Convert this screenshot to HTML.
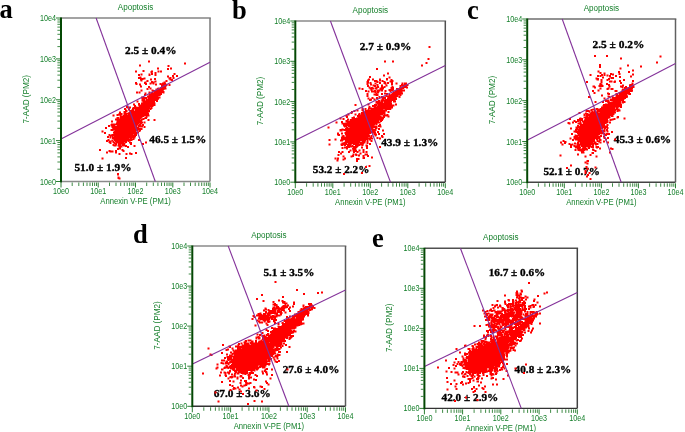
<!DOCTYPE html>
<html><head><meta charset="utf-8"><style>
html,body{margin:0;padding:0;background:#fff;width:685px;height:432px;overflow:hidden}
svg{display:block}
svg{will-change:transform;filter:blur(0.3px)}
.tl{font-family:"Liberation Sans",sans-serif;font-size:9px;fill:#147f2a}
.tt{font-family:"Liberation Sans",sans-serif;font-size:8.5px;fill:#147f2a}
.pc{font-family:"Liberation Serif",serif;font-size:11px;font-weight:bold;fill:#000;stroke:#000;stroke-width:0.35px}
.lt{font-family:"Liberation Serif",serif;font-size:26.5px;font-weight:bold;fill:#000}
</style></head><body>
<svg width="685" height="432" viewBox="0 0 685 432">
<path d="M61 18H210.8" fill="none" stroke="#858585" stroke-width="1.6"/>
<path d="M210 18V181.5" fill="none" stroke="#7a7a7a" stroke-width="1.5"/>
<path d="M61 181.5H210" fill="none" stroke="#8a8a8a" stroke-width="1.4"/>
<text x="125" y="54.1" class="pc" textLength="51.5" lengthAdjust="spacingAndGlyphs">2.5 ± 0.4%</text>
<text x="149.3" y="143.2" class="pc" textLength="57" lengthAdjust="spacingAndGlyphs">46.5 ± 1.5%</text>
<text x="74.4" y="170.7" class="pc" textLength="57.1" lengthAdjust="spacingAndGlyphs">51.0 ± 1.9%</text>
<path fill="#ff0000" d="M118.5 136.5h2v2h-2zM126 120h2v2h-2zM128.5 126.5h2v2h-2zM127.5 126.5h2v2h-2zM119.5 123h2v2h-2zM130 130.5h2v2h-2zM128 124.5h2v2h-2zM128 133.5h2v2h-2zM128.5 130.5h2v2h-2zM130 129h2v2h-2zM136 109.5h2v2h-2zM121.5 133.5h2v2h-2zM124.5 122.5h2v2h-2zM133.5 118.5h2v2h-2zM117.5 122.5h2v2h-2zM126 127.5h2v2h-2zM121 137.5h2v2h-2zM124.5 134.5h2v2h-2zM127 116.5h2v2h-2zM114.5 129.5h2v2h-2zM119.5 121h2v2h-2zM117 121.5h2v2h-2zM123 125.5h2v2h-2zM121 129.5h2v2h-2zM132.5 118.5h2v2h-2zM121.5 137h2v2h-2zM133.5 123.5h2v2h-2zM122.5 128.5h2v2h-2zM126 121.5h2v2h-2zM124.5 137.5h2v2h-2zM124.5 138.5h2v2h-2zM118.5 123.5h2v2h-2zM126 122.5h2v2h-2zM126.5 128.5h2v2h-2zM125.5 129.5h2v2h-2zM127.5 125.5h2v2h-2zM120 139.5h2v2h-2zM123 133.5h2v2h-2zM121 123h2v2h-2zM115.5 126.5h2v2h-2zM126.5 116h2v2h-2zM121 126.5h2v2h-2zM124 120h2v2h-2zM136 129h2v2h-2zM125.5 135h2v2h-2zM125 145h2v2h-2zM130 133h2v2h-2zM131 135h2v2h-2zM134 118h2v2h-2zM121.5 124.5h2v2h-2zM134 130.5h2v2h-2zM124 138h2v2h-2zM118.5 125h2v2h-2zM119.5 122.5h2v2h-2zM130 131.5h2v2h-2zM128.5 123.5h2v2h-2zM131 114.5h2v2h-2zM119.5 128.5h2v2h-2zM122.5 118.5h2v2h-2zM118 130.5h2v2h-2zM114 132h2v2h-2zM124.5 130h2v2h-2zM132.5 136h2v2h-2zM130 127h2v2h-2zM120.5 136h2v2h-2zM130.5 117h2v2h-2zM121.5 138h2v2h-2zM129 124.5h2v2h-2zM122.5 125h2v2h-2zM120 129.5h2v2h-2zM128 112.5h2v2h-2zM123.5 124.5h2v2h-2zM121.5 127.5h2v2h-2zM128 124h2v2h-2zM123.5 122h2v2h-2zM126.5 135.5h2v2h-2zM119.5 135h2v2h-2zM128 125h2v2h-2zM122.5 127.5h2v2h-2zM114.5 144.5h2v2h-2zM130.5 112h2v2h-2zM125 125h2v2h-2zM127 125.5h2v2h-2zM115.5 139h2v2h-2zM125 122h2v2h-2zM122.5 123h2v2h-2zM130.5 126.5h2v2h-2zM116.5 132.5h2v2h-2zM126.5 135h2v2h-2zM130 122.5h2v2h-2zM125 120.5h2v2h-2zM119 127.5h2v2h-2zM124.5 119.5h2v2h-2zM126 127h2v2h-2zM131.5 122h2v2h-2zM125.5 128h2v2h-2zM127.5 129.5h2v2h-2zM124.5 128h2v2h-2zM130 127.5h2v2h-2zM121.5 122.5h2v2h-2zM131.5 120.5h2v2h-2zM125.5 125.5h2v2h-2zM125.5 129h2v2h-2zM129.5 117.5h2v2h-2zM121.5 128h2v2h-2zM122 125.5h2v2h-2zM127 128.5h2v2h-2zM124 125.5h2v2h-2zM124.5 131.5h2v2h-2zM122.5 132.5h2v2h-2zM123 131.5h2v2h-2zM129 114.5h2v2h-2zM134.5 120.5h2v2h-2zM117 122.5h2v2h-2zM132.5 128h2v2h-2zM128.5 123h2v2h-2zM130.5 127h2v2h-2zM125.5 125h2v2h-2zM120.5 119.5h2v2h-2zM123.5 119h2v2h-2zM119.5 135.5h2v2h-2zM115.5 128h2v2h-2zM124 122.5h2v2h-2zM123 130.5h2v2h-2zM125.5 132h2v2h-2zM116.5 131h2v2h-2zM130 132.5h2v2h-2zM123.5 129.5h2v2h-2zM124.5 126.5h2v2h-2zM128 129.5h2v2h-2zM121.5 136.5h2v2h-2zM138 115h2v2h-2zM131 125h2v2h-2zM131 133h2v2h-2zM125 128.5h2v2h-2zM120.5 128h2v2h-2zM127 130h2v2h-2zM120.5 127.5h2v2h-2zM125.5 124.5h2v2h-2zM131 126h2v2h-2zM126.5 129.5h2v2h-2zM125 121h2v2h-2zM131.5 121.5h2v2h-2zM121.5 125.5h2v2h-2zM122 127h2v2h-2zM132 120.5h2v2h-2zM124.5 125.5h2v2h-2zM121.5 129h2v2h-2zM114 137h2v2h-2zM119 126h2v2h-2zM126 124.5h2v2h-2zM127.5 127.5h2v2h-2zM133 117h2v2h-2zM121 118h2v2h-2zM127 131.5h2v2h-2zM131 122h2v2h-2zM112.5 126.5h2v2h-2zM136.5 128.5h2v2h-2zM118.5 130.5h2v2h-2zM118.5 131h2v2h-2zM129.5 128h2v2h-2zM131 118.5h2v2h-2zM128 125.5h2v2h-2zM126 134.5h2v2h-2zM124 126.5h2v2h-2zM120.5 135h2v2h-2zM127.5 122.5h2v2h-2zM114.5 135h2v2h-2zM123.5 126h2v2h-2zM128.5 116h2v2h-2zM118.5 126h2v2h-2zM129 126h2v2h-2zM129.5 125h2v2h-2zM125 132h2v2h-2zM123.5 123h2v2h-2zM127.5 131h2v2h-2zM128 128.5h2v2h-2zM123 136.5h2v2h-2zM135 120h2v2h-2zM132.5 111h2v2h-2zM129.5 126.5h2v2h-2zM131.5 125.5h2v2h-2zM131.5 126h2v2h-2zM117 130.5h2v2h-2zM137.5 117h2v2h-2zM117 117h2v2h-2zM125.5 119h2v2h-2zM118.5 129h2v2h-2zM128 131h2v2h-2zM127 117.5h2v2h-2zM125.5 123.5h2v2h-2zM109.5 140.5h2v2h-2zM128.5 122.5h2v2h-2zM126 125.5h2v2h-2zM113.5 126.5h2v2h-2zM132.5 119.5h2v2h-2zM123.5 132h2v2h-2zM120.5 127h2v2h-2zM121.5 126h2v2h-2zM126.5 128h2v2h-2zM122.5 131.5h2v2h-2zM120 115.5h2v2h-2zM118.5 123h2v2h-2zM128.5 130h2v2h-2zM125 123h2v2h-2zM120.5 121.5h2v2h-2zM121.5 123.5h2v2h-2zM120 132.5h2v2h-2zM135.5 121h2v2h-2zM126.5 137.5h2v2h-2zM132.5 123.5h2v2h-2zM121 124h2v2h-2zM118.5 132h2v2h-2zM122 132h2v2h-2zM125.5 117h2v2h-2zM122.5 132h2v2h-2zM125 140h2v2h-2zM122 139.5h2v2h-2zM128.5 125h2v2h-2zM123 129h2v2h-2zM123 123h2v2h-2zM127 115h2v2h-2zM126.5 121.5h2v2h-2zM117 140.5h2v2h-2zM118 125.5h2v2h-2zM126 128h2v2h-2zM121.5 123h2v2h-2zM119.5 137.5h2v2h-2zM117.5 133.5h2v2h-2zM131 133.5h2v2h-2zM122 130.5h2v2h-2zM125.5 116h2v2h-2zM124 132.5h2v2h-2zM119.5 133.5h2v2h-2zM126.5 129h2v2h-2zM131 130h2v2h-2zM127.5 129h2v2h-2zM117.5 140h2v2h-2zM123.5 111h2v2h-2zM124 129h2v2h-2zM117.5 139h2v2h-2zM115.5 132.5h2v2h-2zM123.5 130h2v2h-2zM126 139h2v2h-2zM118 113.5h2v2h-2zM134 124.5h2v2h-2zM127.5 128h2v2h-2zM135 134h2v2h-2zM116 133.5h2v2h-2zM119 139h2v2h-2zM118.5 135.5h2v2h-2zM120.5 145.5h2v2h-2zM128 129h2v2h-2zM121 136h2v2h-2zM125 126.5h2v2h-2zM118 133h2v2h-2zM128.5 116.5h2v2h-2zM119 132h2v2h-2zM121.5 131h2v2h-2zM134 111.5h2v2h-2zM115.5 130.5h2v2h-2zM125 122.5h2v2h-2zM123.5 115h2v2h-2zM135.5 126h2v2h-2zM121.5 120.5h2v2h-2zM121 135.5h2v2h-2zM123 123.5h2v2h-2zM125.5 131.5h2v2h-2zM121.5 121.5h2v2h-2zM120 126h2v2h-2zM132 108h2v2h-2zM125 135h2v2h-2zM117 134.5h2v2h-2zM122.5 130.5h2v2h-2zM118 131h2v2h-2zM117.5 134.5h2v2h-2zM130 121h2v2h-2zM123.5 127h2v2h-2zM121.5 135.5h2v2h-2zM125.5 112.5h2v2h-2zM124.5 138h2v2h-2zM134 123h2v2h-2zM124 127h2v2h-2zM121 131h2v2h-2zM118.5 132.5h2v2h-2zM127.5 117.5h2v2h-2zM123.5 131.5h2v2h-2zM116 135.5h2v2h-2zM122.5 131h2v2h-2zM125 131.5h2v2h-2zM127 125h2v2h-2zM125.5 119.5h2v2h-2zM123 127.5h2v2h-2zM131 122.5h2v2h-2zM124 130.5h2v2h-2zM113.5 137h2v2h-2zM117.5 140.5h2v2h-2zM124 116h2v2h-2zM117.5 137.5h2v2h-2zM126.5 124h2v2h-2zM128 132h2v2h-2zM124.5 130.5h2v2h-2zM120 135.5h2v2h-2zM131 124.5h2v2h-2zM130 134h2v2h-2zM133.5 111.5h2v2h-2zM127 123.5h2v2h-2zM126 125h2v2h-2zM126.5 122.5h2v2h-2zM115 138h2v2h-2zM123 118h2v2h-2zM126.5 117h2v2h-2zM126.5 133h2v2h-2zM123 131h2v2h-2zM118 142.5h2v2h-2zM126.5 130h2v2h-2zM122.5 129h2v2h-2zM123 125h2v2h-2zM130.5 125h2v2h-2zM130.5 132.5h2v2h-2zM123 129.5h2v2h-2zM133.5 126.5h2v2h-2zM128.5 119h2v2h-2zM125 121.5h2v2h-2zM120 133h2v2h-2zM120 122h2v2h-2zM129.5 126h2v2h-2zM114.5 131.5h2v2h-2zM133.5 113h2v2h-2zM128 120.5h2v2h-2zM122.5 129.5h2v2h-2zM133 121h2v2h-2zM125.5 110h2v2h-2zM118 132.5h2v2h-2zM118.5 137h2v2h-2zM118 127.5h2v2h-2zM134.5 123.5h2v2h-2zM123.5 133h2v2h-2zM128.5 120.5h2v2h-2zM127.5 125h2v2h-2zM119 127h2v2h-2zM114 128.5h2v2h-2zM129 129.5h2v2h-2zM123 139.5h2v2h-2zM129 125h2v2h-2zM117 138.5h2v2h-2zM121 122.5h2v2h-2zM132 128h2v2h-2zM121 128h2v2h-2zM126.5 125.5h2v2h-2zM111.5 134h2v2h-2zM120 121h2v2h-2zM129 131h2v2h-2zM114 139h2v2h-2zM130 126.5h2v2h-2zM121.5 127h2v2h-2zM121 134.5h2v2h-2zM132 114.5h2v2h-2zM121.5 128.5h2v2h-2zM130 124h2v2h-2zM126.5 120h2v2h-2zM130 115h2v2h-2zM130.5 139h2v2h-2zM112.5 141h2v2h-2zM134 119h2v2h-2zM131.5 121h2v2h-2zM120.5 130h2v2h-2zM125.5 122h2v2h-2zM124.5 133h2v2h-2zM135 112h2v2h-2zM122 136.5h2v2h-2zM126 136h2v2h-2zM127 115.5h2v2h-2zM125 127.5h2v2h-2zM126 133h2v2h-2zM130 118h2v2h-2zM122 128h2v2h-2zM122 126h2v2h-2zM124 127.5h2v2h-2zM128.5 124h2v2h-2zM117 128h2v2h-2zM134.5 116h2v2h-2zM123 140h2v2h-2zM121.5 129.5h2v2h-2zM123 124h2v2h-2zM119 124h2v2h-2zM119.5 132h2v2h-2zM123 128.5h2v2h-2zM127 130.5h2v2h-2zM128.5 135.5h2v2h-2zM127 126.5h2v2h-2zM114.5 126h2v2h-2zM133 123.5h2v2h-2zM123.5 125.5h2v2h-2zM117.5 136.5h2v2h-2zM121.5 130h2v2h-2zM131 124h2v2h-2zM135 119.5h2v2h-2zM123.5 116h2v2h-2zM116.5 139.5h2v2h-2zM125.5 121.5h2v2h-2zM128.5 129h2v2h-2zM129.5 124h2v2h-2zM137.5 119.5h2v2h-2zM124.5 118h2v2h-2zM139.5 120h2v2h-2zM119 120h2v2h-2zM132.5 129.5h2v2h-2zM130.5 123.5h2v2h-2zM129 127h2v2h-2zM120.5 137h2v2h-2zM118.5 135h2v2h-2zM126 131.5h2v2h-2zM127.5 124h2v2h-2zM118 129.5h2v2h-2zM120.5 118.5h2v2h-2zM113 131.5h2v2h-2zM125 131h2v2h-2zM119 140.5h2v2h-2zM130 125h2v2h-2zM127 122.5h2v2h-2zM122.5 133.5h2v2h-2zM120 131h2v2h-2zM131 123h2v2h-2zM111.5 129h2v2h-2zM122 144h2v2h-2zM129 141.5h2v2h-2zM129 118h2v2h-2zM114 136h2v2h-2zM125.5 120h2v2h-2zM125.5 117.5h2v2h-2zM122.5 130h2v2h-2zM120 123.5h2v2h-2zM129.5 119.5h2v2h-2zM124 129.5h2v2h-2zM120 127.5h2v2h-2zM128 128h2v2h-2zM117 127h2v2h-2zM120.5 134h2v2h-2zM124 126h2v2h-2zM125 141h2v2h-2zM134.5 111.5h2v2h-2zM127.5 135.5h2v2h-2zM122.5 141.5h2v2h-2zM121.5 125h2v2h-2zM135.5 118.5h2v2h-2zM132 121.5h2v2h-2zM129 122h2v2h-2zM124 119.5h2v2h-2zM117.5 133h2v2h-2zM123 132h2v2h-2zM121 123.5h2v2h-2zM120.5 136.5h2v2h-2zM133.5 127.5h2v2h-2zM135.5 114h2v2h-2zM123.5 128.5h2v2h-2zM131.5 123.5h2v2h-2zM127.5 132h2v2h-2zM125 138h2v2h-2zM122.5 135h2v2h-2zM131.5 124.5h2v2h-2zM117.5 135.5h2v2h-2zM138 120.5h2v2h-2zM127.5 132.5h2v2h-2zM130 123.5h2v2h-2zM120 127h2v2h-2zM128 133h2v2h-2zM126.5 131h2v2h-2zM116 137h2v2h-2zM122.5 134h2v2h-2zM127.5 137h2v2h-2zM126 118h2v2h-2zM123 127h2v2h-2zM140 122h2v2h-2zM128.5 132.5h2v2h-2zM123 144h2v2h-2zM131.5 127.5h2v2h-2zM130 120.5h2v2h-2zM121 128.5h2v2h-2zM118 137.5h2v2h-2zM135 115h2v2h-2zM119 139.5h2v2h-2zM122.5 136h2v2h-2zM121 120h2v2h-2zM132 119h2v2h-2zM124.5 129.5h2v2h-2zM127 132.5h2v2h-2zM130 125.5h2v2h-2zM120 122.5h2v2h-2zM114 123.5h2v2h-2zM129.5 127h2v2h-2zM125 123.5h2v2h-2zM121.5 132.5h2v2h-2zM131.5 130.5h2v2h-2zM116.5 139h2v2h-2zM123.5 113.5h2v2h-2zM116.5 138.5h2v2h-2zM131.5 113h2v2h-2zM125.5 130.5h2v2h-2zM119.5 127.5h2v2h-2zM116 141.5h2v2h-2zM125 114.5h2v2h-2zM123.5 136.5h2v2h-2zM131.5 123h2v2h-2zM119.5 126h2v2h-2zM128.5 133.5h2v2h-2zM132.5 114h2v2h-2zM132.5 132h2v2h-2zM121 122h2v2h-2zM127 129h2v2h-2zM134.5 128h2v2h-2zM117 136h2v2h-2zM124.5 121h2v2h-2zM138.5 120h2v2h-2zM128 118.5h2v2h-2zM122 118.5h2v2h-2zM129.5 114h2v2h-2zM126.5 124.5h2v2h-2zM124 134h2v2h-2zM131.5 117.5h2v2h-2zM120.5 130.5h2v2h-2zM122 124.5h2v2h-2zM126 126h2v2h-2zM127 136.5h2v2h-2zM117 128.5h2v2h-2zM129 125.5h2v2h-2zM115 136h2v2h-2zM122.5 118h2v2h-2zM129.5 131.5h2v2h-2zM122.5 117h2v2h-2zM124 133h2v2h-2zM130.5 123h2v2h-2zM128 123h2v2h-2zM116.5 129.5h2v2h-2zM120.5 133.5h2v2h-2zM112 136.5h2v2h-2zM129 120h2v2h-2zM123.5 129h2v2h-2zM120 126.5h2v2h-2zM136.5 100.5h2v2h-2zM120 128.5h2v2h-2zM123 134.5h2v2h-2zM127.5 119.5h2v2h-2zM112 123.5h2v2h-2zM130 113.5h2v2h-2zM127 120h2v2h-2zM116.5 133h2v2h-2zM128.5 115h2v2h-2zM122 116.5h2v2h-2zM119 130h2v2h-2zM124.5 127.5h2v2h-2zM128 126.5h2v2h-2zM119.5 130.5h2v2h-2zM119 129.5h2v2h-2zM127.5 122h2v2h-2zM130 119.5h2v2h-2zM121.5 130.5h2v2h-2zM126 118.5h2v2h-2zM115 135.5h2v2h-2zM120 130.5h2v2h-2zM131.5 124h2v2h-2zM131.5 127h2v2h-2zM123.5 128h2v2h-2zM120 116h2v2h-2zM121 138.5h2v2h-2zM122.5 135.5h2v2h-2zM134.5 131.5h2v2h-2zM124 124h2v2h-2zM131 131.5h2v2h-2zM125.5 126h2v2h-2zM136 123.5h2v2h-2zM126.5 115h2v2h-2zM125.5 118h2v2h-2zM130.5 121h2v2h-2zM116.5 128h2v2h-2zM126 135h2v2h-2zM127 135h2v2h-2zM118 136.5h2v2h-2zM116 130.5h2v2h-2zM113.5 144.5h2v2h-2zM124.5 125h2v2h-2zM129 121.5h2v2h-2zM117.5 134h2v2h-2zM130.5 130h2v2h-2zM127 124.5h2v2h-2zM124.5 134h2v2h-2zM122 122.5h2v2h-2zM124 131.5h2v2h-2zM117 124h2v2h-2zM119 142.5h2v2h-2zM115 140.5h2v2h-2zM128.5 127h2v2h-2zM124 125h2v2h-2zM120.5 131.5h2v2h-2zM119.5 134.5h2v2h-2zM133.5 114.5h2v2h-2zM109.5 142h2v2h-2zM130.5 122h2v2h-2zM122 125h2v2h-2zM125 126h2v2h-2zM132.5 138h2v2h-2zM124.5 124.5h2v2h-2zM121 136.5h2v2h-2zM131 119.5h2v2h-2zM131 130.5h2v2h-2zM122 129.5h2v2h-2zM121 130.5h2v2h-2zM123 124.5h2v2h-2zM127.5 135h2v2h-2zM126.5 134h2v2h-2zM131 123.5h2v2h-2zM124.5 116.5h2v2h-2zM129 121h2v2h-2zM122 133.5h2v2h-2zM130.5 131h2v2h-2zM136 117.5h2v2h-2zM135 131.5h2v2h-2zM125 129h2v2h-2zM116.5 124.5h2v2h-2zM125.5 126.5h2v2h-2zM131 116h2v2h-2zM127.5 123h2v2h-2zM126 119.5h2v2h-2zM128.5 127.5h2v2h-2zM115 129h2v2h-2zM133 130.5h2v2h-2zM118.5 129.5h2v2h-2zM128.5 128h2v2h-2zM124.5 132h2v2h-2zM116 140h2v2h-2zM119.5 138h2v2h-2zM131.5 129.5h2v2h-2zM124 123h2v2h-2zM126.5 106.5h2v2h-2zM123.5 130.5h2v2h-2zM120 137h2v2h-2zM119.5 140h2v2h-2zM129.5 123.5h2v2h-2zM113.5 126h2v2h-2zM126.5 116.5h2v2h-2zM124.5 133.5h2v2h-2zM119.5 132.5h2v2h-2zM127 129.5h2v2h-2zM129 135.5h2v2h-2zM127 127.5h2v2h-2zM134 119.5h2v2h-2zM129.5 120h2v2h-2zM133 115h2v2h-2zM120 135h2v2h-2zM126.5 118h2v2h-2zM130 137h2v2h-2zM129 120.5h2v2h-2zM119.5 116.5h2v2h-2zM130.5 124h2v2h-2zM128 139h2v2h-2zM140.5 114h2v2h-2zM120.5 132.5h2v2h-2zM116 136.5h2v2h-2zM118.5 122h2v2h-2zM120 125h2v2h-2zM122.5 126.5h2v2h-2zM126 123h2v2h-2zM123 116h2v2h-2zM120.5 113h2v2h-2zM122 135.5h2v2h-2zM129.5 135h2v2h-2zM119.5 117.5h2v2h-2zM132 119.5h2v2h-2zM120 142.5h2v2h-2zM124 121h2v2h-2zM129.5 116h2v2h-2zM134.5 122.5h2v2h-2zM132.5 120h2v2h-2zM120 119h2v2h-2zM116 123h2v2h-2zM133.5 129.5h2v2h-2zM132 126.5h2v2h-2zM116 134h2v2h-2zM132.5 122.5h2v2h-2zM122 123h2v2h-2zM120.5 125h2v2h-2zM123.5 124h2v2h-2zM118 134h2v2h-2zM116.5 140h2v2h-2zM136.5 123h2v2h-2zM128 117.5h2v2h-2zM113.5 133h2v2h-2zM125 127h2v2h-2zM127 132h2v2h-2zM125 135.5h2v2h-2zM127.5 137.5h2v2h-2zM122 120.5h2v2h-2zM124.5 120.5h2v2h-2zM126 138.5h2v2h-2zM111.5 126h2v2h-2zM132.5 127.5h2v2h-2zM120.5 119h2v2h-2zM127.5 118h2v2h-2zM113.5 135h2v2h-2zM122.5 119h2v2h-2zM119.5 138.5h2v2h-2zM132 122h2v2h-2zM128.5 139h2v2h-2zM123 130h2v2h-2zM124 108h2v2h-2zM121.5 119h2v2h-2zM119.5 127h2v2h-2zM117.5 121.5h2v2h-2zM119 133.5h2v2h-2zM126.5 126.5h2v2h-2zM129 124h2v2h-2zM127.5 130.5h2v2h-2zM119 122h2v2h-2zM127.5 131.5h2v2h-2zM130.5 118.5h2v2h-2zM124.5 126h2v2h-2zM114 128h2v2h-2zM122 135h2v2h-2zM121 132h2v2h-2zM129.5 121h2v2h-2zM120 134h2v2h-2zM129.5 122.5h2v2h-2zM126 128.5h2v2h-2zM119 138.5h2v2h-2zM130.5 127.5h2v2h-2zM116 122.5h2v2h-2zM128.5 128.5h2v2h-2zM133.5 121.5h2v2h-2zM119.5 142h2v2h-2zM138.5 128.5h2v2h-2zM129 116.5h2v2h-2zM126.5 122h2v2h-2zM129.5 132.5h2v2h-2zM121 134h2v2h-2zM117.5 127.5h2v2h-2zM129 126.5h2v2h-2zM128 114h2v2h-2zM123.5 125h2v2h-2zM125.5 120.5h2v2h-2zM129.5 122h2v2h-2zM126.5 119.5h2v2h-2zM131 116.5h2v2h-2zM123.5 136h2v2h-2zM131 134h2v2h-2zM126 126.5h2v2h-2zM122 134.5h2v2h-2zM122.5 133h2v2h-2zM119 130.5h2v2h-2zM124.5 123h2v2h-2zM123.5 123.5h2v2h-2zM142.5 107h2v2h-2zM120.5 141h2v2h-2zM131 117h2v2h-2zM123.5 118.5h2v2h-2zM135.5 122.5h2v2h-2zM126 115h2v2h-2zM128.5 126h2v2h-2zM121 132.5h2v2h-2zM121.5 142h2v2h-2zM115.5 135.5h2v2h-2zM115 130.5h2v2h-2zM127 118h2v2h-2zM129.5 115.5h2v2h-2zM124.5 119h2v2h-2zM124 132h2v2h-2zM132 114h2v2h-2zM127 131h2v2h-2zM117.5 125.5h2v2h-2zM121.5 126.5h2v2h-2zM112 128.5h2v2h-2zM130 118.5h2v2h-2zM128 123.5h2v2h-2zM127 121h2v2h-2zM125.5 122.5h2v2h-2zM133 124h2v2h-2zM119.5 129h2v2h-2zM116.5 138h2v2h-2zM129.5 118h2v2h-2zM128 130h2v2h-2zM125 109.5h2v2h-2zM126 131h2v2h-2zM123 136h2v2h-2zM122 134h2v2h-2zM118 135.5h2v2h-2zM121 125.5h2v2h-2zM118.5 141.5h2v2h-2zM120 121.5h2v2h-2zM122.5 126h2v2h-2zM122.5 116h2v2h-2zM118 124h2v2h-2zM117.5 132.5h2v2h-2zM135 117.5h2v2h-2zM125.5 127.5h2v2h-2zM123 122h2v2h-2zM122 138.5h2v2h-2zM133 114.5h2v2h-2zM115 140h2v2h-2zM130.5 118h2v2h-2zM115.5 139.5h2v2h-2zM132 120h2v2h-2zM129.5 124.5h2v2h-2zM121 137h2v2h-2zM120 118.5h2v2h-2zM123.5 121h2v2h-2zM122 131.5h2v2h-2zM127.5 113h2v2h-2zM125.5 127h2v2h-2zM124.5 131h2v2h-2zM137 119.5h2v2h-2zM125 139.5h2v2h-2zM129.5 129.5h2v2h-2zM129 123h2v2h-2zM130 124.5h2v2h-2zM118 141.5h2v2h-2zM118 142h2v2h-2zM125 129.5h2v2h-2zM120.5 129h2v2h-2zM116 128h2v2h-2zM125 130h2v2h-2zM124 135.5h2v2h-2zM121.5 141.5h2v2h-2zM131.5 118h2v2h-2zM120.5 126.5h2v2h-2zM125 128h2v2h-2zM126 133.5h2v2h-2zM122 137h2v2h-2zM127 119.5h2v2h-2zM132 118.5h2v2h-2zM123.5 126.5h2v2h-2zM133.5 134.5h2v2h-2zM119.5 141h2v2h-2zM122.5 138h2v2h-2zM126.5 131.5h2v2h-2zM123.5 120.5h2v2h-2zM121 124.5h2v2h-2zM123 135.5h2v2h-2zM119 126.5h2v2h-2zM112.5 127.5h2v2h-2zM140.5 128h2v2h-2zM127 123h2v2h-2zM113.5 142h2v2h-2zM124.5 117.5h2v2h-2zM141.5 124h2v2h-2zM115 151.5h2v2h-2zM107 136h2v2h-2zM116 127.5h2v2h-2zM130.5 153h2v2h-2zM111.5 139.5h2v2h-2zM145 141.5h2v2h-2zM119 119h2v2h-2zM119.5 114h2v2h-2zM124 118h2v2h-2zM115 133.5h2v2h-2zM119 111.5h2v2h-2zM105 127h2v2h-2zM127 146h2v2h-2zM123.5 117.5h2v2h-2zM143 110.5h2v2h-2zM115 150h2v2h-2zM117 148h2v2h-2zM115 118.5h2v2h-2zM118.5 131.5h2v2h-2zM132.5 131.5h2v2h-2zM118 119.5h2v2h-2zM120.5 133h2v2h-2zM115 143.5h2v2h-2zM111 134.5h2v2h-2zM114 131h2v2h-2zM121 129h2v2h-2zM122.5 150h2v2h-2zM108.5 134h2v2h-2zM116 132.5h2v2h-2zM115 131h2v2h-2zM140.5 116h2v2h-2zM139 129h2v2h-2zM131.5 109h2v2h-2zM104 132h2v2h-2zM109.5 135h2v2h-2zM118.5 145h2v2h-2zM123 144.5h2v2h-2zM109.5 136.5h2v2h-2zM135 113h2v2h-2zM110.5 124h2v2h-2zM123 126.5h2v2h-2zM122.5 123.5h2v2h-2zM137.5 119h2v2h-2zM112.5 127h2v2h-2zM118.5 153h2v2h-2zM111.5 150.5h2v2h-2zM135 152h2v2h-2zM129 152.5h2v2h-2zM120 119.5h2v2h-2zM126 106h2v2h-2zM129.5 114.5h2v2h-2zM122.5 115h2v2h-2zM131 120.5h2v2h-2zM121.5 149h2v2h-2zM99 149h2v2h-2zM133.5 136.5h2v2h-2zM118 127h2v2h-2zM116.5 117h2v2h-2zM127.5 140h2v2h-2zM119 131.5h2v2h-2zM121 126h2v2h-2zM123 117.5h2v2h-2zM111 120.5h2v2h-2zM132 136.5h2v2h-2zM110.5 124.5h2v2h-2zM126.5 120.5h2v2h-2zM129.5 131h2v2h-2zM134.5 106.5h2v2h-2zM119 147.5h2v2h-2zM124.5 115h2v2h-2zM126.5 126h2v2h-2zM143.5 126h2v2h-2zM112.5 144h2v2h-2zM138.5 130h2v2h-2zM113.5 138h2v2h-2zM125.5 153h2v2h-2zM133.5 122.5h2v2h-2zM109.5 150.5h2v2h-2zM128 136.5h2v2h-2zM106 151.5h2v2h-2zM129 106.5h2v2h-2zM141 118.5h2v2h-2zM128 126h2v2h-2zM134 135h2v2h-2zM116.5 114h2v2h-2zM113 125.5h2v2h-2zM122 141.5h2v2h-2zM128.5 135h2v2h-2zM122 143h2v2h-2zM118.5 147h2v2h-2zM107.5 139h2v2h-2zM108.5 150h2v2h-2zM121.5 139h2v2h-2zM129 129h2v2h-2zM138 139h2v2h-2zM133.5 130.5h2v2h-2zM130 136.5h2v2h-2zM120.5 116h2v2h-2zM116.5 120.5h2v2h-2zM129.5 133.5h2v2h-2zM118 133.5h2v2h-2zM119 118.5h2v2h-2zM124 119h2v2h-2zM126 138h2v2h-2zM125 157h2v2h-2zM134.5 125h2v2h-2zM108.5 141h2v2h-2zM139.5 121h2v2h-2zM119 120.5h2v2h-2zM112.5 125.5h2v2h-2zM134 130h2v2h-2zM101.5 157.5h2v2h-2zM125 117h2v2h-2zM101.5 130.5h2v2h-2zM153.5 119h2v2h-2zM139 125.5h2v2h-2zM121.5 135h2v2h-2zM116 130h2v2h-2zM119 140h2v2h-2zM137 131.5h2v2h-2zM130 142h2v2h-2zM129 112.5h2v2h-2zM112 137h2v2h-2zM124 111.5h2v2h-2zM130 143h2v2h-2zM111 123.5h2v2h-2zM130.5 115h2v2h-2zM125.5 121h2v2h-2zM123.5 111.5h2v2h-2zM128 108.5h2v2h-2zM115 143h2v2h-2zM133.5 145h2v2h-2zM142 143h2v2h-2zM118.5 136h2v2h-2zM117.5 131h2v2h-2zM114.5 132.5h2v2h-2zM133 121.5h2v2h-2zM119.5 143.5h2v2h-2zM112.5 114.5h2v2h-2zM132.5 120.5h2v2h-2zM131.5 130h2v2h-2zM136.5 120h2v2h-2zM108 125h2v2h-2zM136 127h2v2h-2zM106 140h2v2h-2zM117.5 144.5h2v2h-2zM110.5 129h2v2h-2zM123.5 142.5h2v2h-2zM150.5 104.5h2v2h-2zM141 125.5h2v2h-2zM141 113.5h2v2h-2zM140.5 114.5h2v2h-2zM161.5 84h2v2h-2zM135.5 111.5h2v2h-2zM143 111.5h2v2h-2zM132.5 110.5h2v2h-2zM132 109h2v2h-2zM134 118.5h2v2h-2zM140.5 113h2v2h-2zM143.5 107.5h2v2h-2zM129 118.5h2v2h-2zM136.5 121.5h2v2h-2zM147.5 114.5h2v2h-2zM142 113.5h2v2h-2zM124 121.5h2v2h-2zM130.5 124.5h2v2h-2zM142 96.5h2v2h-2zM156.5 95h2v2h-2zM125.5 128.5h2v2h-2zM147 113h2v2h-2zM132 123.5h2v2h-2zM138 116.5h2v2h-2zM143 114.5h2v2h-2zM159.5 90h2v2h-2zM148.5 105h2v2h-2zM139 113h2v2h-2zM129 123.5h2v2h-2zM129.5 125.5h2v2h-2zM137.5 114.5h2v2h-2zM136.5 112h2v2h-2zM136 111h2v2h-2zM132.5 122h2v2h-2zM136.5 117.5h2v2h-2zM160 87.5h2v2h-2zM155.5 90h2v2h-2zM126 122h2v2h-2zM141 114h2v2h-2zM138 109h2v2h-2zM135.5 109h2v2h-2zM147.5 103.5h2v2h-2zM121 121h2v2h-2zM145.5 110h2v2h-2zM123 120.5h2v2h-2zM157 91.5h2v2h-2zM163 87.5h2v2h-2zM146 99.5h2v2h-2zM141 103h2v2h-2zM157 93.5h2v2h-2zM152.5 90h2v2h-2zM131.5 117h2v2h-2zM135.5 106.5h2v2h-2zM144.5 110.5h2v2h-2zM136 115.5h2v2h-2zM159 93.5h2v2h-2zM130.5 115.5h2v2h-2zM131 126.5h2v2h-2zM155 97h2v2h-2zM133.5 125.5h2v2h-2zM143.5 106h2v2h-2zM136.5 119.5h2v2h-2zM155.5 91h2v2h-2zM153.5 102.5h2v2h-2zM141 105.5h2v2h-2zM129.5 128.5h2v2h-2zM141.5 109.5h2v2h-2zM134 122.5h2v2h-2zM134.5 126h2v2h-2zM143 102h2v2h-2zM128.5 117.5h2v2h-2zM135.5 115.5h2v2h-2zM137.5 107.5h2v2h-2zM133 118h2v2h-2zM144.5 105h2v2h-2zM164.5 83.5h2v2h-2zM136 121h2v2h-2zM150.5 100h2v2h-2zM126 119h2v2h-2zM156.5 98h2v2h-2zM139 110.5h2v2h-2zM137.5 110.5h2v2h-2zM139 108.5h2v2h-2zM141 111h2v2h-2zM154.5 98.5h2v2h-2zM127.5 116h2v2h-2zM146 100h2v2h-2zM140 113h2v2h-2zM151 102.5h2v2h-2zM149.5 100h2v2h-2zM147 99.5h2v2h-2zM152 100.5h2v2h-2zM134.5 114.5h2v2h-2zM137.5 120h2v2h-2zM142.5 118h2v2h-2zM148 105h2v2h-2zM135.5 121.5h2v2h-2zM139 115h2v2h-2zM127 121.5h2v2h-2zM158 91h2v2h-2zM142 107.5h2v2h-2zM148.5 103.5h2v2h-2zM136 123h2v2h-2zM141 121.5h2v2h-2zM141 114.5h2v2h-2zM143.5 108h2v2h-2zM128 122.5h2v2h-2zM129 130.5h2v2h-2zM145 101.5h2v2h-2zM148.5 103h2v2h-2zM130 110.5h2v2h-2zM145 104.5h2v2h-2zM142.5 100h2v2h-2zM154 98h2v2h-2zM144 107h2v2h-2zM131.5 126.5h2v2h-2zM161 86h2v2h-2zM153 94.5h2v2h-2zM158 94h2v2h-2zM141 105h2v2h-2zM156.5 90.5h2v2h-2zM137.5 113.5h2v2h-2zM139.5 114.5h2v2h-2zM160.5 87h2v2h-2zM133 115.5h2v2h-2zM154.5 95h2v2h-2zM137 119h2v2h-2zM158 93.5h2v2h-2zM137 127h2v2h-2zM135.5 108.5h2v2h-2zM142 108.5h2v2h-2zM126 123.5h2v2h-2zM133.5 115.5h2v2h-2zM154 94.5h2v2h-2zM133.5 124.5h2v2h-2zM162 91h2v2h-2zM146.5 99h2v2h-2zM150 94.5h2v2h-2zM147 103h2v2h-2zM121.5 120h2v2h-2zM144 101.5h2v2h-2zM151 97h2v2h-2zM154 95.5h2v2h-2zM145.5 99h2v2h-2zM132.5 117h2v2h-2zM134 128.5h2v2h-2zM152 95.5h2v2h-2zM146.5 111h2v2h-2zM141 96.5h2v2h-2zM153 97.5h2v2h-2zM161.5 85h2v2h-2zM144.5 100.5h2v2h-2zM150 102.5h2v2h-2zM138 114h2v2h-2zM156.5 88.5h2v2h-2zM131 121h2v2h-2zM127 128h2v2h-2zM150 96.5h2v2h-2zM161.5 88.5h2v2h-2zM157 90.5h2v2h-2zM131 125.5h2v2h-2zM146.5 105.5h2v2h-2zM151.5 97h2v2h-2zM152 98.5h2v2h-2zM127.5 120h2v2h-2zM155 92.5h2v2h-2zM128.5 118.5h2v2h-2zM151.5 92.5h2v2h-2zM157 97.5h2v2h-2zM149 94.5h2v2h-2zM136.5 115h2v2h-2zM143 104.5h2v2h-2zM150.5 95.5h2v2h-2zM156 95h2v2h-2zM148.5 99.5h2v2h-2zM138.5 107h2v2h-2zM134.5 110.5h2v2h-2zM149 96.5h2v2h-2zM143.5 121.5h2v2h-2zM157 88h2v2h-2zM141 112h2v2h-2zM154 92h2v2h-2zM153.5 91h2v2h-2zM146 105h2v2h-2zM136.5 111.5h2v2h-2zM134.5 127.5h2v2h-2zM135 122h2v2h-2zM141 107.5h2v2h-2zM143.5 107h2v2h-2zM150.5 106h2v2h-2zM122.5 120.5h2v2h-2zM149 105h2v2h-2zM133.5 119.5h2v2h-2zM137 118h2v2h-2zM148 110h2v2h-2zM139.5 104.5h2v2h-2zM150 103h2v2h-2zM129 127.5h2v2h-2zM133 119h2v2h-2zM132.5 125h2v2h-2zM138.5 109h2v2h-2zM138.5 111h2v2h-2zM149 100.5h2v2h-2zM161.5 87h2v2h-2zM163.5 82.5h2v2h-2zM137 115.5h2v2h-2zM142.5 112h2v2h-2zM132 115.5h2v2h-2zM151 98h2v2h-2zM153.5 96.5h2v2h-2zM151 95h2v2h-2zM147 103.5h2v2h-2zM144.5 109h2v2h-2zM147.5 99.5h2v2h-2zM150.5 93.5h2v2h-2zM137.5 110h2v2h-2zM143.5 105.5h2v2h-2zM146 103.5h2v2h-2zM137 112.5h2v2h-2zM138 111h2v2h-2zM123 121.5h2v2h-2zM144 106h2v2h-2zM145 101h2v2h-2zM135.5 123.5h2v2h-2zM147.5 106h2v2h-2zM133.5 122h2v2h-2zM132.5 107.5h2v2h-2zM137 117.5h2v2h-2zM132.5 107h2v2h-2zM133 125h2v2h-2zM139 106h2v2h-2zM155.5 93h2v2h-2zM135 125.5h2v2h-2zM146.5 101.5h2v2h-2zM133 111h2v2h-2zM137.5 115.5h2v2h-2zM133.5 125h2v2h-2zM131 127.5h2v2h-2zM142 110h2v2h-2zM144.5 104.5h2v2h-2zM145.5 108h2v2h-2zM145.5 112.5h2v2h-2zM144.5 106.5h2v2h-2zM125 120h2v2h-2zM145.5 100.5h2v2h-2zM158.5 96.5h2v2h-2zM137.5 121h2v2h-2zM141.5 114h2v2h-2zM150 99h2v2h-2zM147 95.5h2v2h-2zM142 102.5h2v2h-2zM138.5 106h2v2h-2zM147.5 110.5h2v2h-2zM161 85h2v2h-2zM156.5 92.5h2v2h-2zM120.5 124h2v2h-2zM132.5 128.5h2v2h-2zM135.5 117h2v2h-2zM139.5 110.5h2v2h-2zM146.5 100h2v2h-2zM149 98.5h2v2h-2zM157 89.5h2v2h-2zM133.5 116.5h2v2h-2zM137.5 111h2v2h-2zM161 91h2v2h-2zM149.5 103h2v2h-2zM133 114h2v2h-2zM138 114.5h2v2h-2zM124 123.5h2v2h-2zM138.5 117.5h2v2h-2zM137.5 122.5h2v2h-2zM158 89h2v2h-2zM150 105.5h2v2h-2zM140 112h2v2h-2zM138 125h2v2h-2zM164 84h2v2h-2zM126.5 123h2v2h-2zM159 89h2v2h-2zM136.5 113h2v2h-2zM151 92h2v2h-2zM131.5 134h2v2h-2zM160 87h2v2h-2zM154.5 91.5h2v2h-2zM141 107h2v2h-2zM128 113.5h2v2h-2zM140.5 105h2v2h-2zM143.5 112h2v2h-2zM145 117h2v2h-2zM132 111.5h2v2h-2zM159.5 92.5h2v2h-2zM131.5 118.5h2v2h-2zM138 103h2v2h-2zM149 94h2v2h-2zM133 120h2v2h-2zM137 115h2v2h-2zM131.5 116.5h2v2h-2zM157 93h2v2h-2zM155 92h2v2h-2zM154.5 99h2v2h-2zM156 89h2v2h-2zM158 90h2v2h-2zM134 107h2v2h-2zM136.5 109h2v2h-2zM144 109h2v2h-2zM143.5 109h2v2h-2zM139 123.5h2v2h-2zM128.5 131.5h2v2h-2zM137.5 116.5h2v2h-2zM140.5 112h2v2h-2zM143 108.5h2v2h-2zM135.5 115h2v2h-2zM132.5 126h2v2h-2zM135.5 112h2v2h-2zM137 116.5h2v2h-2zM163 86h2v2h-2zM150 104h2v2h-2zM152 95h2v2h-2zM163.5 87h2v2h-2zM147 100h2v2h-2zM141.5 107h2v2h-2zM147 98.5h2v2h-2zM135 123.5h2v2h-2zM117 118.5h2v2h-2zM135 114h2v2h-2zM161.5 86.5h2v2h-2zM144.5 106h2v2h-2zM150 104.5h2v2h-2zM128.5 113h2v2h-2zM143.5 110.5h2v2h-2zM145 97h2v2h-2zM145 107.5h2v2h-2zM158.5 94h2v2h-2zM159 91h2v2h-2zM134.5 118.5h2v2h-2zM129.5 110h2v2h-2zM139 112h2v2h-2zM122.5 122h2v2h-2zM160.5 89h2v2h-2zM131 121.5h2v2h-2zM157.5 87.5h2v2h-2zM128.5 125.5h2v2h-2zM138 109.5h2v2h-2zM136.5 118.5h2v2h-2zM142 124h2v2h-2zM142.5 101.5h2v2h-2zM120.5 122.5h2v2h-2zM131 115.5h2v2h-2zM155.5 91.5h2v2h-2zM163 84h2v2h-2zM134 133.5h2v2h-2zM139.5 111.5h2v2h-2zM130.5 133.5h2v2h-2zM123 118.5h2v2h-2zM156 100h2v2h-2zM153 95.5h2v2h-2zM135.5 125h2v2h-2zM138.5 105h2v2h-2zM151.5 105h2v2h-2zM134 105h2v2h-2zM136 122h2v2h-2zM154 90.5h2v2h-2zM136.5 114.5h2v2h-2zM137.5 118h2v2h-2zM153 93h2v2h-2zM135.5 123h2v2h-2zM150.5 99.5h2v2h-2zM129 115.5h2v2h-2zM145.5 107h2v2h-2zM150 93.5h2v2h-2zM134 125h2v2h-2zM138.5 112.5h2v2h-2zM135 126h2v2h-2zM144.5 108.5h2v2h-2zM149.5 97h2v2h-2zM118.5 113.5h2v2h-2zM136.5 110h2v2h-2zM135 116.5h2v2h-2zM144 112h2v2h-2zM163.5 86h2v2h-2zM146 99h2v2h-2zM131 110h2v2h-2zM155.5 95.5h2v2h-2zM161 90h2v2h-2zM134 113h2v2h-2zM142.5 101h2v2h-2zM133.5 121h2v2h-2zM158 91.5h2v2h-2zM140.5 115h2v2h-2zM154 91h2v2h-2zM158 88.5h2v2h-2zM129 119.5h2v2h-2zM152.5 102h2v2h-2zM153.5 99h2v2h-2zM155.5 95h2v2h-2zM151 96h2v2h-2zM148.5 104.5h2v2h-2zM157.5 89h2v2h-2zM129.5 117h2v2h-2zM140.5 111h2v2h-2zM135 112.5h2v2h-2zM125 124h2v2h-2zM140 106h2v2h-2zM125.5 116.5h2v2h-2zM153.5 96h2v2h-2zM134.5 107h2v2h-2zM136 120h2v2h-2zM152 97h2v2h-2zM136 117h2v2h-2zM135 126.5h2v2h-2zM155 99h2v2h-2zM133.5 113.5h2v2h-2zM134 126h2v2h-2zM130.5 125.5h2v2h-2zM148 107.5h2v2h-2zM154.5 90h2v2h-2zM155.5 90.5h2v2h-2zM146 105.5h2v2h-2zM139.5 117h2v2h-2zM164 85.5h2v2h-2zM134.5 112h2v2h-2zM154.5 93.5h2v2h-2zM138 116h2v2h-2zM134 107.5h2v2h-2zM133.5 115h2v2h-2zM160 88h2v2h-2zM127.5 121h2v2h-2zM126.5 130.5h2v2h-2zM141.5 108.5h2v2h-2zM151 100h2v2h-2zM134 117h2v2h-2zM131 128h2v2h-2zM138.5 115.5h2v2h-2zM152 94.5h2v2h-2zM150.5 99h2v2h-2zM130 126h2v2h-2zM162.5 91.5h2v2h-2zM135 132.5h2v2h-2zM139 104.5h2v2h-2zM128.5 122h2v2h-2zM126.5 121h2v2h-2zM138 121h2v2h-2zM133 125.5h2v2h-2zM158 92h2v2h-2zM144 113.5h2v2h-2zM149.5 100.5h2v2h-2zM139.5 115h2v2h-2zM124.5 123.5h2v2h-2zM138.5 120.5h2v2h-2zM130.5 129h2v2h-2zM157 90h2v2h-2zM158.5 89h2v2h-2zM143.5 103.5h2v2h-2zM136.5 116h2v2h-2zM153 95h2v2h-2zM133 127h2v2h-2zM157.5 91h2v2h-2zM153.5 104h2v2h-2zM143.5 105h2v2h-2zM146.5 114h2v2h-2zM147.5 100.5h2v2h-2zM136 119.5h2v2h-2zM151.5 89.5h2v2h-2zM162.5 88h2v2h-2zM164.5 87.5h2v2h-2zM159 90h2v2h-2zM147.5 102h2v2h-2zM139 128h2v2h-2zM163.5 83h2v2h-2zM136 122.5h2v2h-2zM136 108h2v2h-2zM156 89.5h2v2h-2zM158 92.5h2v2h-2zM129 117.5h2v2h-2zM147 109h2v2h-2zM157.5 90h2v2h-2zM144 107.5h2v2h-2zM137.5 107h2v2h-2zM156.5 93h2v2h-2zM134 115h2v2h-2zM142.5 106h2v2h-2zM162 82.5h2v2h-2zM128.5 114.5h2v2h-2zM129 130h2v2h-2zM139.5 106.5h2v2h-2zM153 101h2v2h-2zM139.5 116.5h2v2h-2zM136.5 121h2v2h-2zM142.5 105h2v2h-2zM153.5 97.5h2v2h-2zM128.5 119.5h2v2h-2zM158.5 91.5h2v2h-2zM165.5 84h2v2h-2zM129 119h2v2h-2zM155.5 88.5h2v2h-2zM141.5 97.5h2v2h-2zM136 109h2v2h-2zM142.5 112.5h2v2h-2zM157 96.5h2v2h-2zM138 118.5h2v2h-2zM160 93h2v2h-2zM162 88h2v2h-2zM153 103h2v2h-2zM144 105.5h2v2h-2zM145.5 116h2v2h-2zM138.5 119.5h2v2h-2zM153.5 94h2v2h-2zM159 92h2v2h-2zM145 114h2v2h-2zM150.5 104h2v2h-2zM146.5 107.5h2v2h-2zM162 86.5h2v2h-2zM158.5 92.5h2v2h-2zM142.5 109.5h2v2h-2zM140.5 107h2v2h-2zM158.5 93h2v2h-2zM152.5 94h2v2h-2zM162 88.5h2v2h-2zM144 102h2v2h-2zM148 95.5h2v2h-2zM148 106h2v2h-2zM143 105.5h2v2h-2zM135 121.5h2v2h-2zM141 102.5h2v2h-2zM148.5 104h2v2h-2zM150 97.5h2v2h-2zM131.5 119h2v2h-2zM121 121.5h2v2h-2zM163 86.5h2v2h-2zM140 107.5h2v2h-2zM131.5 120h2v2h-2zM143.5 97h2v2h-2zM137.5 113h2v2h-2zM128 118h2v2h-2zM132 127.5h2v2h-2zM162 87.5h2v2h-2zM140 107h2v2h-2zM130 117.5h2v2h-2zM150.5 103h2v2h-2zM145.5 109h2v2h-2zM134 115.5h2v2h-2zM147 107h2v2h-2zM148.5 96h2v2h-2zM142.5 104h2v2h-2zM153 97h2v2h-2zM127.5 116.5h2v2h-2zM141.5 110.5h2v2h-2zM137.5 108h2v2h-2zM144.5 102h2v2h-2zM150.5 107h2v2h-2zM147 99h2v2h-2zM132.5 123h2v2h-2zM156.5 91h2v2h-2zM135 115.5h2v2h-2zM138 103.5h2v2h-2zM162.5 91h2v2h-2zM147.5 96h2v2h-2zM142 105h2v2h-2zM164 82.5h2v2h-2zM143.5 108.5h2v2h-2zM151.5 104.5h2v2h-2zM156.5 92h2v2h-2zM161.5 83.5h2v2h-2zM131 114h2v2h-2zM151 95.5h2v2h-2zM131 113.5h2v2h-2zM146 106h2v2h-2zM135.5 118h2v2h-2zM133 120.5h2v2h-2zM154 96h2v2h-2zM136 115h2v2h-2zM139.5 119.5h2v2h-2zM127.5 130h2v2h-2zM138.5 111.5h2v2h-2zM124.5 121.5h2v2h-2zM141 111.5h2v2h-2zM128 116.5h2v2h-2zM129 132.5h2v2h-2zM134.5 115.5h2v2h-2zM156 91.5h2v2h-2zM127.5 126h2v2h-2zM145 110.5h2v2h-2zM128.5 129.5h2v2h-2zM148 97.5h2v2h-2zM135 124.5h2v2h-2zM132 125h2v2h-2zM140.5 112.5h2v2h-2zM150 101h2v2h-2zM152 99.5h2v2h-2zM152.5 103.5h2v2h-2zM164 86h2v2h-2zM149.5 108h2v2h-2zM127 120.5h2v2h-2zM129 131.5h2v2h-2zM142.5 110h2v2h-2zM140.5 109.5h2v2h-2zM140.5 108h2v2h-2zM146.5 109h2v2h-2zM148.5 94h2v2h-2zM153 94h2v2h-2zM157 92h2v2h-2zM163.5 81.5h2v2h-2zM139.5 106h2v2h-2zM132 121h2v2h-2zM144.5 107h2v2h-2zM135 109.5h2v2h-2zM137 121h2v2h-2zM144 110h2v2h-2zM158 90.5h2v2h-2zM145.5 105h2v2h-2zM143 107.5h2v2h-2zM148.5 102.5h2v2h-2zM147.5 103h2v2h-2zM136.5 115.5h2v2h-2zM160.5 89.5h2v2h-2zM148 103.5h2v2h-2zM133 103.5h2v2h-2zM128 121h2v2h-2zM158.5 90.5h2v2h-2zM136 113.5h2v2h-2zM132.5 113h2v2h-2zM148 104h2v2h-2zM156.5 93.5h2v2h-2zM145 102.5h2v2h-2zM135.5 116h2v2h-2zM162.5 85h2v2h-2zM144.5 117h2v2h-2zM152 100h2v2h-2zM132 126h2v2h-2zM141.5 99.5h2v2h-2zM154.5 91h2v2h-2zM143 98.5h2v2h-2zM160 90.5h2v2h-2zM147.5 119h2v2h-2zM145 109.5h2v2h-2zM152 101.5h2v2h-2zM135.5 127.5h2v2h-2zM134 117.5h2v2h-2zM142.5 105.5h2v2h-2zM161.5 89.5h2v2h-2zM153 98h2v2h-2zM154 98.5h2v2h-2zM128.5 112h2v2h-2zM140 119.5h2v2h-2zM142 115h2v2h-2zM164.5 85h2v2h-2zM152.5 82.5h2v2h-2zM154.5 72h2v2h-2zM135.5 83h2v2h-2zM144.5 81.5h2v2h-2zM150.5 71h2v2h-2zM151 70.5h2v2h-2zM151 81h2v2h-2zM167 68h2v2h-2zM151.5 81.5h2v2h-2zM139 83.5h2v2h-2zM144.5 92.5h2v2h-2zM139.5 76.5h2v2h-2zM160 70.5h2v2h-2zM148.5 91.5h2v2h-2zM148 86h2v2h-2zM140.5 79.5h2v2h-2zM143.5 77.5h2v2h-2zM135 70.5h2v2h-2zM144 82h2v2h-2zM141.5 78h2v2h-2zM157 67.5h2v2h-2zM154.5 74h2v2h-2zM152.5 81.5h2v2h-2zM168.5 84h2v2h-2zM140 78.5h2v2h-2zM149.5 87.5h2v2h-2zM154 78h2v2h-2zM149.5 82.5h2v2h-2zM155 83.5h2v2h-2zM135 82h2v2h-2zM146.5 80h2v2h-2zM136 91.5h2v2h-2zM150 78.5h2v2h-2zM158.5 93.5h2v2h-2zM148.5 74h2v2h-2zM144 94h2v2h-2zM138 77h2v2h-2zM146.5 88h2v2h-2zM140.5 89.5h2v2h-2zM138 74h2v2h-2zM145 83h2v2h-2zM151 73h2v2h-2zM148.5 73.5h2v2h-2zM148 60.5h2v2h-2zM140 85.5h2v2h-2zM139 64.5h2v2h-2zM142.5 70h2v2h-2zM167 75.5h2v2h-2zM140.5 73.5h2v2h-2zM138.5 91.5h2v2h-2zM159.5 83h2v2h-2zM157.5 70.5h2v2h-2zM154.5 80.5h2v2h-2zM168.5 77.5h2v2h-2zM172.5 77h2v2h-2zM173.5 73h2v2h-2zM172 75h2v2h-2zM176 75h2v2h-2zM169.5 77h2v2h-2zM169.5 78.5h2v2h-2zM171 79h2v2h-2zM165.5 80h2v2h-2zM170 67.5h2v2h-2zM117.5 176.5h2v2h-2zM117 173.5h2v2h-2zM117 173h2v2h-2zM117.5 177h2v2h-2zM118.5 177.5h2v2h-2zM184 62.5h2v2h-2zM167.5 65h2v2h-2z"/>
<path d="M96.1 18L155.3 181.5" stroke="#84329a" stroke-width="1.1" fill="none"/>
<path d="M61 139L210 62.2" stroke="#84329a" stroke-width="1.1" fill="none"/>
<path d="M57.4 169.2h2.6M72.2 182.5v3.5M57.4 162h2.6M78.8 182.5v3.5M57.4 156.9h2.6M83.4 182.5v3.5M57.4 152.9h2.6M87 182.5v3.5M57.4 149.7h2.6M90 182.5v3.5M57.4 147h2.6M92.5 182.5v3.5M57.4 144.6h2.6M94.6 182.5v3.5M57.4 142.5h2.6M96.5 182.5v3.5M57.4 128.3h2.6M109.5 182.5v3.5M57.4 121.1h2.6M116 182.5v3.5M57.4 116h2.6M120.7 182.5v3.5M57.4 112.1h2.6M124.3 182.5v3.5M57.4 108.8h2.6M127.2 182.5v3.5M57.4 106.1h2.6M129.7 182.5v3.5M57.4 103.7h2.6M131.9 182.5v3.5M57.4 101.6h2.6M133.8 182.5v3.5M57.4 87.4h2.6M146.7 182.5v3.5M57.4 80.2h2.6M153.3 182.5v3.5M57.4 75.1h2.6M157.9 182.5v3.5M57.4 71.2h2.6M161.5 182.5v3.5M57.4 67.9h2.6M164.5 182.5v3.5M57.4 65.2h2.6M167 182.5v3.5M57.4 62.8h2.6M169.1 182.5v3.5M57.4 60.7h2.6M171 182.5v3.5M57.4 46.6h2.6M184 182.5v3.5M57.4 39.4h2.6M190.5 182.5v3.5M57.4 34.3h2.6M195.2 182.5v3.5M57.4 30.3h2.6M198.8 182.5v3.5M57.4 27.1h2.6M201.7 182.5v3.5M57.4 24.3h2.6M204.2 182.5v3.5M57.4 22h2.6M206.4 182.5v3.5M57.4 19.9h2.6M208.3 182.5v3.5" stroke="#2a7f32" stroke-width="0.9" fill="none"/>
<path d="M56 181.5H61M61 182.5v5M56 140.6H61M98.2 182.5v5M56 99.8H61M135.5 182.5v5M56 58.9H61M172.8 182.5v5M56 18H61M210 182.5v5" stroke="#2a7f32" stroke-width="1" fill="none"/>
<path d="M61 17.5V182.5" stroke="#044804" stroke-width="2" fill="none"/>
<text x="56" y="184.5" text-anchor="end" class="tl" textLength="16" lengthAdjust="spacingAndGlyphs">10e0</text>
<text x="61" y="194" text-anchor="middle" class="tl" textLength="16" lengthAdjust="spacingAndGlyphs">10e0</text>
<text x="56" y="143.6" text-anchor="end" class="tl" textLength="16" lengthAdjust="spacingAndGlyphs">10e1</text>
<text x="98.2" y="194" text-anchor="middle" class="tl" textLength="16" lengthAdjust="spacingAndGlyphs">10e1</text>
<text x="56" y="102.8" text-anchor="end" class="tl" textLength="16" lengthAdjust="spacingAndGlyphs">10e2</text>
<text x="135.5" y="194" text-anchor="middle" class="tl" textLength="16" lengthAdjust="spacingAndGlyphs">10e2</text>
<text x="56" y="61.9" text-anchor="end" class="tl" textLength="16" lengthAdjust="spacingAndGlyphs">10e3</text>
<text x="172.8" y="194" text-anchor="middle" class="tl" textLength="16" lengthAdjust="spacingAndGlyphs">10e3</text>
<text x="56" y="21" text-anchor="end" class="tl" textLength="16" lengthAdjust="spacingAndGlyphs">10e4</text>
<text x="210" y="194" text-anchor="middle" class="tl" textLength="16" lengthAdjust="spacingAndGlyphs">10e4</text>
<text x="135.5" y="9.8" text-anchor="middle" class="tt" textLength="35.5" lengthAdjust="spacingAndGlyphs">Apoptosis</text>
<text x="135.5" y="204" text-anchor="middle" class="tt" textLength="70.5" lengthAdjust="spacingAndGlyphs">Annexin V-PE (PM1)</text>
<text transform="translate(28.5 99.2) rotate(-90)" text-anchor="middle" class="tt" textLength="48.5" lengthAdjust="spacingAndGlyphs">7-AAD (PM2)</text>
<text x="-0.5" y="17.7" class="lt">a</text>
<path d="M295.3 21H446.1" fill="none" stroke="#8a8a8a" stroke-width="1.6"/>
<path d="M445.3 21V182.2" fill="none" stroke="#505050" stroke-width="1.5"/>
<path d="M295.3 182.2H445.3" fill="none" stroke="#333333" stroke-width="1.4"/>
<text x="359.7" y="50.2" class="pc" textLength="51.6" lengthAdjust="spacingAndGlyphs">2.7 ± 0.9%</text>
<text x="381.2" y="145.7" class="pc" textLength="57.2" lengthAdjust="spacingAndGlyphs">43.9 ± 1.3%</text>
<text x="312.8" y="172.8" class="pc" textLength="56.6" lengthAdjust="spacingAndGlyphs">53.2 ± 2.2%</text>
<path fill="#ff0000" d="M353 116.5h2v2h-2zM345.5 135.5h2v2h-2zM361.5 132.5h2v2h-2zM362 142.5h2v2h-2zM356 126h2v2h-2zM360 133.5h2v2h-2zM368 127.5h2v2h-2zM364 124h2v2h-2zM362 122.5h2v2h-2zM362 115h2v2h-2zM352.5 123.5h2v2h-2zM363.5 121.5h2v2h-2zM348 134h2v2h-2zM355.5 137h2v2h-2zM355 131.5h2v2h-2zM347.5 128h2v2h-2zM357 143h2v2h-2zM367.5 124h2v2h-2zM355.5 120.5h2v2h-2zM350.5 127h2v2h-2zM357 131h2v2h-2zM363 128.5h2v2h-2zM359 124.5h2v2h-2zM357.5 130.5h2v2h-2zM349 129.5h2v2h-2zM360.5 116.5h2v2h-2zM360.5 129h2v2h-2zM365.5 128.5h2v2h-2zM366.5 117.5h2v2h-2zM362 124.5h2v2h-2zM348 139h2v2h-2zM349 145.5h2v2h-2zM351 121.5h2v2h-2zM359.5 116h2v2h-2zM353 132h2v2h-2zM365.5 121.5h2v2h-2zM359 126.5h2v2h-2zM360 124.5h2v2h-2zM362 115.5h2v2h-2zM359.5 124.5h2v2h-2zM349 133.5h2v2h-2zM372.5 118.5h2v2h-2zM366.5 122.5h2v2h-2zM367 119h2v2h-2zM346.5 138h2v2h-2zM348.5 121h2v2h-2zM351.5 127h2v2h-2zM363 120h2v2h-2zM363 111.5h2v2h-2zM366.5 123.5h2v2h-2zM370.5 122.5h2v2h-2zM361 124h2v2h-2zM360 133h2v2h-2zM355.5 135h2v2h-2zM355.5 135.5h2v2h-2zM350.5 128h2v2h-2zM360.5 136.5h2v2h-2zM359.5 127h2v2h-2zM355 130.5h2v2h-2zM353 121.5h2v2h-2zM360.5 129.5h2v2h-2zM365.5 118.5h2v2h-2zM358 123h2v2h-2zM359.5 123h2v2h-2zM354.5 121h2v2h-2zM356 140h2v2h-2zM356 126.5h2v2h-2zM356 131.5h2v2h-2zM354 132.5h2v2h-2zM360 119h2v2h-2zM365.5 128h2v2h-2zM352 135.5h2v2h-2zM366 116.5h2v2h-2zM355.5 141.5h2v2h-2zM355.5 121h2v2h-2zM344.5 141.5h2v2h-2zM343 124h2v2h-2zM362 130.5h2v2h-2zM351 128h2v2h-2zM362.5 124h2v2h-2zM358 127.5h2v2h-2zM359 124h2v2h-2zM365.5 124h2v2h-2zM357 121.5h2v2h-2zM338 134h2v2h-2zM347 144.5h2v2h-2zM363.5 141.5h2v2h-2zM369.5 107.5h2v2h-2zM353.5 130h2v2h-2zM349.5 136.5h2v2h-2zM361 130.5h2v2h-2zM347 139.5h2v2h-2zM350 119h2v2h-2zM358.5 122h2v2h-2zM358.5 135h2v2h-2zM356 125h2v2h-2zM350 120h2v2h-2zM350.5 131.5h2v2h-2zM355 140.5h2v2h-2zM358 117.5h2v2h-2zM355.5 118h2v2h-2zM369.5 110.5h2v2h-2zM354 125.5h2v2h-2zM361.5 138.5h2v2h-2zM354 137.5h2v2h-2zM359.5 130h2v2h-2zM355 129.5h2v2h-2zM355.5 133h2v2h-2zM367.5 120.5h2v2h-2zM355.5 137.5h2v2h-2zM353 136.5h2v2h-2zM355 132h2v2h-2zM364.5 136h2v2h-2zM343 124.5h2v2h-2zM347.5 141.5h2v2h-2zM358 134h2v2h-2zM360.5 125.5h2v2h-2zM361 133h2v2h-2zM355.5 124.5h2v2h-2zM349 128h2v2h-2zM362.5 120.5h2v2h-2zM360.5 133h2v2h-2zM351 138.5h2v2h-2zM358 131.5h2v2h-2zM368.5 127h2v2h-2zM358.5 129.5h2v2h-2zM350.5 132h2v2h-2zM355 131h2v2h-2zM355.5 134h2v2h-2zM359.5 121h2v2h-2zM363 119h2v2h-2zM352 127h2v2h-2zM353.5 127.5h2v2h-2zM364 123.5h2v2h-2zM362 116.5h2v2h-2zM366 128.5h2v2h-2zM349 141.5h2v2h-2zM352 133.5h2v2h-2zM364 126.5h2v2h-2zM352 134.5h2v2h-2zM357.5 131h2v2h-2zM353 129.5h2v2h-2zM366.5 129h2v2h-2zM357.5 135.5h2v2h-2zM354.5 131.5h2v2h-2zM356.5 126.5h2v2h-2zM359 129.5h2v2h-2zM348 142h2v2h-2zM352.5 132h2v2h-2zM350 136.5h2v2h-2zM345 132.5h2v2h-2zM363.5 129h2v2h-2zM366.5 124.5h2v2h-2zM365 119.5h2v2h-2zM347 133.5h2v2h-2zM360 128h2v2h-2zM362 128.5h2v2h-2zM354 135.5h2v2h-2zM362.5 122.5h2v2h-2zM351 141h2v2h-2zM351 136h2v2h-2zM352.5 137.5h2v2h-2zM353 128h2v2h-2zM351.5 117.5h2v2h-2zM363.5 133.5h2v2h-2zM354 118h2v2h-2zM371 137.5h2v2h-2zM352 137h2v2h-2zM360.5 123.5h2v2h-2zM368.5 122.5h2v2h-2zM350.5 129.5h2v2h-2zM352.5 142.5h2v2h-2zM355.5 131.5h2v2h-2zM365 111h2v2h-2zM355 127.5h2v2h-2zM364 122.5h2v2h-2zM361 128.5h2v2h-2zM358 119h2v2h-2zM363.5 124.5h2v2h-2zM356 127h2v2h-2zM364 131h2v2h-2zM349.5 126h2v2h-2zM353 125h2v2h-2zM365 131.5h2v2h-2zM345 140h2v2h-2zM360.5 124.5h2v2h-2zM354.5 136h2v2h-2zM365.5 120.5h2v2h-2zM348.5 133.5h2v2h-2zM362.5 129h2v2h-2zM362 124h2v2h-2zM354 121.5h2v2h-2zM348.5 125h2v2h-2zM359.5 126.5h2v2h-2zM352.5 133h2v2h-2zM358 126.5h2v2h-2zM362 122h2v2h-2zM368.5 124h2v2h-2zM359.5 127.5h2v2h-2zM358.5 126h2v2h-2zM362.5 132h2v2h-2zM359.5 128h2v2h-2zM347.5 132h2v2h-2zM350 130.5h2v2h-2zM362 130h2v2h-2zM365.5 132.5h2v2h-2zM360 132.5h2v2h-2zM351.5 140.5h2v2h-2zM362.5 133.5h2v2h-2zM352 136.5h2v2h-2zM359 132h2v2h-2zM349.5 135h2v2h-2zM349 134.5h2v2h-2zM358 128h2v2h-2zM353.5 136.5h2v2h-2zM360.5 136h2v2h-2zM350 137.5h2v2h-2zM360.5 134.5h2v2h-2zM365 116h2v2h-2zM356.5 127.5h2v2h-2zM358.5 119.5h2v2h-2zM359 119h2v2h-2zM360.5 121h2v2h-2zM364 118h2v2h-2zM354.5 137h2v2h-2zM346 147.5h2v2h-2zM359 133h2v2h-2zM357 126.5h2v2h-2zM361.5 130h2v2h-2zM358.5 128.5h2v2h-2zM358.5 129h2v2h-2zM353.5 132.5h2v2h-2zM352.5 127.5h2v2h-2zM357 129h2v2h-2zM344 137h2v2h-2zM355 121h2v2h-2zM352 121.5h2v2h-2zM357 135.5h2v2h-2zM353 135h2v2h-2zM358 132h2v2h-2zM356.5 126h2v2h-2zM365.5 125h2v2h-2zM355.5 132h2v2h-2zM356 119.5h2v2h-2zM358 126h2v2h-2zM351 132h2v2h-2zM366.5 125h2v2h-2zM361 118h2v2h-2zM358 140.5h2v2h-2zM364 126h2v2h-2zM356.5 128.5h2v2h-2zM356 122h2v2h-2zM356 130h2v2h-2zM347 129.5h2v2h-2zM363.5 121h2v2h-2zM356.5 140h2v2h-2zM357 133h2v2h-2zM354 130.5h2v2h-2zM344 144h2v2h-2zM358.5 126.5h2v2h-2zM371 124.5h2v2h-2zM363.5 125h2v2h-2zM356 144h2v2h-2zM352 130h2v2h-2zM360 137h2v2h-2zM362.5 123.5h2v2h-2zM352 119.5h2v2h-2zM364 130h2v2h-2zM354.5 136.5h2v2h-2zM362 131h2v2h-2zM358 128.5h2v2h-2zM361 128h2v2h-2zM372 124.5h2v2h-2zM348 137h2v2h-2zM345.5 140h2v2h-2zM358 124h2v2h-2zM352 132.5h2v2h-2zM358.5 137.5h2v2h-2zM348 132h2v2h-2zM365.5 117.5h2v2h-2zM364.5 115.5h2v2h-2zM351 132.5h2v2h-2zM356 121.5h2v2h-2zM363 124.5h2v2h-2zM368.5 120h2v2h-2zM352 135h2v2h-2zM364.5 128h2v2h-2zM355.5 142.5h2v2h-2zM351.5 134h2v2h-2zM364 135.5h2v2h-2zM347.5 132.5h2v2h-2zM353.5 146h2v2h-2zM363.5 125.5h2v2h-2zM354 141.5h2v2h-2zM362.5 132.5h2v2h-2zM350.5 134.5h2v2h-2zM362.5 124.5h2v2h-2zM360.5 134h2v2h-2zM367.5 125h2v2h-2zM356 124h2v2h-2zM355.5 131h2v2h-2zM353 124.5h2v2h-2zM357 124.5h2v2h-2zM369.5 115.5h2v2h-2zM362.5 127.5h2v2h-2zM354.5 148.5h2v2h-2zM363 133.5h2v2h-2zM350.5 139.5h2v2h-2zM348.5 128.5h2v2h-2zM366 131.5h2v2h-2zM358.5 130.5h2v2h-2zM360.5 135.5h2v2h-2zM365 120h2v2h-2zM348 125h2v2h-2zM365.5 126h2v2h-2zM353.5 126h2v2h-2zM355.5 133.5h2v2h-2zM360.5 126h2v2h-2zM356 138h2v2h-2zM358.5 141.5h2v2h-2zM351.5 137.5h2v2h-2zM346.5 128.5h2v2h-2zM372 123h2v2h-2zM358.5 137h2v2h-2zM360.5 120.5h2v2h-2zM365.5 131h2v2h-2zM363 123h2v2h-2zM351.5 119h2v2h-2zM357 132h2v2h-2zM362 131.5h2v2h-2zM354 140h2v2h-2zM360 136.5h2v2h-2zM359 122.5h2v2h-2zM366 122h2v2h-2zM342 138.5h2v2h-2zM358 116.5h2v2h-2zM361.5 126h2v2h-2zM357.5 124.5h2v2h-2zM352.5 135.5h2v2h-2zM361.5 133h2v2h-2zM360 131h2v2h-2zM352.5 138.5h2v2h-2zM349.5 132.5h2v2h-2zM361 126h2v2h-2zM361.5 140h2v2h-2zM367 128h2v2h-2zM359 136.5h2v2h-2zM359 131.5h2v2h-2zM358.5 127h2v2h-2zM366 115.5h2v2h-2zM358 137h2v2h-2zM362 126h2v2h-2zM358 132.5h2v2h-2zM354.5 129.5h2v2h-2zM362.5 115.5h2v2h-2zM357 125h2v2h-2zM352.5 129h2v2h-2zM348.5 136h2v2h-2zM363.5 130h2v2h-2zM351 128.5h2v2h-2zM356 120h2v2h-2zM347.5 135h2v2h-2zM361.5 127h2v2h-2zM360 122.5h2v2h-2zM350.5 122h2v2h-2zM351 119.5h2v2h-2zM356.5 135h2v2h-2zM369.5 131.5h2v2h-2zM356 123.5h2v2h-2zM364 120h2v2h-2zM363.5 119h2v2h-2zM348 123h2v2h-2zM357.5 129.5h2v2h-2zM363.5 120.5h2v2h-2zM365 117h2v2h-2zM349 134h2v2h-2zM355 137h2v2h-2zM361.5 118h2v2h-2zM355.5 124h2v2h-2zM363 122h2v2h-2zM348.5 142h2v2h-2zM354 135h2v2h-2zM366 118h2v2h-2zM343 137h2v2h-2zM352.5 129.5h2v2h-2zM353 133.5h2v2h-2zM355.5 123h2v2h-2zM363.5 116h2v2h-2zM361 117.5h2v2h-2zM365 122h2v2h-2zM358.5 123.5h2v2h-2zM361.5 115.5h2v2h-2zM352 137.5h2v2h-2zM370.5 119.5h2v2h-2zM364 128.5h2v2h-2zM366.5 114h2v2h-2zM356 142.5h2v2h-2zM361 123h2v2h-2zM353 138h2v2h-2zM355.5 129h2v2h-2zM358.5 125.5h2v2h-2zM353.5 140.5h2v2h-2zM364 125.5h2v2h-2zM357.5 125.5h2v2h-2zM347 122h2v2h-2zM346 133h2v2h-2zM353.5 138.5h2v2h-2zM364 130.5h2v2h-2zM359.5 134h2v2h-2zM368.5 115.5h2v2h-2zM359 123.5h2v2h-2zM366.5 134.5h2v2h-2zM359.5 131.5h2v2h-2zM362 132h2v2h-2zM353.5 128h2v2h-2zM349.5 135.5h2v2h-2zM353 130h2v2h-2zM359.5 136.5h2v2h-2zM363 132.5h2v2h-2zM361.5 124.5h2v2h-2zM370.5 113.5h2v2h-2zM346 136h2v2h-2zM373.5 117.5h2v2h-2zM356 136.5h2v2h-2zM350 139h2v2h-2zM353 127h2v2h-2zM352 129h2v2h-2zM355 135.5h2v2h-2zM368 135h2v2h-2zM349.5 137.5h2v2h-2zM353.5 135h2v2h-2zM366.5 122h2v2h-2zM359.5 130.5h2v2h-2zM360 128.5h2v2h-2zM363.5 123h2v2h-2zM351.5 135h2v2h-2zM363.5 119.5h2v2h-2zM356.5 119h2v2h-2zM354.5 134.5h2v2h-2zM360 130.5h2v2h-2zM351.5 131h2v2h-2zM365.5 121h2v2h-2zM366 127.5h2v2h-2zM364.5 126.5h2v2h-2zM359.5 120h2v2h-2zM349.5 136h2v2h-2zM356.5 132.5h2v2h-2zM357 125.5h2v2h-2zM361.5 129.5h2v2h-2zM355 130h2v2h-2zM353.5 133h2v2h-2zM365 128.5h2v2h-2zM356 129h2v2h-2zM354 119.5h2v2h-2zM345.5 131h2v2h-2zM349.5 133h2v2h-2zM356.5 121.5h2v2h-2zM359.5 139h2v2h-2zM357.5 133.5h2v2h-2zM360 135h2v2h-2zM355 133.5h2v2h-2zM358 129.5h2v2h-2zM366.5 131h2v2h-2zM353.5 130.5h2v2h-2zM347.5 144h2v2h-2zM355.5 127h2v2h-2zM352.5 128.5h2v2h-2zM357.5 116.5h2v2h-2zM359.5 131h2v2h-2zM360 125h2v2h-2zM364 134.5h2v2h-2zM360 138.5h2v2h-2zM359.5 123.5h2v2h-2zM354.5 128h2v2h-2zM358 136h2v2h-2zM354.5 122h2v2h-2zM356 128.5h2v2h-2zM358 131h2v2h-2zM364.5 127h2v2h-2zM361.5 128h2v2h-2zM350.5 134h2v2h-2zM356 124.5h2v2h-2zM360 126h2v2h-2zM347 133h2v2h-2zM357.5 122h2v2h-2zM356.5 127h2v2h-2zM347 128h2v2h-2zM352 124h2v2h-2zM351.5 136.5h2v2h-2zM362 128h2v2h-2zM361 127.5h2v2h-2zM361.5 114.5h2v2h-2zM364 118.5h2v2h-2zM344.5 132h2v2h-2zM356 125.5h2v2h-2zM360 127h2v2h-2zM353.5 122h2v2h-2zM354 131h2v2h-2zM353 126h2v2h-2zM359 125.5h2v2h-2zM360 123h2v2h-2zM359 127h2v2h-2zM357.5 134h2v2h-2zM358.5 131.5h2v2h-2zM362.5 133h2v2h-2zM360.5 119.5h2v2h-2zM351.5 132h2v2h-2zM348.5 131h2v2h-2zM362 121.5h2v2h-2zM352.5 141.5h2v2h-2zM362 119.5h2v2h-2zM356.5 128h2v2h-2zM361 121.5h2v2h-2zM352.5 122h2v2h-2zM357.5 133h2v2h-2zM346 137.5h2v2h-2zM356 142h2v2h-2zM372.5 119h2v2h-2zM362 126.5h2v2h-2zM368 123h2v2h-2zM359.5 134.5h2v2h-2zM359.5 137.5h2v2h-2zM355.5 136h2v2h-2zM377.5 116h2v2h-2zM361 134h2v2h-2zM355 134.5h2v2h-2zM364.5 132.5h2v2h-2zM360.5 124h2v2h-2zM356.5 134.5h2v2h-2zM351.5 128h2v2h-2zM358.5 134h2v2h-2zM360.5 123h2v2h-2zM360 143.5h2v2h-2zM352.5 119h2v2h-2zM361 125.5h2v2h-2zM349 138.5h2v2h-2zM357.5 128.5h2v2h-2zM360 132h2v2h-2zM351.5 125h2v2h-2zM356 131h2v2h-2zM356.5 134h2v2h-2zM350.5 132.5h2v2h-2zM356 138.5h2v2h-2zM352 125h2v2h-2zM349.5 131h2v2h-2zM344.5 123.5h2v2h-2zM353 121h2v2h-2zM366.5 133h2v2h-2zM366 118.5h2v2h-2zM366 126h2v2h-2zM371 119h2v2h-2zM362 134h2v2h-2zM342.5 135h2v2h-2zM360.5 127h2v2h-2zM353.5 125h2v2h-2zM362.5 118.5h2v2h-2zM361 137h2v2h-2zM367 116h2v2h-2zM369.5 115h2v2h-2zM358.5 120h2v2h-2zM348 129.5h2v2h-2zM341 137h2v2h-2zM349.5 126.5h2v2h-2zM358 120h2v2h-2zM359 138.5h2v2h-2zM355.5 128.5h2v2h-2zM361.5 139.5h2v2h-2zM369.5 122h2v2h-2zM354 123.5h2v2h-2zM353.5 125.5h2v2h-2zM354.5 146.5h2v2h-2zM372.5 112h2v2h-2zM361.5 143.5h2v2h-2zM349 132h2v2h-2zM353.5 132h2v2h-2zM363 128h2v2h-2zM364 116h2v2h-2zM347.5 135.5h2v2h-2zM370.5 127.5h2v2h-2zM360.5 121.5h2v2h-2zM353 137h2v2h-2zM348.5 129h2v2h-2zM359 116h2v2h-2zM363 119.5h2v2h-2zM364.5 129.5h2v2h-2zM347 144h2v2h-2zM351.5 134.5h2v2h-2zM356.5 139h2v2h-2zM364.5 116h2v2h-2zM355 143.5h2v2h-2zM350 135h2v2h-2zM361 123.5h2v2h-2zM354.5 124h2v2h-2zM364.5 124.5h2v2h-2zM361.5 133.5h2v2h-2zM350 127.5h2v2h-2zM348 146h2v2h-2zM362.5 126h2v2h-2zM351 142h2v2h-2zM351.5 122h2v2h-2zM356.5 129h2v2h-2zM352 125.5h2v2h-2zM352 127.5h2v2h-2zM365.5 116h2v2h-2zM357.5 128h2v2h-2zM364.5 129h2v2h-2zM351.5 135.5h2v2h-2zM352.5 133.5h2v2h-2zM363.5 127.5h2v2h-2zM350 139.5h2v2h-2zM354.5 130.5h2v2h-2zM349.5 143h2v2h-2zM357.5 141.5h2v2h-2zM357.5 132.5h2v2h-2zM347.5 133.5h2v2h-2zM351.5 132.5h2v2h-2zM359.5 115h2v2h-2zM353 130.5h2v2h-2zM349 129h2v2h-2zM357 127h2v2h-2zM356 130.5h2v2h-2zM364.5 123h2v2h-2zM358 130.5h2v2h-2zM352.5 123h2v2h-2zM357 139.5h2v2h-2zM363 129.5h2v2h-2zM349.5 137h2v2h-2zM358.5 124.5h2v2h-2zM366 122.5h2v2h-2zM353.5 126.5h2v2h-2zM356.5 124h2v2h-2zM354 130h2v2h-2zM360.5 127.5h2v2h-2zM360.5 137h2v2h-2zM374.5 113.5h2v2h-2zM341.5 142.5h2v2h-2zM354 132h2v2h-2zM349 135.5h2v2h-2zM356 117.5h2v2h-2zM353 134.5h2v2h-2zM357 121h2v2h-2zM353.5 128.5h2v2h-2zM363 130h2v2h-2zM348 127.5h2v2h-2zM357.5 124h2v2h-2zM349 137.5h2v2h-2zM349.5 139.5h2v2h-2zM360.5 131h2v2h-2zM358 125h2v2h-2zM348.5 121.5h2v2h-2zM364.5 121.5h2v2h-2zM355.5 129.5h2v2h-2zM355 141h2v2h-2zM347.5 127.5h2v2h-2zM367.5 122.5h2v2h-2zM354 125h2v2h-2zM368 119.5h2v2h-2zM341 139.5h2v2h-2zM359 128.5h2v2h-2zM352 131h2v2h-2zM343.5 138h2v2h-2zM357.5 126.5h2v2h-2zM350.5 137h2v2h-2zM364.5 125h2v2h-2zM357.5 121.5h2v2h-2zM358 121h2v2h-2zM351 137h2v2h-2zM352.5 126.5h2v2h-2zM351.5 129h2v2h-2zM363.5 126h2v2h-2zM365 131h2v2h-2zM345 133h2v2h-2zM341.5 135.5h2v2h-2zM364.5 124h2v2h-2zM358.5 133.5h2v2h-2zM353.5 134.5h2v2h-2zM356 137h2v2h-2zM363 117.5h2v2h-2zM350.5 131h2v2h-2zM375.5 125.5h2v2h-2zM360.5 130h2v2h-2zM361.5 119.5h2v2h-2zM359.5 122.5h2v2h-2zM358 127h2v2h-2zM357 130.5h2v2h-2zM358.5 122.5h2v2h-2zM355 132.5h2v2h-2zM373.5 133h2v2h-2zM360 123.5h2v2h-2zM360.5 132h2v2h-2zM363.5 118.5h2v2h-2zM348.5 144.5h2v2h-2zM359 131h2v2h-2zM359 132.5h2v2h-2zM348.5 129.5h2v2h-2zM348.5 141.5h2v2h-2zM352 136h2v2h-2zM362 137h2v2h-2zM362.5 127h2v2h-2zM345.5 134.5h2v2h-2zM357 128.5h2v2h-2zM357.5 123h2v2h-2zM355 126h2v2h-2zM355 134h2v2h-2zM342.5 143.5h2v2h-2zM358.5 139.5h2v2h-2zM366 120.5h2v2h-2zM352 132h2v2h-2zM346.5 129h2v2h-2zM368 129h2v2h-2zM344 146.5h2v2h-2zM349.5 132h2v2h-2zM366 121h2v2h-2zM353 131.5h2v2h-2zM356 132h2v2h-2zM351.5 139.5h2v2h-2zM362.5 125.5h2v2h-2zM356.5 120.5h2v2h-2zM371.5 128.5h2v2h-2zM354.5 129h2v2h-2zM364 120.5h2v2h-2zM364.5 130h2v2h-2zM353 141h2v2h-2zM365.5 120h2v2h-2zM367.5 129h2v2h-2zM350.5 133h2v2h-2zM347.5 145h2v2h-2zM358.5 130h2v2h-2zM362 120.5h2v2h-2zM353 129h2v2h-2zM351 125.5h2v2h-2zM357 141h2v2h-2zM360 127.5h2v2h-2zM361 135h2v2h-2zM356.5 125.5h2v2h-2zM365 125h2v2h-2zM367.5 131h2v2h-2zM350.5 138.5h2v2h-2zM358.5 136h2v2h-2zM369 129h2v2h-2zM372.5 126h2v2h-2zM367.5 121.5h2v2h-2zM355 144h2v2h-2zM346.5 120.5h2v2h-2zM354.5 132.5h2v2h-2zM357 129.5h2v2h-2zM354.5 133.5h2v2h-2zM359 134h2v2h-2zM365.5 127h2v2h-2zM354.5 113.5h2v2h-2zM346 132.5h2v2h-2zM355 123.5h2v2h-2zM348 140.5h2v2h-2zM367 121.5h2v2h-2zM357 134.5h2v2h-2zM354.5 130h2v2h-2zM355.5 132.5h2v2h-2zM365.5 122h2v2h-2zM349.5 149.5h2v2h-2zM367.5 112.5h2v2h-2zM361 122h2v2h-2zM366.5 127.5h2v2h-2zM351 123.5h2v2h-2zM358 135h2v2h-2zM342.5 138.5h2v2h-2zM355.5 122h2v2h-2zM358.5 124h2v2h-2zM347 141.5h2v2h-2zM360 130h2v2h-2zM350.5 135.5h2v2h-2zM351.5 127.5h2v2h-2zM362.5 119.5h2v2h-2zM350 130h2v2h-2zM352 124.5h2v2h-2zM357 128h2v2h-2zM354 128h2v2h-2zM367 123h2v2h-2zM367.5 123h2v2h-2zM350 124h2v2h-2zM368.5 117h2v2h-2zM361.5 127.5h2v2h-2zM349.5 128h2v2h-2zM350 133.5h2v2h-2zM360.5 132.5h2v2h-2zM353 142h2v2h-2zM374.5 109.5h2v2h-2zM351.5 126h2v2h-2zM370.5 111.5h2v2h-2zM369 128.5h2v2h-2zM348.5 123.5h2v2h-2zM360 119.5h2v2h-2zM358 121.5h2v2h-2zM367 125.5h2v2h-2zM343 136.5h2v2h-2zM355.5 126h2v2h-2zM363 124h2v2h-2zM348.5 134h2v2h-2zM353 137.5h2v2h-2zM359 133.5h2v2h-2zM361.5 135h2v2h-2zM363.5 127h2v2h-2zM359.5 138h2v2h-2zM351 127h2v2h-2zM355 129h2v2h-2zM363.5 113h2v2h-2zM357 122.5h2v2h-2zM354.5 139h2v2h-2zM364.5 133h2v2h-2zM367 126.5h2v2h-2zM365.5 130h2v2h-2zM348 131.5h2v2h-2zM362 127.5h2v2h-2zM351 133h2v2h-2zM360 139h2v2h-2zM356 119h2v2h-2zM352 117.5h2v2h-2zM358 124.5h2v2h-2zM350.5 136.5h2v2h-2zM358.5 125h2v2h-2zM362 132.5h2v2h-2zM348 138.5h2v2h-2zM353.5 129.5h2v2h-2zM354.5 149h2v2h-2zM350 136h2v2h-2zM353.5 121.5h2v2h-2zM349.5 122h2v2h-2zM367.5 121h2v2h-2zM347.5 123.5h2v2h-2zM355.5 138.5h2v2h-2zM370 126.5h2v2h-2zM362 117h2v2h-2zM358 137.5h2v2h-2zM367 120.5h2v2h-2zM354.5 123.5h2v2h-2zM357 136.5h2v2h-2zM352 138h2v2h-2zM347 134h2v2h-2zM354.5 132h2v2h-2zM351 138h2v2h-2zM356.5 129.5h2v2h-2zM351.5 139h2v2h-2zM353.5 133.5h2v2h-2zM353.5 136h2v2h-2zM360 129h2v2h-2zM349.5 120.5h2v2h-2zM354 138h2v2h-2zM364.5 128.5h2v2h-2zM352.5 130.5h2v2h-2zM346 127h2v2h-2zM364.5 121h2v2h-2zM350.5 127.5h2v2h-2zM349.5 133.5h2v2h-2zM346.5 133.5h2v2h-2zM360 125.5h2v2h-2zM359 138h2v2h-2zM350.5 130.5h2v2h-2zM363.5 139h2v2h-2zM361.5 136h2v2h-2zM361.5 120.5h2v2h-2zM365 130.5h2v2h-2zM355 124.5h2v2h-2zM364.5 120h2v2h-2zM366 129h2v2h-2zM352.5 118h2v2h-2zM361 112.5h2v2h-2zM359 125h2v2h-2zM363 126h2v2h-2zM349.5 130.5h2v2h-2zM368.5 114h2v2h-2zM364 122h2v2h-2zM356.5 133.5h2v2h-2zM357 124h2v2h-2zM353 134h2v2h-2zM364.5 125.5h2v2h-2zM346.5 134h2v2h-2zM353 126.5h2v2h-2zM354.5 142.5h2v2h-2zM352 118.5h2v2h-2zM366.5 128h2v2h-2zM356 127.5h2v2h-2zM352 141.5h2v2h-2zM345 128h2v2h-2zM362 140h2v2h-2zM363 127.5h2v2h-2zM352 140.5h2v2h-2zM347.5 130h2v2h-2zM362 118.5h2v2h-2zM359 128h2v2h-2zM354 128.5h2v2h-2zM345.5 130h2v2h-2zM369 132h2v2h-2zM346 139.5h2v2h-2zM364.5 126h2v2h-2zM352.5 128h2v2h-2zM357.5 129h2v2h-2zM356 134h2v2h-2zM350.5 125.5h2v2h-2zM354.5 143h2v2h-2zM366.5 139h2v2h-2zM368.5 118h2v2h-2zM356.5 125h2v2h-2zM365 125.5h2v2h-2zM364 123h2v2h-2zM366.5 121h2v2h-2zM359.5 116.5h2v2h-2zM360.5 118h2v2h-2zM360 126.5h2v2h-2zM347 131.5h2v2h-2zM358.5 121h2v2h-2zM352 126h2v2h-2zM341.5 128.5h2v2h-2zM361 119h2v2h-2zM359.5 118.5h2v2h-2zM368 130h2v2h-2zM354.5 128.5h2v2h-2zM362 127h2v2h-2zM362.5 113.5h2v2h-2zM348.5 130.5h2v2h-2zM357 122h2v2h-2zM349 136h2v2h-2zM351.5 133h2v2h-2zM354.5 124.5h2v2h-2zM341 144h2v2h-2zM359.5 126h2v2h-2zM359 130.5h2v2h-2zM366 123.5h2v2h-2zM351.5 133.5h2v2h-2zM360 122h2v2h-2zM357 123h2v2h-2zM360.5 131.5h2v2h-2zM356 128h2v2h-2zM362 116h2v2h-2zM356 141h2v2h-2zM361 117h2v2h-2zM358.5 123h2v2h-2zM364 138.5h2v2h-2zM358 133h2v2h-2zM351.5 124.5h2v2h-2zM340.5 129.5h2v2h-2zM364 136.5h2v2h-2zM347.5 138.5h2v2h-2zM355 140h2v2h-2zM356.5 131h2v2h-2zM366 114.5h2v2h-2zM367 130.5h2v2h-2zM353 142.5h2v2h-2zM359.5 142.5h2v2h-2zM351 133.5h2v2h-2zM364 124.5h2v2h-2zM368 114.5h2v2h-2zM351 129.5h2v2h-2zM361.5 115h2v2h-2zM353.5 134h2v2h-2zM355.5 126.5h2v2h-2zM356.5 123.5h2v2h-2zM364 125h2v2h-2zM347 124h2v2h-2zM348.5 133h2v2h-2zM364 127h2v2h-2zM355.5 146h2v2h-2zM350.5 135h2v2h-2zM354 129h2v2h-2zM343.5 142h2v2h-2zM352 128h2v2h-2zM353 132.5h2v2h-2zM349.5 127h2v2h-2zM363.5 111.5h2v2h-2zM366 138h2v2h-2zM361.5 129h2v2h-2zM354.5 127.5h2v2h-2zM357.5 125h2v2h-2zM351 137.5h2v2h-2zM350 145.5h2v2h-2zM363.5 126.5h2v2h-2zM355 135h2v2h-2zM356 135h2v2h-2zM358 129h2v2h-2zM357.5 131.5h2v2h-2zM360.5 133.5h2v2h-2zM357 137.5h2v2h-2zM354 138.5h2v2h-2zM357 126h2v2h-2zM355.5 123.5h2v2h-2zM365.5 137h2v2h-2zM364.5 122.5h2v2h-2zM353.5 131h2v2h-2zM355.5 138h2v2h-2zM348 142.5h2v2h-2zM359 135.5h2v2h-2zM346 128h2v2h-2zM350.5 128.5h2v2h-2zM365.5 118h2v2h-2zM368 120.5h2v2h-2zM366.5 140h2v2h-2zM359.5 124h2v2h-2zM352 129.5h2v2h-2zM365.5 124.5h2v2h-2zM365 115h2v2h-2zM367.5 127h2v2h-2zM361 113.5h2v2h-2zM353 131h2v2h-2zM351 136.5h2v2h-2zM363 122.5h2v2h-2zM370.5 128h2v2h-2zM355 128h2v2h-2zM368.5 112h2v2h-2zM368.5 118.5h2v2h-2zM363.5 123.5h2v2h-2zM345 138.5h2v2h-2zM353 135.5h2v2h-2zM356.5 124.5h2v2h-2zM348.5 131.5h2v2h-2zM360 121h2v2h-2zM360 116h2v2h-2zM365 133h2v2h-2zM352.5 142h2v2h-2zM365 130h2v2h-2zM361.5 123h2v2h-2zM354.5 125.5h2v2h-2zM361 126.5h2v2h-2zM360.5 122.5h2v2h-2zM361 125h2v2h-2zM347.5 139.5h2v2h-2zM359 135h2v2h-2zM368.5 165h2v2h-2zM358.5 140h2v2h-2zM359.5 152.5h2v2h-2zM358.5 149.5h2v2h-2zM355.5 154h2v2h-2zM356 143.5h2v2h-2zM362.5 151h2v2h-2zM352.5 153.5h2v2h-2zM366 153.5h2v2h-2zM355 153.5h2v2h-2zM353 148.5h2v2h-2zM351.5 145h2v2h-2zM361 172h2v2h-2zM371 156.5h2v2h-2zM365.5 151h2v2h-2zM364 139.5h2v2h-2zM360 142h2v2h-2zM364.5 153.5h2v2h-2zM362.5 157h2v2h-2zM362.5 149h2v2h-2zM363 157h2v2h-2zM369 143h2v2h-2zM367 133.5h2v2h-2zM369 138.5h2v2h-2zM367 155h2v2h-2zM365 166h2v2h-2zM356 158h2v2h-2zM358 144h2v2h-2zM365.5 131.5h2v2h-2zM362 138h2v2h-2zM366 145h2v2h-2zM362.5 155h2v2h-2zM361.5 144h2v2h-2zM358 154.5h2v2h-2zM341 139h2v2h-2zM347.5 136.5h2v2h-2zM345.5 122.5h2v2h-2zM376.5 137h2v2h-2zM369.5 136.5h2v2h-2zM360 120h2v2h-2zM362.5 117h2v2h-2zM362 109.5h2v2h-2zM383 133h2v2h-2zM345.5 120h2v2h-2zM353 117.5h2v2h-2zM367.5 137.5h2v2h-2zM343 123h2v2h-2zM373.5 130.5h2v2h-2zM350 122h2v2h-2zM345 143h2v2h-2zM362 140.5h2v2h-2zM341.5 151h2v2h-2zM367.5 118.5h2v2h-2zM379 146h2v2h-2zM364 115h2v2h-2zM361.5 109h2v2h-2zM343 173h2v2h-2zM367 126h2v2h-2zM344 125.5h2v2h-2zM335.5 121.5h2v2h-2zM341 132.5h2v2h-2zM353 151h2v2h-2zM350.5 141h2v2h-2zM372 125h2v2h-2zM365 127.5h2v2h-2zM358.5 113h2v2h-2zM349 144.5h2v2h-2zM346.5 141h2v2h-2zM353 122h2v2h-2zM373 121.5h2v2h-2zM367.5 103.5h2v2h-2zM381 135h2v2h-2zM352 155h2v2h-2zM363.5 133h2v2h-2zM349.5 119.5h2v2h-2zM350 142.5h2v2h-2zM346 146h2v2h-2zM339.5 129h2v2h-2zM369.5 126h2v2h-2zM341 138.5h2v2h-2zM340 152.5h2v2h-2zM354.5 104h2v2h-2zM358 139h2v2h-2zM359 117.5h2v2h-2zM342.5 155.5h2v2h-2zM340.5 143.5h2v2h-2zM334.5 157.5h2v2h-2zM361 146.5h2v2h-2zM355 150h2v2h-2zM373 120h2v2h-2zM349.5 129h2v2h-2zM337.5 154h2v2h-2zM369 131.5h2v2h-2zM337 157.5h2v2h-2zM365 110h2v2h-2zM370 119.5h2v2h-2zM343.5 137.5h2v2h-2zM350.5 155.5h2v2h-2zM354.5 119.5h2v2h-2zM365.5 144.5h2v2h-2zM336.5 159.5h2v2h-2zM339.5 117.5h2v2h-2zM357.5 119.5h2v2h-2zM344 157.5h2v2h-2zM347 118.5h2v2h-2zM347.5 113.5h2v2h-2zM343.5 129h2v2h-2zM353.5 141h2v2h-2zM356.5 151h2v2h-2zM356 118.5h2v2h-2zM353.5 146.5h2v2h-2zM376 115.5h2v2h-2zM344.5 122.5h2v2h-2zM341.5 122.5h2v2h-2zM362.5 138h2v2h-2zM342.5 158.5h2v2h-2zM370.5 120.5h2v2h-2zM370.5 131h2v2h-2zM341.5 147h2v2h-2zM365 136.5h2v2h-2zM348.5 137h2v2h-2zM361.5 131h2v2h-2zM353 143h2v2h-2zM346 116h2v2h-2zM368 128h2v2h-2zM348 129h2v2h-2zM354 139.5h2v2h-2zM348.5 140h2v2h-2zM356.5 145h2v2h-2zM345.5 125h2v2h-2zM357.5 118h2v2h-2zM356.5 122h2v2h-2zM361 130h2v2h-2zM379 109.5h2v2h-2zM355.5 136.5h2v2h-2zM351 130.5h2v2h-2zM346 138.5h2v2h-2zM373 117h2v2h-2zM338 151h2v2h-2zM348 151h2v2h-2zM366 147h2v2h-2zM342.5 118h2v2h-2zM374 126h2v2h-2zM365.5 113h2v2h-2zM358 114h2v2h-2zM348 137.5h2v2h-2zM337 132.5h2v2h-2zM361.5 134.5h2v2h-2zM339.5 129.5h2v2h-2zM361.5 108h2v2h-2zM352 147.5h2v2h-2zM352.5 149.5h2v2h-2zM346 146.5h2v2h-2zM353.5 110h2v2h-2zM362.5 135.5h2v2h-2zM357.5 158h2v2h-2zM355.5 139.5h2v2h-2zM345.5 123h2v2h-2zM341 121h2v2h-2zM378 133h2v2h-2zM360.5 114.5h2v2h-2zM370 136.5h2v2h-2zM350.5 112h2v2h-2zM377 131h2v2h-2zM379.5 107h2v2h-2zM350 134h2v2h-2zM366.5 137.5h2v2h-2zM334.5 138.5h2v2h-2zM351 131h2v2h-2zM355.5 143.5h2v2h-2zM362 123.5h2v2h-2zM366.5 142h2v2h-2zM353 146h2v2h-2zM381.5 136h2v2h-2zM337 133.5h2v2h-2zM351.5 117h2v2h-2zM358 130h2v2h-2zM327.5 126.5h2v2h-2zM345.5 115h2v2h-2zM363.5 132h2v2h-2zM328.5 143.5h2v2h-2zM351 126.5h2v2h-2zM359.5 117h2v2h-2zM354.5 140.5h2v2h-2zM351 111h2v2h-2zM328.5 139h2v2h-2zM340 139.5h2v2h-2zM371 125h2v2h-2zM347 132.5h2v2h-2zM356 160h2v2h-2zM371.5 126h2v2h-2zM372.5 112.5h2v2h-2zM370.5 125.5h2v2h-2zM380 109.5h2v2h-2zM378 128h2v2h-2zM360 129.5h2v2h-2zM381.5 101h2v2h-2zM377.5 110h2v2h-2zM373.5 117h2v2h-2zM392 94h2v2h-2zM366.5 136h2v2h-2zM366 111.5h2v2h-2zM378.5 106h2v2h-2zM377 106h2v2h-2zM394 100.5h2v2h-2zM393 100.5h2v2h-2zM388 102.5h2v2h-2zM391 104.5h2v2h-2zM391 95h2v2h-2zM363 129h2v2h-2zM378.5 121.5h2v2h-2zM379.5 107.5h2v2h-2zM379 109h2v2h-2zM397.5 91.5h2v2h-2zM384.5 109h2v2h-2zM388.5 100h2v2h-2zM374.5 114.5h2v2h-2zM394 98h2v2h-2zM404.5 85h2v2h-2zM390 98.5h2v2h-2zM392 97h2v2h-2zM374.5 116.5h2v2h-2zM369 126h2v2h-2zM389 106h2v2h-2zM364 121.5h2v2h-2zM377 113.5h2v2h-2zM383.5 105h2v2h-2zM399 88.5h2v2h-2zM362 125.5h2v2h-2zM404 84.5h2v2h-2zM395 98h2v2h-2zM358.5 119h2v2h-2zM374.5 120.5h2v2h-2zM381.5 118h2v2h-2zM399 91.5h2v2h-2zM382.5 109.5h2v2h-2zM381 119h2v2h-2zM396 95h2v2h-2zM374.5 104h2v2h-2zM374 109.5h2v2h-2zM374 107.5h2v2h-2zM381.5 107.5h2v2h-2zM364.5 131h2v2h-2zM381 109.5h2v2h-2zM380.5 103.5h2v2h-2zM361.5 126.5h2v2h-2zM378.5 108.5h2v2h-2zM389.5 104.5h2v2h-2zM380.5 101h2v2h-2zM377.5 101h2v2h-2zM383 106h2v2h-2zM370.5 115.5h2v2h-2zM385 108h2v2h-2zM387 102.5h2v2h-2zM376.5 113h2v2h-2zM372.5 120h2v2h-2zM392.5 99h2v2h-2zM378 108.5h2v2h-2zM366.5 113h2v2h-2zM371.5 122h2v2h-2zM367.5 109.5h2v2h-2zM368.5 131.5h2v2h-2zM384.5 107h2v2h-2zM385 109.5h2v2h-2zM389.5 100.5h2v2h-2zM384 106h2v2h-2zM359.5 129.5h2v2h-2zM372 105h2v2h-2zM366.5 123h2v2h-2zM374 118.5h2v2h-2zM373.5 109.5h2v2h-2zM370.5 118.5h2v2h-2zM376 120.5h2v2h-2zM378 114h2v2h-2zM376 111h2v2h-2zM369 131h2v2h-2zM371.5 115h2v2h-2zM399.5 89.5h2v2h-2zM363.5 135h2v2h-2zM397.5 92.5h2v2h-2zM363.5 134.5h2v2h-2zM366 115h2v2h-2zM395 97.5h2v2h-2zM369.5 117h2v2h-2zM384 102h2v2h-2zM380 108h2v2h-2zM387 98h2v2h-2zM369 119h2v2h-2zM362 129.5h2v2h-2zM379.5 108.5h2v2h-2zM376.5 109h2v2h-2zM380 120h2v2h-2zM393.5 93.5h2v2h-2zM366.5 118.5h2v2h-2zM388 100.5h2v2h-2zM375 118.5h2v2h-2zM404 82.5h2v2h-2zM376.5 111.5h2v2h-2zM378.5 105.5h2v2h-2zM365 112h2v2h-2zM391 106.5h2v2h-2zM403 89.5h2v2h-2zM357.5 121h2v2h-2zM387.5 108h2v2h-2zM382 117h2v2h-2zM378 104.5h2v2h-2zM397 89.5h2v2h-2zM369.5 116h2v2h-2zM375.5 112h2v2h-2zM378.5 111.5h2v2h-2zM392.5 94h2v2h-2zM380 110.5h2v2h-2zM391.5 97.5h2v2h-2zM374.5 108h2v2h-2zM368.5 115h2v2h-2zM399.5 94h2v2h-2zM367.5 135h2v2h-2zM370 125.5h2v2h-2zM376.5 110.5h2v2h-2zM381.5 102h2v2h-2zM368 116h2v2h-2zM379 116h2v2h-2zM370 112h2v2h-2zM372.5 120.5h2v2h-2zM367.5 128.5h2v2h-2zM371 108h2v2h-2zM380.5 103h2v2h-2zM389.5 97.5h2v2h-2zM381.5 97.5h2v2h-2zM357.5 127.5h2v2h-2zM370 116h2v2h-2zM361 129h2v2h-2zM370.5 112.5h2v2h-2zM389 96.5h2v2h-2zM374 104h2v2h-2zM375 117.5h2v2h-2zM358.5 117.5h2v2h-2zM379.5 102h2v2h-2zM400 92h2v2h-2zM375 103.5h2v2h-2zM375 112.5h2v2h-2zM382.5 105h2v2h-2zM380 113.5h2v2h-2zM395 94.5h2v2h-2zM398.5 88h2v2h-2zM394.5 97h2v2h-2zM381.5 104.5h2v2h-2zM383.5 106.5h2v2h-2zM378.5 108h2v2h-2zM366.5 113.5h2v2h-2zM374 112h2v2h-2zM386 108h2v2h-2zM380.5 104h2v2h-2zM389 100h2v2h-2zM393 98h2v2h-2zM374 131.5h2v2h-2zM376 112.5h2v2h-2zM371.5 113h2v2h-2zM377.5 113.5h2v2h-2zM388.5 99.5h2v2h-2zM365 117.5h2v2h-2zM383.5 97h2v2h-2zM399.5 90.5h2v2h-2zM367 110h2v2h-2zM368 124.5h2v2h-2zM385.5 114.5h2v2h-2zM401.5 89.5h2v2h-2zM363.5 128h2v2h-2zM371 110h2v2h-2zM356.5 122.5h2v2h-2zM376 111.5h2v2h-2zM374 113.5h2v2h-2zM393 99h2v2h-2zM369 116.5h2v2h-2zM381 103.5h2v2h-2zM400.5 90.5h2v2h-2zM372.5 109.5h2v2h-2zM368.5 110h2v2h-2zM376 120h2v2h-2zM387 100h2v2h-2zM365.5 122.5h2v2h-2zM394.5 95h2v2h-2zM393.5 92h2v2h-2zM370.5 113h2v2h-2zM400 90h2v2h-2zM369.5 124h2v2h-2zM390 99.5h2v2h-2zM364.5 132h2v2h-2zM355 125h2v2h-2zM363 132h2v2h-2zM384 103.5h2v2h-2zM388 106h2v2h-2zM362.5 130h2v2h-2zM368 125h2v2h-2zM394 92.5h2v2h-2zM386.5 99.5h2v2h-2zM393 96.5h2v2h-2zM387.5 103.5h2v2h-2zM366.5 131.5h2v2h-2zM377.5 113h2v2h-2zM361.5 128.5h2v2h-2zM378.5 102h2v2h-2zM392 94.5h2v2h-2zM379 101.5h2v2h-2zM370.5 135h2v2h-2zM363 131h2v2h-2zM377 109h2v2h-2zM371.5 114.5h2v2h-2zM383 103h2v2h-2zM375.5 111.5h2v2h-2zM375 120h2v2h-2zM385 105.5h2v2h-2zM395.5 93h2v2h-2zM371 113.5h2v2h-2zM387.5 101.5h2v2h-2zM386.5 114h2v2h-2zM387.5 98h2v2h-2zM362 133h2v2h-2zM358.5 128h2v2h-2zM374 111.5h2v2h-2zM365.5 125.5h2v2h-2zM360 131.5h2v2h-2zM366 119h2v2h-2zM367 134.5h2v2h-2zM368 119h2v2h-2zM384.5 103h2v2h-2zM377.5 111h2v2h-2zM386 100h2v2h-2zM383 105.5h2v2h-2zM362.5 123h2v2h-2zM361.5 130.5h2v2h-2zM371.5 118.5h2v2h-2zM383.5 104h2v2h-2zM405 85h2v2h-2zM365.5 112.5h2v2h-2zM361 127h2v2h-2zM362 129h2v2h-2zM398.5 92h2v2h-2zM399.5 86.5h2v2h-2zM376 107.5h2v2h-2zM371 122h2v2h-2zM375 109.5h2v2h-2zM380.5 109.5h2v2h-2zM394 93h2v2h-2zM383 104.5h2v2h-2zM363 115h2v2h-2zM376.5 107.5h2v2h-2zM394.5 96.5h2v2h-2zM383.5 111h2v2h-2zM385.5 107.5h2v2h-2zM370 123h2v2h-2zM381.5 109.5h2v2h-2zM392 95.5h2v2h-2zM381 100h2v2h-2zM367.5 119h2v2h-2zM376 108.5h2v2h-2zM370.5 117.5h2v2h-2zM395 103.5h2v2h-2zM389 108h2v2h-2zM385.5 100h2v2h-2zM377.5 107h2v2h-2zM394 97h2v2h-2zM368.5 130h2v2h-2zM381 104h2v2h-2zM364 119h2v2h-2zM406 86.5h2v2h-2zM372.5 123.5h2v2h-2zM377 111h2v2h-2zM365 114h2v2h-2zM368 118h2v2h-2zM357.5 123.5h2v2h-2zM380.5 107h2v2h-2zM368.5 111.5h2v2h-2zM372 116.5h2v2h-2zM377.5 109.5h2v2h-2zM380 106.5h2v2h-2zM405 82.5h2v2h-2zM387 98.5h2v2h-2zM365.5 114h2v2h-2zM369 117.5h2v2h-2zM400.5 91h2v2h-2zM388.5 101.5h2v2h-2zM376 119h2v2h-2zM377.5 108h2v2h-2zM400.5 89h2v2h-2zM397 89h2v2h-2zM388 99.5h2v2h-2zM388 101.5h2v2h-2zM375.5 101h2v2h-2zM401 92.5h2v2h-2zM381 101h2v2h-2zM364.5 108h2v2h-2zM377 102.5h2v2h-2zM385 106.5h2v2h-2zM375.5 122h2v2h-2zM378.5 116.5h2v2h-2zM391 96.5h2v2h-2zM381 102.5h2v2h-2zM371 119.5h2v2h-2zM378 102.5h2v2h-2zM367.5 134h2v2h-2zM364 131.5h2v2h-2zM396.5 92h2v2h-2zM372 108h2v2h-2zM366.5 127h2v2h-2zM398 89.5h2v2h-2zM397 91.5h2v2h-2zM382 111h2v2h-2zM393.5 94.5h2v2h-2zM390.5 94.5h2v2h-2zM393.5 97.5h2v2h-2zM395.5 92.5h2v2h-2zM362.5 128h2v2h-2zM364.5 123.5h2v2h-2zM382.5 112h2v2h-2zM398 93h2v2h-2zM369 120.5h2v2h-2zM361 118.5h2v2h-2zM361.5 116.5h2v2h-2zM368.5 119h2v2h-2zM388 100h2v2h-2zM386 104h2v2h-2zM389 98.5h2v2h-2zM376.5 112h2v2h-2zM399 91h2v2h-2zM388 104.5h2v2h-2zM379.5 116h2v2h-2zM377.5 115h2v2h-2zM395.5 94.5h2v2h-2zM370.5 109.5h2v2h-2zM398 93.5h2v2h-2zM387.5 115.5h2v2h-2zM392.5 95h2v2h-2zM362.5 129.5h2v2h-2zM377.5 121.5h2v2h-2zM366.5 120.5h2v2h-2zM383.5 114.5h2v2h-2zM372 108.5h2v2h-2zM377 121h2v2h-2zM379 110.5h2v2h-2zM372.5 108.5h2v2h-2zM366 120h2v2h-2zM386.5 102.5h2v2h-2zM385 101h2v2h-2zM396 88h2v2h-2zM399.5 92h2v2h-2zM380 118h2v2h-2zM393.5 99.5h2v2h-2zM378 107.5h2v2h-2zM369 113.5h2v2h-2zM363 123.5h2v2h-2zM367.5 109h2v2h-2zM386.5 105h2v2h-2zM379.5 116.5h2v2h-2zM390 100.5h2v2h-2zM382.5 111h2v2h-2zM371.5 121.5h2v2h-2zM406.5 84h2v2h-2zM361.5 118.5h2v2h-2zM379.5 113h2v2h-2zM370 118.5h2v2h-2zM374 113h2v2h-2zM373.5 98.5h2v2h-2zM375.5 107h2v2h-2zM367 121h2v2h-2zM367 124h2v2h-2zM360.5 122h2v2h-2zM365.5 123h2v2h-2zM359.5 129h2v2h-2zM374.5 129h2v2h-2zM364 115.5h2v2h-2zM389.5 107.5h2v2h-2zM367.5 123.5h2v2h-2zM369.5 126.5h2v2h-2zM382 104h2v2h-2zM373 123h2v2h-2zM371.5 125h2v2h-2zM387.5 104h2v2h-2zM372.5 124h2v2h-2zM365.5 123.5h2v2h-2zM375.5 115h2v2h-2zM378 111h2v2h-2zM373 114h2v2h-2zM393 96h2v2h-2zM380 107h2v2h-2zM388 102h2v2h-2zM376.5 116.5h2v2h-2zM391.5 92.5h2v2h-2zM374.5 119h2v2h-2zM395.5 91h2v2h-2zM370.5 114.5h2v2h-2zM400 90.5h2v2h-2zM380 116.5h2v2h-2zM373 119.5h2v2h-2zM392.5 93h2v2h-2zM362.5 122h2v2h-2zM388.5 97.5h2v2h-2zM372 119h2v2h-2zM398 88h2v2h-2zM387.5 96.5h2v2h-2zM402 87h2v2h-2zM371.5 124h2v2h-2zM369 121.5h2v2h-2zM392.5 98.5h2v2h-2zM396.5 90h2v2h-2zM375.5 103.5h2v2h-2zM371 126.5h2v2h-2zM373.5 126h2v2h-2zM383 116h2v2h-2zM380.5 106h2v2h-2zM368 125.5h2v2h-2zM378.5 114h2v2h-2zM398.5 90.5h2v2h-2zM368.5 121.5h2v2h-2zM378 109h2v2h-2zM366.5 126.5h2v2h-2zM379.5 113.5h2v2h-2zM368.5 121h2v2h-2zM372 115.5h2v2h-2zM385.5 95h2v2h-2zM375.5 113.5h2v2h-2zM362.5 112h2v2h-2zM406 84h2v2h-2zM366 132h2v2h-2zM397 93h2v2h-2zM367 124.5h2v2h-2zM383 104h2v2h-2zM388.5 103h2v2h-2zM367.5 126.5h2v2h-2zM387.5 99.5h2v2h-2zM371 114.5h2v2h-2zM400 91.5h2v2h-2zM371.5 116.5h2v2h-2zM361.5 123.5h2v2h-2zM385.5 100.5h2v2h-2zM378 125h2v2h-2zM372.5 115.5h2v2h-2zM395.5 91.5h2v2h-2zM367 113.5h2v2h-2zM403.5 85h2v2h-2zM378.5 118.5h2v2h-2zM383.5 112.5h2v2h-2zM363.5 120h2v2h-2zM403 85.5h2v2h-2zM381.5 100h2v2h-2zM370.5 107.5h2v2h-2zM369 116h2v2h-2zM366.5 114.5h2v2h-2zM376.5 105.5h2v2h-2zM388 98.5h2v2h-2zM379 110h2v2h-2zM359 118h2v2h-2zM384.5 108.5h2v2h-2zM404 86h2v2h-2zM373.5 129h2v2h-2zM383 109.5h2v2h-2zM375 115h2v2h-2zM383 103.5h2v2h-2zM386.5 106h2v2h-2zM361 122.5h2v2h-2zM399 92.5h2v2h-2zM382 107h2v2h-2zM384.5 103.5h2v2h-2zM358 125.5h2v2h-2zM371.5 127h2v2h-2zM378.5 109h2v2h-2zM352.5 122.5h2v2h-2zM387 97.5h2v2h-2zM363 116.5h2v2h-2zM380.5 110h2v2h-2zM357 115h2v2h-2zM378 108h2v2h-2zM379.5 111.5h2v2h-2zM399.5 85h2v2h-2zM383.5 106h2v2h-2zM363 112h2v2h-2zM390.5 98.5h2v2h-2zM358.5 118h2v2h-2zM382.5 115h2v2h-2zM384 97.5h2v2h-2zM388.5 104.5h2v2h-2zM382 129.5h2v2h-2zM369 127h2v2h-2zM373 112h2v2h-2zM365.5 116.5h2v2h-2zM374 119.5h2v2h-2zM382.5 107h2v2h-2zM377.5 110.5h2v2h-2zM366 117h2v2h-2zM386.5 104h2v2h-2zM399 87.5h2v2h-2zM398.5 96h2v2h-2zM377.5 107.5h2v2h-2zM373 117.5h2v2h-2zM390.5 96h2v2h-2zM380.5 108.5h2v2h-2zM400 88.5h2v2h-2zM402.5 86h2v2h-2zM381 113h2v2h-2zM369.5 118h2v2h-2zM374 105.5h2v2h-2zM369 115h2v2h-2zM391 94h2v2h-2zM388.5 103.5h2v2h-2zM389 97.5h2v2h-2zM362 117.5h2v2h-2zM374 114.5h2v2h-2zM375.5 121h2v2h-2zM355.5 125.5h2v2h-2zM387.5 111h2v2h-2zM373 108.5h2v2h-2zM363 121.5h2v2h-2zM373.5 106h2v2h-2zM372 121h2v2h-2zM388.5 95h2v2h-2zM363 126.5h2v2h-2zM374.5 111h2v2h-2zM373.5 105.5h2v2h-2zM374.5 128.5h2v2h-2zM385.5 105h2v2h-2zM381 108.5h2v2h-2zM373.5 113.5h2v2h-2zM361 132h2v2h-2zM371 117h2v2h-2zM375.5 120.5h2v2h-2zM383.5 110h2v2h-2zM375 112h2v2h-2zM404.5 84h2v2h-2zM377 107h2v2h-2zM373.5 113h2v2h-2zM358.5 114h2v2h-2zM376 108h2v2h-2zM384.5 104h2v2h-2zM373.5 121h2v2h-2zM368 107.5h2v2h-2zM379 111.5h2v2h-2zM377.5 111.5h2v2h-2zM391 98.5h2v2h-2zM390.5 96.5h2v2h-2zM379 108h2v2h-2zM376.5 102.5h2v2h-2zM383.5 105.5h2v2h-2zM388.5 101h2v2h-2zM377.5 106h2v2h-2zM402.5 85h2v2h-2zM368.5 106h2v2h-2zM375 115.5h2v2h-2zM378 104h2v2h-2zM375.5 110h2v2h-2zM392.5 97.5h2v2h-2zM375 133.5h2v2h-2zM379.5 110h2v2h-2zM394.5 94.5h2v2h-2zM401 84h2v2h-2zM381.5 103h2v2h-2zM368 123.5h2v2h-2zM365 121h2v2h-2zM386.5 99h2v2h-2zM390 103h2v2h-2zM373 111h2v2h-2zM389.5 102.5h2v2h-2zM372 122.5h2v2h-2zM379.5 125.5h2v2h-2zM395 92.5h2v2h-2zM374 118h2v2h-2zM385 103.5h2v2h-2zM379.5 109.5h2v2h-2zM387 107.5h2v2h-2zM391.5 89h2v2h-2zM375.5 123h2v2h-2zM367.5 116h2v2h-2zM365 123h2v2h-2zM378 112h2v2h-2zM389.5 103.5h2v2h-2zM370.5 140h2v2h-2zM371 116.5h2v2h-2zM367.5 114h2v2h-2zM367 122h2v2h-2zM373.5 118.5h2v2h-2zM369 118h2v2h-2zM381.5 108h2v2h-2zM381.5 96.5h2v2h-2zM369 122h2v2h-2zM358 120.5h2v2h-2zM375.5 127h2v2h-2zM373.5 119h2v2h-2zM380 110h2v2h-2zM379 124h2v2h-2zM362.5 116.5h2v2h-2zM352 122h2v2h-2zM361 115.5h2v2h-2zM375 126.5h2v2h-2zM378.5 113h2v2h-2zM389.5 102h2v2h-2zM380 105h2v2h-2zM364.5 118.5h2v2h-2zM380 103h2v2h-2zM398 91h2v2h-2zM387.5 106.5h2v2h-2zM388.5 94h2v2h-2zM403 84.5h2v2h-2zM360.5 120h2v2h-2zM398.5 93.5h2v2h-2zM361 112h2v2h-2zM380.5 105h2v2h-2zM385 107h2v2h-2zM395 95h2v2h-2zM369.5 116.5h2v2h-2zM385.5 104h2v2h-2zM372.5 115h2v2h-2zM373.5 125.5h2v2h-2zM378.5 115.5h2v2h-2zM395.5 95h2v2h-2zM368 111h2v2h-2zM374.5 134.5h2v2h-2zM373 116.5h2v2h-2zM377.5 119h2v2h-2zM379 103.5h2v2h-2zM353.5 118.5h2v2h-2zM369.5 123h2v2h-2zM374 122.5h2v2h-2zM384 100h2v2h-2zM375.5 111h2v2h-2zM374 115h2v2h-2zM381 109h2v2h-2zM394 95h2v2h-2zM398.5 91h2v2h-2zM364.5 118h2v2h-2zM384.5 99.5h2v2h-2zM391.5 96h2v2h-2zM376 110.5h2v2h-2zM381 106h2v2h-2zM384 101.5h2v2h-2zM400 87.5h2v2h-2zM399.5 86h2v2h-2zM387 103.5h2v2h-2zM386 102.5h2v2h-2zM376.5 115.5h2v2h-2zM371 112h2v2h-2zM370.5 120h2v2h-2zM371.5 113.5h2v2h-2zM374 106h2v2h-2zM375.5 116h2v2h-2zM361.5 121h2v2h-2zM384 100.5h2v2h-2zM391.5 98h2v2h-2zM387.5 100.5h2v2h-2zM380.5 99.5h2v2h-2zM376.5 114.5h2v2h-2zM354.5 122.5h2v2h-2zM377 114.5h2v2h-2zM375 113.5h2v2h-2zM373 118h2v2h-2zM401.5 86.5h2v2h-2zM392.5 95.5h2v2h-2zM376.5 119h2v2h-2zM377 119.5h2v2h-2zM365 113h2v2h-2zM365 121.5h2v2h-2zM382 98.5h2v2h-2zM367 111.5h2v2h-2zM371 123.5h2v2h-2zM381 107.5h2v2h-2zM374 121h2v2h-2zM386.5 101.5h2v2h-2zM384.5 100h2v2h-2zM391 96h2v2h-2zM356.5 109.5h2v2h-2zM389.5 98.5h2v2h-2zM361.5 117h2v2h-2zM387 100.5h2v2h-2zM379 137.5h2v2h-2zM385 103h2v2h-2zM387.5 100h2v2h-2zM401 86.5h2v2h-2zM372.5 131.5h2v2h-2zM375.5 106.5h2v2h-2zM392.5 104.5h2v2h-2zM381.5 112.5h2v2h-2zM364.5 116.5h2v2h-2zM374 105h2v2h-2zM364 129.5h2v2h-2zM387.5 102h2v2h-2zM402.5 86.5h2v2h-2zM374.5 111.5h2v2h-2zM355.5 118.5h2v2h-2zM371.5 121h2v2h-2zM367 114.5h2v2h-2zM377.5 117.5h2v2h-2zM376 117.5h2v2h-2zM372 129.5h2v2h-2zM363.5 115.5h2v2h-2zM390.5 99h2v2h-2zM391 94.5h2v2h-2zM396.5 94.5h2v2h-2zM367 131h2v2h-2zM393 92h2v2h-2zM359 127.5h2v2h-2zM397 90h2v2h-2zM394.5 90.5h2v2h-2zM384 109.5h2v2h-2zM360.5 128.5h2v2h-2zM359.5 122h2v2h-2zM374 115.5h2v2h-2zM370 116.5h2v2h-2zM367 130h2v2h-2zM389.5 95.5h2v2h-2zM377.5 108.5h2v2h-2zM384.5 101.5h2v2h-2zM375 107.5h2v2h-2zM365.5 134h2v2h-2zM370 98.5h2v2h-2zM377.5 100.5h2v2h-2zM394.5 94h2v2h-2zM388.5 102.5h2v2h-2zM393.5 96.5h2v2h-2zM369.5 121.5h2v2h-2zM383 74.5h2v2h-2zM386 93h2v2h-2zM381 102h2v2h-2zM375.5 80h2v2h-2zM368 78.5h2v2h-2zM374 80h2v2h-2zM369.5 82h2v2h-2zM371.5 97h2v2h-2zM379 79.5h2v2h-2zM373.5 93.5h2v2h-2zM366.5 81h2v2h-2zM366.5 83h2v2h-2zM378.5 89.5h2v2h-2zM372.5 84.5h2v2h-2zM367 85h2v2h-2zM392 87h2v2h-2zM379.5 87.5h2v2h-2zM370.5 89h2v2h-2zM381 89.5h2v2h-2zM391 83.5h2v2h-2zM376.5 81h2v2h-2zM381.5 80h2v2h-2zM367.5 97.5h2v2h-2zM389.5 90h2v2h-2zM365 90h2v2h-2zM376.5 94h2v2h-2zM381 96h2v2h-2zM382 99.5h2v2h-2zM369.5 87.5h2v2h-2zM367 79.5h2v2h-2zM391.5 86h2v2h-2zM374.5 91h2v2h-2zM385 99h2v2h-2zM372 78.5h2v2h-2zM388.5 89h2v2h-2zM391.5 80h2v2h-2zM388.5 76.5h2v2h-2zM376.5 84h2v2h-2zM384 92.5h2v2h-2zM371 87h2v2h-2zM390.5 88h2v2h-2zM390.5 79h2v2h-2zM387 72.5h2v2h-2zM369 76h2v2h-2zM385.5 84.5h2v2h-2zM374 90h2v2h-2zM370 83.5h2v2h-2zM387.5 95.5h2v2h-2zM384 96.5h2v2h-2zM376 97h2v2h-2zM366.5 95h2v2h-2zM390.5 87h2v2h-2zM382 87.5h2v2h-2zM377 91h2v2h-2zM377 91.5h2v2h-2zM381 84.5h2v2h-2zM374.5 82.5h2v2h-2zM379 78.5h2v2h-2zM367.5 90.5h2v2h-2zM396 89h2v2h-2zM383.5 82h2v2h-2zM369.5 99h2v2h-2zM358.5 87.5h2v2h-2zM377 86h2v2h-2zM375.5 94h2v2h-2zM386 78h2v2h-2zM378.5 96.5h2v2h-2zM361.5 88h2v2h-2zM369 99h2v2h-2zM391 82h2v2h-2zM374 85h2v2h-2zM375.5 93h2v2h-2zM376.5 85.5h2v2h-2zM368.5 86.5h2v2h-2zM371 90.5h2v2h-2zM392 88.5h2v2h-2zM379 82h2v2h-2zM375 87.5h2v2h-2zM382 87h2v2h-2zM383.5 81h2v2h-2zM378 100h2v2h-2zM377.5 90.5h2v2h-2zM386 78.5h2v2h-2zM384.5 82.5h2v2h-2zM401.5 82.5h2v2h-2zM380.5 88.5h2v2h-2zM389.5 80.5h2v2h-2zM373 90.5h2v2h-2zM366.5 93h2v2h-2zM375.5 87h2v2h-2zM384.5 90h2v2h-2zM375.5 92.5h2v2h-2zM383.5 86h2v2h-2zM381 88h2v2h-2zM381 86.5h2v2h-2zM376 68h2v2h-2zM395.5 82.5h2v2h-2zM384 82h2v2h-2zM372.5 87.5h2v2h-2zM393 91.5h2v2h-2zM392 92.5h2v2h-2zM376.5 89.5h2v2h-2zM381 93h2v2h-2zM367 81.5h2v2h-2zM387 82h2v2h-2zM378.5 96h2v2h-2zM428.5 46h2v2h-2zM425.5 62h2v2h-2zM427.5 58h2v2h-2zM421 64.5h2v2h-2zM384 60.5h2v2h-2zM392 60.5h2v2h-2z"/>
<path d="M330.4 21L390.5 182.2" stroke="#84329a" stroke-width="1.1" fill="none"/>
<path d="M295.5 140.2L445.3 65.6" stroke="#84329a" stroke-width="1.1" fill="none"/>
<path d="M291.7 170.1h2.6M306.6 183.2v3.5M291.7 163h2.6M313.2 183.2v3.5M291.7 157.9h2.6M317.9 183.2v3.5M291.7 154h2.6M321.5 183.2v3.5M291.7 150.8h2.6M324.5 183.2v3.5M291.7 148.1h2.6M327 183.2v3.5M291.7 145.8h2.6M329.2 183.2v3.5M291.7 143.7h2.6M331.1 183.2v3.5M291.7 129.8h2.6M344.1 183.2v3.5M291.7 122.7h2.6M350.7 183.2v3.5M291.7 117.6h2.6M355.4 183.2v3.5M291.7 113.7h2.6M359 183.2v3.5M291.7 110.5h2.6M362 183.2v3.5M291.7 107.8h2.6M364.5 183.2v3.5M291.7 105.5h2.6M366.7 183.2v3.5M291.7 103.4h2.6M368.6 183.2v3.5M291.7 89.5h2.6M381.6 183.2v3.5M291.7 82.4h2.6M388.2 183.2v3.5M291.7 77.3h2.6M392.9 183.2v3.5M291.7 73.4h2.6M396.5 183.2v3.5M291.7 70.2h2.6M399.5 183.2v3.5M291.7 67.5h2.6M402 183.2v3.5M291.7 65.2h2.6M404.2 183.2v3.5M291.7 63.1h2.6M406.1 183.2v3.5M291.7 49.2h2.6M419.1 183.2v3.5M291.7 42.1h2.6M425.7 183.2v3.5M291.7 37h2.6M430.4 183.2v3.5M291.7 33.1h2.6M434 183.2v3.5M291.7 29.9h2.6M437 183.2v3.5M291.7 27.2h2.6M439.5 183.2v3.5M291.7 24.9h2.6M441.7 183.2v3.5M291.7 22.8h2.6M443.6 183.2v3.5" stroke="#2a7f32" stroke-width="0.9" fill="none"/>
<path d="M290.3 182.2H295.3M295.3 183.2v5M290.3 141.9H295.3M332.8 183.2v5M290.3 101.6H295.3M370.3 183.2v5M290.3 61.3H295.3M407.8 183.2v5M290.3 21H295.3M445.3 183.2v5" stroke="#2a7f32" stroke-width="1" fill="none"/>
<path d="M295.3 20.5V183.2" stroke="#044804" stroke-width="2" fill="none"/>
<text x="290.3" y="185.2" text-anchor="end" class="tl" textLength="16" lengthAdjust="spacingAndGlyphs">10e0</text>
<text x="295.3" y="194.7" text-anchor="middle" class="tl" textLength="16" lengthAdjust="spacingAndGlyphs">10e0</text>
<text x="290.3" y="144.9" text-anchor="end" class="tl" textLength="16" lengthAdjust="spacingAndGlyphs">10e1</text>
<text x="332.8" y="194.7" text-anchor="middle" class="tl" textLength="16" lengthAdjust="spacingAndGlyphs">10e1</text>
<text x="290.3" y="104.6" text-anchor="end" class="tl" textLength="16" lengthAdjust="spacingAndGlyphs">10e2</text>
<text x="370.3" y="194.7" text-anchor="middle" class="tl" textLength="16" lengthAdjust="spacingAndGlyphs">10e2</text>
<text x="290.3" y="64.3" text-anchor="end" class="tl" textLength="16" lengthAdjust="spacingAndGlyphs">10e3</text>
<text x="407.8" y="194.7" text-anchor="middle" class="tl" textLength="16" lengthAdjust="spacingAndGlyphs">10e3</text>
<text x="290.3" y="24" text-anchor="end" class="tl" textLength="16" lengthAdjust="spacingAndGlyphs">10e4</text>
<text x="445.3" y="194.7" text-anchor="middle" class="tl" textLength="16" lengthAdjust="spacingAndGlyphs">10e4</text>
<text x="370.3" y="12.8" text-anchor="middle" class="tt" textLength="35.5" lengthAdjust="spacingAndGlyphs">Apoptosis</text>
<text x="370.3" y="204.7" text-anchor="middle" class="tt" textLength="70.5" lengthAdjust="spacingAndGlyphs">Annexin V-PE (PM1)</text>
<text transform="translate(262.8 101) rotate(-90)" text-anchor="middle" class="tt" textLength="48.5" lengthAdjust="spacingAndGlyphs">7-AAD (PM2)</text>
<text x="232.1" y="18.6" class="lt">b</text>
<path d="M527.2 19H676.3" fill="none" stroke="#6e6e6e" stroke-width="1.6"/>
<path d="M675.5 19V182.3" fill="none" stroke="#606060" stroke-width="1.5"/>
<path d="M527.2 182.3H675.5" fill="none" stroke="#444444" stroke-width="1.4"/>
<text x="592.5" y="48.4" class="pc" textLength="51.9" lengthAdjust="spacingAndGlyphs">2.5 ± 0.2%</text>
<text x="613.7" y="142.9" class="pc" textLength="57.6" lengthAdjust="spacingAndGlyphs">45.3 ± 0.6%</text>
<text x="543.4" y="175.1" class="pc" textLength="56.7" lengthAdjust="spacingAndGlyphs">52.1 ± 0.7%</text>
<path fill="#ff0000" d="M593.5 131h2v2h-2zM602.5 114.5h2v2h-2zM595.5 131h2v2h-2zM584 132.5h2v2h-2zM586.5 133.5h2v2h-2zM595 126h2v2h-2zM589.5 131h2v2h-2zM597 133h2v2h-2zM579 135h2v2h-2zM602 125h2v2h-2zM601 121.5h2v2h-2zM581.5 145h2v2h-2zM588.5 125.5h2v2h-2zM586.5 141.5h2v2h-2zM588 140.5h2v2h-2zM587 124h2v2h-2zM585 132.5h2v2h-2zM594.5 128h2v2h-2zM598 122.5h2v2h-2zM587.5 136h2v2h-2zM592 128.5h2v2h-2zM582 130h2v2h-2zM596 126.5h2v2h-2zM603.5 130.5h2v2h-2zM594 115.5h2v2h-2zM590 129h2v2h-2zM578.5 147.5h2v2h-2zM588.5 136h2v2h-2zM578.5 112h2v2h-2zM595 124.5h2v2h-2zM601 130h2v2h-2zM598.5 136h2v2h-2zM591.5 138.5h2v2h-2zM593.5 127.5h2v2h-2zM586.5 124.5h2v2h-2zM592 123h2v2h-2zM592 126.5h2v2h-2zM590.5 126h2v2h-2zM574.5 136.5h2v2h-2zM592 128h2v2h-2zM593 121.5h2v2h-2zM586 133.5h2v2h-2zM593 122.5h2v2h-2zM595 143.5h2v2h-2zM577.5 149h2v2h-2zM595.5 122h2v2h-2zM587 132.5h2v2h-2zM583 144h2v2h-2zM590.5 116.5h2v2h-2zM585 117.5h2v2h-2zM587 131.5h2v2h-2zM583.5 132h2v2h-2zM585.5 138.5h2v2h-2zM582.5 147h2v2h-2zM586 134h2v2h-2zM583 140h2v2h-2zM581.5 135.5h2v2h-2zM596 128.5h2v2h-2zM590 133.5h2v2h-2zM600 113.5h2v2h-2zM593.5 135.5h2v2h-2zM590 130h2v2h-2zM583.5 125h2v2h-2zM594.5 124h2v2h-2zM592.5 127.5h2v2h-2zM596 128h2v2h-2zM589 137h2v2h-2zM587.5 136.5h2v2h-2zM577.5 131h2v2h-2zM593 130.5h2v2h-2zM580.5 124.5h2v2h-2zM587 123.5h2v2h-2zM592.5 124h2v2h-2zM590 121.5h2v2h-2zM589 130.5h2v2h-2zM592.5 114h2v2h-2zM579 138.5h2v2h-2zM590 123.5h2v2h-2zM597 123h2v2h-2zM596.5 124h2v2h-2zM580.5 138.5h2v2h-2zM595 123.5h2v2h-2zM592 132.5h2v2h-2zM583.5 124.5h2v2h-2zM581.5 133h2v2h-2zM588.5 124h2v2h-2zM598 126h2v2h-2zM592.5 127h2v2h-2zM584 132h2v2h-2zM590 133h2v2h-2zM596 125.5h2v2h-2zM589 138.5h2v2h-2zM587 136h2v2h-2zM592.5 123.5h2v2h-2zM577 147.5h2v2h-2zM592 146h2v2h-2zM581.5 133.5h2v2h-2zM589 119.5h2v2h-2zM591.5 132.5h2v2h-2zM588.5 131.5h2v2h-2zM585 134h2v2h-2zM587.5 125h2v2h-2zM594.5 135.5h2v2h-2zM584.5 133.5h2v2h-2zM591.5 116.5h2v2h-2zM594.5 126h2v2h-2zM589.5 133h2v2h-2zM586.5 138.5h2v2h-2zM594 135h2v2h-2zM587.5 145h2v2h-2zM602 132h2v2h-2zM597.5 129.5h2v2h-2zM601 123.5h2v2h-2zM584 140h2v2h-2zM587 127.5h2v2h-2zM588 132.5h2v2h-2zM582 133.5h2v2h-2zM586.5 117h2v2h-2zM595.5 130.5h2v2h-2zM583.5 131h2v2h-2zM588 123h2v2h-2zM598.5 130.5h2v2h-2zM591.5 133h2v2h-2zM592.5 128h2v2h-2zM586 130.5h2v2h-2zM587.5 130h2v2h-2zM591.5 124h2v2h-2zM586 135.5h2v2h-2zM590 136h2v2h-2zM587 131h2v2h-2zM589 125.5h2v2h-2zM599 130.5h2v2h-2zM593.5 125.5h2v2h-2zM582 134h2v2h-2zM588.5 132h2v2h-2zM600.5 124.5h2v2h-2zM600.5 119.5h2v2h-2zM583 131h2v2h-2zM592.5 124.5h2v2h-2zM590 132h2v2h-2zM575 137.5h2v2h-2zM591.5 126.5h2v2h-2zM601.5 121.5h2v2h-2zM585.5 139.5h2v2h-2zM595.5 119h2v2h-2zM587 122.5h2v2h-2zM591.5 135h2v2h-2zM581 134.5h2v2h-2zM592.5 135h2v2h-2zM582 147.5h2v2h-2zM590 129.5h2v2h-2zM594.5 130.5h2v2h-2zM599.5 125h2v2h-2zM585 126h2v2h-2zM591 119.5h2v2h-2zM591 127h2v2h-2zM579 133.5h2v2h-2zM589 124.5h2v2h-2zM593 133h2v2h-2zM601.5 119h2v2h-2zM590.5 128.5h2v2h-2zM589.5 114h2v2h-2zM589.5 134h2v2h-2zM589.5 122h2v2h-2zM592.5 120h2v2h-2zM599 126h2v2h-2zM583.5 121h2v2h-2zM590 119.5h2v2h-2zM575.5 126.5h2v2h-2zM580 125h2v2h-2zM590.5 127h2v2h-2zM577 145.5h2v2h-2zM591.5 120h2v2h-2zM597.5 120h2v2h-2zM584.5 143h2v2h-2zM585.5 142.5h2v2h-2zM589.5 135.5h2v2h-2zM586.5 135h2v2h-2zM589.5 136h2v2h-2zM585.5 140h2v2h-2zM595 133h2v2h-2zM591.5 127.5h2v2h-2zM589.5 126.5h2v2h-2zM576.5 143h2v2h-2zM585.5 129h2v2h-2zM590 138h2v2h-2zM594 141.5h2v2h-2zM586 132h2v2h-2zM593 131.5h2v2h-2zM594.5 132h2v2h-2zM594 121.5h2v2h-2zM588.5 122.5h2v2h-2zM583 134h2v2h-2zM589.5 130.5h2v2h-2zM597.5 116.5h2v2h-2zM592 126h2v2h-2zM590 132.5h2v2h-2zM594 131h2v2h-2zM591 132.5h2v2h-2zM579 139h2v2h-2zM575 146.5h2v2h-2zM580 126.5h2v2h-2zM599.5 108.5h2v2h-2zM593.5 128h2v2h-2zM580.5 141.5h2v2h-2zM594 123h2v2h-2zM581 151.5h2v2h-2zM590.5 137.5h2v2h-2zM595 129.5h2v2h-2zM594 120h2v2h-2zM594.5 126.5h2v2h-2zM579.5 130h2v2h-2zM588.5 135.5h2v2h-2zM581 129.5h2v2h-2zM597.5 125h2v2h-2zM590.5 121.5h2v2h-2zM584 130h2v2h-2zM588.5 123.5h2v2h-2zM596 130.5h2v2h-2zM586 123.5h2v2h-2zM591 133h2v2h-2zM588 125.5h2v2h-2zM589 132h2v2h-2zM589.5 124h2v2h-2zM583.5 146.5h2v2h-2zM593 121h2v2h-2zM597.5 136h2v2h-2zM592.5 115h2v2h-2zM584.5 135h2v2h-2zM589.5 119.5h2v2h-2zM581.5 128h2v2h-2zM583.5 127.5h2v2h-2zM586 128h2v2h-2zM592.5 138h2v2h-2zM583 129h2v2h-2zM596 136.5h2v2h-2zM589.5 127h2v2h-2zM596 123.5h2v2h-2zM595 127.5h2v2h-2zM590.5 129h2v2h-2zM590 135.5h2v2h-2zM591 129h2v2h-2zM593.5 118.5h2v2h-2zM600 108.5h2v2h-2zM593 120h2v2h-2zM598.5 114h2v2h-2zM595 132h2v2h-2zM587.5 138h2v2h-2zM592.5 122h2v2h-2zM593.5 134.5h2v2h-2zM594.5 117.5h2v2h-2zM587.5 132h2v2h-2zM596 112h2v2h-2zM586 129h2v2h-2zM588.5 127.5h2v2h-2zM593.5 111.5h2v2h-2zM590.5 121h2v2h-2zM584.5 126.5h2v2h-2zM582.5 125.5h2v2h-2zM585.5 140.5h2v2h-2zM602 109h2v2h-2zM583.5 137h2v2h-2zM581.5 134h2v2h-2zM602 130h2v2h-2zM580 129.5h2v2h-2zM586 143.5h2v2h-2zM589.5 123.5h2v2h-2zM591.5 121h2v2h-2zM598.5 116.5h2v2h-2zM603 123h2v2h-2zM591 125h2v2h-2zM588 125h2v2h-2zM586.5 121.5h2v2h-2zM590.5 120h2v2h-2zM586.5 128h2v2h-2zM591 129.5h2v2h-2zM586.5 128.5h2v2h-2zM583 133.5h2v2h-2zM587.5 131.5h2v2h-2zM586 114h2v2h-2zM586.5 134h2v2h-2zM592 127h2v2h-2zM581.5 125.5h2v2h-2zM585.5 132.5h2v2h-2zM588.5 124.5h2v2h-2zM578.5 140h2v2h-2zM591 132h2v2h-2zM597 130.5h2v2h-2zM583.5 145.5h2v2h-2zM586.5 126.5h2v2h-2zM597 126h2v2h-2zM581.5 138h2v2h-2zM599 132h2v2h-2zM581.5 139h2v2h-2zM585 136h2v2h-2zM586 148.5h2v2h-2zM593.5 129h2v2h-2zM591.5 136h2v2h-2zM590.5 131h2v2h-2zM580 133h2v2h-2zM585.5 135h2v2h-2zM595.5 119.5h2v2h-2zM582 139h2v2h-2zM597 120.5h2v2h-2zM588 134h2v2h-2zM583 136h2v2h-2zM593.5 122.5h2v2h-2zM593.5 125h2v2h-2zM585 133.5h2v2h-2zM586 128.5h2v2h-2zM584 136h2v2h-2zM585.5 139h2v2h-2zM575.5 131h2v2h-2zM596.5 140h2v2h-2zM586 131h2v2h-2zM591.5 130.5h2v2h-2zM586.5 123h2v2h-2zM586 126h2v2h-2zM586 145h2v2h-2zM591 115.5h2v2h-2zM587 128h2v2h-2zM593.5 123.5h2v2h-2zM599.5 112h2v2h-2zM592 132h2v2h-2zM581 135h2v2h-2zM591 135.5h2v2h-2zM588 121h2v2h-2zM587 124.5h2v2h-2zM585 124h2v2h-2zM587.5 142.5h2v2h-2zM608 133h2v2h-2zM607.5 116h2v2h-2zM599.5 109h2v2h-2zM584 127.5h2v2h-2zM595.5 125.5h2v2h-2zM587.5 140.5h2v2h-2zM593 119h2v2h-2zM596 127.5h2v2h-2zM598.5 127h2v2h-2zM588 140h2v2h-2zM587.5 134.5h2v2h-2zM590 127.5h2v2h-2zM588.5 134.5h2v2h-2zM594 130.5h2v2h-2zM591 120h2v2h-2zM598 124.5h2v2h-2zM587.5 129h2v2h-2zM593 108.5h2v2h-2zM592 144h2v2h-2zM586 110h2v2h-2zM589 124h2v2h-2zM581.5 141h2v2h-2zM604.5 125.5h2v2h-2zM585.5 133.5h2v2h-2zM587.5 121h2v2h-2zM588 124.5h2v2h-2zM589 129.5h2v2h-2zM594 116h2v2h-2zM594 131.5h2v2h-2zM586 125.5h2v2h-2zM591.5 129h2v2h-2zM588 138.5h2v2h-2zM591 117.5h2v2h-2zM583.5 128h2v2h-2zM599.5 120.5h2v2h-2zM588.5 125h2v2h-2zM584 145.5h2v2h-2zM584.5 142.5h2v2h-2zM585 148h2v2h-2zM577 153.5h2v2h-2zM584 128h2v2h-2zM596 135h2v2h-2zM597 133.5h2v2h-2zM584 130.5h2v2h-2zM591.5 126h2v2h-2zM589 134h2v2h-2zM587 121h2v2h-2zM595 129h2v2h-2zM589 134.5h2v2h-2zM595 131h2v2h-2zM585 127.5h2v2h-2zM585 140h2v2h-2zM603 120h2v2h-2zM584.5 141h2v2h-2zM597 122h2v2h-2zM597 137h2v2h-2zM591 128h2v2h-2zM590 141.5h2v2h-2zM590.5 135.5h2v2h-2zM589 131h2v2h-2zM588.5 135h2v2h-2zM595 136h2v2h-2zM590.5 109h2v2h-2zM589 131.5h2v2h-2zM601.5 123.5h2v2h-2zM590.5 127.5h2v2h-2zM594 119h2v2h-2zM585.5 137.5h2v2h-2zM584.5 131h2v2h-2zM593 127h2v2h-2zM596 120.5h2v2h-2zM573.5 145h2v2h-2zM594.5 131.5h2v2h-2zM595 134.5h2v2h-2zM590.5 123.5h2v2h-2zM594 127.5h2v2h-2zM584.5 122.5h2v2h-2zM584 119.5h2v2h-2zM588 130h2v2h-2zM591 120.5h2v2h-2zM582.5 138.5h2v2h-2zM591.5 123.5h2v2h-2zM592 118h2v2h-2zM596.5 143h2v2h-2zM586.5 141h2v2h-2zM593 128h2v2h-2zM593 125.5h2v2h-2zM586.5 127h2v2h-2zM584 146.5h2v2h-2zM586.5 126h2v2h-2zM599 120.5h2v2h-2zM598.5 130h2v2h-2zM590.5 125.5h2v2h-2zM590.5 123h2v2h-2zM592 131.5h2v2h-2zM601.5 120h2v2h-2zM584.5 130.5h2v2h-2zM583 121.5h2v2h-2zM589 136.5h2v2h-2zM584.5 140h2v2h-2zM593.5 117h2v2h-2zM591 114.5h2v2h-2zM586.5 140h2v2h-2zM580.5 140.5h2v2h-2zM583 134.5h2v2h-2zM601.5 115h2v2h-2zM589.5 137h2v2h-2zM579.5 134.5h2v2h-2zM583.5 133h2v2h-2zM590.5 124.5h2v2h-2zM598 118h2v2h-2zM601 127h2v2h-2zM593.5 120.5h2v2h-2zM593 122h2v2h-2zM597 122.5h2v2h-2zM587.5 137h2v2h-2zM580.5 140h2v2h-2zM594.5 129.5h2v2h-2zM585 123h2v2h-2zM591.5 120.5h2v2h-2zM603.5 116h2v2h-2zM582.5 130.5h2v2h-2zM587 122h2v2h-2zM583.5 127h2v2h-2zM594 135.5h2v2h-2zM580.5 149h2v2h-2zM591.5 128.5h2v2h-2zM590.5 130.5h2v2h-2zM596 132h2v2h-2zM595.5 120h2v2h-2zM579.5 123h2v2h-2zM590.5 132h2v2h-2zM581 138h2v2h-2zM583.5 148.5h2v2h-2zM594.5 129h2v2h-2zM596.5 130.5h2v2h-2zM590 134h2v2h-2zM589 123.5h2v2h-2zM589.5 131.5h2v2h-2zM585.5 145.5h2v2h-2zM594 120.5h2v2h-2zM593.5 121.5h2v2h-2zM589.5 120.5h2v2h-2zM581.5 135h2v2h-2zM577 132h2v2h-2zM594.5 122.5h2v2h-2zM591 122h2v2h-2zM586.5 115h2v2h-2zM587 126h2v2h-2zM595.5 137h2v2h-2zM583 136.5h2v2h-2zM596.5 131h2v2h-2zM592.5 135.5h2v2h-2zM581 148.5h2v2h-2zM593 117.5h2v2h-2zM593.5 116.5h2v2h-2zM587 128.5h2v2h-2zM600 127h2v2h-2zM587.5 125.5h2v2h-2zM592.5 136.5h2v2h-2zM595 132.5h2v2h-2zM592.5 128.5h2v2h-2zM589 125h2v2h-2zM590 125h2v2h-2zM584 136.5h2v2h-2zM589 129h2v2h-2zM581 137h2v2h-2zM581.5 124h2v2h-2zM583.5 132.5h2v2h-2zM592 134h2v2h-2zM602.5 126h2v2h-2zM592.5 136h2v2h-2zM588.5 120h2v2h-2zM578.5 128h2v2h-2zM587 134h2v2h-2zM590 143h2v2h-2zM583 123.5h2v2h-2zM590 122h2v2h-2zM588.5 145h2v2h-2zM598.5 122h2v2h-2zM583 138h2v2h-2zM585 129.5h2v2h-2zM590.5 118h2v2h-2zM582 136.5h2v2h-2zM595.5 124.5h2v2h-2zM588.5 123h2v2h-2zM593.5 130.5h2v2h-2zM587 135h2v2h-2zM591.5 135.5h2v2h-2zM587 121.5h2v2h-2zM586 134.5h2v2h-2zM591.5 130h2v2h-2zM588.5 130.5h2v2h-2zM592 133h2v2h-2zM585 112.5h2v2h-2zM592 119.5h2v2h-2zM585 135h2v2h-2zM584 144.5h2v2h-2zM591 138.5h2v2h-2zM595 118.5h2v2h-2zM590 123h2v2h-2zM580.5 132h2v2h-2zM598 124h2v2h-2zM577 138.5h2v2h-2zM600 117.5h2v2h-2zM586 124h2v2h-2zM591 122.5h2v2h-2zM600.5 122.5h2v2h-2zM598.5 125h2v2h-2zM579.5 138h2v2h-2zM583.5 134.5h2v2h-2zM589 127.5h2v2h-2zM588.5 129.5h2v2h-2zM588.5 138.5h2v2h-2zM582.5 143h2v2h-2zM594 129h2v2h-2zM600 124.5h2v2h-2zM584.5 132.5h2v2h-2zM590 126h2v2h-2zM575 135h2v2h-2zM582.5 125h2v2h-2zM583 120.5h2v2h-2zM582 143h2v2h-2zM582 126.5h2v2h-2zM583.5 136h2v2h-2zM587.5 121.5h2v2h-2zM596.5 124.5h2v2h-2zM589.5 121h2v2h-2zM600.5 121.5h2v2h-2zM593.5 122h2v2h-2zM583 137h2v2h-2zM588 128h2v2h-2zM597.5 125.5h2v2h-2zM581.5 148.5h2v2h-2zM578.5 128.5h2v2h-2zM594.5 124.5h2v2h-2zM595.5 121.5h2v2h-2zM588 119.5h2v2h-2zM581.5 137h2v2h-2zM590.5 119h2v2h-2zM593.5 114.5h2v2h-2zM589.5 128.5h2v2h-2zM588.5 138h2v2h-2zM586.5 136.5h2v2h-2zM592 124h2v2h-2zM580.5 130h2v2h-2zM575 129h2v2h-2zM589.5 132h2v2h-2zM591.5 137h2v2h-2zM598.5 122.5h2v2h-2zM590 124h2v2h-2zM584 133.5h2v2h-2zM591.5 128h2v2h-2zM590.5 146h2v2h-2zM595.5 133.5h2v2h-2zM584.5 127h2v2h-2zM585 127h2v2h-2zM589 132.5h2v2h-2zM596.5 119.5h2v2h-2zM597 116h2v2h-2zM597.5 119h2v2h-2zM587.5 110h2v2h-2zM581 127h2v2h-2zM598.5 138h2v2h-2zM591 137h2v2h-2zM596 124h2v2h-2zM586 116.5h2v2h-2zM589 128.5h2v2h-2zM599 119h2v2h-2zM583.5 135h2v2h-2zM596.5 128h2v2h-2zM589.5 117h2v2h-2zM580 135h2v2h-2zM589 126.5h2v2h-2zM587.5 140h2v2h-2zM595 122h2v2h-2zM587 129.5h2v2h-2zM588.5 134h2v2h-2zM589 127h2v2h-2zM589.5 132.5h2v2h-2zM577.5 143h2v2h-2zM594.5 120h2v2h-2zM597 124h2v2h-2zM595.5 115h2v2h-2zM595 128.5h2v2h-2zM578 126h2v2h-2zM590.5 124h2v2h-2zM589.5 127.5h2v2h-2zM582 132h2v2h-2zM585.5 121.5h2v2h-2zM594.5 134.5h2v2h-2zM601.5 122h2v2h-2zM580.5 142.5h2v2h-2zM584 139h2v2h-2zM594.5 119.5h2v2h-2zM590.5 138h2v2h-2zM592 124.5h2v2h-2zM585.5 130.5h2v2h-2zM585.5 122h2v2h-2zM587.5 135.5h2v2h-2zM600.5 123h2v2h-2zM588 114h2v2h-2zM598.5 127.5h2v2h-2zM589.5 136.5h2v2h-2zM590 140.5h2v2h-2zM584 126.5h2v2h-2zM581 136h2v2h-2zM585.5 136h2v2h-2zM588 117h2v2h-2zM582.5 126.5h2v2h-2zM588 137.5h2v2h-2zM579.5 121.5h2v2h-2zM596.5 126h2v2h-2zM586 129.5h2v2h-2zM583.5 129h2v2h-2zM593 132.5h2v2h-2zM589.5 129.5h2v2h-2zM583.5 128.5h2v2h-2zM599.5 128h2v2h-2zM592 117h2v2h-2zM594 123.5h2v2h-2zM594 136h2v2h-2zM585.5 130h2v2h-2zM585.5 131h2v2h-2zM596.5 114h2v2h-2zM591 124h2v2h-2zM595 119.5h2v2h-2zM591.5 118h2v2h-2zM596 122h2v2h-2zM587 120.5h2v2h-2zM599 139h2v2h-2zM590.5 129.5h2v2h-2zM591.5 111h2v2h-2zM597 108.5h2v2h-2zM584 135h2v2h-2zM595.5 126h2v2h-2zM589.5 138.5h2v2h-2zM587.5 124.5h2v2h-2zM588.5 133.5h2v2h-2zM594.5 115.5h2v2h-2zM589 123h2v2h-2zM588 116.5h2v2h-2zM592.5 121h2v2h-2zM595.5 127h2v2h-2zM591 139h2v2h-2zM580.5 138h2v2h-2zM580.5 131h2v2h-2zM590 122.5h2v2h-2zM593.5 134h2v2h-2zM605.5 121h2v2h-2zM603 118h2v2h-2zM585.5 129.5h2v2h-2zM593 126.5h2v2h-2zM583.5 124h2v2h-2zM596.5 118.5h2v2h-2zM593 142.5h2v2h-2zM594.5 120.5h2v2h-2zM587 145.5h2v2h-2zM581.5 129.5h2v2h-2zM585 121.5h2v2h-2zM593 130h2v2h-2zM594 125.5h2v2h-2zM584.5 126h2v2h-2zM597.5 127.5h2v2h-2zM586 137.5h2v2h-2zM584 142.5h2v2h-2zM577.5 141.5h2v2h-2zM598 119h2v2h-2zM594 113.5h2v2h-2zM593.5 131.5h2v2h-2zM604.5 114.5h2v2h-2zM592 137.5h2v2h-2zM597.5 131.5h2v2h-2zM592.5 125.5h2v2h-2zM593 138.5h2v2h-2zM591.5 134.5h2v2h-2zM586.5 125h2v2h-2zM597 123.5h2v2h-2zM591.5 133.5h2v2h-2zM588.5 119h2v2h-2zM594.5 133.5h2v2h-2zM588.5 116.5h2v2h-2zM592.5 129.5h2v2h-2zM588.5 141h2v2h-2zM591 131.5h2v2h-2zM601 117h2v2h-2zM598 136h2v2h-2zM579 119.5h2v2h-2zM585 123.5h2v2h-2zM580.5 136.5h2v2h-2zM579 131h2v2h-2zM587.5 129.5h2v2h-2zM587 125h2v2h-2zM588 130.5h2v2h-2zM591 137.5h2v2h-2zM588.5 128.5h2v2h-2zM595 124h2v2h-2zM592 125h2v2h-2zM578.5 139h2v2h-2zM580.5 126h2v2h-2zM591 118.5h2v2h-2zM591 121h2v2h-2zM591 140h2v2h-2zM588.5 140.5h2v2h-2zM589.5 123h2v2h-2zM585 138.5h2v2h-2zM590 121h2v2h-2zM597 127.5h2v2h-2zM577.5 122.5h2v2h-2zM587.5 132.5h2v2h-2zM585 134.5h2v2h-2zM580 139.5h2v2h-2zM573.5 137.5h2v2h-2zM576.5 136h2v2h-2zM597 119.5h2v2h-2zM587 123h2v2h-2zM596 118.5h2v2h-2zM583 137.5h2v2h-2zM575.5 138.5h2v2h-2zM592 120.5h2v2h-2zM599 126.5h2v2h-2zM589.5 134.5h2v2h-2zM589 142h2v2h-2zM596 114h2v2h-2zM588 138h2v2h-2zM587 117h2v2h-2zM594.5 125.5h2v2h-2zM585 119h2v2h-2zM595 116h2v2h-2zM589.5 142h2v2h-2zM597.5 124.5h2v2h-2zM592 111.5h2v2h-2zM588 142h2v2h-2zM588.5 143h2v2h-2zM585.5 118h2v2h-2zM593.5 124.5h2v2h-2zM588.5 128h2v2h-2zM599 117h2v2h-2zM590 131.5h2v2h-2zM590.5 139.5h2v2h-2zM588 135h2v2h-2zM591.5 137.5h2v2h-2zM584.5 125h2v2h-2zM589 141h2v2h-2zM585.5 136.5h2v2h-2zM589 143.5h2v2h-2zM588 131.5h2v2h-2zM588.5 132.5h2v2h-2zM582.5 130h2v2h-2zM598 125h2v2h-2zM583.5 133.5h2v2h-2zM604.5 126h2v2h-2zM597.5 117.5h2v2h-2zM587 126.5h2v2h-2zM592.5 119.5h2v2h-2zM583 141h2v2h-2zM582 137h2v2h-2zM584.5 136.5h2v2h-2zM600 119h2v2h-2zM580 137h2v2h-2zM601 125.5h2v2h-2zM596 131.5h2v2h-2zM595.5 122.5h2v2h-2zM601 130.5h2v2h-2zM587 133h2v2h-2zM585.5 119h2v2h-2zM595 128h2v2h-2zM585.5 134.5h2v2h-2zM592.5 123h2v2h-2zM593.5 132.5h2v2h-2zM585.5 144.5h2v2h-2zM590.5 137h2v2h-2zM598.5 117h2v2h-2zM595.5 117.5h2v2h-2zM586 137h2v2h-2zM584 127h2v2h-2zM598 108.5h2v2h-2zM589.5 121.5h2v2h-2zM592 143.5h2v2h-2zM587 141h2v2h-2zM594 128h2v2h-2zM591.5 131h2v2h-2zM571.5 143.5h2v2h-2zM587.5 127h2v2h-2zM593 118.5h2v2h-2zM570 146h2v2h-2zM595.5 129h2v2h-2zM583.5 149h2v2h-2zM583.5 140h2v2h-2zM581.5 126h2v2h-2zM596.5 133.5h2v2h-2zM589.5 139h2v2h-2zM585.5 135.5h2v2h-2zM582.5 133h2v2h-2zM592.5 129h2v2h-2zM587 143h2v2h-2zM588.5 118.5h2v2h-2zM591.5 136.5h2v2h-2zM591.5 122h2v2h-2zM597.5 117h2v2h-2zM595.5 129.5h2v2h-2zM596 108h2v2h-2zM591.5 131.5h2v2h-2zM598.5 125.5h2v2h-2zM586.5 131.5h2v2h-2zM593.5 123h2v2h-2zM585 140.5h2v2h-2zM587 133.5h2v2h-2zM593.5 119.5h2v2h-2zM596 129.5h2v2h-2zM587 118h2v2h-2zM597 131h2v2h-2zM599 127h2v2h-2zM579.5 132.5h2v2h-2zM596.5 123.5h2v2h-2zM582.5 127.5h2v2h-2zM591 134.5h2v2h-2zM591 123.5h2v2h-2zM586.5 130h2v2h-2zM588.5 122h2v2h-2zM594 113h2v2h-2zM597.5 127h2v2h-2zM597 114h2v2h-2zM581.5 136h2v2h-2zM592 138h2v2h-2zM593.5 113.5h2v2h-2zM577.5 129.5h2v2h-2zM590 135h2v2h-2zM594.5 133h2v2h-2zM589.5 145h2v2h-2zM589 118.5h2v2h-2zM592.5 137.5h2v2h-2zM587.5 127.5h2v2h-2zM594.5 118h2v2h-2zM596.5 123h2v2h-2zM582 133h2v2h-2zM592.5 132.5h2v2h-2zM585.5 143.5h2v2h-2zM589 143h2v2h-2zM583.5 123h2v2h-2zM597.5 123.5h2v2h-2zM584.5 140.5h2v2h-2zM589.5 135h2v2h-2zM584 137h2v2h-2zM600 135h2v2h-2zM599.5 130h2v2h-2zM595 113.5h2v2h-2zM593 123.5h2v2h-2zM589.5 125h2v2h-2zM585.5 132h2v2h-2zM583 130.5h2v2h-2zM597 131.5h2v2h-2zM595 142.5h2v2h-2zM580.5 143.5h2v2h-2zM577 128.5h2v2h-2zM595.5 131.5h2v2h-2zM583 129.5h2v2h-2zM593 123h2v2h-2zM583.5 136.5h2v2h-2zM602 112.5h2v2h-2zM585.5 122.5h2v2h-2zM587.5 117h2v2h-2zM587.5 117.5h2v2h-2zM584.5 142h2v2h-2zM580.5 135.5h2v2h-2zM590 128h2v2h-2zM590 128.5h2v2h-2zM601 109.5h2v2h-2zM590 136.5h2v2h-2zM586 127h2v2h-2zM597.5 120.5h2v2h-2zM597.5 123h2v2h-2zM584.5 124h2v2h-2zM584 141.5h2v2h-2zM595.5 136h2v2h-2zM591 124.5h2v2h-2zM584.5 138.5h2v2h-2zM589.5 130h2v2h-2zM590 125.5h2v2h-2zM596 121.5h2v2h-2zM574.5 145.5h2v2h-2zM588.5 130h2v2h-2zM596 124.5h2v2h-2zM600 114.5h2v2h-2zM578 137h2v2h-2zM593 131h2v2h-2zM591 131h2v2h-2zM587.5 123.5h2v2h-2zM592.5 130h2v2h-2zM599 117.5h2v2h-2zM586.5 139h2v2h-2zM600.5 116.5h2v2h-2zM587 132h2v2h-2zM596 112.5h2v2h-2zM590 131h2v2h-2zM595 125h2v2h-2zM593.5 137.5h2v2h-2zM588.5 131h2v2h-2zM601.5 126h2v2h-2zM597 124.5h2v2h-2zM594 110.5h2v2h-2zM585.5 134h2v2h-2zM595 118h2v2h-2zM596.5 127.5h2v2h-2zM593 124.5h2v2h-2zM587.5 134h2v2h-2zM586.5 132.5h2v2h-2zM594.5 127h2v2h-2zM592 121.5h2v2h-2zM597.5 128.5h2v2h-2zM580 132.5h2v2h-2zM594.5 127.5h2v2h-2zM593 128.5h2v2h-2zM597 132.5h2v2h-2zM592.5 126.5h2v2h-2zM575 138.5h2v2h-2zM590.5 139h2v2h-2zM591 133.5h2v2h-2zM586.5 136h2v2h-2zM594 125h2v2h-2zM578 131h2v2h-2zM593 126h2v2h-2zM578.5 129.5h2v2h-2zM578.5 144h2v2h-2zM587.5 130.5h2v2h-2zM590 119h2v2h-2zM596.5 112h2v2h-2zM606.5 127h2v2h-2zM585 130.5h2v2h-2zM587 119h2v2h-2zM587.5 128.5h2v2h-2zM593 125h2v2h-2zM578 133h2v2h-2zM588 134.5h2v2h-2zM576.5 144.5h2v2h-2zM599.5 127.5h2v2h-2zM595.5 124h2v2h-2zM582.5 136.5h2v2h-2zM602.5 121h2v2h-2zM592 133.5h2v2h-2zM590.5 119.5h2v2h-2zM590.5 125h2v2h-2zM594.5 125h2v2h-2zM585 131.5h2v2h-2zM587 137h2v2h-2zM593 127.5h2v2h-2zM595.5 135h2v2h-2zM593 140h2v2h-2zM593.5 133.5h2v2h-2zM589 136h2v2h-2zM596.5 131.5h2v2h-2zM588.5 137.5h2v2h-2zM583.5 134h2v2h-2zM592 130h2v2h-2zM595 122.5h2v2h-2zM584.5 128.5h2v2h-2zM598.5 136.5h2v2h-2zM592.5 118.5h2v2h-2zM600 116h2v2h-2zM581 127.5h2v2h-2zM596.5 127h2v2h-2zM600 114h2v2h-2zM584.5 130h2v2h-2zM590 139.5h2v2h-2zM586 139.5h2v2h-2zM594.5 132.5h2v2h-2zM585.5 126h2v2h-2zM581 130h2v2h-2zM588.5 126h2v2h-2zM598 128h2v2h-2zM590 124.5h2v2h-2zM580 130h2v2h-2zM603 121h2v2h-2zM598 133h2v2h-2zM581.5 149.5h2v2h-2zM596.5 121h2v2h-2zM601.5 123h2v2h-2zM588 132h2v2h-2zM595 123h2v2h-2zM594.5 135h2v2h-2zM592.5 122.5h2v2h-2zM608 110h2v2h-2zM599 125.5h2v2h-2zM606.5 124h2v2h-2zM592.5 131h2v2h-2zM587 142.5h2v2h-2zM605 115.5h2v2h-2zM598.5 131.5h2v2h-2zM583 125h2v2h-2zM593 138h2v2h-2zM578 148.5h2v2h-2zM582 126h2v2h-2zM582.5 127h2v2h-2zM587.5 128h2v2h-2zM579.5 123.5h2v2h-2zM570 144h2v2h-2zM587 137.5h2v2h-2zM599.5 118h2v2h-2zM599 121h2v2h-2zM599.5 123h2v2h-2zM592 129.5h2v2h-2zM580 129h2v2h-2zM589 120.5h2v2h-2zM599 115.5h2v2h-2zM588 133h2v2h-2zM588 136.5h2v2h-2zM597.5 122.5h2v2h-2zM579.5 131.5h2v2h-2zM582.5 145h2v2h-2zM596.5 135h2v2h-2zM588 135.5h2v2h-2zM585 130h2v2h-2zM598.5 124h2v2h-2zM591.5 119.5h2v2h-2zM591 139.5h2v2h-2zM584.5 129h2v2h-2zM589 135.5h2v2h-2zM589 133h2v2h-2zM578 130h2v2h-2zM606.5 112h2v2h-2zM579 146.5h2v2h-2zM604.5 121h2v2h-2zM589.5 112.5h2v2h-2zM579.5 133h2v2h-2zM591 146h2v2h-2zM582.5 151.5h2v2h-2zM583 140.5h2v2h-2zM596.5 122.5h2v2h-2zM590.5 131.5h2v2h-2zM585 144.5h2v2h-2zM590.5 122h2v2h-2zM591.5 141h2v2h-2zM580.5 137.5h2v2h-2zM581.5 132h2v2h-2zM596 122.5h2v2h-2zM587.5 126.5h2v2h-2zM576 127h2v2h-2zM573.5 136h2v2h-2zM592.5 130.5h2v2h-2zM579.5 149.5h2v2h-2zM603.5 133h2v2h-2zM578.5 137h2v2h-2zM592 116.5h2v2h-2zM586.5 113h2v2h-2zM594 129.5h2v2h-2zM592 134.5h2v2h-2zM577 119h2v2h-2zM580 124.5h2v2h-2zM607 141.5h2v2h-2zM564 142h2v2h-2zM589 139.5h2v2h-2zM580 142h2v2h-2zM599.5 139h2v2h-2zM567.5 122h2v2h-2zM607 137h2v2h-2zM588.5 137h2v2h-2zM576.5 137h2v2h-2zM583.5 135.5h2v2h-2zM569.5 137.5h2v2h-2zM588.5 139h2v2h-2zM579 132h2v2h-2zM584.5 119h2v2h-2zM587 160h2v2h-2zM595.5 155.5h2v2h-2zM610 147.5h2v2h-2zM568.5 143h2v2h-2zM574 142.5h2v2h-2zM598 125.5h2v2h-2zM582 125.5h2v2h-2zM601 114.5h2v2h-2zM575 121h2v2h-2zM587.5 137.5h2v2h-2zM623.5 117.5h2v2h-2zM594.5 150h2v2h-2zM607.5 95.5h2v2h-2zM595.5 146h2v2h-2zM583.5 114h2v2h-2zM578 145h2v2h-2zM571 133h2v2h-2zM577 125h2v2h-2zM593 139.5h2v2h-2zM596 132.5h2v2h-2zM581 141h2v2h-2zM605 134h2v2h-2zM594.5 134h2v2h-2zM590 116h2v2h-2zM605 138.5h2v2h-2zM594.5 101h2v2h-2zM566 167h2v2h-2zM573.5 120h2v2h-2zM572 139h2v2h-2zM596.5 134h2v2h-2zM600.5 126h2v2h-2zM594.5 166.5h2v2h-2zM564.5 141h2v2h-2zM569 118h2v2h-2zM582.5 128h2v2h-2zM614 138.5h2v2h-2zM579.5 126.5h2v2h-2zM574.5 134.5h2v2h-2zM604 127h2v2h-2zM581 119h2v2h-2zM570 127.5h2v2h-2zM593.5 132h2v2h-2zM591 134h2v2h-2zM603.5 128h2v2h-2zM588 147h2v2h-2zM603 135.5h2v2h-2zM603.5 128.5h2v2h-2zM577 142h2v2h-2zM586.5 139.5h2v2h-2zM582 125h2v2h-2zM591.5 142h2v2h-2zM562.5 140h2v2h-2zM606.5 130.5h2v2h-2zM568.5 122.5h2v2h-2zM602 119.5h2v2h-2zM599.5 141.5h2v2h-2zM616.5 116.5h2v2h-2zM585 125.5h2v2h-2zM606.5 121h2v2h-2zM575.5 128.5h2v2h-2zM574.5 149h2v2h-2zM577.5 137.5h2v2h-2zM589 142.5h2v2h-2zM595.5 136.5h2v2h-2zM585.5 110h2v2h-2zM591.5 152h2v2h-2zM579.5 128h2v2h-2zM577.5 140.5h2v2h-2zM570 164.5h2v2h-2zM603.5 137h2v2h-2zM581 145h2v2h-2zM597 146h2v2h-2zM599 147.5h2v2h-2zM600 120h2v2h-2zM589.5 144h2v2h-2zM579.5 138.5h2v2h-2zM588.5 110.5h2v2h-2zM592 148.5h2v2h-2zM573.5 130.5h2v2h-2zM611 131h2v2h-2zM582 131.5h2v2h-2zM559.5 154.5h2v2h-2zM589.5 154h2v2h-2zM561.5 143.5h2v2h-2zM577 134.5h2v2h-2zM586 140h2v2h-2zM592 152h2v2h-2zM596 146.5h2v2h-2zM611.5 148h2v2h-2zM560 141.5h2v2h-2zM587.5 133.5h2v2h-2zM606 133h2v2h-2zM609 151.5h2v2h-2zM584.5 155.5h2v2h-2zM593.5 117.5h2v2h-2zM584.5 161.5h2v2h-2zM601.5 121h2v2h-2zM595 115.5h2v2h-2zM577 120h2v2h-2zM589 139h2v2h-2zM580.5 123.5h2v2h-2zM592.5 149h2v2h-2zM591.5 127h2v2h-2zM579.5 117.5h2v2h-2zM579 137h2v2h-2zM581 138.5h2v2h-2zM572 121.5h2v2h-2zM598 128.5h2v2h-2zM582 150.5h2v2h-2zM603 140.5h2v2h-2zM598.5 115h2v2h-2zM612.5 99h2v2h-2zM618.5 98h2v2h-2zM583.5 113.5h2v2h-2zM599.5 119.5h2v2h-2zM617 95h2v2h-2zM603 111.5h2v2h-2zM615.5 93h2v2h-2zM581 118h2v2h-2zM605 110h2v2h-2zM600 118h2v2h-2zM601.5 111.5h2v2h-2zM606 113.5h2v2h-2zM607.5 105h2v2h-2zM630 87.5h2v2h-2zM618.5 99h2v2h-2zM601.5 112.5h2v2h-2zM606 107h2v2h-2zM601.5 116.5h2v2h-2zM593.5 124h2v2h-2zM579 119h2v2h-2zM585 124.5h2v2h-2zM616.5 101.5h2v2h-2zM584 123.5h2v2h-2zM592 115.5h2v2h-2zM608.5 101.5h2v2h-2zM589.5 129h2v2h-2zM612 106.5h2v2h-2zM600.5 120.5h2v2h-2zM584 122.5h2v2h-2zM611 111.5h2v2h-2zM611.5 115h2v2h-2zM616 95h2v2h-2zM603.5 119h2v2h-2zM592 114.5h2v2h-2zM600.5 120h2v2h-2zM622 97.5h2v2h-2zM601 106.5h2v2h-2zM579 118h2v2h-2zM602.5 106h2v2h-2zM604.5 113.5h2v2h-2zM583 123h2v2h-2zM594.5 122h2v2h-2zM622 100h2v2h-2zM625.5 96h2v2h-2zM630.5 89h2v2h-2zM598 117.5h2v2h-2zM623 92.5h2v2h-2zM610.5 113.5h2v2h-2zM584.5 121h2v2h-2zM625 86h2v2h-2zM615 100h2v2h-2zM598 109.5h2v2h-2zM601.5 109.5h2v2h-2zM620.5 93h2v2h-2zM616 105h2v2h-2zM605 120.5h2v2h-2zM621.5 91.5h2v2h-2zM605 119.5h2v2h-2zM617.5 98.5h2v2h-2zM595 112h2v2h-2zM605.5 121.5h2v2h-2zM630.5 84.5h2v2h-2zM624.5 89.5h2v2h-2zM602.5 119.5h2v2h-2zM599.5 113h2v2h-2zM632.5 85.5h2v2h-2zM613.5 103.5h2v2h-2zM617 96h2v2h-2zM593 113h2v2h-2zM602.5 113h2v2h-2zM606.5 108h2v2h-2zM626.5 92.5h2v2h-2zM619 105h2v2h-2zM618.5 99.5h2v2h-2zM616 99h2v2h-2zM599 122.5h2v2h-2zM616.5 97h2v2h-2zM619.5 96h2v2h-2zM616 93h2v2h-2zM600 108h2v2h-2zM608.5 116h2v2h-2zM621.5 89.5h2v2h-2zM619 102h2v2h-2zM590 127h2v2h-2zM605.5 106h2v2h-2zM618.5 103h2v2h-2zM620 106h2v2h-2zM629.5 85.5h2v2h-2zM596.5 116.5h2v2h-2zM607 108h2v2h-2zM613.5 109.5h2v2h-2zM608.5 109h2v2h-2zM594 122.5h2v2h-2zM620 97h2v2h-2zM600 116.5h2v2h-2zM616.5 97.5h2v2h-2zM605.5 119.5h2v2h-2zM591 111.5h2v2h-2zM596.5 125.5h2v2h-2zM604 118h2v2h-2zM616 103.5h2v2h-2zM626 92h2v2h-2zM608 108h2v2h-2zM631 89.5h2v2h-2zM594.5 131h2v2h-2zM593.5 116h2v2h-2zM590.5 130h2v2h-2zM607.5 108.5h2v2h-2zM621.5 95h2v2h-2zM617.5 100.5h2v2h-2zM598.5 118.5h2v2h-2zM610 109h2v2h-2zM616 99.5h2v2h-2zM597.5 121h2v2h-2zM592 129h2v2h-2zM606 108.5h2v2h-2zM623.5 97h2v2h-2zM623 95.5h2v2h-2zM614 104h2v2h-2zM599 118h2v2h-2zM607.5 110.5h2v2h-2zM613.5 100.5h2v2h-2zM583.5 121.5h2v2h-2zM628 87h2v2h-2zM611 105.5h2v2h-2zM613 103h2v2h-2zM599 112.5h2v2h-2zM616 96.5h2v2h-2zM612 106h2v2h-2zM597.5 133.5h2v2h-2zM587.5 126h2v2h-2zM611 111h2v2h-2zM622 94h2v2h-2zM594.5 116.5h2v2h-2zM604.5 106.5h2v2h-2zM628 89h2v2h-2zM610 104.5h2v2h-2zM609 108.5h2v2h-2zM620.5 98h2v2h-2zM606 115h2v2h-2zM607 112h2v2h-2zM601.5 116h2v2h-2zM605 100h2v2h-2zM598 140.5h2v2h-2zM629.5 84h2v2h-2zM618.5 96.5h2v2h-2zM609 109h2v2h-2zM623.5 92.5h2v2h-2zM611.5 101.5h2v2h-2zM603 110.5h2v2h-2zM598.5 119h2v2h-2zM588.5 127h2v2h-2zM620 98.5h2v2h-2zM600.5 113.5h2v2h-2zM605.5 114h2v2h-2zM614 98h2v2h-2zM594 133.5h2v2h-2zM606 114.5h2v2h-2zM594.5 121.5h2v2h-2zM606.5 110.5h2v2h-2zM624 89h2v2h-2zM611 101.5h2v2h-2zM620.5 98.5h2v2h-2zM595.5 112.5h2v2h-2zM610.5 104h2v2h-2zM616 102.5h2v2h-2zM620.5 95.5h2v2h-2zM603 115h2v2h-2zM619.5 98h2v2h-2zM600 126.5h2v2h-2zM604.5 104h2v2h-2zM598 114.5h2v2h-2zM623 97.5h2v2h-2zM629 87h2v2h-2zM592 131h2v2h-2zM631.5 82.5h2v2h-2zM622 95h2v2h-2zM609 104h2v2h-2zM624 96h2v2h-2zM605 103.5h2v2h-2zM607.5 99.5h2v2h-2zM609 107h2v2h-2zM588.5 121.5h2v2h-2zM593 119.5h2v2h-2zM603.5 116.5h2v2h-2zM612.5 101h2v2h-2zM583.5 116.5h2v2h-2zM616.5 110h2v2h-2zM621 95h2v2h-2zM623 97h2v2h-2zM599.5 128.5h2v2h-2zM593 112h2v2h-2zM615.5 96h2v2h-2zM628.5 93h2v2h-2zM607.5 113h2v2h-2zM601 123h2v2h-2zM599.5 114h2v2h-2zM610.5 106.5h2v2h-2zM595.5 118.5h2v2h-2zM622 88.5h2v2h-2zM601.5 125h2v2h-2zM597 116.5h2v2h-2zM629.5 86h2v2h-2zM623.5 91.5h2v2h-2zM586.5 125.5h2v2h-2zM595 117h2v2h-2zM608.5 102h2v2h-2zM603.5 108.5h2v2h-2zM606.5 110h2v2h-2zM593.5 126.5h2v2h-2zM597.5 126.5h2v2h-2zM606 110h2v2h-2zM615 101.5h2v2h-2zM608 111.5h2v2h-2zM597 125h2v2h-2zM615.5 101h2v2h-2zM614 111.5h2v2h-2zM607 110h2v2h-2zM628.5 88h2v2h-2zM620 99h2v2h-2zM616.5 103h2v2h-2zM618.5 109.5h2v2h-2zM604.5 112h2v2h-2zM605 108h2v2h-2zM599 125h2v2h-2zM628.5 88.5h2v2h-2zM606.5 120h2v2h-2zM599 121.5h2v2h-2zM611.5 104h2v2h-2zM599 116h2v2h-2zM598 119.5h2v2h-2zM594 126h2v2h-2zM594.5 123.5h2v2h-2zM616 107h2v2h-2zM598.5 119.5h2v2h-2zM598 115.5h2v2h-2zM616 97.5h2v2h-2zM627.5 89h2v2h-2zM594.5 117h2v2h-2zM608 106h2v2h-2zM624 87.5h2v2h-2zM629 85h2v2h-2zM609.5 107h2v2h-2zM614 99.5h2v2h-2zM623.5 91h2v2h-2zM629.5 89.5h2v2h-2zM597.5 118.5h2v2h-2zM596 116.5h2v2h-2zM611.5 95.5h2v2h-2zM596 115h2v2h-2zM592.5 108.5h2v2h-2zM589 116h2v2h-2zM618 97.5h2v2h-2zM592.5 120.5h2v2h-2zM603.5 107.5h2v2h-2zM593.5 121h2v2h-2zM590 118h2v2h-2zM594.5 116h2v2h-2zM617.5 108.5h2v2h-2zM624.5 93.5h2v2h-2zM599.5 116h2v2h-2zM593.5 133h2v2h-2zM614.5 102.5h2v2h-2zM604 115.5h2v2h-2zM622.5 92h2v2h-2zM609 105h2v2h-2zM604 117h2v2h-2zM608 105h2v2h-2zM611.5 107.5h2v2h-2zM631.5 84h2v2h-2zM608.5 116.5h2v2h-2zM619 96h2v2h-2zM627 91h2v2h-2zM602.5 115h2v2h-2zM616.5 98h2v2h-2zM594.5 113h2v2h-2zM622.5 91.5h2v2h-2zM629.5 88.5h2v2h-2zM606 125.5h2v2h-2zM623.5 101h2v2h-2zM622 98.5h2v2h-2zM607.5 103h2v2h-2zM599 118.5h2v2h-2zM606 112.5h2v2h-2zM616 100h2v2h-2zM609.5 119h2v2h-2zM617.5 104h2v2h-2zM593.5 119h2v2h-2zM590.5 133h2v2h-2zM622.5 96h2v2h-2zM607.5 106h2v2h-2zM600.5 112h2v2h-2zM602.5 116h2v2h-2zM595 137h2v2h-2zM614 102h2v2h-2zM602 101h2v2h-2zM597.5 109.5h2v2h-2zM617.5 99.5h2v2h-2zM614 104.5h2v2h-2zM608 105.5h2v2h-2zM614 109h2v2h-2zM601.5 113.5h2v2h-2zM611 106h2v2h-2zM605 110.5h2v2h-2zM600 122.5h2v2h-2zM624 88h2v2h-2zM624.5 92h2v2h-2zM605 105.5h2v2h-2zM604 126.5h2v2h-2zM613.5 110h2v2h-2zM598 115h2v2h-2zM600 115h2v2h-2zM589 119h2v2h-2zM589 117.5h2v2h-2zM586 127.5h2v2h-2zM623.5 93.5h2v2h-2zM603 109h2v2h-2zM604 108.5h2v2h-2zM618 94.5h2v2h-2zM602 113h2v2h-2zM609 114h2v2h-2zM619 96.5h2v2h-2zM604 121h2v2h-2zM591.5 114h2v2h-2zM617 101h2v2h-2zM627.5 90h2v2h-2zM590 114h2v2h-2zM630.5 84h2v2h-2zM611 110.5h2v2h-2zM584 125h2v2h-2zM611.5 105.5h2v2h-2zM602.5 121.5h2v2h-2zM607 106h2v2h-2zM621 99h2v2h-2zM623.5 92h2v2h-2zM594 122h2v2h-2zM617 116h2v2h-2zM609.5 112.5h2v2h-2zM604 110.5h2v2h-2zM599.5 114.5h2v2h-2zM613.5 102.5h2v2h-2zM613.5 108h2v2h-2zM620.5 92.5h2v2h-2zM597 112.5h2v2h-2zM616 95.5h2v2h-2zM606.5 113.5h2v2h-2zM596 117h2v2h-2zM610 102.5h2v2h-2zM594.5 114h2v2h-2zM596.5 115.5h2v2h-2zM605 107.5h2v2h-2zM614 98.5h2v2h-2zM602.5 118h2v2h-2zM586 121.5h2v2h-2zM615 101h2v2h-2zM613.5 101h2v2h-2zM624.5 89h2v2h-2zM595 126.5h2v2h-2zM619 100.5h2v2h-2zM626.5 90h2v2h-2zM601.5 124.5h2v2h-2zM620.5 96.5h2v2h-2zM604.5 115.5h2v2h-2zM595 131.5h2v2h-2zM613.5 118h2v2h-2zM613.5 103h2v2h-2zM601.5 108h2v2h-2zM617 98.5h2v2h-2zM606 129h2v2h-2zM597 119h2v2h-2zM608.5 106.5h2v2h-2zM622 96.5h2v2h-2zM604.5 117.5h2v2h-2zM623 95h2v2h-2zM585.5 125h2v2h-2zM601.5 114.5h2v2h-2zM622 101.5h2v2h-2zM632 85.5h2v2h-2zM616 104h2v2h-2zM628 88.5h2v2h-2zM611 108.5h2v2h-2zM608.5 112.5h2v2h-2zM621.5 92.5h2v2h-2zM608.5 110h2v2h-2zM587.5 122.5h2v2h-2zM629.5 88h2v2h-2zM618 99h2v2h-2zM591.5 117h2v2h-2zM616 102h2v2h-2zM619 92h2v2h-2zM598.5 116h2v2h-2zM611 102.5h2v2h-2zM602.5 110.5h2v2h-2zM601.5 114h2v2h-2zM601.5 118.5h2v2h-2zM620 95h2v2h-2zM590 120h2v2h-2zM608.5 115h2v2h-2zM628 91.5h2v2h-2zM605 114.5h2v2h-2zM606 116h2v2h-2zM621 96h2v2h-2zM590 117.5h2v2h-2zM606 105.5h2v2h-2zM606.5 99.5h2v2h-2zM603.5 117.5h2v2h-2zM624.5 91.5h2v2h-2zM608.5 107.5h2v2h-2zM613 104h2v2h-2zM591 113h2v2h-2zM588 120.5h2v2h-2zM624.5 91h2v2h-2zM596.5 116h2v2h-2zM607 110.5h2v2h-2zM613 105h2v2h-2zM585.5 125.5h2v2h-2zM622 91.5h2v2h-2zM627 90.5h2v2h-2zM601.5 117h2v2h-2zM629 85.5h2v2h-2zM587.5 118.5h2v2h-2zM585.5 126.5h2v2h-2zM592.5 121.5h2v2h-2zM596 111.5h2v2h-2zM615.5 98h2v2h-2zM605 104h2v2h-2zM630 88.5h2v2h-2zM630.5 86h2v2h-2zM597 121.5h2v2h-2zM594.5 119h2v2h-2zM590.5 114.5h2v2h-2zM604 116.5h2v2h-2zM599 115h2v2h-2zM598.5 128.5h2v2h-2zM610 107h2v2h-2zM618.5 92h2v2h-2zM624.5 94.5h2v2h-2zM589 128h2v2h-2zM611 115h2v2h-2zM616.5 99.5h2v2h-2zM614.5 103.5h2v2h-2zM599 113h2v2h-2zM603.5 108h2v2h-2zM624 94h2v2h-2zM595 127h2v2h-2zM591.5 124.5h2v2h-2zM603 104h2v2h-2zM614.5 98h2v2h-2zM584.5 125.5h2v2h-2zM624 88.5h2v2h-2zM612.5 100.5h2v2h-2zM595.5 108h2v2h-2zM616.5 100.5h2v2h-2zM600.5 113h2v2h-2zM601.5 110.5h2v2h-2zM628 90h2v2h-2zM598 110h2v2h-2zM596.5 126.5h2v2h-2zM609.5 110h2v2h-2zM584.5 121.5h2v2h-2zM597 118h2v2h-2zM614.5 101.5h2v2h-2zM621 94h2v2h-2zM624 97h2v2h-2zM600.5 111.5h2v2h-2zM607 114h2v2h-2zM588 119h2v2h-2zM621 91.5h2v2h-2zM608.5 105h2v2h-2zM632.5 86h2v2h-2zM584 121h2v2h-2zM620 104h2v2h-2zM609.5 104.5h2v2h-2zM627.5 88.5h2v2h-2zM630.5 90h2v2h-2zM602 118.5h2v2h-2zM584.5 123h2v2h-2zM599.5 126h2v2h-2zM626.5 87.5h2v2h-2zM594 126.5h2v2h-2zM610 98.5h2v2h-2zM609 103.5h2v2h-2zM613.5 106h2v2h-2zM627.5 87h2v2h-2zM603 117h2v2h-2zM596.5 109.5h2v2h-2zM609.5 111h2v2h-2zM586.5 119.5h2v2h-2zM618.5 101.5h2v2h-2zM615.5 103.5h2v2h-2zM619.5 94.5h2v2h-2zM594 111h2v2h-2zM604.5 112.5h2v2h-2zM628.5 90h2v2h-2zM623 96h2v2h-2zM629 84.5h2v2h-2zM608 109h2v2h-2zM603 117.5h2v2h-2zM615.5 90h2v2h-2zM609.5 111.5h2v2h-2zM626 95.5h2v2h-2zM619.5 102.5h2v2h-2zM601 111h2v2h-2zM622.5 96.5h2v2h-2zM606.5 107.5h2v2h-2zM615 99.5h2v2h-2zM598.5 121h2v2h-2zM612 111h2v2h-2zM613 109.5h2v2h-2zM616 101h2v2h-2zM604 108h2v2h-2zM591.5 125h2v2h-2zM601 120h2v2h-2zM607 100.5h2v2h-2zM585.5 115.5h2v2h-2zM599.5 115h2v2h-2zM619 93.5h2v2h-2zM609 102h2v2h-2zM589 126h2v2h-2zM617.5 105.5h2v2h-2zM609.5 103.5h2v2h-2zM605.5 108.5h2v2h-2zM586.5 122.5h2v2h-2zM615.5 95h2v2h-2zM625.5 90h2v2h-2zM606.5 106h2v2h-2zM618.5 102.5h2v2h-2zM617.5 97.5h2v2h-2zM602.5 105h2v2h-2zM606 107.5h2v2h-2zM607.5 103.5h2v2h-2zM621 96.5h2v2h-2zM612 105h2v2h-2zM610 104h2v2h-2zM610.5 99h2v2h-2zM609.5 106.5h2v2h-2zM610 99h2v2h-2zM600 125h2v2h-2zM610.5 105.5h2v2h-2zM615 99h2v2h-2zM602.5 111h2v2h-2zM622 92.5h2v2h-2zM597.5 126h2v2h-2zM600.5 119h2v2h-2zM600.5 132.5h2v2h-2zM588 124h2v2h-2zM588 129.5h2v2h-2zM594.5 123h2v2h-2zM612.5 113h2v2h-2zM603 124.5h2v2h-2zM613.5 104h2v2h-2zM632 85h2v2h-2zM621 92.5h2v2h-2zM605.5 104h2v2h-2zM614 105.5h2v2h-2zM582 120.5h2v2h-2zM603 108.5h2v2h-2zM610 103.5h2v2h-2zM604 106h2v2h-2zM608.5 113.5h2v2h-2zM615.5 102h2v2h-2zM607.5 101.5h2v2h-2zM600 111.5h2v2h-2zM605 112.5h2v2h-2zM599.5 110.5h2v2h-2zM594 124.5h2v2h-2zM603 122.5h2v2h-2zM604 111.5h2v2h-2zM607.5 112.5h2v2h-2zM595 121.5h2v2h-2zM597.5 118h2v2h-2zM616.5 102h2v2h-2zM602.5 110h2v2h-2zM599.5 121.5h2v2h-2zM615 102h2v2h-2zM612.5 101.5h2v2h-2zM625 94h2v2h-2zM592.5 126h2v2h-2zM624.5 92.5h2v2h-2zM629 93h2v2h-2zM613 110h2v2h-2zM595 125.5h2v2h-2zM613 106.5h2v2h-2zM596 130h2v2h-2zM626 91h2v2h-2zM630.5 88h2v2h-2zM600.5 115h2v2h-2zM613 101h2v2h-2zM596 117.5h2v2h-2zM599.5 113.5h2v2h-2zM591.5 122.5h2v2h-2zM604.5 122h2v2h-2zM602 109.5h2v2h-2zM593.5 120h2v2h-2zM613.5 106.5h2v2h-2zM628 92.5h2v2h-2zM622.5 89.5h2v2h-2zM624.5 88h2v2h-2zM618 98.5h2v2h-2zM612.5 104.5h2v2h-2zM611.5 118.5h2v2h-2zM616 108h2v2h-2zM601 108h2v2h-2zM610 112h2v2h-2zM612 97h2v2h-2zM599.5 111.5h2v2h-2zM614.5 100h2v2h-2zM617.5 102.5h2v2h-2zM619.5 100.5h2v2h-2zM608.5 107h2v2h-2zM612.5 98h2v2h-2zM604.5 106h2v2h-2zM609.5 110.5h2v2h-2zM616.5 106h2v2h-2zM620 94.5h2v2h-2zM619 101.5h2v2h-2zM607 113.5h2v2h-2zM612.5 109h2v2h-2zM608.5 111.5h2v2h-2zM606.5 117h2v2h-2zM610.5 111.5h2v2h-2zM593 116.5h2v2h-2zM628.5 89h2v2h-2zM606 118.5h2v2h-2zM591 117h2v2h-2zM602.5 117h2v2h-2zM625.5 95h2v2h-2zM598 122h2v2h-2zM605.5 118h2v2h-2zM617.5 101.5h2v2h-2zM618.5 97h2v2h-2zM614 97h2v2h-2zM631 87h2v2h-2zM598 123.5h2v2h-2zM609 121.5h2v2h-2zM631.5 86h2v2h-2zM605 116h2v2h-2zM615.5 93.5h2v2h-2zM592 120h2v2h-2zM602 119h2v2h-2zM624 95h2v2h-2zM603 109.5h2v2h-2zM594.5 121h2v2h-2zM614.5 105h2v2h-2zM609 106h2v2h-2zM596 133.5h2v2h-2zM596 138h2v2h-2zM611.5 103h2v2h-2zM602 115h2v2h-2zM596.5 128.5h2v2h-2zM585.5 120.5h2v2h-2zM608 78h2v2h-2zM614.5 90h2v2h-2zM622 84.5h2v2h-2zM593.5 92h2v2h-2zM600.5 79h2v2h-2zM609 75.5h2v2h-2zM586 81h2v2h-2zM610.5 88h2v2h-2zM593 85.5h2v2h-2zM619 80h2v2h-2zM612.5 98.5h2v2h-2zM594 86.5h2v2h-2zM609 80.5h2v2h-2zM607 92.5h2v2h-2zM608 93h2v2h-2zM595.5 77.5h2v2h-2zM632 73.5h2v2h-2zM619 76h2v2h-2zM602 76.5h2v2h-2zM601 94.5h2v2h-2zM599 84.5h2v2h-2zM589.5 74h2v2h-2zM608 84h2v2h-2zM612 77h2v2h-2zM630 75.5h2v2h-2zM610.5 80.5h2v2h-2zM615 75h2v2h-2zM620 85.5h2v2h-2zM597.5 70.5h2v2h-2zM603.5 72.5h2v2h-2zM619.5 67.5h2v2h-2zM600.5 84h2v2h-2zM632 80h2v2h-2zM600.5 79.5h2v2h-2zM599.5 72h2v2h-2zM610 73h2v2h-2zM606 83h2v2h-2zM603.5 97.5h2v2h-2zM609 75h2v2h-2zM608.5 85.5h2v2h-2zM601 74h2v2h-2zM610.5 77h2v2h-2zM601.5 85h2v2h-2zM599.5 83h2v2h-2zM614 80.5h2v2h-2zM618.5 73h2v2h-2zM596.5 78.5h2v2h-2zM624 87h2v2h-2zM608.5 96h2v2h-2zM599 66h2v2h-2zM597 78.5h2v2h-2zM618 71h2v2h-2zM598.5 85h2v2h-2zM628 71h2v2h-2zM606.5 74.5h2v2h-2zM599 64h2v2h-2zM626.5 89h2v2h-2zM606.5 88h2v2h-2zM592 90h2v2h-2zM597.5 89.5h2v2h-2zM627 64.5h2v2h-2zM592.5 85.5h2v2h-2zM621.5 86h2v2h-2zM599.5 87.5h2v2h-2zM588 96h2v2h-2zM607.5 87.5h2v2h-2zM612 73.5h2v2h-2zM623 79h2v2h-2zM599.5 75h2v2h-2zM632 69.5h2v2h-2zM599.5 85h2v2h-2zM603.5 74h2v2h-2zM600.5 81.5h2v2h-2zM597 78h2v2h-2zM613.5 81h2v2h-2zM611.5 88h2v2h-2zM597 75h2v2h-2zM606.5 79h2v2h-2zM620 82h2v2h-2zM584.5 172h2v2h-2zM587 174h2v2h-2zM584.5 170h2v2h-2zM585.5 166h2v2h-2zM586.5 162.5h2v2h-2zM586.5 160h2v2h-2zM586.5 168h2v2h-2zM586 175.5h2v2h-2zM588.5 172h2v2h-2zM589.5 178h2v2h-2zM659.5 55.5h2v2h-2zM656 61.5h2v2h-2zM606 55h2v2h-2zM620 57.5h2v2h-2zM640 65.5h2v2h-2zM594 55h2v2h-2z"/>
<path d="M562.2 19L621.2 182.3" stroke="#84329a" stroke-width="1.1" fill="none"/>
<path d="M527.6 139.9L675.5 63.6" stroke="#84329a" stroke-width="1.1" fill="none"/>
<path d="M523.6 170h2.6M538.4 183.3v3.5M523.6 162.8h2.6M544.9 183.3v3.5M523.6 157.7h2.6M549.5 183.3v3.5M523.6 153.8h2.6M553.1 183.3v3.5M523.6 150.5h2.6M556 183.3v3.5M523.6 147.8h2.6M558.5 183.3v3.5M523.6 145.4h2.6M560.7 183.3v3.5M523.6 143.3h2.6M562.6 183.3v3.5M523.6 129.2h2.6M575.4 183.3v3.5M523.6 122h2.6M582 183.3v3.5M523.6 116.9h2.6M586.6 183.3v3.5M523.6 112.9h2.6M590.2 183.3v3.5M523.6 109.7h2.6M593.1 183.3v3.5M523.6 107h2.6M595.6 183.3v3.5M523.6 104.6h2.6M597.8 183.3v3.5M523.6 102.5h2.6M599.7 183.3v3.5M523.6 88.4h2.6M612.5 183.3v3.5M523.6 81.2h2.6M619 183.3v3.5M523.6 76.1h2.6M623.7 183.3v3.5M523.6 72.1h2.6M627.3 183.3v3.5M523.6 68.9h2.6M630.2 183.3v3.5M523.6 66.1h2.6M632.7 183.3v3.5M523.6 63.8h2.6M634.8 183.3v3.5M523.6 61.7h2.6M636.7 183.3v3.5M523.6 47.5h2.6M649.6 183.3v3.5M523.6 40.3h2.6M656.1 183.3v3.5M523.6 35.2h2.6M660.7 183.3v3.5M523.6 31.3h2.6M664.3 183.3v3.5M523.6 28.1h2.6M667.3 183.3v3.5M523.6 25.3h2.6M669.8 183.3v3.5M523.6 23h2.6M671.9 183.3v3.5M523.6 20.9h2.6M673.8 183.3v3.5" stroke="#2a7f32" stroke-width="0.9" fill="none"/>
<path d="M522.2 182.3H527.2M527.2 183.3v5M522.2 141.5H527.2M564.3 183.3v5M522.2 100.7H527.2M601.4 183.3v5M522.2 59.8H527.2M638.4 183.3v5M522.2 19H527.2M675.5 183.3v5" stroke="#2a7f32" stroke-width="1" fill="none"/>
<path d="M527.2 18.5V183.3" stroke="#044804" stroke-width="2" fill="none"/>
<text x="522.2" y="185.3" text-anchor="end" class="tl" textLength="16" lengthAdjust="spacingAndGlyphs">10e0</text>
<text x="527.2" y="194.8" text-anchor="middle" class="tl" textLength="16" lengthAdjust="spacingAndGlyphs">10e0</text>
<text x="522.2" y="144.5" text-anchor="end" class="tl" textLength="16" lengthAdjust="spacingAndGlyphs">10e1</text>
<text x="564.3" y="194.8" text-anchor="middle" class="tl" textLength="16" lengthAdjust="spacingAndGlyphs">10e1</text>
<text x="522.2" y="103.7" text-anchor="end" class="tl" textLength="16" lengthAdjust="spacingAndGlyphs">10e2</text>
<text x="601.4" y="194.8" text-anchor="middle" class="tl" textLength="16" lengthAdjust="spacingAndGlyphs">10e2</text>
<text x="522.2" y="62.8" text-anchor="end" class="tl" textLength="16" lengthAdjust="spacingAndGlyphs">10e3</text>
<text x="638.4" y="194.8" text-anchor="middle" class="tl" textLength="16" lengthAdjust="spacingAndGlyphs">10e3</text>
<text x="522.2" y="22" text-anchor="end" class="tl" textLength="16" lengthAdjust="spacingAndGlyphs">10e4</text>
<text x="675.5" y="194.8" text-anchor="middle" class="tl" textLength="16" lengthAdjust="spacingAndGlyphs">10e4</text>
<text x="601.4" y="10.8" text-anchor="middle" class="tt" textLength="35.5" lengthAdjust="spacingAndGlyphs">Apoptosis</text>
<text x="601.4" y="204.8" text-anchor="middle" class="tt" textLength="70.5" lengthAdjust="spacingAndGlyphs">Annexin V-PE (PM1)</text>
<text transform="translate(494.7 100.1) rotate(-90)" text-anchor="middle" class="tt" textLength="48.5" lengthAdjust="spacingAndGlyphs">7-AAD (PM2)</text>
<text x="467.1" y="18.9" class="lt">c</text>
<path d="M192.3 246H346.3" fill="none" stroke="#8a8a8a" stroke-width="1.6"/>
<path d="M345.5 246V406.3" fill="none" stroke="#5a5a5a" stroke-width="1.5"/>
<path d="M192.3 406.3H345.5" fill="none" stroke="#333333" stroke-width="1.4"/>
<text x="263.4" y="276" class="pc" textLength="51" lengthAdjust="spacingAndGlyphs">5.1 ± 3.5%</text>
<text x="282.7" y="373.2" class="pc" textLength="56.7" lengthAdjust="spacingAndGlyphs">27.6 ± 4.0%</text>
<text x="213.7" y="397.3" class="pc" textLength="57.1" lengthAdjust="spacingAndGlyphs">67.0 ± 3.6%</text>
<path fill="#ff0000" d="M258 350h2v2h-2zM236 366.5h2v2h-2zM254 357h2v2h-2zM237 359.5h2v2h-2zM233.5 363.5h2v2h-2zM241.5 355.5h2v2h-2zM242.5 360h2v2h-2zM228.5 356h2v2h-2zM256 358h2v2h-2zM233.5 364.5h2v2h-2zM236 362.5h2v2h-2zM243 363h2v2h-2zM255 357.5h2v2h-2zM240.5 364h2v2h-2zM266.5 354.5h2v2h-2zM248 359.5h2v2h-2zM245.5 359.5h2v2h-2zM252 360h2v2h-2zM247 359h2v2h-2zM238.5 352.5h2v2h-2zM243 353.5h2v2h-2zM249.5 356.5h2v2h-2zM262.5 347h2v2h-2zM250.5 353.5h2v2h-2zM252.5 365h2v2h-2zM227.5 367h2v2h-2zM245.5 366h2v2h-2zM247.5 365.5h2v2h-2zM264 346h2v2h-2zM262.5 357h2v2h-2zM249 361h2v2h-2zM253 348h2v2h-2zM247.5 364h2v2h-2zM241.5 362h2v2h-2zM248 353h2v2h-2zM244.5 356.5h2v2h-2zM251 353.5h2v2h-2zM254.5 349.5h2v2h-2zM246 365.5h2v2h-2zM258 361.5h2v2h-2zM237.5 354h2v2h-2zM248 355.5h2v2h-2zM250 356.5h2v2h-2zM231 361h2v2h-2zM253.5 353.5h2v2h-2zM254.5 350.5h2v2h-2zM264 360.5h2v2h-2zM247.5 355h2v2h-2zM253.5 343h2v2h-2zM254 358h2v2h-2zM233 356.5h2v2h-2zM251 343h2v2h-2zM234.5 362h2v2h-2zM250.5 357.5h2v2h-2zM254.5 366h2v2h-2zM250.5 359h2v2h-2zM229 365.5h2v2h-2zM261.5 350h2v2h-2zM251 348h2v2h-2zM257 354h2v2h-2zM241.5 356h2v2h-2zM244.5 363h2v2h-2zM267 340.5h2v2h-2zM246 353h2v2h-2zM244 352.5h2v2h-2zM244.5 342.5h2v2h-2zM257 355h2v2h-2zM233.5 360h2v2h-2zM245 359.5h2v2h-2zM240 369h2v2h-2zM271 343h2v2h-2zM258 356h2v2h-2zM249 363h2v2h-2zM250 362.5h2v2h-2zM246 354h2v2h-2zM244 349.5h2v2h-2zM246.5 356h2v2h-2zM264.5 359.5h2v2h-2zM245.5 363.5h2v2h-2zM245.5 353h2v2h-2zM261.5 353.5h2v2h-2zM252.5 369h2v2h-2zM238 354.5h2v2h-2zM248.5 363.5h2v2h-2zM248 354.5h2v2h-2zM236 356.5h2v2h-2zM241 354.5h2v2h-2zM251 362h2v2h-2zM244 363h2v2h-2zM263.5 352h2v2h-2zM251.5 351.5h2v2h-2zM244 358.5h2v2h-2zM247.5 361h2v2h-2zM239.5 367h2v2h-2zM242 371.5h2v2h-2zM255 356h2v2h-2zM247.5 362.5h2v2h-2zM230.5 376.5h2v2h-2zM235.5 352h2v2h-2zM253.5 350h2v2h-2zM237.5 352h2v2h-2zM245 360.5h2v2h-2zM258 353h2v2h-2zM246 366.5h2v2h-2zM245.5 358h2v2h-2zM244.5 358h2v2h-2zM258 351h2v2h-2zM242 366h2v2h-2zM237 355h2v2h-2zM249 350h2v2h-2zM263.5 348h2v2h-2zM251.5 352h2v2h-2zM259.5 351.5h2v2h-2zM238 363h2v2h-2zM249 366h2v2h-2zM247.5 367h2v2h-2zM248.5 359.5h2v2h-2zM260 361.5h2v2h-2zM261.5 356.5h2v2h-2zM255.5 356.5h2v2h-2zM259.5 361.5h2v2h-2zM243 353h2v2h-2zM256 365.5h2v2h-2zM239 366.5h2v2h-2zM245.5 357h2v2h-2zM237 361h2v2h-2zM260 365h2v2h-2zM244.5 357h2v2h-2zM255.5 364.5h2v2h-2zM236.5 356.5h2v2h-2zM251 363.5h2v2h-2zM256.5 364h2v2h-2zM249.5 361.5h2v2h-2zM250.5 356h2v2h-2zM250.5 354.5h2v2h-2zM248.5 363h2v2h-2zM245.5 362h2v2h-2zM241 360h2v2h-2zM258.5 354h2v2h-2zM249 362.5h2v2h-2zM249.5 355h2v2h-2zM252 357h2v2h-2zM237.5 366h2v2h-2zM236.5 358h2v2h-2zM236.5 362h2v2h-2zM265.5 342h2v2h-2zM246.5 350.5h2v2h-2zM255.5 351h2v2h-2zM232 359h2v2h-2zM245.5 354h2v2h-2zM250 352.5h2v2h-2zM243.5 365h2v2h-2zM259 349.5h2v2h-2zM245.5 365h2v2h-2zM248 363.5h2v2h-2zM259.5 360h2v2h-2zM264 353.5h2v2h-2zM252 353h2v2h-2zM245 352h2v2h-2zM246.5 365h2v2h-2zM260 357h2v2h-2zM239 364h2v2h-2zM239.5 356.5h2v2h-2zM240 360.5h2v2h-2zM258.5 336.5h2v2h-2zM252.5 348h2v2h-2zM240.5 357h2v2h-2zM242 369.5h2v2h-2zM248.5 356.5h2v2h-2zM243.5 362h2v2h-2zM239 357.5h2v2h-2zM240.5 361.5h2v2h-2zM246.5 359.5h2v2h-2zM242.5 371.5h2v2h-2zM248 361h2v2h-2zM245 351h2v2h-2zM241.5 359h2v2h-2zM252.5 353.5h2v2h-2zM252.5 355.5h2v2h-2zM230 365h2v2h-2zM250.5 348h2v2h-2zM244 366h2v2h-2zM239 352.5h2v2h-2zM250.5 357h2v2h-2zM253.5 362.5h2v2h-2zM243 350h2v2h-2zM264.5 356.5h2v2h-2zM253 357.5h2v2h-2zM242.5 357h2v2h-2zM266 343.5h2v2h-2zM262 366h2v2h-2zM245.5 369.5h2v2h-2zM242.5 366h2v2h-2zM241 360.5h2v2h-2zM238.5 365h2v2h-2zM239.5 365.5h2v2h-2zM251.5 350.5h2v2h-2zM247 344.5h2v2h-2zM233 355.5h2v2h-2zM250 354h2v2h-2zM234 364.5h2v2h-2zM252.5 354.5h2v2h-2zM243.5 354.5h2v2h-2zM246 358h2v2h-2zM259 354h2v2h-2zM229 366h2v2h-2zM268.5 347.5h2v2h-2zM276.5 357.5h2v2h-2zM258 344.5h2v2h-2zM253 355h2v2h-2zM241.5 363h2v2h-2zM258 350.5h2v2h-2zM246 360h2v2h-2zM240.5 353.5h2v2h-2zM261 347.5h2v2h-2zM256 365h2v2h-2zM234.5 361.5h2v2h-2zM236 363h2v2h-2zM256.5 359h2v2h-2zM239.5 365h2v2h-2zM247.5 374h2v2h-2zM253 354h2v2h-2zM246 359.5h2v2h-2zM244 348.5h2v2h-2zM235.5 354h2v2h-2zM261.5 349.5h2v2h-2zM256.5 366.5h2v2h-2zM231.5 376h2v2h-2zM237 354.5h2v2h-2zM269 351.5h2v2h-2zM254 351.5h2v2h-2zM245 354.5h2v2h-2zM256.5 349.5h2v2h-2zM251 348.5h2v2h-2zM255.5 347.5h2v2h-2zM244.5 360h2v2h-2zM263 347.5h2v2h-2zM250.5 363h2v2h-2zM247.5 365h2v2h-2zM245 352.5h2v2h-2zM251.5 355.5h2v2h-2zM250.5 359.5h2v2h-2zM240 358h2v2h-2zM250 347.5h2v2h-2zM242.5 348.5h2v2h-2zM263 365.5h2v2h-2zM237.5 358.5h2v2h-2zM245.5 351h2v2h-2zM243 352h2v2h-2zM238.5 354h2v2h-2zM252 364h2v2h-2zM251 358h2v2h-2zM262 355h2v2h-2zM242.5 362.5h2v2h-2zM252.5 363h2v2h-2zM249 351h2v2h-2zM250.5 345.5h2v2h-2zM236 353.5h2v2h-2zM236.5 361h2v2h-2zM256 345.5h2v2h-2zM258.5 355.5h2v2h-2zM262 345.5h2v2h-2zM242.5 350.5h2v2h-2zM251 349.5h2v2h-2zM250 350.5h2v2h-2zM262 354.5h2v2h-2zM268 350.5h2v2h-2zM255.5 353.5h2v2h-2zM259.5 356.5h2v2h-2zM247.5 355.5h2v2h-2zM256.5 360.5h2v2h-2zM243.5 361h2v2h-2zM263.5 359h2v2h-2zM239.5 366.5h2v2h-2zM246.5 354h2v2h-2zM249 353.5h2v2h-2zM254.5 355.5h2v2h-2zM239.5 368h2v2h-2zM251.5 367.5h2v2h-2zM253 358h2v2h-2zM237.5 366.5h2v2h-2zM221 352h2v2h-2zM235 354.5h2v2h-2zM242.5 349h2v2h-2zM233 363.5h2v2h-2zM243 360h2v2h-2zM254.5 346.5h2v2h-2zM242 352h2v2h-2zM255 358h2v2h-2zM253.5 358h2v2h-2zM247 362.5h2v2h-2zM253.5 354h2v2h-2zM255 362h2v2h-2zM234 354h2v2h-2zM262 353h2v2h-2zM230.5 359h2v2h-2zM249.5 359.5h2v2h-2zM241.5 351h2v2h-2zM249 359.5h2v2h-2zM243.5 365.5h2v2h-2zM245.5 348h2v2h-2zM246.5 367.5h2v2h-2zM239 355.5h2v2h-2zM249.5 369h2v2h-2zM237.5 345.5h2v2h-2zM252.5 351.5h2v2h-2zM236.5 365.5h2v2h-2zM250 358.5h2v2h-2zM243 355h2v2h-2zM261.5 370.5h2v2h-2zM239.5 371h2v2h-2zM259.5 352.5h2v2h-2zM233.5 358.5h2v2h-2zM261.5 354h2v2h-2zM258 356.5h2v2h-2zM264.5 348.5h2v2h-2zM257.5 359.5h2v2h-2zM263.5 348.5h2v2h-2zM251 358.5h2v2h-2zM276 355.5h2v2h-2zM259.5 360.5h2v2h-2zM242 357.5h2v2h-2zM243.5 366.5h2v2h-2zM247 354h2v2h-2zM250 355.5h2v2h-2zM253 351.5h2v2h-2zM255.5 355.5h2v2h-2zM231 367.5h2v2h-2zM252 356h2v2h-2zM245.5 352h2v2h-2zM234 358h2v2h-2zM243.5 350h2v2h-2zM256.5 362.5h2v2h-2zM255 358.5h2v2h-2zM236 357.5h2v2h-2zM244 359h2v2h-2zM245 351.5h2v2h-2zM261.5 359h2v2h-2zM246.5 359h2v2h-2zM241.5 365.5h2v2h-2zM248.5 356h2v2h-2zM225.5 362h2v2h-2zM257 356h2v2h-2zM252 349.5h2v2h-2zM231 358.5h2v2h-2zM270.5 351h2v2h-2zM253.5 342.5h2v2h-2zM246.5 364h2v2h-2zM247 357.5h2v2h-2zM255.5 365h2v2h-2zM246.5 358h2v2h-2zM246.5 367h2v2h-2zM253.5 355.5h2v2h-2zM238 351h2v2h-2zM255 354h2v2h-2zM239 354.5h2v2h-2zM252 363.5h2v2h-2zM257.5 361.5h2v2h-2zM252.5 358h2v2h-2zM255.5 357.5h2v2h-2zM244.5 340.5h2v2h-2zM240.5 362h2v2h-2zM257.5 358.5h2v2h-2zM246.5 361h2v2h-2zM240 362.5h2v2h-2zM243 356.5h2v2h-2zM241.5 362.5h2v2h-2zM254.5 360.5h2v2h-2zM253.5 356.5h2v2h-2zM248.5 357.5h2v2h-2zM247 353h2v2h-2zM229 346h2v2h-2zM247.5 360.5h2v2h-2zM236.5 354.5h2v2h-2zM269.5 345h2v2h-2zM235.5 364h2v2h-2zM261.5 365.5h2v2h-2zM251 355h2v2h-2zM252 354h2v2h-2zM243 364h2v2h-2zM239 357h2v2h-2zM261.5 360.5h2v2h-2zM265 356.5h2v2h-2zM240.5 367.5h2v2h-2zM259 360.5h2v2h-2zM248 355h2v2h-2zM246 355h2v2h-2zM241.5 357h2v2h-2zM233.5 356h2v2h-2zM232 366h2v2h-2zM247 359.5h2v2h-2zM233 366h2v2h-2zM240.5 370.5h2v2h-2zM251.5 354.5h2v2h-2zM255.5 354h2v2h-2zM257 354.5h2v2h-2zM248 368.5h2v2h-2zM254.5 356.5h2v2h-2zM236 355h2v2h-2zM248.5 360.5h2v2h-2zM240 356.5h2v2h-2zM238.5 366.5h2v2h-2zM237 348h2v2h-2zM244.5 356h2v2h-2zM255 364h2v2h-2zM240.5 342.5h2v2h-2zM255.5 353h2v2h-2zM231.5 359h2v2h-2zM238.5 358.5h2v2h-2zM243 358h2v2h-2zM263.5 357.5h2v2h-2zM269 349.5h2v2h-2zM249.5 359h2v2h-2zM249.5 357h2v2h-2zM240 367h2v2h-2zM257.5 353h2v2h-2zM239.5 362.5h2v2h-2zM242.5 358.5h2v2h-2zM248 352.5h2v2h-2zM255 357h2v2h-2zM249.5 355.5h2v2h-2zM226 361h2v2h-2zM243.5 360.5h2v2h-2zM250.5 349h2v2h-2zM259.5 357h2v2h-2zM233 362.5h2v2h-2zM249 360h2v2h-2zM256 355.5h2v2h-2zM233.5 352h2v2h-2zM259.5 350.5h2v2h-2zM253 349.5h2v2h-2zM250 362h2v2h-2zM240 375h2v2h-2zM251.5 352.5h2v2h-2zM240 353.5h2v2h-2zM242 348.5h2v2h-2zM239.5 354h2v2h-2zM249.5 361h2v2h-2zM250.5 355h2v2h-2zM255.5 358.5h2v2h-2zM250.5 347h2v2h-2zM244 353h2v2h-2zM247.5 358.5h2v2h-2zM239.5 359.5h2v2h-2zM256.5 357h2v2h-2zM239 348.5h2v2h-2zM240 368.5h2v2h-2zM248 356h2v2h-2zM230.5 365.5h2v2h-2zM252 351.5h2v2h-2zM260 347.5h2v2h-2zM253.5 360h2v2h-2zM254 363h2v2h-2zM252.5 360.5h2v2h-2zM237.5 358h2v2h-2zM251 350h2v2h-2zM256 357.5h2v2h-2zM265.5 353h2v2h-2zM244.5 362.5h2v2h-2zM251.5 358h2v2h-2zM252.5 362.5h2v2h-2zM244.5 358.5h2v2h-2zM244 363.5h2v2h-2zM245.5 346h2v2h-2zM262.5 353.5h2v2h-2zM233 358h2v2h-2zM237.5 359h2v2h-2zM235.5 361.5h2v2h-2zM253 356.5h2v2h-2zM239.5 363h2v2h-2zM256.5 351.5h2v2h-2zM238.5 360h2v2h-2zM262 362.5h2v2h-2zM249 356h2v2h-2zM256.5 358h2v2h-2zM235.5 364.5h2v2h-2zM256.5 355.5h2v2h-2zM243 361.5h2v2h-2zM234 355.5h2v2h-2zM255.5 344h2v2h-2zM245 356h2v2h-2zM257 359h2v2h-2zM258.5 363.5h2v2h-2zM254.5 359.5h2v2h-2zM242 357h2v2h-2zM250 357h2v2h-2zM243.5 348h2v2h-2zM258.5 352.5h2v2h-2zM247.5 344h2v2h-2zM252 359.5h2v2h-2zM256.5 361.5h2v2h-2zM265.5 354.5h2v2h-2zM255 350h2v2h-2zM251 360h2v2h-2zM259 353.5h2v2h-2zM250 348.5h2v2h-2zM245.5 355.5h2v2h-2zM256 356.5h2v2h-2zM243.5 355h2v2h-2zM243.5 356h2v2h-2zM242 354.5h2v2h-2zM247 357h2v2h-2zM249.5 353.5h2v2h-2zM256 356h2v2h-2zM245.5 359h2v2h-2zM250 344.5h2v2h-2zM239 353.5h2v2h-2zM257 351.5h2v2h-2zM248.5 352h2v2h-2zM235.5 359.5h2v2h-2zM239.5 350.5h2v2h-2zM246.5 346.5h2v2h-2zM259 354.5h2v2h-2zM249 347h2v2h-2zM263 343h2v2h-2zM240.5 365.5h2v2h-2zM264 359h2v2h-2zM241.5 351.5h2v2h-2zM241 361.5h2v2h-2zM240 355.5h2v2h-2zM236.5 355.5h2v2h-2zM239 351h2v2h-2zM264 356.5h2v2h-2zM235 359.5h2v2h-2zM244.5 364.5h2v2h-2zM244.5 359.5h2v2h-2zM255 354.5h2v2h-2zM244.5 357.5h2v2h-2zM257 351h2v2h-2zM271 355h2v2h-2zM241.5 354h2v2h-2zM242.5 348h2v2h-2zM260 345.5h2v2h-2zM265 355h2v2h-2zM231 355.5h2v2h-2zM233 367.5h2v2h-2zM251.5 360h2v2h-2zM249.5 356h2v2h-2zM241 352.5h2v2h-2zM250.5 358.5h2v2h-2zM259.5 355h2v2h-2zM219 374.5h2v2h-2zM233 359.5h2v2h-2zM247.5 357h2v2h-2zM250 360.5h2v2h-2zM265 340.5h2v2h-2zM241 345.5h2v2h-2zM240.5 356h2v2h-2zM229 370.5h2v2h-2zM246.5 357h2v2h-2zM253 357h2v2h-2zM237.5 360.5h2v2h-2zM256 360h2v2h-2zM236 349.5h2v2h-2zM254.5 364.5h2v2h-2zM246.5 364.5h2v2h-2zM264 357.5h2v2h-2zM251 346h2v2h-2zM245 362h2v2h-2zM238 366h2v2h-2zM242.5 347.5h2v2h-2zM239 354h2v2h-2zM234 363h2v2h-2zM260 352h2v2h-2zM258 347.5h2v2h-2zM253.5 369.5h2v2h-2zM254 359.5h2v2h-2zM235.5 362h2v2h-2zM223 359.5h2v2h-2zM253.5 361h2v2h-2zM253 353h2v2h-2zM256.5 352.5h2v2h-2zM255 366h2v2h-2zM242.5 345h2v2h-2zM255 360h2v2h-2zM254 364.5h2v2h-2zM263.5 366h2v2h-2zM251 354.5h2v2h-2zM241 369h2v2h-2zM257 345h2v2h-2zM231 373.5h2v2h-2zM240 361h2v2h-2zM233 366.5h2v2h-2zM253 348.5h2v2h-2zM254.5 347.5h2v2h-2zM252.5 356.5h2v2h-2zM251 355.5h2v2h-2zM235.5 351h2v2h-2zM273.5 358.5h2v2h-2zM242 355h2v2h-2zM255 362.5h2v2h-2zM254.5 353h2v2h-2zM249.5 358.5h2v2h-2zM251.5 353.5h2v2h-2zM242 347.5h2v2h-2zM253 359h2v2h-2zM253 350.5h2v2h-2zM249 357h2v2h-2zM254 343.5h2v2h-2zM256 354h2v2h-2zM234 364h2v2h-2zM252.5 359.5h2v2h-2zM263.5 355h2v2h-2zM254 352.5h2v2h-2zM245 347.5h2v2h-2zM252 354.5h2v2h-2zM248.5 359h2v2h-2zM246 363h2v2h-2zM254.5 354.5h2v2h-2zM252 356.5h2v2h-2zM242.5 351.5h2v2h-2zM266 351.5h2v2h-2zM258.5 350.5h2v2h-2zM248.5 354h2v2h-2zM225.5 349h2v2h-2zM237.5 362.5h2v2h-2zM259 350h2v2h-2zM249 355h2v2h-2zM253.5 358.5h2v2h-2zM251 357.5h2v2h-2zM249.5 349.5h2v2h-2zM237.5 364.5h2v2h-2zM233 362h2v2h-2zM241.5 359.5h2v2h-2zM257 361.5h2v2h-2zM258.5 349h2v2h-2zM241.5 358.5h2v2h-2zM263 345h2v2h-2zM259 348.5h2v2h-2zM254 353.5h2v2h-2zM253.5 353h2v2h-2zM245 349.5h2v2h-2zM260.5 362.5h2v2h-2zM232.5 349.5h2v2h-2zM255 353.5h2v2h-2zM249.5 358h2v2h-2zM264 346.5h2v2h-2zM253 355.5h2v2h-2zM243 357h2v2h-2zM229 361.5h2v2h-2zM261 354h2v2h-2zM255.5 352h2v2h-2zM238.5 356h2v2h-2zM254.5 354h2v2h-2zM249 351.5h2v2h-2zM263.5 354h2v2h-2zM253.5 354.5h2v2h-2zM252 350h2v2h-2zM245.5 369h2v2h-2zM257 353.5h2v2h-2zM272.5 343h2v2h-2zM256.5 354h2v2h-2zM235 352h2v2h-2zM242 362h2v2h-2zM264 347.5h2v2h-2zM249 359h2v2h-2zM238.5 355h2v2h-2zM247 354.5h2v2h-2zM260 358h2v2h-2zM257.5 355.5h2v2h-2zM251.5 351h2v2h-2zM251.5 354h2v2h-2zM238.5 364.5h2v2h-2zM246.5 360.5h2v2h-2zM242 359h2v2h-2zM258.5 357.5h2v2h-2zM240.5 360h2v2h-2zM245.5 363h2v2h-2zM252 363h2v2h-2zM241.5 354.5h2v2h-2zM253 351h2v2h-2zM249 358.5h2v2h-2zM242.5 359h2v2h-2zM240 369.5h2v2h-2zM250 355h2v2h-2zM230.5 358.5h2v2h-2zM238 362h2v2h-2zM248.5 349h2v2h-2zM259.5 356h2v2h-2zM237 367.5h2v2h-2zM260 354.5h2v2h-2zM243.5 357.5h2v2h-2zM250.5 362h2v2h-2zM244 362h2v2h-2zM249.5 346h2v2h-2zM234 362h2v2h-2zM261 351h2v2h-2zM243 354h2v2h-2zM247 352.5h2v2h-2zM227.5 362.5h2v2h-2zM242.5 351h2v2h-2zM255.5 346.5h2v2h-2zM251.5 359.5h2v2h-2zM244 350h2v2h-2zM261 343.5h2v2h-2zM245.5 348.5h2v2h-2zM258 360h2v2h-2zM237 367h2v2h-2zM238.5 355.5h2v2h-2zM242.5 364.5h2v2h-2zM255.5 349.5h2v2h-2zM252 352h2v2h-2zM251 354h2v2h-2zM250.5 364h2v2h-2zM244.5 361.5h2v2h-2zM260.5 356.5h2v2h-2zM246.5 352.5h2v2h-2zM235 350.5h2v2h-2zM232 366.5h2v2h-2zM254.5 350h2v2h-2zM246.5 354.5h2v2h-2zM237.5 355.5h2v2h-2zM251.5 361h2v2h-2zM258.5 355h2v2h-2zM248 351h2v2h-2zM241 356.5h2v2h-2zM238.5 356.5h2v2h-2zM266 351h2v2h-2zM262 359h2v2h-2zM248.5 353h2v2h-2zM259.5 352h2v2h-2zM259 366h2v2h-2zM241.5 366.5h2v2h-2zM242.5 358h2v2h-2zM251 360.5h2v2h-2zM253.5 363.5h2v2h-2zM262 347.5h2v2h-2zM231.5 353h2v2h-2zM224 357h2v2h-2zM258.5 357h2v2h-2zM257 353h2v2h-2zM247 362h2v2h-2zM266.5 363h2v2h-2zM242 353.5h2v2h-2zM248.5 362.5h2v2h-2zM245.5 350.5h2v2h-2zM241 350.5h2v2h-2zM232.5 352.5h2v2h-2zM237.5 357h2v2h-2zM229.5 366h2v2h-2zM236.5 358.5h2v2h-2zM261 356h2v2h-2zM242 361h2v2h-2zM254.5 351.5h2v2h-2zM248.5 354.5h2v2h-2zM238 368.5h2v2h-2zM253.5 357.5h2v2h-2zM248 360.5h2v2h-2zM242 363h2v2h-2zM237 347h2v2h-2zM237.5 352.5h2v2h-2zM247 360h2v2h-2zM238.5 360.5h2v2h-2zM257.5 353.5h2v2h-2zM233.5 350.5h2v2h-2zM260 356.5h2v2h-2zM240 352.5h2v2h-2zM261 357h2v2h-2zM250 354.5h2v2h-2zM261 360h2v2h-2zM257.5 349h2v2h-2zM253 365h2v2h-2zM252 355.5h2v2h-2zM252 364.5h2v2h-2zM250.5 365h2v2h-2zM251 347.5h2v2h-2zM246.5 369h2v2h-2zM244 367.5h2v2h-2zM260 348.5h2v2h-2zM232 361h2v2h-2zM261.5 354.5h2v2h-2zM239.5 346.5h2v2h-2zM252 355h2v2h-2zM250 351h2v2h-2zM243.5 349h2v2h-2zM254.5 358.5h2v2h-2zM256 368.5h2v2h-2zM245.5 356.5h2v2h-2zM251 356.5h2v2h-2zM254 348.5h2v2h-2zM245 371h2v2h-2zM254 350.5h2v2h-2zM239.5 352h2v2h-2zM245 361h2v2h-2zM257.5 345.5h2v2h-2zM246 360.5h2v2h-2zM247.5 356.5h2v2h-2zM253 364h2v2h-2zM240 351h2v2h-2zM238 349.5h2v2h-2zM242.5 357.5h2v2h-2zM263 354.5h2v2h-2zM263.5 340h2v2h-2zM251 351h2v2h-2zM256.5 360h2v2h-2zM247.5 353.5h2v2h-2zM246 356.5h2v2h-2zM265 345h2v2h-2zM253.5 356h2v2h-2zM243 363.5h2v2h-2zM246 356h2v2h-2zM251 350.5h2v2h-2zM248 356.5h2v2h-2zM246.5 357.5h2v2h-2zM244 356.5h2v2h-2zM242.5 354h2v2h-2zM251.5 358.5h2v2h-2zM259 350.5h2v2h-2zM241.5 357.5h2v2h-2zM238.5 362.5h2v2h-2zM243.5 355.5h2v2h-2zM253 347.5h2v2h-2zM243.5 353.5h2v2h-2zM228 357.5h2v2h-2zM260 357.5h2v2h-2zM225 362h2v2h-2zM226 366.5h2v2h-2zM244.5 366h2v2h-2zM243.5 357h2v2h-2zM251.5 369h2v2h-2zM239 348h2v2h-2zM251.5 350h2v2h-2zM249.5 351h2v2h-2zM237.5 356h2v2h-2zM260 350.5h2v2h-2zM244 362.5h2v2h-2zM250.5 365.5h2v2h-2zM265 354.5h2v2h-2zM272 351h2v2h-2zM238.5 361h2v2h-2zM245 357.5h2v2h-2zM228.5 358h2v2h-2zM234.5 355h2v2h-2zM264.5 349.5h2v2h-2zM244.5 359h2v2h-2zM245 348.5h2v2h-2zM236.5 359.5h2v2h-2zM241.5 348.5h2v2h-2zM250.5 354h2v2h-2zM243.5 372.5h2v2h-2zM249.5 352.5h2v2h-2zM261.5 358h2v2h-2zM249 366.5h2v2h-2zM239 367.5h2v2h-2zM255.5 356h2v2h-2zM263 357.5h2v2h-2zM259.5 345.5h2v2h-2zM230.5 354.5h2v2h-2zM247 352h2v2h-2zM265.5 343.5h2v2h-2zM240.5 364.5h2v2h-2zM246 353.5h2v2h-2zM235 363.5h2v2h-2zM225.5 360.5h2v2h-2zM241.5 358h2v2h-2zM235.5 356.5h2v2h-2zM264 360h2v2h-2zM226.5 362h2v2h-2zM256 352h2v2h-2zM245 363.5h2v2h-2zM256.5 355h2v2h-2zM234 366h2v2h-2zM239 360h2v2h-2zM254 346h2v2h-2zM261 355h2v2h-2zM248 359h2v2h-2zM253 367h2v2h-2zM241.5 349h2v2h-2zM227.5 359h2v2h-2zM227 371.5h2v2h-2zM270.5 350h2v2h-2zM242 372.5h2v2h-2zM262.5 355h2v2h-2zM232 359.5h2v2h-2zM260.5 350.5h2v2h-2zM260.5 356h2v2h-2zM259.5 349h2v2h-2zM252.5 351h2v2h-2zM251 369.5h2v2h-2zM251 361h2v2h-2zM245 347h2v2h-2zM251 361.5h2v2h-2zM253 363h2v2h-2zM267 353h2v2h-2zM254 360h2v2h-2zM257 342.5h2v2h-2zM242 366.5h2v2h-2zM245 353h2v2h-2zM238 358h2v2h-2zM269.5 348.5h2v2h-2zM252 358.5h2v2h-2zM250.5 358h2v2h-2zM241.5 349.5h2v2h-2zM253 352.5h2v2h-2zM236.5 350.5h2v2h-2zM242 360.5h2v2h-2zM253.5 366.5h2v2h-2zM238.5 359h2v2h-2zM250.5 356.5h2v2h-2zM250 347h2v2h-2zM250.5 351.5h2v2h-2zM237.5 363h2v2h-2zM253 367.5h2v2h-2zM244 348h2v2h-2zM250 376.5h2v2h-2zM263 348.5h2v2h-2zM256 347.5h2v2h-2zM246.5 363h2v2h-2zM243.5 364.5h2v2h-2zM237 368h2v2h-2zM252.5 356h2v2h-2zM240.5 357.5h2v2h-2zM240.5 356.5h2v2h-2zM241 353.5h2v2h-2zM257.5 356.5h2v2h-2zM254.5 352h2v2h-2zM263.5 350.5h2v2h-2zM239 368h2v2h-2zM252 352.5h2v2h-2zM232 365h2v2h-2zM249 358h2v2h-2zM240 359h2v2h-2zM250 365.5h2v2h-2zM240 360h2v2h-2zM256 349h2v2h-2zM251 349h2v2h-2zM247.5 347h2v2h-2zM248.5 364h2v2h-2zM258.5 343h2v2h-2zM252.5 365.5h2v2h-2zM249 348.5h2v2h-2zM248 375.5h2v2h-2zM244.5 369h2v2h-2zM230 351.5h2v2h-2zM235 359h2v2h-2zM241 368.5h2v2h-2zM261 359h2v2h-2zM250 361h2v2h-2zM246.5 351.5h2v2h-2zM247.5 339.5h2v2h-2zM257 350.5h2v2h-2zM242 344.5h2v2h-2zM268 363.5h2v2h-2zM255.5 355h2v2h-2zM254 350h2v2h-2zM253 361.5h2v2h-2zM247.5 346h2v2h-2zM237 351.5h2v2h-2zM256.5 359.5h2v2h-2zM235.5 353h2v2h-2zM250 357.5h2v2h-2zM261 353h2v2h-2zM257 358h2v2h-2zM241 367.5h2v2h-2zM260 345h2v2h-2zM266 341.5h2v2h-2zM239.5 358.5h2v2h-2zM244.5 367.5h2v2h-2zM260.5 351h2v2h-2zM236.5 362.5h2v2h-2zM255.5 351.5h2v2h-2zM254.5 367.5h2v2h-2zM238 355h2v2h-2zM235.5 359h2v2h-2zM255.5 352.5h2v2h-2zM244.5 349.5h2v2h-2zM241.5 360.5h2v2h-2zM247.5 361.5h2v2h-2zM232.5 358.5h2v2h-2zM254 367.5h2v2h-2zM257 367.5h2v2h-2zM266.5 348.5h2v2h-2zM247 363.5h2v2h-2zM257.5 360.5h2v2h-2zM242 350.5h2v2h-2zM255 367.5h2v2h-2zM236.5 365h2v2h-2zM259.5 346h2v2h-2zM249.5 364.5h2v2h-2zM250.5 350.5h2v2h-2zM244 357h2v2h-2zM256 360.5h2v2h-2zM246 346h2v2h-2zM248 350h2v2h-2zM239.5 375.5h2v2h-2zM248 351.5h2v2h-2zM216.5 366.5h2v2h-2zM260 355.5h2v2h-2zM249.5 360.5h2v2h-2zM234 352.5h2v2h-2zM243 362.5h2v2h-2zM239 361.5h2v2h-2zM242.5 359.5h2v2h-2zM250.5 361.5h2v2h-2zM239 359h2v2h-2zM240.5 355h2v2h-2zM239 352h2v2h-2zM232 363.5h2v2h-2zM246.5 361.5h2v2h-2zM262 349h2v2h-2zM255.5 357h2v2h-2zM238.5 357.5h2v2h-2zM230 367.5h2v2h-2zM258 363.5h2v2h-2zM248 367.5h2v2h-2zM245.5 352.5h2v2h-2zM262 361h2v2h-2zM243 369h2v2h-2zM270 358h2v2h-2zM241.5 352.5h2v2h-2zM240.5 348.5h2v2h-2zM241.5 361h2v2h-2zM246.5 366.5h2v2h-2zM256.5 361h2v2h-2zM241 361h2v2h-2zM254 356h2v2h-2zM243.5 353h2v2h-2zM247 348.5h2v2h-2zM259.5 347.5h2v2h-2zM237.5 360h2v2h-2zM239.5 361h2v2h-2zM261.5 357h2v2h-2zM264.5 345.5h2v2h-2zM252.5 358.5h2v2h-2zM251 369h2v2h-2zM254 351h2v2h-2zM235.5 369h2v2h-2zM239.5 354.5h2v2h-2zM254.5 357h2v2h-2zM255 345h2v2h-2zM257 363h2v2h-2zM251 363h2v2h-2zM239 349.5h2v2h-2zM254 358.5h2v2h-2zM251.5 362h2v2h-2zM235 351.5h2v2h-2zM252 348h2v2h-2zM241 348.5h2v2h-2zM244.5 348.5h2v2h-2zM275 344.5h2v2h-2zM257 349.5h2v2h-2zM229 370h2v2h-2zM254.5 359h2v2h-2zM257 357h2v2h-2zM255 349h2v2h-2zM235.5 360h2v2h-2zM253.5 360.5h2v2h-2zM228 372.5h2v2h-2zM245 364.5h2v2h-2zM250 358h2v2h-2zM254 362h2v2h-2zM252.5 352h2v2h-2zM258 346h2v2h-2zM251 362.5h2v2h-2zM235 358.5h2v2h-2zM254 366h2v2h-2zM252 351h2v2h-2zM261.5 355.5h2v2h-2zM251.5 348.5h2v2h-2zM258 353.5h2v2h-2zM244.5 345h2v2h-2zM247.5 359.5h2v2h-2zM254 353h2v2h-2zM244 356h2v2h-2zM262 347h2v2h-2zM250 366.5h2v2h-2zM253.5 359h2v2h-2zM246.5 353h2v2h-2zM248 358h2v2h-2zM248 364.5h2v2h-2zM243.5 345.5h2v2h-2zM272 345h2v2h-2zM258.5 350h2v2h-2zM242 364.5h2v2h-2zM235.5 371h2v2h-2zM256 362h2v2h-2zM248.5 360h2v2h-2zM242 351h2v2h-2zM263.5 356h2v2h-2zM248 363h2v2h-2zM243.5 358h2v2h-2zM245 360h2v2h-2zM250.5 355.5h2v2h-2zM240.5 363h2v2h-2zM236.5 353h2v2h-2zM248.5 355.5h2v2h-2zM262 346h2v2h-2zM258 343.5h2v2h-2zM267.5 338h2v2h-2zM253 363.5h2v2h-2zM248 362.5h2v2h-2zM243 348.5h2v2h-2zM229.5 360.5h2v2h-2zM244.5 367h2v2h-2zM256 345h2v2h-2zM238 361h2v2h-2zM234 360.5h2v2h-2zM249 362h2v2h-2zM254 359h2v2h-2zM248 348h2v2h-2zM239 351.5h2v2h-2zM262.5 351.5h2v2h-2zM244.5 361h2v2h-2zM257 349h2v2h-2zM251 364h2v2h-2zM251 341h2v2h-2zM260 362.5h2v2h-2zM241.5 356.5h2v2h-2zM255 363h2v2h-2zM255 363.5h2v2h-2zM251.5 348h2v2h-2zM248.5 349.5h2v2h-2zM247 356.5h2v2h-2zM254.5 343.5h2v2h-2zM247.5 354h2v2h-2zM245.5 364.5h2v2h-2zM248.5 351.5h2v2h-2zM234.5 359.5h2v2h-2zM256 355h2v2h-2zM243 359.5h2v2h-2zM234.5 356.5h2v2h-2zM246 344.5h2v2h-2zM248.5 351h2v2h-2zM239.5 346h2v2h-2zM245.5 346.5h2v2h-2zM238 359h2v2h-2zM232.5 360h2v2h-2zM239 367h2v2h-2zM254.5 358h2v2h-2zM244 358h2v2h-2zM254.5 348.5h2v2h-2zM242 356h2v2h-2zM256 364.5h2v2h-2zM257 357.5h2v2h-2zM235 371h2v2h-2zM234 362.5h2v2h-2zM248.5 362h2v2h-2zM238.5 362h2v2h-2zM244 365.5h2v2h-2zM245 365h2v2h-2zM262.5 358h2v2h-2zM241.5 352h2v2h-2zM237.5 362h2v2h-2zM251.5 349.5h2v2h-2zM263 355h2v2h-2zM234 351.5h2v2h-2zM245.5 361h2v2h-2zM245.5 360h2v2h-2zM239 356.5h2v2h-2zM240.5 359h2v2h-2zM256 353h2v2h-2zM226 353.5h2v2h-2zM258.5 352h2v2h-2zM237 350.5h2v2h-2zM235 360.5h2v2h-2zM243.5 352h2v2h-2zM243.5 359.5h2v2h-2zM243.5 341.5h2v2h-2zM271 348.5h2v2h-2zM248 364h2v2h-2zM252.5 344.5h2v2h-2zM263 346.5h2v2h-2zM259.5 348h2v2h-2zM250.5 350h2v2h-2zM244 343.5h2v2h-2zM257.5 363h2v2h-2zM256 357h2v2h-2zM233 356h2v2h-2zM242.5 361.5h2v2h-2zM261.5 352h2v2h-2zM238 356h2v2h-2zM251.5 356h2v2h-2zM238 364.5h2v2h-2zM261 354.5h2v2h-2zM234 360h2v2h-2zM232 364.5h2v2h-2zM252 372h2v2h-2zM256.5 354.5h2v2h-2zM241 357.5h2v2h-2zM259.5 364.5h2v2h-2zM261.5 350.5h2v2h-2zM258 349.5h2v2h-2zM251.5 349h2v2h-2zM266.5 352h2v2h-2zM249.5 351.5h2v2h-2zM243 366h2v2h-2zM257.5 346.5h2v2h-2zM256 358.5h2v2h-2zM258.5 353.5h2v2h-2zM248 365.5h2v2h-2zM231.5 347.5h2v2h-2zM267 351.5h2v2h-2zM248 369h2v2h-2zM243 356h2v2h-2zM257.5 366.5h2v2h-2zM253 360.5h2v2h-2zM231 366.5h2v2h-2zM246 361.5h2v2h-2zM238 356.5h2v2h-2zM244 361h2v2h-2zM241 356h2v2h-2zM264 354h2v2h-2zM249 346h2v2h-2zM241 358h2v2h-2zM242 349.5h2v2h-2zM242.5 353.5h2v2h-2zM246 372h2v2h-2zM253.5 348.5h2v2h-2zM240.5 361h2v2h-2zM236 353h2v2h-2zM266 353.5h2v2h-2zM251 359h2v2h-2zM237 354h2v2h-2zM243 355.5h2v2h-2zM266.5 354h2v2h-2zM241 362.5h2v2h-2zM256 352.5h2v2h-2zM255.5 362h2v2h-2zM247 361h2v2h-2zM248.5 355h2v2h-2zM253 356h2v2h-2zM263 345.5h2v2h-2zM254.5 374h2v2h-2zM236.5 352h2v2h-2zM264 348.5h2v2h-2zM236.5 372.5h2v2h-2zM231.5 359.5h2v2h-2zM260 360.5h2v2h-2zM243 362h2v2h-2zM245.5 354.5h2v2h-2zM257 344.5h2v2h-2zM251.5 346h2v2h-2zM248 352h2v2h-2zM255 352.5h2v2h-2zM248 358.5h2v2h-2zM253 352h2v2h-2zM248 361.5h2v2h-2zM236 365.5h2v2h-2zM252 349h2v2h-2zM271 352h2v2h-2zM253 354.5h2v2h-2zM258.5 345.5h2v2h-2zM250 359h2v2h-2zM251.5 366h2v2h-2zM252 353.5h2v2h-2zM256.5 350.5h2v2h-2zM248.5 350.5h2v2h-2zM247.5 352h2v2h-2zM253.5 347.5h2v2h-2zM258.5 351.5h2v2h-2zM240 358.5h2v2h-2zM257.5 346h2v2h-2zM250.5 351h2v2h-2zM240.5 366h2v2h-2zM246 358.5h2v2h-2zM252.5 352.5h2v2h-2zM252 359h2v2h-2zM231 367h2v2h-2zM250.5 352h2v2h-2zM231.5 361.5h2v2h-2zM257.5 356h2v2h-2zM241.5 353h2v2h-2zM240 352h2v2h-2zM239.5 356h2v2h-2zM250.5 348.5h2v2h-2zM246 369.5h2v2h-2zM240 355h2v2h-2zM237.5 372.5h2v2h-2zM225.5 361.5h2v2h-2zM245 340h2v2h-2zM239 359.5h2v2h-2zM253.5 361.5h2v2h-2zM237.5 355h2v2h-2zM260.5 363.5h2v2h-2zM248 360h2v2h-2zM243 364.5h2v2h-2zM246.5 345.5h2v2h-2zM255 349.5h2v2h-2zM259 347h2v2h-2zM250.5 360.5h2v2h-2zM235 362.5h2v2h-2zM238.5 363h2v2h-2zM251.5 362.5h2v2h-2zM240.5 354.5h2v2h-2zM258 341.5h2v2h-2zM250.5 362.5h2v2h-2zM254 354.5h2v2h-2zM252 350.5h2v2h-2zM245.5 362.5h2v2h-2zM236 359h2v2h-2zM238.5 346h2v2h-2zM247 356h2v2h-2zM258.5 340.5h2v2h-2zM239.5 355h2v2h-2zM247.5 352.5h2v2h-2zM227 358h2v2h-2zM243 358.5h2v2h-2zM244.5 360.5h2v2h-2zM240.5 354h2v2h-2zM258 348.5h2v2h-2zM257 356.5h2v2h-2zM245 363h2v2h-2zM242.5 355h2v2h-2zM244 359.5h2v2h-2zM268.5 351.5h2v2h-2zM235 349.5h2v2h-2zM243.5 358.5h2v2h-2zM257.5 354h2v2h-2zM242.5 354.5h2v2h-2zM244.5 365h2v2h-2zM255 350.5h2v2h-2zM244.5 373h2v2h-2zM245 365.5h2v2h-2zM237 369h2v2h-2zM248.5 372h2v2h-2zM249.5 354h2v2h-2zM225 362.5h2v2h-2zM260.5 359.5h2v2h-2zM252 361h2v2h-2zM253.5 350.5h2v2h-2zM234 370h2v2h-2zM259 357.5h2v2h-2zM254 361h2v2h-2zM262 356.5h2v2h-2zM262 356h2v2h-2zM229 356.5h2v2h-2zM263 350h2v2h-2zM246.5 347h2v2h-2zM254 355h2v2h-2zM239.5 362h2v2h-2zM264 370h2v2h-2zM232 368.5h2v2h-2zM253 366h2v2h-2zM240 366.5h2v2h-2zM244 364.5h2v2h-2zM258 354h2v2h-2zM254 357.5h2v2h-2zM256 348.5h2v2h-2zM263 350.5h2v2h-2zM251.5 364h2v2h-2zM233 369h2v2h-2zM254 347.5h2v2h-2zM250.5 370.5h2v2h-2zM246.5 343.5h2v2h-2zM255 342h2v2h-2zM262 358.5h2v2h-2zM247.5 350h2v2h-2zM231 364h2v2h-2zM245 355h2v2h-2zM262.5 352h2v2h-2zM262.5 360h2v2h-2zM268 360h2v2h-2zM251 359.5h2v2h-2zM263 354h2v2h-2zM237.5 344h2v2h-2zM237 359h2v2h-2zM262.5 350h2v2h-2zM258 361h2v2h-2zM260.5 341h2v2h-2zM239 365.5h2v2h-2zM241 350h2v2h-2zM257 360.5h2v2h-2zM256.5 346h2v2h-2zM226.5 356h2v2h-2zM267 356.5h2v2h-2zM255 356.5h2v2h-2zM250.5 370h2v2h-2zM249 364h2v2h-2zM237 357.5h2v2h-2zM244 357.5h2v2h-2zM249.5 348h2v2h-2zM243 348h2v2h-2zM245.5 351.5h2v2h-2zM234 372.5h2v2h-2zM258.5 354.5h2v2h-2zM273.5 351h2v2h-2zM267 355.5h2v2h-2zM209.5 353.5h2v2h-2zM243.5 372h2v2h-2zM269.5 377.5h2v2h-2zM202 372.5h2v2h-2zM207.5 347.5h2v2h-2zM221 359.5h2v2h-2zM265 343h2v2h-2zM225.5 365h2v2h-2zM236.5 360h2v2h-2zM232 361.5h2v2h-2zM225 375h2v2h-2zM244 354.5h2v2h-2zM255 379h2v2h-2zM256 366h2v2h-2zM214.5 391.5h2v2h-2zM234.5 352.5h2v2h-2zM255.5 361h2v2h-2zM243.5 346.5h2v2h-2zM227.5 377.5h2v2h-2zM232.5 380.5h2v2h-2zM253.5 400h2v2h-2zM263.5 388h2v2h-2zM221 381h2v2h-2zM276.5 353.5h2v2h-2zM226.5 365.5h2v2h-2zM244.5 352.5h2v2h-2zM222.5 362.5h2v2h-2zM242 377h2v2h-2zM248 377.5h2v2h-2zM233.5 359.5h2v2h-2zM256 346.5h2v2h-2zM233 387h2v2h-2zM274.5 360.5h2v2h-2zM246 370.5h2v2h-2zM273 342h2v2h-2zM260 346.5h2v2h-2zM238.5 346.5h2v2h-2zM248 382.5h2v2h-2zM266 382h2v2h-2zM227.5 363h2v2h-2zM234 375.5h2v2h-2zM251 343.5h2v2h-2zM266.5 350h2v2h-2zM262.5 366.5h2v2h-2zM240.5 372h2v2h-2zM247 403h2v2h-2zM237 386.5h2v2h-2zM253 378.5h2v2h-2zM256 375h2v2h-2zM247.5 358h2v2h-2zM249.5 362.5h2v2h-2zM229.5 376h2v2h-2zM238 348.5h2v2h-2zM224.5 372h2v2h-2zM265 371h2v2h-2zM262 344.5h2v2h-2zM260.5 364h2v2h-2zM261 386h2v2h-2zM238 370.5h2v2h-2zM210.5 354h2v2h-2zM242.5 372.5h2v2h-2zM220 371.5h2v2h-2zM224.5 374h2v2h-2zM238.5 388.5h2v2h-2zM240.5 375.5h2v2h-2zM233.5 374.5h2v2h-2zM222 344h2v2h-2zM262 366.5h2v2h-2zM235 345.5h2v2h-2zM221 368.5h2v2h-2zM267.5 360h2v2h-2zM229 380h2v2h-2zM269 350h2v2h-2zM240.5 345.5h2v2h-2zM278.5 354h2v2h-2zM258.5 363h2v2h-2zM249.5 382h2v2h-2zM249.5 339.5h2v2h-2zM253 386h2v2h-2zM238 355.5h2v2h-2zM230 356.5h2v2h-2zM262 372.5h2v2h-2zM242 368.5h2v2h-2zM259 334h2v2h-2zM250 372h2v2h-2zM249.5 367.5h2v2h-2zM235.5 357.5h2v2h-2zM217.5 400.5h2v2h-2zM288.5 346h2v2h-2zM240.5 346h2v2h-2zM244 365h2v2h-2zM227 348.5h2v2h-2zM239.5 382h2v2h-2zM255.5 346h2v2h-2zM272.5 356.5h2v2h-2zM244 380h2v2h-2zM245 384h2v2h-2zM229 384h2v2h-2zM223.5 371.5h2v2h-2zM232.5 388h2v2h-2zM228.5 345.5h2v2h-2zM235.5 367h2v2h-2zM236 361.5h2v2h-2zM236.5 376.5h2v2h-2zM248 387.5h2v2h-2zM240 390.5h2v2h-2zM238 352h2v2h-2zM243.5 384.5h2v2h-2zM240 379.5h2v2h-2zM240 384.5h2v2h-2zM215.5 367.5h2v2h-2zM252 362h2v2h-2zM240 364.5h2v2h-2zM238 343h2v2h-2zM223.5 367h2v2h-2zM245 372h2v2h-2zM221.5 368.5h2v2h-2zM245.5 383.5h2v2h-2zM237.5 367h2v2h-2zM243.5 363.5h2v2h-2zM245 366h2v2h-2zM278 360h2v2h-2zM229.5 389h2v2h-2zM255.5 389.5h2v2h-2zM236.5 345.5h2v2h-2zM257 350h2v2h-2zM231 364.5h2v2h-2zM216.5 363.5h2v2h-2zM271 374h2v2h-2zM231.5 385h2v2h-2zM220.5 362h2v2h-2zM245 381.5h2v2h-2zM243 345.5h2v2h-2zM272 352h2v2h-2zM242 355.5h2v2h-2zM270.5 331h2v2h-2zM277 354.5h2v2h-2zM245.5 382h2v2h-2zM246.5 348h2v2h-2zM229 354.5h2v2h-2zM286.5 368.5h2v2h-2zM266 373.5h2v2h-2zM267.5 383.5h2v2h-2zM246 367h2v2h-2zM235 357h2v2h-2zM247 342.5h2v2h-2zM241 365.5h2v2h-2zM245 380h2v2h-2zM240.5 371h2v2h-2zM261.5 344.5h2v2h-2zM236.5 377.5h2v2h-2zM247 382.5h2v2h-2zM261 400.5h2v2h-2zM241.5 385.5h2v2h-2zM256.5 347h2v2h-2zM249 373.5h2v2h-2zM249.5 342h2v2h-2zM243 370h2v2h-2zM280.5 335h2v2h-2zM224 366.5h2v2h-2zM242 393h2v2h-2zM265 380.5h2v2h-2zM259.5 385.5h2v2h-2zM266.5 349.5h2v2h-2zM264 364h2v2h-2zM260 355h2v2h-2zM234.5 387.5h2v2h-2zM253.5 386.5h2v2h-2zM259.5 350h2v2h-2zM285 327h2v2h-2zM284 331.5h2v2h-2zM284.5 329h2v2h-2zM264 352h2v2h-2zM264.5 361.5h2v2h-2zM286.5 326.5h2v2h-2zM281.5 338h2v2h-2zM296 313h2v2h-2zM279 332.5h2v2h-2zM274 329h2v2h-2zM260 351h2v2h-2zM264 342h2v2h-2zM303.5 307.5h2v2h-2zM275 338.5h2v2h-2zM270 348h2v2h-2zM274.5 339.5h2v2h-2zM278.5 338.5h2v2h-2zM292 318.5h2v2h-2zM290.5 319.5h2v2h-2zM285.5 331.5h2v2h-2zM287 326.5h2v2h-2zM278 341h2v2h-2zM283 337h2v2h-2zM294 322h2v2h-2zM304.5 310.5h2v2h-2zM291 327.5h2v2h-2zM276.5 340.5h2v2h-2zM293.5 330.5h2v2h-2zM262.5 356.5h2v2h-2zM278 336.5h2v2h-2zM260.5 348.5h2v2h-2zM293 326h2v2h-2zM264.5 356h2v2h-2zM275.5 336h2v2h-2zM278 335.5h2v2h-2zM279.5 338.5h2v2h-2zM276 345h2v2h-2zM298.5 317.5h2v2h-2zM306.5 311h2v2h-2zM272 332h2v2h-2zM281.5 332h2v2h-2zM300 313h2v2h-2zM255.5 359h2v2h-2zM267.5 353.5h2v2h-2zM280.5 339h2v2h-2zM255 340h2v2h-2zM273 331.5h2v2h-2zM264 349.5h2v2h-2zM258.5 353h2v2h-2zM256.5 349h2v2h-2zM264.5 368.5h2v2h-2zM257.5 361h2v2h-2zM291 322.5h2v2h-2zM289 325.5h2v2h-2zM296 315.5h2v2h-2zM277 328h2v2h-2zM253 353.5h2v2h-2zM302.5 316h2v2h-2zM307 306h2v2h-2zM267 350h2v2h-2zM285.5 334h2v2h-2zM276 331h2v2h-2zM288 323.5h2v2h-2zM257.5 355h2v2h-2zM283.5 328h2v2h-2zM273 338h2v2h-2zM255.5 347h2v2h-2zM265 350h2v2h-2zM307 314h2v2h-2zM283.5 320h2v2h-2zM296 319.5h2v2h-2zM306.5 309h2v2h-2zM276.5 349h2v2h-2zM273 334.5h2v2h-2zM289.5 324.5h2v2h-2zM295 320h2v2h-2zM277 330.5h2v2h-2zM265.5 361.5h2v2h-2zM277 342h2v2h-2zM270.5 342h2v2h-2zM278.5 331.5h2v2h-2zM294 326h2v2h-2zM296.5 323.5h2v2h-2zM294 315h2v2h-2zM273.5 337h2v2h-2zM274.5 349.5h2v2h-2zM279.5 331.5h2v2h-2zM268.5 356h2v2h-2zM301.5 309.5h2v2h-2zM267.5 350h2v2h-2zM285 326.5h2v2h-2zM309 305h2v2h-2zM305.5 309.5h2v2h-2zM271.5 338h2v2h-2zM264 348h2v2h-2zM302 314h2v2h-2zM256.5 356.5h2v2h-2zM283 327h2v2h-2zM271.5 353.5h2v2h-2zM295.5 315.5h2v2h-2zM287.5 329h2v2h-2zM271.5 344.5h2v2h-2zM311.5 306.5h2v2h-2zM287.5 324.5h2v2h-2zM291.5 319.5h2v2h-2zM305 308h2v2h-2zM255 344h2v2h-2zM263.5 339.5h2v2h-2zM283 330.5h2v2h-2zM275.5 335h2v2h-2zM279.5 327.5h2v2h-2zM287.5 326.5h2v2h-2zM270.5 341.5h2v2h-2zM288.5 324h2v2h-2zM264 351h2v2h-2zM283 342.5h2v2h-2zM270.5 346h2v2h-2zM274 322h2v2h-2zM285.5 322.5h2v2h-2zM295.5 322h2v2h-2zM258.5 356h2v2h-2zM286 328h2v2h-2zM264.5 363.5h2v2h-2zM300.5 318h2v2h-2zM280 328.5h2v2h-2zM289.5 323h2v2h-2zM272 353h2v2h-2zM283 333.5h2v2h-2zM276 341.5h2v2h-2zM259 359h2v2h-2zM262.5 348.5h2v2h-2zM268.5 362.5h2v2h-2zM266 344h2v2h-2zM292.5 320h2v2h-2zM265.5 341h2v2h-2zM295.5 318h2v2h-2zM265.5 343h2v2h-2zM259 355.5h2v2h-2zM270.5 348h2v2h-2zM275.5 345h2v2h-2zM286 334.5h2v2h-2zM271.5 352.5h2v2h-2zM306.5 308h2v2h-2zM263 352h2v2h-2zM299 316.5h2v2h-2zM263 344.5h2v2h-2zM279.5 335.5h2v2h-2zM282.5 325h2v2h-2zM258 359.5h2v2h-2zM293.5 327h2v2h-2zM269.5 351h2v2h-2zM311 308h2v2h-2zM273.5 344h2v2h-2zM277.5 335.5h2v2h-2zM272 345.5h2v2h-2zM269 343.5h2v2h-2zM264 342.5h2v2h-2zM268 339.5h2v2h-2zM259 356h2v2h-2zM282.5 336.5h2v2h-2zM261.5 347h2v2h-2zM289.5 329h2v2h-2zM279 337.5h2v2h-2zM298.5 321.5h2v2h-2zM285.5 335.5h2v2h-2zM305.5 313h2v2h-2zM288.5 326h2v2h-2zM289.5 337h2v2h-2zM295.5 313.5h2v2h-2zM271 335.5h2v2h-2zM281 330h2v2h-2zM271 339h2v2h-2zM291.5 320h2v2h-2zM279 329.5h2v2h-2zM261.5 346h2v2h-2zM302.5 322.5h2v2h-2zM279 335.5h2v2h-2zM271.5 330.5h2v2h-2zM294.5 321.5h2v2h-2zM272.5 346.5h2v2h-2zM308.5 308h2v2h-2zM262 357.5h2v2h-2zM264.5 354.5h2v2h-2zM284 330h2v2h-2zM276.5 333.5h2v2h-2zM278.5 333h2v2h-2zM304.5 308h2v2h-2zM287.5 327.5h2v2h-2zM275 339h2v2h-2zM262 344h2v2h-2zM290 326h2v2h-2zM271.5 335.5h2v2h-2zM276.5 342.5h2v2h-2zM283.5 326.5h2v2h-2zM280.5 343h2v2h-2zM301.5 316h2v2h-2zM284 335h2v2h-2zM263 353.5h2v2h-2zM281.5 335.5h2v2h-2zM273 340.5h2v2h-2zM304 309.5h2v2h-2zM262 337.5h2v2h-2zM268 335h2v2h-2zM268.5 342.5h2v2h-2zM285 326h2v2h-2zM284.5 333.5h2v2h-2zM276 330.5h2v2h-2zM290.5 325.5h2v2h-2zM283 327.5h2v2h-2zM263 360.5h2v2h-2zM272.5 343.5h2v2h-2zM262 341h2v2h-2zM253.5 349.5h2v2h-2zM263.5 347.5h2v2h-2zM261.5 335h2v2h-2zM257 361h2v2h-2zM284 334h2v2h-2zM267 349h2v2h-2zM296 314.5h2v2h-2zM283.5 325.5h2v2h-2zM285.5 327.5h2v2h-2zM277.5 323h2v2h-2zM257 358.5h2v2h-2zM285 328h2v2h-2zM255.5 337.5h2v2h-2zM286 319.5h2v2h-2zM288 332h2v2h-2zM284 327h2v2h-2zM299.5 316h2v2h-2zM294.5 318.5h2v2h-2zM300.5 310.5h2v2h-2zM270 339.5h2v2h-2zM271 334.5h2v2h-2zM293.5 322.5h2v2h-2zM283 326h2v2h-2zM283 340h2v2h-2zM303.5 311h2v2h-2zM261.5 342h2v2h-2zM273 341h2v2h-2zM290 321.5h2v2h-2zM258.5 351h2v2h-2zM267.5 341.5h2v2h-2zM261.5 363h2v2h-2zM257.5 350h2v2h-2zM299.5 309.5h2v2h-2zM272.5 349.5h2v2h-2zM264.5 364.5h2v2h-2zM265.5 350h2v2h-2zM265.5 329h2v2h-2zM252.5 354h2v2h-2zM265 349.5h2v2h-2zM277.5 339.5h2v2h-2zM265.5 340h2v2h-2zM259 358h2v2h-2zM263.5 349h2v2h-2zM257.5 349.5h2v2h-2zM294.5 315h2v2h-2zM286.5 324.5h2v2h-2zM276 337h2v2h-2zM305.5 309h2v2h-2zM277.5 348.5h2v2h-2zM303 309.5h2v2h-2zM254 345h2v2h-2zM265 343.5h2v2h-2zM272 341.5h2v2h-2zM293 323.5h2v2h-2zM271.5 340h2v2h-2zM299 314h2v2h-2zM286.5 336h2v2h-2zM293 329.5h2v2h-2zM307.5 311.5h2v2h-2zM292 323h2v2h-2zM263 359.5h2v2h-2zM260 349.5h2v2h-2zM310 303h2v2h-2zM294 318.5h2v2h-2zM305.5 310h2v2h-2zM280 329.5h2v2h-2zM267.5 347.5h2v2h-2zM287 328h2v2h-2zM308.5 306h2v2h-2zM298 312.5h2v2h-2zM297 317.5h2v2h-2zM259 346h2v2h-2zM291.5 317.5h2v2h-2zM263 337h2v2h-2zM281.5 327.5h2v2h-2zM277.5 340.5h2v2h-2zM273.5 341.5h2v2h-2zM292 315h2v2h-2zM269.5 345.5h2v2h-2zM286.5 321.5h2v2h-2zM308 307.5h2v2h-2zM277.5 339h2v2h-2zM281.5 333h2v2h-2zM256.5 353.5h2v2h-2zM310 304h2v2h-2zM264 362h2v2h-2zM305.5 306.5h2v2h-2zM268.5 359h2v2h-2zM254 355.5h2v2h-2zM290 330h2v2h-2zM261.5 332h2v2h-2zM274.5 336.5h2v2h-2zM295.5 319h2v2h-2zM288.5 328.5h2v2h-2zM294 324h2v2h-2zM281 329h2v2h-2zM284 325h2v2h-2zM289 334h2v2h-2zM265 360.5h2v2h-2zM260 363.5h2v2h-2zM271 368.5h2v2h-2zM267.5 355h2v2h-2zM278.5 348h2v2h-2zM276.5 333h2v2h-2zM278.5 340.5h2v2h-2zM263.5 350h2v2h-2zM260 346h2v2h-2zM296.5 317h2v2h-2zM305 308.5h2v2h-2zM289 330h2v2h-2zM259 360h2v2h-2zM286 329h2v2h-2zM270 347.5h2v2h-2zM281 325.5h2v2h-2zM304 310h2v2h-2zM307.5 306h2v2h-2zM258 358h2v2h-2zM258.5 347h2v2h-2zM287 331.5h2v2h-2zM273.5 343h2v2h-2zM294 326.5h2v2h-2zM288.5 325.5h2v2h-2zM298.5 318h2v2h-2zM283 339.5h2v2h-2zM262 353.5h2v2h-2zM278 339.5h2v2h-2zM277 342.5h2v2h-2zM302.5 305.5h2v2h-2zM257 345.5h2v2h-2zM276 340.5h2v2h-2zM281.5 339.5h2v2h-2zM271.5 336h2v2h-2zM283 338h2v2h-2zM267 339.5h2v2h-2zM290.5 324.5h2v2h-2zM285.5 328h2v2h-2zM275 334h2v2h-2zM274 327.5h2v2h-2zM274 340h2v2h-2zM281 334.5h2v2h-2zM286.5 325.5h2v2h-2zM299.5 323.5h2v2h-2zM302 316.5h2v2h-2zM275 336h2v2h-2zM260.5 348h2v2h-2zM278 340h2v2h-2zM284 330.5h2v2h-2zM260.5 354.5h2v2h-2zM283 328.5h2v2h-2zM273.5 336h2v2h-2zM263.5 359.5h2v2h-2zM269 345h2v2h-2zM275 355h2v2h-2zM278.5 334h2v2h-2zM284.5 332h2v2h-2zM265 339h2v2h-2zM300.5 319h2v2h-2zM262 365.5h2v2h-2zM273 332.5h2v2h-2zM293 324h2v2h-2zM255 348h2v2h-2zM280 346.5h2v2h-2zM307.5 312h2v2h-2zM287.5 318.5h2v2h-2zM261 363h2v2h-2zM266 340h2v2h-2zM286 323.5h2v2h-2zM280 331h2v2h-2zM284 334.5h2v2h-2zM285.5 335h2v2h-2zM287.5 327h2v2h-2zM262 342.5h2v2h-2zM282.5 331.5h2v2h-2zM279 337h2v2h-2zM274.5 332.5h2v2h-2zM250.5 349.5h2v2h-2zM300 316.5h2v2h-2zM287.5 321h2v2h-2zM278.5 342h2v2h-2zM261 357.5h2v2h-2zM290 318.5h2v2h-2zM295 322h2v2h-2zM271 348h2v2h-2zM304 311.5h2v2h-2zM280 342.5h2v2h-2zM286.5 327h2v2h-2zM294 319h2v2h-2zM270.5 336h2v2h-2zM271 350.5h2v2h-2zM264 351.5h2v2h-2zM303.5 310h2v2h-2zM269.5 352.5h2v2h-2zM273 338.5h2v2h-2zM286 334h2v2h-2zM256 351h2v2h-2zM274.5 355.5h2v2h-2zM271 345h2v2h-2zM258.5 349.5h2v2h-2zM263 356.5h2v2h-2zM270.5 349.5h2v2h-2zM275 342h2v2h-2zM255.5 358h2v2h-2zM255.5 336.5h2v2h-2zM309 305.5h2v2h-2zM263 339h2v2h-2zM291 323h2v2h-2zM294.5 313.5h2v2h-2zM299.5 315h2v2h-2zM273.5 348.5h2v2h-2zM281.5 339h2v2h-2zM265 353.5h2v2h-2zM275 333h2v2h-2zM289 318.5h2v2h-2zM295.5 321h2v2h-2zM294.5 314h2v2h-2zM298 318.5h2v2h-2zM272 335h2v2h-2zM300.5 314h2v2h-2zM263.5 346h2v2h-2zM309 303h2v2h-2zM270 341h2v2h-2zM286.5 327.5h2v2h-2zM266 368h2v2h-2zM255.5 360h2v2h-2zM288 334h2v2h-2zM292 322.5h2v2h-2zM264.5 359h2v2h-2zM289.5 327h2v2h-2zM255 346.5h2v2h-2zM281 336h2v2h-2zM258.5 345h2v2h-2zM272 338.5h2v2h-2zM267.5 345h2v2h-2zM266 334h2v2h-2zM280.5 339.5h2v2h-2zM309 309h2v2h-2zM263 352.5h2v2h-2zM304.5 312.5h2v2h-2zM274.5 333.5h2v2h-2zM279.5 326h2v2h-2zM303.5 311.5h2v2h-2zM265.5 336.5h2v2h-2zM294 321h2v2h-2zM281.5 337.5h2v2h-2zM274 333h2v2h-2zM274 329.5h2v2h-2zM288 319.5h2v2h-2zM295 315.5h2v2h-2zM269.5 335h2v2h-2zM268 342.5h2v2h-2zM287 327.5h2v2h-2zM273.5 344.5h2v2h-2zM274 352.5h2v2h-2zM282 339.5h2v2h-2zM313.5 307h2v2h-2zM267.5 343.5h2v2h-2zM252 345.5h2v2h-2zM281.5 333.5h2v2h-2zM285.5 324.5h2v2h-2zM304.5 308.5h2v2h-2zM296.5 324.5h2v2h-2zM277 337.5h2v2h-2zM267.5 337h2v2h-2zM280.5 328.5h2v2h-2zM292 317h2v2h-2zM302.5 308.5h2v2h-2zM265.5 345.5h2v2h-2zM259 355h2v2h-2zM264 347h2v2h-2zM273.5 330.5h2v2h-2zM292 321h2v2h-2zM297 322h2v2h-2zM295.5 320h2v2h-2zM271.5 327h2v2h-2zM258.5 343.5h2v2h-2zM254.5 357.5h2v2h-2zM292 331.5h2v2h-2zM256.5 353h2v2h-2zM272.5 334h2v2h-2zM290.5 336h2v2h-2zM290 321h2v2h-2zM276 337.5h2v2h-2zM276 332.5h2v2h-2zM300.5 323h2v2h-2zM260 349h2v2h-2zM268.5 349h2v2h-2zM292.5 317.5h2v2h-2zM283.5 327.5h2v2h-2zM269 354.5h2v2h-2zM262.5 353h2v2h-2zM275 330.5h2v2h-2zM279 340.5h2v2h-2zM308 303h2v2h-2zM277 333.5h2v2h-2zM265.5 349h2v2h-2zM269.5 358h2v2h-2zM255.5 359.5h2v2h-2zM281 340.5h2v2h-2zM279 338h2v2h-2zM275.5 337h2v2h-2zM269 352h2v2h-2zM261.5 352.5h2v2h-2zM289.5 321h2v2h-2zM302 310.5h2v2h-2zM261.5 356h2v2h-2zM272.5 339.5h2v2h-2zM304 313.5h2v2h-2zM286 337h2v2h-2zM279 344.5h2v2h-2zM278 328h2v2h-2zM254 346.5h2v2h-2zM312 306h2v2h-2zM258.5 348h2v2h-2zM299.5 318h2v2h-2zM259.5 357.5h2v2h-2zM298 318h2v2h-2zM269 335.5h2v2h-2zM302 318.5h2v2h-2zM295 321.5h2v2h-2zM264.5 342h2v2h-2zM288 329.5h2v2h-2zM286.5 322h2v2h-2zM307.5 306.5h2v2h-2zM296.5 314.5h2v2h-2zM280.5 334.5h2v2h-2zM268 339h2v2h-2zM278.5 343h2v2h-2zM300 321.5h2v2h-2zM268.5 360h2v2h-2zM275 349h2v2h-2zM294.5 326.5h2v2h-2zM299 316h2v2h-2zM249 350.5h2v2h-2zM303 312h2v2h-2zM259 348h2v2h-2zM277.5 338.5h2v2h-2zM276 330h2v2h-2zM302 309h2v2h-2zM298 323.5h2v2h-2zM248 349.5h2v2h-2zM275.5 340.5h2v2h-2zM258 358.5h2v2h-2zM301.5 308.5h2v2h-2zM298.5 321h2v2h-2zM256 346h2v2h-2zM262.5 354.5h2v2h-2zM305 306h2v2h-2zM293 326.5h2v2h-2zM276.5 342h2v2h-2zM261 350.5h2v2h-2zM262 336.5h2v2h-2zM282 333.5h2v2h-2zM271 333h2v2h-2zM276.5 332.5h2v2h-2zM281.5 322h2v2h-2zM261.5 361h2v2h-2zM268 355h2v2h-2zM289.5 328h2v2h-2zM292 321.5h2v2h-2zM272.5 344h2v2h-2zM271.5 332.5h2v2h-2zM291 317.5h2v2h-2zM263 363.5h2v2h-2zM283 325h2v2h-2zM272.5 339h2v2h-2zM266.5 340h2v2h-2zM279.5 328.5h2v2h-2zM282 331h2v2h-2zM307.5 310.5h2v2h-2zM306.5 307.5h2v2h-2zM282 324.5h2v2h-2zM252 346.5h2v2h-2zM267.5 358h2v2h-2zM272 349h2v2h-2zM264.5 345h2v2h-2zM270 349.5h2v2h-2zM272 333.5h2v2h-2zM289 331.5h2v2h-2zM298.5 316h2v2h-2zM275.5 347.5h2v2h-2zM275 348h2v2h-2zM262 348h2v2h-2zM272 349.5h2v2h-2zM259.5 346.5h2v2h-2zM285 323.5h2v2h-2zM294 315.5h2v2h-2zM286.5 329.5h2v2h-2zM287 325.5h2v2h-2zM258.5 342.5h2v2h-2zM285.5 321.5h2v2h-2zM289 320h2v2h-2zM252.5 349.5h2v2h-2zM279.5 330h2v2h-2zM275.5 333h2v2h-2zM274.5 342.5h2v2h-2zM278 333.5h2v2h-2zM264.5 336h2v2h-2zM274 339.5h2v2h-2zM262 338h2v2h-2zM301 312h2v2h-2zM299.5 311.5h2v2h-2zM291 331h2v2h-2zM260.5 361.5h2v2h-2zM276 361h2v2h-2zM305 310h2v2h-2zM284 340h2v2h-2zM300 322h2v2h-2zM264.5 350h2v2h-2zM310.5 304h2v2h-2zM259 342h2v2h-2zM282.5 329.5h2v2h-2zM301.5 312.5h2v2h-2zM296 320.5h2v2h-2zM263 347h2v2h-2zM260 359.5h2v2h-2zM266 346h2v2h-2zM306.5 307h2v2h-2zM286.5 325h2v2h-2zM303 308h2v2h-2zM260.5 340.5h2v2h-2zM290.5 335h2v2h-2zM279 327.5h2v2h-2zM268.5 355h2v2h-2zM276 348h2v2h-2zM258.5 360.5h2v2h-2zM250.5 342h2v2h-2zM280.5 329.5h2v2h-2zM298 324h2v2h-2zM264.5 346h2v2h-2zM257.5 342.5h2v2h-2zM275.5 338.5h2v2h-2zM287.5 332h2v2h-2zM268 346h2v2h-2zM266.5 341h2v2h-2zM275.5 336.5h2v2h-2zM290.5 318.5h2v2h-2zM292.5 315.5h2v2h-2zM278.5 343.5h2v2h-2zM269.5 337.5h2v2h-2zM281.5 334h2v2h-2zM264 357h2v2h-2zM263 342.5h2v2h-2zM271.5 342h2v2h-2zM302.5 310h2v2h-2zM306 311h2v2h-2zM253.5 345h2v2h-2zM300.5 322.5h2v2h-2zM274 340.5h2v2h-2zM290.5 318h2v2h-2zM269 343h2v2h-2zM261 356.5h2v2h-2zM267.5 357h2v2h-2zM268 354.5h2v2h-2zM265.5 348h2v2h-2zM283 326.5h2v2h-2zM274.5 348.5h2v2h-2zM266.5 350.5h2v2h-2zM287 326h2v2h-2zM267.5 349h2v2h-2zM289 326.5h2v2h-2zM303.5 310.5h2v2h-2zM263.5 338.5h2v2h-2zM281 333.5h2v2h-2zM297 315.5h2v2h-2zM293 319h2v2h-2zM275 340.5h2v2h-2zM268.5 351h2v2h-2zM269 336.5h2v2h-2zM299.5 313h2v2h-2zM282.5 333h2v2h-2zM279 351h2v2h-2zM267.5 343h2v2h-2zM295 319h2v2h-2zM257 347.5h2v2h-2zM250 350h2v2h-2zM288 333.5h2v2h-2zM288 326h2v2h-2zM284 336.5h2v2h-2zM301.5 313h2v2h-2zM286.5 321h2v2h-2zM288 322.5h2v2h-2zM263.5 362h2v2h-2zM266 347h2v2h-2zM277 329h2v2h-2zM284 331h2v2h-2zM294.5 330.5h2v2h-2zM295 322.5h2v2h-2zM299.5 312.5h2v2h-2zM259.5 353h2v2h-2zM267 333h2v2h-2zM297.5 316h2v2h-2zM300 315.5h2v2h-2zM281 338.5h2v2h-2zM265 338h2v2h-2zM286 319h2v2h-2zM292.5 320.5h2v2h-2zM288.5 330.5h2v2h-2zM270.5 347h2v2h-2zM263.5 351.5h2v2h-2zM282 335h2v2h-2zM260.5 361h2v2h-2zM274.5 331h2v2h-2zM310 306h2v2h-2zM256 354.5h2v2h-2zM281 327.5h2v2h-2zM290 325h2v2h-2zM273 342.5h2v2h-2zM296.5 320h2v2h-2zM248 344.5h2v2h-2zM277 332.5h2v2h-2zM277.5 331.5h2v2h-2zM283 323h2v2h-2zM275 332.5h2v2h-2zM264.5 348h2v2h-2zM290.5 326h2v2h-2zM273.5 339.5h2v2h-2zM266 337.5h2v2h-2zM294 323.5h2v2h-2zM270 342.5h2v2h-2zM268 359.5h2v2h-2zM271.5 338.5h2v2h-2zM300 319.5h2v2h-2zM265.5 352.5h2v2h-2zM266.5 355.5h2v2h-2zM289.5 322h2v2h-2zM271.5 337h2v2h-2zM281 330.5h2v2h-2zM286 325.5h2v2h-2zM290.5 323.5h2v2h-2zM260.5 352.5h2v2h-2zM300 310h2v2h-2zM307.5 307h2v2h-2zM293.5 320h2v2h-2zM300.5 312.5h2v2h-2zM284 328h2v2h-2zM267.5 350.5h2v2h-2zM272 330h2v2h-2zM268 354h2v2h-2zM260 360h2v2h-2zM289.5 336h2v2h-2zM249.5 352h2v2h-2zM261 342.5h2v2h-2zM258.5 361.5h2v2h-2zM291 318h2v2h-2zM285 320.5h2v2h-2zM267.5 356.5h2v2h-2zM280.5 334h2v2h-2zM285 334h2v2h-2zM260.5 339.5h2v2h-2zM273.5 342.5h2v2h-2zM267 348h2v2h-2zM281.5 338.5h2v2h-2zM266 347.5h2v2h-2zM297.5 313h2v2h-2zM265.5 360.5h2v2h-2zM265.5 371.5h2v2h-2zM298 316h2v2h-2zM262 343h2v2h-2zM289 322.5h2v2h-2zM276.5 338.5h2v2h-2zM248.5 346.5h2v2h-2zM300.5 315.5h2v2h-2zM269 347.5h2v2h-2zM291.5 319h2v2h-2zM290.5 332h2v2h-2zM251.5 340.5h2v2h-2zM293.5 321.5h2v2h-2zM260 344h2v2h-2zM283.5 330.5h2v2h-2zM282.5 333.5h2v2h-2zM303 315h2v2h-2zM246.5 348.5h2v2h-2zM299.5 316.5h2v2h-2zM280.5 332h2v2h-2zM268 352h2v2h-2zM302.5 314h2v2h-2zM299 317.5h2v2h-2zM273 328h2v2h-2zM276.5 344.5h2v2h-2zM272 332.5h2v2h-2zM303.5 314h2v2h-2zM293 317.5h2v2h-2zM295.5 322.5h2v2h-2zM304.5 307h2v2h-2zM278 329.5h2v2h-2zM263 351h2v2h-2zM279 334h2v2h-2zM295.5 319.5h2v2h-2zM282 329h2v2h-2zM275 335.5h2v2h-2zM256.5 343.5h2v2h-2zM273 343.5h2v2h-2zM290.5 319h2v2h-2zM262.5 346h2v2h-2zM280.5 331h2v2h-2zM253 345h2v2h-2zM282 326.5h2v2h-2zM296.5 316.5h2v2h-2zM268 351h2v2h-2zM261.5 355h2v2h-2zM276.5 338h2v2h-2zM280.5 333.5h2v2h-2zM270.5 338h2v2h-2zM291 324.5h2v2h-2zM267.5 345.5h2v2h-2zM269 348h2v2h-2zM269.5 343h2v2h-2zM277 344.5h2v2h-2zM272.5 340h2v2h-2zM284 320h2v2h-2zM282 336h2v2h-2zM285 344h2v2h-2zM260.5 353.5h2v2h-2zM285.5 330.5h2v2h-2zM274.5 339h2v2h-2zM292 327h2v2h-2zM281.5 345h2v2h-2zM263 356h2v2h-2zM294 313.5h2v2h-2zM260 361h2v2h-2zM307 314.5h2v2h-2zM276.5 328.5h2v2h-2zM268 352.5h2v2h-2zM291 319.5h2v2h-2zM245.5 342.5h2v2h-2zM298.5 320.5h2v2h-2zM271 332.5h2v2h-2zM297.5 314h2v2h-2zM295.5 320.5h2v2h-2zM270 344h2v2h-2zM276.5 346.5h2v2h-2zM271.5 344h2v2h-2zM294.5 324.5h2v2h-2zM263.5 358.5h2v2h-2zM263.5 352.5h2v2h-2zM271 333.5h2v2h-2zM262 364.5h2v2h-2zM279.5 329h2v2h-2zM265 349h2v2h-2zM270 348.5h2v2h-2zM264.5 341.5h2v2h-2zM302 313.5h2v2h-2zM296 316h2v2h-2zM274.5 338.5h2v2h-2zM311 305h2v2h-2zM303.5 309h2v2h-2zM290 331h2v2h-2zM307 307.5h2v2h-2zM286 332h2v2h-2zM269 347h2v2h-2zM277.5 343h2v2h-2zM282 327h2v2h-2zM277 336.5h2v2h-2zM311 305.5h2v2h-2zM292 335h2v2h-2zM278 326.5h2v2h-2zM289 315.5h2v2h-2zM287.5 325.5h2v2h-2zM270.5 335.5h2v2h-2zM289.5 327.5h2v2h-2zM297.5 311h2v2h-2zM267 344h2v2h-2zM285.5 329h2v2h-2zM273 331h2v2h-2zM288.5 329h2v2h-2zM262.5 345.5h2v2h-2zM291.5 330.5h2v2h-2zM272.5 333.5h2v2h-2zM301.5 314h2v2h-2zM261 353.5h2v2h-2zM287 322.5h2v2h-2zM271.5 343h2v2h-2zM279 332h2v2h-2zM275 335h2v2h-2zM300.5 308h2v2h-2zM275 348.5h2v2h-2zM272 344h2v2h-2zM268.5 340h2v2h-2zM264.5 346.5h2v2h-2zM260 343.5h2v2h-2zM299.5 314.5h2v2h-2zM267 341.5h2v2h-2zM270.5 338.5h2v2h-2zM296.5 313h2v2h-2zM281 338h2v2h-2zM265.5 363h2v2h-2zM302 312h2v2h-2zM303 310h2v2h-2zM293.5 326.5h2v2h-2zM255 345.5h2v2h-2zM267 330h2v2h-2zM253.5 344h2v2h-2zM302.5 304.5h2v2h-2zM277.5 328.5h2v2h-2zM286 351h2v2h-2zM291.5 324.5h2v2h-2zM274 342h2v2h-2zM299.5 315.5h2v2h-2zM270.5 346.5h2v2h-2zM263.5 353h2v2h-2zM289.5 325.5h2v2h-2zM267.5 340.5h2v2h-2zM278 351h2v2h-2zM259.5 358h2v2h-2zM289.5 330.5h2v2h-2zM288.5 321h2v2h-2zM283 339h2v2h-2zM292 330.5h2v2h-2zM271 327h2v2h-2zM279.5 336.5h2v2h-2zM278.5 335h2v2h-2zM280 333.5h2v2h-2zM271 346.5h2v2h-2zM269.5 333.5h2v2h-2zM303 310.5h2v2h-2zM293 322.5h2v2h-2zM266 337h2v2h-2zM262.5 344h2v2h-2zM285 321.5h2v2h-2zM309.5 305.5h2v2h-2zM278 344.5h2v2h-2zM276 346.5h2v2h-2zM289 337h2v2h-2zM267 343.5h2v2h-2zM305 311h2v2h-2zM299 321.5h2v2h-2zM278 338h2v2h-2zM279.5 343.5h2v2h-2zM268.5 344h2v2h-2zM270 352h2v2h-2zM252 342.5h2v2h-2zM281 332h2v2h-2zM259.5 354.5h2v2h-2zM277 341.5h2v2h-2zM252 343.5h2v2h-2zM304 308h2v2h-2zM297 318h2v2h-2zM261.5 348.5h2v2h-2zM275.5 330h2v2h-2zM304.5 309.5h2v2h-2zM282.5 332h2v2h-2zM298.5 313.5h2v2h-2zM291 324h2v2h-2zM261 350h2v2h-2zM278.5 345h2v2h-2zM296 322.5h2v2h-2zM294.5 321h2v2h-2zM284.5 334.5h2v2h-2zM270 331h2v2h-2zM288.5 338h2v2h-2zM284 326h2v2h-2zM262 359.5h2v2h-2zM264.5 344h2v2h-2zM263 336.5h2v2h-2zM278 328.5h2v2h-2zM291.5 325.5h2v2h-2zM288 323h2v2h-2zM267 341h2v2h-2zM288.5 328h2v2h-2zM262.5 354h2v2h-2zM273 352h2v2h-2zM275.5 342h2v2h-2zM280 340.5h2v2h-2zM271 353.5h2v2h-2zM262.5 347.5h2v2h-2zM301.5 312h2v2h-2zM286.5 324h2v2h-2zM270 336h2v2h-2zM279.5 333.5h2v2h-2zM257.5 336h2v2h-2zM270.5 344h2v2h-2zM286 316h2v2h-2zM260 344.5h2v2h-2zM283.5 325h2v2h-2zM276.5 341.5h2v2h-2zM300.5 318.5h2v2h-2zM296 317.5h2v2h-2zM265 358.5h2v2h-2zM281 331h2v2h-2zM288 319h2v2h-2zM286 320.5h2v2h-2zM261 344h2v2h-2zM260.5 365.5h2v2h-2zM289 331h2v2h-2zM267.5 351h2v2h-2zM267.5 352h2v2h-2zM275.5 332.5h2v2h-2zM282 322.5h2v2h-2zM265 351.5h2v2h-2zM266.5 343.5h2v2h-2zM283.5 333.5h2v2h-2zM288 322h2v2h-2zM275 330h2v2h-2zM300.5 312h2v2h-2zM304 311h2v2h-2zM293 317h2v2h-2zM287.5 334h2v2h-2zM308.5 305.5h2v2h-2zM297.5 322.5h2v2h-2zM263.5 334.5h2v2h-2zM305 309h2v2h-2zM268.5 338.5h2v2h-2zM275.5 339.5h2v2h-2zM251.5 346.5h2v2h-2zM262 351h2v2h-2zM304 313h2v2h-2zM273 349.5h2v2h-2zM287.5 317.5h2v2h-2zM288.5 327.5h2v2h-2zM256 348h2v2h-2zM269 348.5h2v2h-2zM310.5 308.5h2v2h-2zM289.5 325h2v2h-2zM272 338h2v2h-2zM282 325.5h2v2h-2zM246 345.5h2v2h-2zM265 341.5h2v2h-2zM291.5 322h2v2h-2zM274.5 336h2v2h-2zM289.5 328.5h2v2h-2zM284.5 330.5h2v2h-2zM275 332h2v2h-2zM297.5 316.5h2v2h-2zM288 325.5h2v2h-2zM279.5 343h2v2h-2zM270 347h2v2h-2zM261 340.5h2v2h-2zM265.5 354h2v2h-2zM266.5 357.5h2v2h-2zM277.5 325.5h2v2h-2zM256.5 333.5h2v2h-2zM269.5 354.5h2v2h-2zM258.5 360h2v2h-2zM275.5 341h2v2h-2zM282 328h2v2h-2zM288.5 323h2v2h-2zM275.5 328h2v2h-2zM296 315h2v2h-2zM274 335h2v2h-2zM265 350.5h2v2h-2zM272.5 336.5h2v2h-2zM288.5 330h2v2h-2zM285.5 329.5h2v2h-2zM267 347.5h2v2h-2zM297.5 315.5h2v2h-2zM289.5 332h2v2h-2zM282 323h2v2h-2zM266 345h2v2h-2zM282.5 334h2v2h-2zM268.5 339.5h2v2h-2zM290 322h2v2h-2zM284 325.5h2v2h-2zM282.5 328.5h2v2h-2zM260 347h2v2h-2zM279 336.5h2v2h-2zM248.5 348.5h2v2h-2zM278 342.5h2v2h-2zM292.5 324.5h2v2h-2zM299.5 317.5h2v2h-2zM288.5 324.5h2v2h-2zM290.5 323h2v2h-2zM258 337.5h2v2h-2zM259 352.5h2v2h-2zM266.5 324h2v2h-2zM267.5 339.5h2v2h-2zM280 332.5h2v2h-2zM258.5 337h2v2h-2zM262.5 336.5h2v2h-2zM266 348.5h2v2h-2zM262 355.5h2v2h-2zM293 321.5h2v2h-2zM268 318h2v2h-2zM272.5 315h2v2h-2zM262 316h2v2h-2zM283.5 302h2v2h-2zM270.5 312h2v2h-2zM262.5 314.5h2v2h-2zM271.5 311.5h2v2h-2zM251.5 318h2v2h-2zM279 307.5h2v2h-2zM268.5 314h2v2h-2zM280 310.5h2v2h-2zM285.5 302.5h2v2h-2zM259.5 318.5h2v2h-2zM253.5 316h2v2h-2zM267.5 319.5h2v2h-2zM277 307h2v2h-2zM258 314.5h2v2h-2zM265 311h2v2h-2zM282 308.5h2v2h-2zM262.5 315h2v2h-2zM252.5 315h2v2h-2zM256.5 319.5h2v2h-2zM281.5 300h2v2h-2zM273 312h2v2h-2zM293 301.5h2v2h-2zM273 315.5h2v2h-2zM284 304.5h2v2h-2zM271.5 310.5h2v2h-2zM289 306.5h2v2h-2zM259.5 316.5h2v2h-2zM280.5 312h2v2h-2zM263 314.5h2v2h-2zM264.5 313.5h2v2h-2zM275.5 315.5h2v2h-2zM274.5 310.5h2v2h-2zM272.5 303.5h2v2h-2zM272 316h2v2h-2zM270 311h2v2h-2zM273 318.5h2v2h-2zM264.5 307.5h2v2h-2zM264 316.5h2v2h-2zM276 307h2v2h-2zM264.5 313h2v2h-2zM270 315.5h2v2h-2zM286 306h2v2h-2zM278.5 314.5h2v2h-2zM277.5 309.5h2v2h-2zM281 306.5h2v2h-2zM269 316.5h2v2h-2zM273.5 307h2v2h-2zM264.5 314h2v2h-2zM283 307h2v2h-2zM261 321.5h2v2h-2zM273.5 320.5h2v2h-2zM276.5 307h2v2h-2zM265 308.5h2v2h-2zM260.5 317.5h2v2h-2zM259 321.5h2v2h-2zM280 313.5h2v2h-2zM279 311h2v2h-2zM275.5 304.5h2v2h-2zM288 308h2v2h-2zM274.5 309h2v2h-2zM275 307.5h2v2h-2zM273 310h2v2h-2zM282 301.5h2v2h-2zM284.5 311.5h2v2h-2zM278.5 308h2v2h-2zM256 314.5h2v2h-2zM283.5 306.5h2v2h-2zM284.5 305h2v2h-2zM274 312.5h2v2h-2zM258.5 315.5h2v2h-2zM275.5 304h2v2h-2zM267.5 309h2v2h-2zM257.5 313h2v2h-2zM273 307.5h2v2h-2zM266.5 318.5h2v2h-2zM282.5 305h2v2h-2zM283.5 301h2v2h-2zM272.5 301h2v2h-2zM274 315.5h2v2h-2zM267 314.5h2v2h-2zM284.5 306.5h2v2h-2zM275.5 307.5h2v2h-2zM272 308h2v2h-2zM293 303h2v2h-2zM277 306h2v2h-2zM270.5 316h2v2h-2zM262.5 317h2v2h-2zM268.5 320.5h2v2h-2zM277.5 310h2v2h-2zM268.5 310.5h2v2h-2zM277 310h2v2h-2zM275.5 313.5h2v2h-2zM268.5 310h2v2h-2zM274.5 304h2v2h-2zM272.5 306.5h2v2h-2zM285 305.5h2v2h-2zM285 302.5h2v2h-2zM278 299.5h2v2h-2zM269.5 312.5h2v2h-2zM261 318h2v2h-2zM272.5 315.5h2v2h-2zM272.5 307.5h2v2h-2zM268 317.5h2v2h-2zM274 304.5h2v2h-2zM267.5 321h2v2h-2zM267 312.5h2v2h-2zM267 320h2v2h-2zM264.5 318h2v2h-2zM280.5 308.5h2v2h-2zM264.5 319.5h2v2h-2zM278 309h2v2h-2zM273 320h2v2h-2zM271 311h2v2h-2zM277 307.5h2v2h-2zM262 314.5h2v2h-2zM282.5 308.5h2v2h-2zM283 305h2v2h-2zM266 316.5h2v2h-2zM273.5 317.5h2v2h-2zM283 309.5h2v2h-2zM282 309h2v2h-2zM262.5 319h2v2h-2zM271 318h2v2h-2zM264 315h2v2h-2zM254.5 324.5h2v2h-2zM276.5 306.5h2v2h-2zM287 304.5h2v2h-2zM285.5 306h2v2h-2zM267.5 313.5h2v2h-2zM274 317h2v2h-2zM273.5 310.5h2v2h-2zM274 303h2v2h-2zM260 315.5h2v2h-2zM272.5 308.5h2v2h-2zM272 315h2v2h-2zM273 316h2v2h-2zM279.5 311.5h2v2h-2zM274 308.5h2v2h-2zM259.5 312.5h2v2h-2zM271.5 315.5h2v2h-2zM270.5 310h2v2h-2zM276.5 314.5h2v2h-2zM268 312.5h2v2h-2zM272.5 310h2v2h-2zM272 310.5h2v2h-2zM281.5 308h2v2h-2zM263.5 320.5h2v2h-2zM292 305.5h2v2h-2zM267.5 316h2v2h-2zM289 310h2v2h-2zM263 313h2v2h-2zM275 319h2v2h-2zM261 317h2v2h-2zM271.5 312h2v2h-2zM274 308h2v2h-2zM258 317.5h2v2h-2zM276 305.5h2v2h-2zM258 320.5h2v2h-2zM276 312.5h2v2h-2zM277.5 307h2v2h-2zM282 306h2v2h-2zM277 311h2v2h-2zM282.5 309h2v2h-2zM260 317h2v2h-2zM266 315h2v2h-2zM265.5 322.5h2v2h-2zM265 311.5h2v2h-2zM268 311.5h2v2h-2zM268.5 317.5h2v2h-2zM260 314h2v2h-2zM263 309.5h2v2h-2zM274.5 281h2v2h-2zM261 294h2v2h-2zM262.5 300h2v2h-2zM282 296h2v2h-2zM296 289h2v2h-2zM303 293h2v2h-2zM317 292h2v2h-2zM321 291.5h2v2h-2zM256 298h2v2h-2z"/>
<path d="M228.2 246L288.9 406.3" stroke="#84329a" stroke-width="1.1" fill="none"/>
<path d="M192.5 364.1L345.5 290.1" stroke="#84329a" stroke-width="1.1" fill="none"/>
<path d="M188.7 394.2h2.6M203.8 407.3v3.5M188.7 387.2h2.6M210.6 407.3v3.5M188.7 382.2h2.6M215.4 407.3v3.5M188.7 378.3h2.6M219.1 407.3v3.5M188.7 375.1h2.6M222.1 407.3v3.5M188.7 372.4h2.6M224.7 407.3v3.5M188.7 370.1h2.6M226.9 407.3v3.5M188.7 368.1h2.6M228.8 407.3v3.5M188.7 354.2h2.6M242.1 407.3v3.5M188.7 347.1h2.6M248.9 407.3v3.5M188.7 342.1h2.6M253.7 407.3v3.5M188.7 338.2h2.6M257.4 407.3v3.5M188.7 335h2.6M260.4 407.3v3.5M188.7 332.4h2.6M263 407.3v3.5M188.7 330h2.6M265.2 407.3v3.5M188.7 328h2.6M267.1 407.3v3.5M188.7 314.1h2.6M280.4 407.3v3.5M188.7 307h2.6M287.2 407.3v3.5M188.7 302h2.6M292 407.3v3.5M188.7 298.1h2.6M295.7 407.3v3.5M188.7 295h2.6M298.7 407.3v3.5M188.7 292.3h2.6M301.3 407.3v3.5M188.7 290h2.6M303.5 407.3v3.5M188.7 287.9h2.6M305.4 407.3v3.5M188.7 274h2.6M318.7 407.3v3.5M188.7 267h2.6M325.5 407.3v3.5M188.7 261.9h2.6M330.3 407.3v3.5M188.7 258.1h2.6M334 407.3v3.5M188.7 254.9h2.6M337 407.3v3.5M188.7 252.2h2.6M339.6 407.3v3.5M188.7 249.9h2.6M341.8 407.3v3.5M188.7 247.8h2.6M343.7 407.3v3.5" stroke="#2a7f32" stroke-width="0.9" fill="none"/>
<path d="M187.3 406.3H192.3M192.3 407.3v5M187.3 366.2H192.3M230.6 407.3v5M187.3 326.1H192.3M268.9 407.3v5M187.3 286.1H192.3M307.2 407.3v5M187.3 246H192.3M345.5 407.3v5" stroke="#2a7f32" stroke-width="1" fill="none"/>
<path d="M192.3 245.5V407.3" stroke="#044804" stroke-width="2" fill="none"/>
<text x="187.3" y="409.3" text-anchor="end" class="tl" textLength="16" lengthAdjust="spacingAndGlyphs">10e0</text>
<text x="192.3" y="418.8" text-anchor="middle" class="tl" textLength="16" lengthAdjust="spacingAndGlyphs">10e0</text>
<text x="187.3" y="369.2" text-anchor="end" class="tl" textLength="16" lengthAdjust="spacingAndGlyphs">10e1</text>
<text x="230.6" y="418.8" text-anchor="middle" class="tl" textLength="16" lengthAdjust="spacingAndGlyphs">10e1</text>
<text x="187.3" y="329.1" text-anchor="end" class="tl" textLength="16" lengthAdjust="spacingAndGlyphs">10e2</text>
<text x="268.9" y="418.8" text-anchor="middle" class="tl" textLength="16" lengthAdjust="spacingAndGlyphs">10e2</text>
<text x="187.3" y="289.1" text-anchor="end" class="tl" textLength="16" lengthAdjust="spacingAndGlyphs">10e3</text>
<text x="307.2" y="418.8" text-anchor="middle" class="tl" textLength="16" lengthAdjust="spacingAndGlyphs">10e3</text>
<text x="187.3" y="249" text-anchor="end" class="tl" textLength="16" lengthAdjust="spacingAndGlyphs">10e4</text>
<text x="345.5" y="418.8" text-anchor="middle" class="tl" textLength="16" lengthAdjust="spacingAndGlyphs">10e4</text>
<text x="268.9" y="237.8" text-anchor="middle" class="tt" textLength="35.5" lengthAdjust="spacingAndGlyphs">Apoptosis</text>
<text x="268.9" y="428.8" text-anchor="middle" class="tt" textLength="70.5" lengthAdjust="spacingAndGlyphs">Annexin V-PE (PM1)</text>
<text transform="translate(159.8 325.5) rotate(-90)" text-anchor="middle" class="tt" textLength="48.5" lengthAdjust="spacingAndGlyphs">7-AAD (PM2)</text>
<text x="133" y="243.2" class="lt">d</text>
<path d="M424.4 248.3H578.1" fill="none" stroke="#505050" stroke-width="1.6"/>
<path d="M577.3 248.3V408.4" fill="none" stroke="#404040" stroke-width="1.5"/>
<path d="M424.4 408.4H577.3" fill="none" stroke="#333333" stroke-width="1.4"/>
<text x="488.7" y="276.4" class="pc" textLength="56.6" lengthAdjust="spacingAndGlyphs">16.7 ± 0.6%</text>
<text x="514.6" y="373.4" class="pc" textLength="56.7" lengthAdjust="spacingAndGlyphs">40.8 ± 2.3%</text>
<text x="441.5" y="400.7" class="pc" textLength="56.9" lengthAdjust="spacingAndGlyphs">42.0 ± 2.9%</text>
<path fill="#ff0000" d="M487 363.5h2v2h-2zM487 361h2v2h-2zM477.5 350h2v2h-2zM482.5 346h2v2h-2zM482.5 360h2v2h-2zM483 369.5h2v2h-2zM500 346h2v2h-2zM480.5 356.5h2v2h-2zM480.5 359.5h2v2h-2zM479 359.5h2v2h-2zM491 362.5h2v2h-2zM479.5 358h2v2h-2zM482 362.5h2v2h-2zM489.5 351h2v2h-2zM489 358h2v2h-2zM475 351.5h2v2h-2zM497 350.5h2v2h-2zM485 353.5h2v2h-2zM490.5 357h2v2h-2zM485.5 350h2v2h-2zM496.5 352h2v2h-2zM480 362h2v2h-2zM477.5 370.5h2v2h-2zM486 356h2v2h-2zM494 356h2v2h-2zM482.5 348.5h2v2h-2zM490 350h2v2h-2zM495.5 356h2v2h-2zM471.5 374h2v2h-2zM494 350h2v2h-2zM492 342.5h2v2h-2zM479 357h2v2h-2zM479 356h2v2h-2zM489.5 361.5h2v2h-2zM478 355.5h2v2h-2zM488 365.5h2v2h-2zM494 368.5h2v2h-2zM468.5 369h2v2h-2zM486.5 353h2v2h-2zM482 364h2v2h-2zM479 372h2v2h-2zM486.5 355.5h2v2h-2zM482 361h2v2h-2zM470.5 356.5h2v2h-2zM478 342.5h2v2h-2zM482.5 350h2v2h-2zM477 351h2v2h-2zM472 357h2v2h-2zM502.5 357.5h2v2h-2zM494.5 357.5h2v2h-2zM493 359.5h2v2h-2zM483.5 352.5h2v2h-2zM466 362h2v2h-2zM480.5 358.5h2v2h-2zM487 353.5h2v2h-2zM479 361.5h2v2h-2zM478 353.5h2v2h-2zM485.5 363.5h2v2h-2zM500 334h2v2h-2zM485.5 348.5h2v2h-2zM484 351.5h2v2h-2zM477 354h2v2h-2zM495.5 347.5h2v2h-2zM486 349.5h2v2h-2zM483 361h2v2h-2zM481 357h2v2h-2zM479 353h2v2h-2zM485.5 356.5h2v2h-2zM500.5 350.5h2v2h-2zM484.5 358h2v2h-2zM488.5 346.5h2v2h-2zM478 354.5h2v2h-2zM486.5 360.5h2v2h-2zM472.5 371h2v2h-2zM496 353h2v2h-2zM480 348.5h2v2h-2zM488.5 361.5h2v2h-2zM485.5 354.5h2v2h-2zM496 351h2v2h-2zM489 347h2v2h-2zM489.5 350.5h2v2h-2zM471.5 354h2v2h-2zM475.5 358h2v2h-2zM475 361h2v2h-2zM475.5 358.5h2v2h-2zM476.5 357.5h2v2h-2zM490.5 355.5h2v2h-2zM482.5 354h2v2h-2zM483 360.5h2v2h-2zM475.5 348h2v2h-2zM475.5 359h2v2h-2zM472 364h2v2h-2zM491.5 351h2v2h-2zM484 362h2v2h-2zM488.5 360h2v2h-2zM475.5 359.5h2v2h-2zM482 357h2v2h-2zM465.5 366.5h2v2h-2zM488.5 343h2v2h-2zM483 370h2v2h-2zM484.5 359.5h2v2h-2zM483.5 349.5h2v2h-2zM487.5 357h2v2h-2zM481 361h2v2h-2zM483 365.5h2v2h-2zM477 352.5h2v2h-2zM480.5 363h2v2h-2zM485 357h2v2h-2zM490 355h2v2h-2zM479.5 368.5h2v2h-2zM471.5 361h2v2h-2zM467.5 362h2v2h-2zM480.5 356h2v2h-2zM476.5 370.5h2v2h-2zM487.5 358h2v2h-2zM495.5 359h2v2h-2zM476.5 366h2v2h-2zM493 341h2v2h-2zM492.5 351.5h2v2h-2zM475 360h2v2h-2zM479 362.5h2v2h-2zM488.5 364h2v2h-2zM476 360.5h2v2h-2zM474.5 368.5h2v2h-2zM489 357.5h2v2h-2zM478 352.5h2v2h-2zM477.5 358.5h2v2h-2zM488 347h2v2h-2zM484 364.5h2v2h-2zM485 358h2v2h-2zM495 341.5h2v2h-2zM494 363.5h2v2h-2zM469.5 365h2v2h-2zM491 346h2v2h-2zM483.5 362h2v2h-2zM486 362h2v2h-2zM490.5 357.5h2v2h-2zM498.5 362h2v2h-2zM490 354h2v2h-2zM482.5 373h2v2h-2zM487 341.5h2v2h-2zM471.5 358h2v2h-2zM485.5 354h2v2h-2zM474 360h2v2h-2zM472 359.5h2v2h-2zM472.5 347h2v2h-2zM476.5 358.5h2v2h-2zM487.5 357.5h2v2h-2zM482 356h2v2h-2zM477.5 365.5h2v2h-2zM481 363h2v2h-2zM493 350.5h2v2h-2zM480.5 344.5h2v2h-2zM476.5 359h2v2h-2zM500.5 344h2v2h-2zM476.5 343h2v2h-2zM487 355h2v2h-2zM490 358h2v2h-2zM484.5 349.5h2v2h-2zM481 363.5h2v2h-2zM493 356.5h2v2h-2zM484 360.5h2v2h-2zM488 358h2v2h-2zM482.5 353.5h2v2h-2zM496.5 370h2v2h-2zM476 369h2v2h-2zM473 357h2v2h-2zM476 358.5h2v2h-2zM482 349h2v2h-2zM481 365.5h2v2h-2zM484 350h2v2h-2zM487 356h2v2h-2zM472 356.5h2v2h-2zM473 364h2v2h-2zM477.5 360h2v2h-2zM476.5 370h2v2h-2zM478.5 358.5h2v2h-2zM477 368.5h2v2h-2zM485 344h2v2h-2zM488.5 351h2v2h-2zM493 328h2v2h-2zM484 352h2v2h-2zM477.5 368.5h2v2h-2zM474.5 353h2v2h-2zM474.5 363.5h2v2h-2zM470.5 353h2v2h-2zM487.5 342h2v2h-2zM496.5 365.5h2v2h-2zM482 353.5h2v2h-2zM485 359.5h2v2h-2zM465.5 362h2v2h-2zM478 352h2v2h-2zM476.5 364h2v2h-2zM477 362.5h2v2h-2zM476 360h2v2h-2zM478 354h2v2h-2zM499 350.5h2v2h-2zM488.5 365.5h2v2h-2zM471.5 368.5h2v2h-2zM481 356h2v2h-2zM480 347.5h2v2h-2zM499 352h2v2h-2zM468.5 366h2v2h-2zM488 353.5h2v2h-2zM489.5 359h2v2h-2zM500 350.5h2v2h-2zM496.5 344h2v2h-2zM481.5 367h2v2h-2zM470 361.5h2v2h-2zM475 357h2v2h-2zM477.5 356h2v2h-2zM481.5 355.5h2v2h-2zM477.5 355.5h2v2h-2zM472 359h2v2h-2zM488 348.5h2v2h-2zM484 362.5h2v2h-2zM480 358.5h2v2h-2zM479 355.5h2v2h-2zM478 353h2v2h-2zM474.5 352h2v2h-2zM503 344h2v2h-2zM480 369.5h2v2h-2zM478 356.5h2v2h-2zM495 346h2v2h-2zM480 360.5h2v2h-2zM479.5 367h2v2h-2zM468.5 364.5h2v2h-2zM487 354.5h2v2h-2zM499.5 354h2v2h-2zM485 361h2v2h-2zM486 362.5h2v2h-2zM492.5 346.5h2v2h-2zM492.5 355.5h2v2h-2zM476 363h2v2h-2zM477 367.5h2v2h-2zM480.5 367.5h2v2h-2zM493 356h2v2h-2zM473.5 359h2v2h-2zM478.5 375h2v2h-2zM481 367h2v2h-2zM483 358.5h2v2h-2zM484.5 353.5h2v2h-2zM493 351h2v2h-2zM477 362h2v2h-2zM499.5 353.5h2v2h-2zM484.5 364.5h2v2h-2zM488.5 356h2v2h-2zM473 359.5h2v2h-2zM485.5 366.5h2v2h-2zM473 362h2v2h-2zM471 360.5h2v2h-2zM489 354.5h2v2h-2zM483 353h2v2h-2zM473.5 353h2v2h-2zM466.5 375h2v2h-2zM488.5 358h2v2h-2zM483 349.5h2v2h-2zM489 353.5h2v2h-2zM490.5 358.5h2v2h-2zM492 359h2v2h-2zM464.5 367.5h2v2h-2zM456.5 363h2v2h-2zM488 345h2v2h-2zM467.5 348h2v2h-2zM491.5 364.5h2v2h-2zM469.5 352.5h2v2h-2zM481.5 361.5h2v2h-2zM481 355h2v2h-2zM485.5 355.5h2v2h-2zM498.5 355.5h2v2h-2zM478 344h2v2h-2zM497 342.5h2v2h-2zM476.5 361h2v2h-2zM475.5 363.5h2v2h-2zM476 355h2v2h-2zM469 352h2v2h-2zM487.5 351.5h2v2h-2zM494.5 348.5h2v2h-2zM487 358h2v2h-2zM477.5 358h2v2h-2zM476.5 364.5h2v2h-2zM481 353.5h2v2h-2zM478 367.5h2v2h-2zM490 348h2v2h-2zM487.5 346.5h2v2h-2zM484 355h2v2h-2zM473.5 353.5h2v2h-2zM478.5 349.5h2v2h-2zM488.5 350h2v2h-2zM497 351h2v2h-2zM478.5 364h2v2h-2zM503.5 338.5h2v2h-2zM479.5 360.5h2v2h-2zM479.5 361h2v2h-2zM485.5 347h2v2h-2zM477.5 355h2v2h-2zM483 362.5h2v2h-2zM483.5 357h2v2h-2zM479 352h2v2h-2zM480.5 347.5h2v2h-2zM487.5 353.5h2v2h-2zM493 354h2v2h-2zM501 349.5h2v2h-2zM484.5 365.5h2v2h-2zM471 358.5h2v2h-2zM470 353.5h2v2h-2zM483.5 368h2v2h-2zM477 363h2v2h-2zM480.5 357.5h2v2h-2zM483 343h2v2h-2zM479.5 362h2v2h-2zM495 356.5h2v2h-2zM468 360.5h2v2h-2zM491.5 350h2v2h-2zM487.5 345.5h2v2h-2zM486 361h2v2h-2zM479.5 365.5h2v2h-2zM474 367h2v2h-2zM489.5 360h2v2h-2zM489 350.5h2v2h-2zM490.5 353.5h2v2h-2zM482 352h2v2h-2zM491.5 354.5h2v2h-2zM488 358.5h2v2h-2zM498 361.5h2v2h-2zM465.5 357.5h2v2h-2zM474.5 351h2v2h-2zM486 363h2v2h-2zM471.5 359.5h2v2h-2zM488.5 352h2v2h-2zM477 371h2v2h-2zM484 348.5h2v2h-2zM485 348.5h2v2h-2zM475.5 350h2v2h-2zM486 334.5h2v2h-2zM492 359.5h2v2h-2zM478 365h2v2h-2zM480 363.5h2v2h-2zM477.5 352h2v2h-2zM487.5 355h2v2h-2zM490.5 349h2v2h-2zM477 366.5h2v2h-2zM479 365.5h2v2h-2zM483 352.5h2v2h-2zM496 359h2v2h-2zM482 359h2v2h-2zM472 365.5h2v2h-2zM477 370.5h2v2h-2zM468 351.5h2v2h-2zM484 354h2v2h-2zM496 350h2v2h-2zM469.5 360h2v2h-2zM470.5 355.5h2v2h-2zM472.5 357h2v2h-2zM480.5 369.5h2v2h-2zM474.5 371.5h2v2h-2zM490.5 358h2v2h-2zM476.5 354h2v2h-2zM480 358h2v2h-2zM476 353.5h2v2h-2zM487.5 355.5h2v2h-2zM497 353.5h2v2h-2zM474 368.5h2v2h-2zM478.5 363.5h2v2h-2zM473.5 364.5h2v2h-2zM486 353h2v2h-2zM486 354.5h2v2h-2zM480.5 352h2v2h-2zM500.5 345h2v2h-2zM499.5 355.5h2v2h-2zM475.5 356h2v2h-2zM482.5 347.5h2v2h-2zM479.5 345.5h2v2h-2zM486.5 358h2v2h-2zM473.5 354h2v2h-2zM487.5 349h2v2h-2zM491 369h2v2h-2zM493 361h2v2h-2zM471 355h2v2h-2zM498 349h2v2h-2zM471.5 362h2v2h-2zM492.5 356.5h2v2h-2zM490.5 365.5h2v2h-2zM490.5 343h2v2h-2zM486 347.5h2v2h-2zM474.5 366h2v2h-2zM483.5 354h2v2h-2zM493 349.5h2v2h-2zM496 352h2v2h-2zM482 357.5h2v2h-2zM478.5 350h2v2h-2zM490.5 339.5h2v2h-2zM500.5 351.5h2v2h-2zM485 351.5h2v2h-2zM484.5 355h2v2h-2zM489 352h2v2h-2zM483.5 363.5h2v2h-2zM476 355.5h2v2h-2zM484 354.5h2v2h-2zM486.5 347.5h2v2h-2zM479.5 357.5h2v2h-2zM481.5 364.5h2v2h-2zM468.5 355.5h2v2h-2zM477 378h2v2h-2zM482.5 358.5h2v2h-2zM474.5 357h2v2h-2zM487.5 366h2v2h-2zM465.5 364h2v2h-2zM479 349.5h2v2h-2zM487.5 348.5h2v2h-2zM488.5 361h2v2h-2zM471 374.5h2v2h-2zM485.5 362h2v2h-2zM476 362.5h2v2h-2zM464.5 364.5h2v2h-2zM487.5 369.5h2v2h-2zM477 364h2v2h-2zM482.5 361h2v2h-2zM491.5 343h2v2h-2zM481.5 359.5h2v2h-2zM476 359.5h2v2h-2zM492 362.5h2v2h-2zM481 345h2v2h-2zM498 355h2v2h-2zM496 348.5h2v2h-2zM478 341.5h2v2h-2zM498 358.5h2v2h-2zM479 354.5h2v2h-2zM482.5 371h2v2h-2zM483 354.5h2v2h-2zM475 353.5h2v2h-2zM484.5 356h2v2h-2zM488.5 357.5h2v2h-2zM502 331h2v2h-2zM494.5 348h2v2h-2zM479 358.5h2v2h-2zM482.5 363h2v2h-2zM482.5 360.5h2v2h-2zM474.5 360.5h2v2h-2zM484 364h2v2h-2zM493 350h2v2h-2zM481.5 346h2v2h-2zM473 369.5h2v2h-2zM489 366.5h2v2h-2zM481 359.5h2v2h-2zM485.5 349.5h2v2h-2zM469 350h2v2h-2zM491.5 353.5h2v2h-2zM494.5 355h2v2h-2zM479 348.5h2v2h-2zM468.5 357h2v2h-2zM481 365h2v2h-2zM487 354h2v2h-2zM480 359h2v2h-2zM468.5 357.5h2v2h-2zM485.5 360h2v2h-2zM484.5 353h2v2h-2zM495 344.5h2v2h-2zM462 371h2v2h-2zM490.5 354.5h2v2h-2zM485 369.5h2v2h-2zM484.5 345.5h2v2h-2zM466.5 357h2v2h-2zM476.5 350h2v2h-2zM478.5 365.5h2v2h-2zM462.5 367h2v2h-2zM485.5 367h2v2h-2zM485 358.5h2v2h-2zM471.5 362.5h2v2h-2zM481.5 358.5h2v2h-2zM481.5 358h2v2h-2zM481 368.5h2v2h-2zM480.5 353.5h2v2h-2zM489.5 352h2v2h-2zM482.5 345.5h2v2h-2zM497.5 355h2v2h-2zM483 356h2v2h-2zM491.5 350.5h2v2h-2zM492.5 346h2v2h-2zM469 373.5h2v2h-2zM483.5 353h2v2h-2zM485 367h2v2h-2zM486 349h2v2h-2zM491.5 352h2v2h-2zM489 359.5h2v2h-2zM479.5 370h2v2h-2zM491.5 351.5h2v2h-2zM480 344h2v2h-2zM485 346h2v2h-2zM477.5 370h2v2h-2zM471 359.5h2v2h-2zM472.5 362h2v2h-2zM494 352h2v2h-2zM488 357.5h2v2h-2zM476.5 351.5h2v2h-2zM487.5 354h2v2h-2zM474 357.5h2v2h-2zM475 357.5h2v2h-2zM467.5 362.5h2v2h-2zM478.5 362h2v2h-2zM486 357h2v2h-2zM501.5 346h2v2h-2zM479 350.5h2v2h-2zM484 358.5h2v2h-2zM485 352h2v2h-2zM489 357h2v2h-2zM472.5 354.5h2v2h-2zM489 354h2v2h-2zM471.5 366h2v2h-2zM486 354h2v2h-2zM477.5 359.5h2v2h-2zM482 370h2v2h-2zM485.5 349h2v2h-2zM467.5 359.5h2v2h-2zM499.5 356.5h2v2h-2zM470.5 362.5h2v2h-2zM472.5 352h2v2h-2zM486.5 355h2v2h-2zM456.5 371.5h2v2h-2zM474.5 362h2v2h-2zM484 343.5h2v2h-2zM479 353.5h2v2h-2zM481 364.5h2v2h-2zM478 358h2v2h-2zM497 357h2v2h-2zM486.5 351.5h2v2h-2zM472.5 354h2v2h-2zM488.5 348h2v2h-2zM492.5 360h2v2h-2zM470 356.5h2v2h-2zM480 354h2v2h-2zM461.5 355.5h2v2h-2zM475.5 366.5h2v2h-2zM494.5 355.5h2v2h-2zM478 363h2v2h-2zM471.5 348h2v2h-2zM481 366.5h2v2h-2zM486.5 359h2v2h-2zM474.5 365.5h2v2h-2zM476.5 362.5h2v2h-2zM471 362h2v2h-2zM491.5 348.5h2v2h-2zM484.5 362h2v2h-2zM482 361.5h2v2h-2zM480.5 353h2v2h-2zM473.5 366.5h2v2h-2zM481.5 353.5h2v2h-2zM488 353h2v2h-2zM472.5 351.5h2v2h-2zM492 347h2v2h-2zM475.5 355h2v2h-2zM488.5 358.5h2v2h-2zM479 371h2v2h-2zM495 347.5h2v2h-2zM494.5 349.5h2v2h-2zM495 357h2v2h-2zM499 357.5h2v2h-2zM455 365h2v2h-2zM468.5 365h2v2h-2zM471 363h2v2h-2zM488.5 363.5h2v2h-2zM472.5 360.5h2v2h-2zM486.5 362.5h2v2h-2zM476.5 366.5h2v2h-2zM476 366.5h2v2h-2zM482 358.5h2v2h-2zM469 360h2v2h-2zM487 352h2v2h-2zM485.5 356h2v2h-2zM495 350.5h2v2h-2zM488.5 343.5h2v2h-2zM484 347.5h2v2h-2zM491 353.5h2v2h-2zM480.5 365.5h2v2h-2zM471.5 364.5h2v2h-2zM476 368h2v2h-2zM481.5 370.5h2v2h-2zM490 351h2v2h-2zM495.5 355.5h2v2h-2zM481.5 357h2v2h-2zM489.5 367.5h2v2h-2zM470 368.5h2v2h-2zM487.5 350h2v2h-2zM477 358h2v2h-2zM480 352h2v2h-2zM490.5 363h2v2h-2zM486.5 357h2v2h-2zM481.5 361h2v2h-2zM471 366.5h2v2h-2zM485 363.5h2v2h-2zM475.5 362h2v2h-2zM486.5 356h2v2h-2zM486 353.5h2v2h-2zM483 357h2v2h-2zM475.5 360.5h2v2h-2zM482.5 365.5h2v2h-2zM492.5 352.5h2v2h-2zM480.5 370.5h2v2h-2zM473 369h2v2h-2zM484 356h2v2h-2zM478.5 357.5h2v2h-2zM493.5 367h2v2h-2zM473 356h2v2h-2zM476 363.5h2v2h-2zM479 351.5h2v2h-2zM479 365h2v2h-2zM501.5 355.5h2v2h-2zM480 361.5h2v2h-2zM493 347.5h2v2h-2zM476.5 353h2v2h-2zM476.5 361.5h2v2h-2zM481 359h2v2h-2zM495 349.5h2v2h-2zM484 357h2v2h-2zM485 356h2v2h-2zM477 357h2v2h-2zM480.5 357h2v2h-2zM501 368.5h2v2h-2zM471.5 372h2v2h-2zM464 353.5h2v2h-2zM479.5 353.5h2v2h-2zM472.5 359h2v2h-2zM470 354.5h2v2h-2zM463.5 376h2v2h-2zM481 351.5h2v2h-2zM478.5 358h2v2h-2zM488 350h2v2h-2zM490 362h2v2h-2zM488.5 350.5h2v2h-2zM469.5 365.5h2v2h-2zM484.5 348h2v2h-2zM472.5 350h2v2h-2zM480 367.5h2v2h-2zM493.5 356.5h2v2h-2zM480.5 355h2v2h-2zM497 347.5h2v2h-2zM491.5 369.5h2v2h-2zM471.5 352.5h2v2h-2zM482 355h2v2h-2zM485 362.5h2v2h-2zM489 344h2v2h-2zM481.5 353h2v2h-2zM469 360.5h2v2h-2zM468 359h2v2h-2zM475 363.5h2v2h-2zM464 359.5h2v2h-2zM481.5 365h2v2h-2zM488 357h2v2h-2zM489 347.5h2v2h-2zM472.5 365h2v2h-2zM485.5 351h2v2h-2zM486 364h2v2h-2zM489 351.5h2v2h-2zM485 367.5h2v2h-2zM496 356.5h2v2h-2zM472.5 370.5h2v2h-2zM486 350.5h2v2h-2zM471.5 363h2v2h-2zM483.5 346.5h2v2h-2zM480.5 364h2v2h-2zM474 357h2v2h-2zM494 361h2v2h-2zM486 355.5h2v2h-2zM485.5 358h2v2h-2zM491 360.5h2v2h-2zM500 351h2v2h-2zM482.5 352.5h2v2h-2zM485 364h2v2h-2zM467.5 361.5h2v2h-2zM495.5 351h2v2h-2zM497 347h2v2h-2zM495 354h2v2h-2zM483.5 358.5h2v2h-2zM469.5 364h2v2h-2zM474 361.5h2v2h-2zM479 347.5h2v2h-2zM469.5 371h2v2h-2zM469 358h2v2h-2zM471 358h2v2h-2zM484 357.5h2v2h-2zM475.5 356.5h2v2h-2zM475 356h2v2h-2zM476 354.5h2v2h-2zM486 356.5h2v2h-2zM489.5 352.5h2v2h-2zM488 351.5h2v2h-2zM478 358.5h2v2h-2zM478 347h2v2h-2zM497 348.5h2v2h-2zM483 363h2v2h-2zM477.5 349h2v2h-2zM489.5 358h2v2h-2zM473.5 368h2v2h-2zM495 357.5h2v2h-2zM497 352h2v2h-2zM457.5 361h2v2h-2zM488 349h2v2h-2zM485 350.5h2v2h-2zM503.5 346.5h2v2h-2zM476.5 354.5h2v2h-2zM478.5 354h2v2h-2zM491.5 347h2v2h-2zM483 348.5h2v2h-2zM492 351.5h2v2h-2zM483 355h2v2h-2zM478 364.5h2v2h-2zM479.5 354.5h2v2h-2zM490 363.5h2v2h-2zM486 348h2v2h-2zM468 367.5h2v2h-2zM491 358.5h2v2h-2zM482 356.5h2v2h-2zM484 346.5h2v2h-2zM473 365.5h2v2h-2zM484 359h2v2h-2zM485 355.5h2v2h-2zM478 362h2v2h-2zM485.5 347.5h2v2h-2zM489.5 348.5h2v2h-2zM485.5 367.5h2v2h-2zM466 368h2v2h-2zM480 352.5h2v2h-2zM489 370.5h2v2h-2zM487 357.5h2v2h-2zM473.5 372h2v2h-2zM488.5 360.5h2v2h-2zM503.5 350.5h2v2h-2zM483.5 351.5h2v2h-2zM480 362.5h2v2h-2zM484.5 357.5h2v2h-2zM488.5 351.5h2v2h-2zM479.5 356h2v2h-2zM484 347h2v2h-2zM483 363.5h2v2h-2zM479 362h2v2h-2zM497.5 351.5h2v2h-2zM483.5 355.5h2v2h-2zM489.5 344h2v2h-2zM481.5 352h2v2h-2zM480.5 354h2v2h-2zM500 358h2v2h-2zM490 369.5h2v2h-2zM482 351h2v2h-2zM484 356.5h2v2h-2zM487 355.5h2v2h-2zM469.5 370.5h2v2h-2zM464 345h2v2h-2zM482 372h2v2h-2zM483 359.5h2v2h-2zM495 358.5h2v2h-2zM481 354.5h2v2h-2zM483.5 355h2v2h-2zM468 355.5h2v2h-2zM473 367h2v2h-2zM481 354h2v2h-2zM485.5 357h2v2h-2zM481 352h2v2h-2zM468 358.5h2v2h-2zM488.5 367h2v2h-2zM462.5 359h2v2h-2zM484.5 356.5h2v2h-2zM484.5 359h2v2h-2zM486.5 357.5h2v2h-2zM474.5 361h2v2h-2zM481 341.5h2v2h-2zM486.5 353.5h2v2h-2zM476 352h2v2h-2zM495 345.5h2v2h-2zM481 357.5h2v2h-2zM464.5 373h2v2h-2zM494 352.5h2v2h-2zM490.5 347h2v2h-2zM494 370.5h2v2h-2zM482.5 357.5h2v2h-2zM477 353.5h2v2h-2zM488.5 357h2v2h-2zM490 361h2v2h-2zM490 364h2v2h-2zM477.5 362.5h2v2h-2zM482.5 353h2v2h-2zM498 347.5h2v2h-2zM465.5 371h2v2h-2zM480.5 344h2v2h-2zM483.5 365h2v2h-2zM484 353.5h2v2h-2zM471.5 354.5h2v2h-2zM488.5 352.5h2v2h-2zM488 346.5h2v2h-2zM483 351.5h2v2h-2zM486.5 350.5h2v2h-2zM486 360.5h2v2h-2zM495.5 349h2v2h-2zM476 358h2v2h-2zM476.5 353.5h2v2h-2zM482.5 362.5h2v2h-2zM489.5 355h2v2h-2zM498.5 353.5h2v2h-2zM488.5 356.5h2v2h-2zM482 355.5h2v2h-2zM474 359.5h2v2h-2zM459 363h2v2h-2zM476.5 360h2v2h-2zM478 371h2v2h-2zM474.5 349h2v2h-2zM488 341.5h2v2h-2zM489 355h2v2h-2zM466 365.5h2v2h-2zM493 351.5h2v2h-2zM486.5 359.5h2v2h-2zM479.5 352h2v2h-2zM483.5 361.5h2v2h-2zM488 364.5h2v2h-2zM477.5 360.5h2v2h-2zM484.5 340.5h2v2h-2zM478 360h2v2h-2zM471.5 356h2v2h-2zM482.5 369h2v2h-2zM477 360.5h2v2h-2zM485.5 353.5h2v2h-2zM497 359.5h2v2h-2zM479 350h2v2h-2zM487 359.5h2v2h-2zM476.5 357h2v2h-2zM487.5 347h2v2h-2zM492.5 348h2v2h-2zM488.5 341.5h2v2h-2zM483.5 360.5h2v2h-2zM480.5 354.5h2v2h-2zM488 347.5h2v2h-2zM485 368.5h2v2h-2zM489.5 357h2v2h-2zM478.5 356h2v2h-2zM461.5 365h2v2h-2zM490.5 374.5h2v2h-2zM489 363h2v2h-2zM495.5 350.5h2v2h-2zM490.5 360h2v2h-2zM479 355h2v2h-2zM471 366h2v2h-2zM477.5 361h2v2h-2zM471 367h2v2h-2zM479 348h2v2h-2zM491 354.5h2v2h-2zM475.5 354.5h2v2h-2zM477 356h2v2h-2zM470 366.5h2v2h-2zM489 352.5h2v2h-2zM489 349h2v2h-2zM482.5 349.5h2v2h-2zM475.5 362.5h2v2h-2zM493.5 347.5h2v2h-2zM466.5 366h2v2h-2zM484.5 357h2v2h-2zM472 362h2v2h-2zM495.5 352h2v2h-2zM478.5 362.5h2v2h-2zM484 350.5h2v2h-2zM480 366h2v2h-2zM498.5 361.5h2v2h-2zM473.5 352h2v2h-2zM475.5 360h2v2h-2zM485.5 360.5h2v2h-2zM477.5 374.5h2v2h-2zM477 351.5h2v2h-2zM478 369h2v2h-2zM491.5 346.5h2v2h-2zM473.5 348.5h2v2h-2zM489.5 362.5h2v2h-2zM474.5 359.5h2v2h-2zM489.5 364.5h2v2h-2zM489 367.5h2v2h-2zM490 355.5h2v2h-2zM478 359h2v2h-2zM484.5 348.5h2v2h-2zM475 367.5h2v2h-2zM481.5 367.5h2v2h-2zM496.5 349h2v2h-2zM471.5 349h2v2h-2zM473.5 366h2v2h-2zM489 368h2v2h-2zM481 344.5h2v2h-2zM484.5 367.5h2v2h-2zM483.5 364h2v2h-2zM488.5 354h2v2h-2zM470.5 364.5h2v2h-2zM469 372.5h2v2h-2zM477.5 351.5h2v2h-2zM488 355.5h2v2h-2zM479.5 356.5h2v2h-2zM507.5 351.5h2v2h-2zM482 364.5h2v2h-2zM477 366h2v2h-2zM469.5 368h2v2h-2zM495 356h2v2h-2zM483.5 347.5h2v2h-2zM486 352.5h2v2h-2zM497 358h2v2h-2zM476 370h2v2h-2zM481 349.5h2v2h-2zM496.5 348h2v2h-2zM481 347.5h2v2h-2zM483.5 364.5h2v2h-2zM475.5 364.5h2v2h-2zM481.5 354.5h2v2h-2zM466.5 363h2v2h-2zM488 363.5h2v2h-2zM489 361h2v2h-2zM496 350.5h2v2h-2zM493 361.5h2v2h-2zM489 360.5h2v2h-2zM484.5 346h2v2h-2zM489 351h2v2h-2zM472 354h2v2h-2zM474 349h2v2h-2zM477 361.5h2v2h-2zM472.5 368h2v2h-2zM473 366h2v2h-2zM492 355.5h2v2h-2zM493.5 350.5h2v2h-2zM495.5 349.5h2v2h-2zM493.5 362h2v2h-2zM462.5 357.5h2v2h-2zM497 343.5h2v2h-2zM485 349h2v2h-2zM470.5 364h2v2h-2zM480.5 355.5h2v2h-2zM498.5 352h2v2h-2zM496 362h2v2h-2zM468.5 360.5h2v2h-2zM478.5 354.5h2v2h-2zM490 353.5h2v2h-2zM486 364.5h2v2h-2zM482 363h2v2h-2zM479.5 358.5h2v2h-2zM478 363.5h2v2h-2zM476 357h2v2h-2zM467.5 360.5h2v2h-2zM485 364.5h2v2h-2zM461.5 364.5h2v2h-2zM483.5 359.5h2v2h-2zM472.5 362.5h2v2h-2zM481 355.5h2v2h-2zM473 360.5h2v2h-2zM495.5 366.5h2v2h-2zM499.5 356h2v2h-2zM486.5 349.5h2v2h-2zM484 361h2v2h-2zM476 370.5h2v2h-2zM498.5 348.5h2v2h-2zM495 359.5h2v2h-2zM485.5 364.5h2v2h-2zM481 368h2v2h-2zM481 358.5h2v2h-2zM480 357h2v2h-2zM479 357.5h2v2h-2zM486.5 344h2v2h-2zM486 363.5h2v2h-2zM483 355.5h2v2h-2zM484.5 354h2v2h-2zM476 349h2v2h-2zM472.5 353.5h2v2h-2zM477.5 353.5h2v2h-2zM487.5 359.5h2v2h-2zM490 357.5h2v2h-2zM483.5 343.5h2v2h-2zM474 359h2v2h-2zM472.5 356.5h2v2h-2zM468.5 358.5h2v2h-2zM482.5 357h2v2h-2zM477.5 363h2v2h-2zM479.5 342.5h2v2h-2zM484 360h2v2h-2zM482.5 356h2v2h-2zM487.5 356.5h2v2h-2zM493.5 357.5h2v2h-2zM483 366.5h2v2h-2zM491 367h2v2h-2zM481.5 360.5h2v2h-2zM491 362h2v2h-2zM483.5 356h2v2h-2zM474.5 350h2v2h-2zM470.5 366.5h2v2h-2zM476 362h2v2h-2zM482.5 374h2v2h-2zM471.5 365.5h2v2h-2zM485 351h2v2h-2zM477 359h2v2h-2zM496.5 344.5h2v2h-2zM477.5 356.5h2v2h-2zM504 343.5h2v2h-2zM489.5 363h2v2h-2zM474 354h2v2h-2zM497 350h2v2h-2zM480.5 343h2v2h-2zM484 361.5h2v2h-2zM479.5 345h2v2h-2zM487 353h2v2h-2zM492.5 350.5h2v2h-2zM494.5 352.5h2v2h-2zM476.5 368h2v2h-2zM483.5 352h2v2h-2zM487 358.5h2v2h-2zM493.5 361h2v2h-2zM494 349h2v2h-2zM467.5 367h2v2h-2zM496 358.5h2v2h-2zM490.5 352h2v2h-2zM484.5 347h2v2h-2zM482.5 354.5h2v2h-2zM487.5 344.5h2v2h-2zM470 364.5h2v2h-2zM480 355h2v2h-2zM478 346h2v2h-2zM492 340.5h2v2h-2zM487 349h2v2h-2zM472 351h2v2h-2zM468 363.5h2v2h-2zM491 349h2v2h-2zM489 356.5h2v2h-2zM496.5 336.5h2v2h-2zM479.5 359.5h2v2h-2zM478.5 350.5h2v2h-2zM490 363h2v2h-2zM476.5 345.5h2v2h-2zM476 352.5h2v2h-2zM478 351h2v2h-2zM485.5 362.5h2v2h-2zM478 361h2v2h-2zM485 353h2v2h-2zM481 369.5h2v2h-2zM485.5 357.5h2v2h-2zM493.5 351.5h2v2h-2zM489 344.5h2v2h-2zM504 344.5h2v2h-2zM471.5 355.5h2v2h-2zM480 354.5h2v2h-2zM493 358.5h2v2h-2zM488.5 353.5h2v2h-2zM466.5 364.5h2v2h-2zM481.5 356.5h2v2h-2zM500.5 346h2v2h-2zM472 360h2v2h-2zM488 363h2v2h-2zM491 359.5h2v2h-2zM493 359h2v2h-2zM495.5 348.5h2v2h-2zM489.5 353h2v2h-2zM482 353h2v2h-2zM492 357h2v2h-2zM461 372.5h2v2h-2zM490.5 352.5h2v2h-2zM469 361.5h2v2h-2zM486 358.5h2v2h-2zM478.5 356.5h2v2h-2zM506.5 349.5h2v2h-2zM479.5 353h2v2h-2zM476.5 349h2v2h-2zM464 362.5h2v2h-2zM481.5 355h2v2h-2zM496.5 352.5h2v2h-2zM472 366h2v2h-2zM479 349h2v2h-2zM491.5 360.5h2v2h-2zM486 351.5h2v2h-2zM482.5 351h2v2h-2zM474.5 356h2v2h-2zM467.5 356.5h2v2h-2zM488 351h2v2h-2zM497 362.5h2v2h-2zM480 356.5h2v2h-2zM470 362.5h2v2h-2zM464.5 354h2v2h-2zM478.5 347h2v2h-2zM483.5 367h2v2h-2zM488 342.5h2v2h-2zM483.5 350.5h2v2h-2zM476 364.5h2v2h-2zM487 360h2v2h-2zM483.5 366.5h2v2h-2zM464.5 359h2v2h-2zM488 348h2v2h-2zM491.5 354h2v2h-2zM473.5 371h2v2h-2zM468.5 364h2v2h-2zM500 349h2v2h-2zM495.5 347h2v2h-2zM489 364h2v2h-2zM491 343h2v2h-2zM471 354.5h2v2h-2zM473.5 356.5h2v2h-2zM480.5 360.5h2v2h-2zM490 354.5h2v2h-2zM486 352h2v2h-2zM479.5 360h2v2h-2zM469.5 361.5h2v2h-2zM469.5 364.5h2v2h-2zM472.5 367.5h2v2h-2zM484.5 363h2v2h-2zM489.5 356.5h2v2h-2zM499 342h2v2h-2zM473 354.5h2v2h-2zM495 355h2v2h-2zM486.5 364.5h2v2h-2zM479.5 363h2v2h-2zM486 341.5h2v2h-2zM484.5 351.5h2v2h-2zM473.5 365.5h2v2h-2zM493.5 352.5h2v2h-2zM474 358h2v2h-2zM486 343h2v2h-2zM492.5 363.5h2v2h-2zM483.5 362.5h2v2h-2zM486.5 361h2v2h-2zM485.5 348h2v2h-2zM490 360.5h2v2h-2zM486.5 364h2v2h-2zM487 359h2v2h-2zM485 341h2v2h-2zM475 351h2v2h-2zM476.5 369h2v2h-2zM484.5 346.5h2v2h-2zM477 364.5h2v2h-2zM486.5 356.5h2v2h-2zM484 358h2v2h-2zM487.5 343.5h2v2h-2zM494.5 353h2v2h-2zM485 360.5h2v2h-2zM478 362.5h2v2h-2zM488.5 355.5h2v2h-2zM487.5 361.5h2v2h-2zM476.5 355.5h2v2h-2zM473 354h2v2h-2zM480.5 359h2v2h-2zM483.5 354.5h2v2h-2zM473.5 367.5h2v2h-2zM471 375h2v2h-2zM490 353h2v2h-2zM487 350h2v2h-2zM490 346.5h2v2h-2zM486.5 352.5h2v2h-2zM487 345.5h2v2h-2zM473.5 360h2v2h-2zM466 364h2v2h-2zM482 366h2v2h-2zM469.5 358.5h2v2h-2zM471 357h2v2h-2zM473 360h2v2h-2zM477.5 377h2v2h-2zM479 371.5h2v2h-2zM474 363h2v2h-2zM487.5 349.5h2v2h-2zM470 351.5h2v2h-2zM475 368h2v2h-2zM474 351.5h2v2h-2zM478 355h2v2h-2zM492.5 362h2v2h-2zM492.5 342.5h2v2h-2zM466.5 368h2v2h-2zM492 352.5h2v2h-2zM476.5 374h2v2h-2zM479 364.5h2v2h-2zM486 345h2v2h-2zM466.5 366.5h2v2h-2zM491 357.5h2v2h-2zM468 365.5h2v2h-2zM468 356.5h2v2h-2zM483.5 366h2v2h-2zM490.5 355h2v2h-2zM495 373h2v2h-2zM492.5 358h2v2h-2zM479 364h2v2h-2zM474.5 362.5h2v2h-2zM478 356h2v2h-2zM482 340.5h2v2h-2zM498.5 343h2v2h-2zM470.5 359h2v2h-2zM500.5 347.5h2v2h-2zM470 355.5h2v2h-2zM473 365h2v2h-2zM495 352.5h2v2h-2zM479.5 364.5h2v2h-2zM477.5 357.5h2v2h-2zM485 357.5h2v2h-2zM481 360h2v2h-2zM509.5 347.5h2v2h-2zM471.5 345h2v2h-2zM487.5 364h2v2h-2zM497.5 346.5h2v2h-2zM493.5 353.5h2v2h-2zM484.5 371h2v2h-2zM492 348h2v2h-2zM475 371.5h2v2h-2zM480.5 360h2v2h-2zM493 343.5h2v2h-2zM474 349.5h2v2h-2zM490.5 350.5h2v2h-2zM485 359h2v2h-2zM484.5 350h2v2h-2zM466 353h2v2h-2zM471.5 360h2v2h-2zM472.5 363h2v2h-2zM490 358.5h2v2h-2zM480 365.5h2v2h-2zM471.5 361.5h2v2h-2zM485 336.5h2v2h-2zM480 353h2v2h-2zM482.5 366h2v2h-2zM500 357.5h2v2h-2zM477 356.5h2v2h-2zM472.5 359.5h2v2h-2zM479.5 351.5h2v2h-2zM485.5 365.5h2v2h-2zM485.5 350.5h2v2h-2zM475.5 346h2v2h-2zM493 355h2v2h-2zM471.5 360.5h2v2h-2zM494.5 345.5h2v2h-2zM471.5 350.5h2v2h-2zM474.5 358h2v2h-2zM479.5 363.5h2v2h-2zM491.5 358h2v2h-2zM474 364h2v2h-2zM480 356h2v2h-2zM478 345.5h2v2h-2zM485.5 341h2v2h-2zM483.5 360h2v2h-2zM502.5 365.5h2v2h-2zM472.5 347.5h2v2h-2zM477 345.5h2v2h-2zM469 366.5h2v2h-2zM480 355.5h2v2h-2zM472 361.5h2v2h-2zM483 359h2v2h-2zM484.5 354.5h2v2h-2zM482.5 365h2v2h-2zM495 364h2v2h-2zM480 344.5h2v2h-2zM489.5 348h2v2h-2zM480.5 352.5h2v2h-2zM488.5 353h2v2h-2zM472.5 349h2v2h-2zM481.5 348.5h2v2h-2zM473.5 363h2v2h-2zM478.5 351.5h2v2h-2zM480.5 350h2v2h-2zM470.5 361.5h2v2h-2zM483 364h2v2h-2zM486.5 362h2v2h-2zM492 345.5h2v2h-2zM487 346.5h2v2h-2zM491 350h2v2h-2zM470 352.5h2v2h-2zM474 361h2v2h-2zM471 360h2v2h-2zM483 362h2v2h-2zM490.5 345.5h2v2h-2zM489.5 369h2v2h-2zM485 354h2v2h-2zM474.5 360h2v2h-2zM462.5 360.5h2v2h-2zM481.5 357.5h2v2h-2zM490.5 351h2v2h-2zM480 364h2v2h-2zM481 377.5h2v2h-2zM478.5 365h2v2h-2zM502 359.5h2v2h-2zM485.5 361h2v2h-2zM495 362.5h2v2h-2zM491.5 353h2v2h-2zM491 351h2v2h-2zM488.5 366h2v2h-2zM478 369.5h2v2h-2zM469.5 359h2v2h-2zM474.5 365h2v2h-2zM491.5 359h2v2h-2zM479.5 349h2v2h-2zM489 350h2v2h-2zM496.5 356h2v2h-2zM473.5 350.5h2v2h-2zM495.5 354h2v2h-2zM503.5 354h2v2h-2zM476.5 363h2v2h-2zM479.5 368h2v2h-2zM480 359.5h2v2h-2zM473.5 358h2v2h-2zM479.5 354h2v2h-2zM488 362h2v2h-2zM496.5 358.5h2v2h-2zM465.5 357h2v2h-2zM475 356.5h2v2h-2zM480.5 366h2v2h-2zM495.5 352.5h2v2h-2zM489.5 349h2v2h-2zM475 360.5h2v2h-2zM471.5 355h2v2h-2zM490.5 348.5h2v2h-2zM486 348.5h2v2h-2zM484.5 366h2v2h-2zM484.5 364h2v2h-2zM486 361.5h2v2h-2zM482.5 361.5h2v2h-2zM481.5 356h2v2h-2zM476.5 359.5h2v2h-2zM471.5 369h2v2h-2zM484 352.5h2v2h-2zM494.5 350h2v2h-2zM467.5 366.5h2v2h-2zM483.5 342h2v2h-2zM471 363.5h2v2h-2zM500.5 355h2v2h-2zM506 336h2v2h-2zM497 365.5h2v2h-2zM468.5 348h2v2h-2zM466 357h2v2h-2zM468.5 353.5h2v2h-2zM464.5 344.5h2v2h-2zM461 381h2v2h-2zM452.5 364h2v2h-2zM473 386h2v2h-2zM496 357h2v2h-2zM471 388h2v2h-2zM472.5 379.5h2v2h-2zM463.5 373.5h2v2h-2zM493.5 356h2v2h-2zM475.5 365.5h2v2h-2zM481 356.5h2v2h-2zM477 380.5h2v2h-2zM483.5 363h2v2h-2zM480 370.5h2v2h-2zM503 336h2v2h-2zM460.5 361h2v2h-2zM481.5 363.5h2v2h-2zM476.5 380.5h2v2h-2zM498.5 363.5h2v2h-2zM450 383h2v2h-2zM476 378h2v2h-2zM468 364.5h2v2h-2zM462 383.5h2v2h-2zM478.5 351h2v2h-2zM491.5 373h2v2h-2zM473 353.5h2v2h-2zM475.5 388h2v2h-2zM473 386.5h2v2h-2zM480 381.5h2v2h-2zM482.5 388h2v2h-2zM478 365.5h2v2h-2zM450.5 371h2v2h-2zM505.5 370h2v2h-2zM445 359.5h2v2h-2zM495.5 372h2v2h-2zM488 370h2v2h-2zM462 375.5h2v2h-2zM462.5 363.5h2v2h-2zM474 343.5h2v2h-2zM467.5 378h2v2h-2zM492.5 373.5h2v2h-2zM455.5 388h2v2h-2zM506 358.5h2v2h-2zM498.5 350.5h2v2h-2zM460 382h2v2h-2zM493 344h2v2h-2zM481 347h2v2h-2zM496 383.5h2v2h-2zM490 335h2v2h-2zM477.5 375.5h2v2h-2zM437 366.5h2v2h-2zM454 400h2v2h-2zM472.5 391h2v2h-2zM490 369h2v2h-2zM473 371.5h2v2h-2zM465 382.5h2v2h-2zM469 381h2v2h-2zM481.5 370h2v2h-2zM474.5 364.5h2v2h-2zM525 363.5h2v2h-2zM493 353.5h2v2h-2zM481.5 349.5h2v2h-2zM476.5 368.5h2v2h-2zM495 361h2v2h-2zM467.5 382h2v2h-2zM453.5 361.5h2v2h-2zM495 378.5h2v2h-2zM469 366h2v2h-2zM490 371.5h2v2h-2zM483 348h2v2h-2zM479 369h2v2h-2zM469.5 362h2v2h-2zM490.5 377.5h2v2h-2zM492 377h2v2h-2zM496.5 336h2v2h-2zM477 346h2v2h-2zM496 368h2v2h-2zM501 329.5h2v2h-2zM486 370.5h2v2h-2zM471 361.5h2v2h-2zM477 373h2v2h-2zM473 362.5h2v2h-2zM467.5 372h2v2h-2zM482 345.5h2v2h-2zM454.5 385.5h2v2h-2zM457.5 373.5h2v2h-2zM476.5 399h2v2h-2zM477 377h2v2h-2zM454.5 371.5h2v2h-2zM481.5 368.5h2v2h-2zM484 365h2v2h-2zM470 351h2v2h-2zM472 374h2v2h-2zM445.5 370.5h2v2h-2zM469 379.5h2v2h-2zM470.5 353.5h2v2h-2zM493 354.5h2v2h-2zM473.5 375.5h2v2h-2zM453.5 367.5h2v2h-2zM468.5 370h2v2h-2zM489.5 355.5h2v2h-2zM464 352.5h2v2h-2zM482.5 350.5h2v2h-2zM490 352h2v2h-2zM474 390h2v2h-2zM475 370.5h2v2h-2zM446.5 381h2v2h-2zM492 366.5h2v2h-2zM472.5 355h2v2h-2zM484.5 391h2v2h-2zM503.5 322.5h2v2h-2zM446.5 388.5h2v2h-2zM493.5 355.5h2v2h-2zM475.5 349.5h2v2h-2zM473.5 370.5h2v2h-2zM455.5 383h2v2h-2zM459 351.5h2v2h-2zM460 362.5h2v2h-2zM455 358h2v2h-2zM455.5 348h2v2h-2zM446 377h2v2h-2zM497.5 350h2v2h-2zM474.5 372h2v2h-2zM468 370.5h2v2h-2zM453.5 379.5h2v2h-2zM507 374.5h2v2h-2zM470.5 370.5h2v2h-2zM502.5 363.5h2v2h-2zM491 363h2v2h-2zM486 375h2v2h-2zM496 349.5h2v2h-2zM496 347h2v2h-2zM502.5 355.5h2v2h-2zM482.5 349h2v2h-2zM465 360h2v2h-2zM465 396.5h2v2h-2zM469.5 378h2v2h-2zM499 369h2v2h-2zM500.5 361h2v2h-2zM492 383.5h2v2h-2zM481.5 387h2v2h-2zM492 339.5h2v2h-2zM493.5 366.5h2v2h-2zM474.5 369.5h2v2h-2zM466 356h2v2h-2zM489.5 373h2v2h-2zM478 384.5h2v2h-2zM523 372h2v2h-2zM474 355.5h2v2h-2zM486.5 347h2v2h-2zM471.5 377h2v2h-2zM481 361.5h2v2h-2zM477 365.5h2v2h-2zM514.5 367.5h2v2h-2zM463.5 361h2v2h-2zM481 367.5h2v2h-2zM464.5 366.5h2v2h-2zM459.5 364h2v2h-2zM502.5 378h2v2h-2zM504 347.5h2v2h-2zM470 369.5h2v2h-2zM478.5 352h2v2h-2zM470.5 375h2v2h-2zM484 385.5h2v2h-2zM491.5 377h2v2h-2zM448 367h2v2h-2zM479.5 362.5h2v2h-2zM461 361.5h2v2h-2zM487 362.5h2v2h-2zM487.5 344h2v2h-2zM497 348h2v2h-2zM511.5 343.5h2v2h-2zM523.5 318h2v2h-2zM484.5 360.5h2v2h-2zM499.5 338h2v2h-2zM510.5 335h2v2h-2zM509 339h2v2h-2zM527 322h2v2h-2zM513 333.5h2v2h-2zM495.5 342h2v2h-2zM517.5 333h2v2h-2zM492.5 350h2v2h-2zM503.5 334.5h2v2h-2zM515.5 328h2v2h-2zM502.5 341h2v2h-2zM497.5 333h2v2h-2zM499.5 357.5h2v2h-2zM486.5 345h2v2h-2zM502.5 346h2v2h-2zM506 350h2v2h-2zM522 334h2v2h-2zM507 334.5h2v2h-2zM496.5 350.5h2v2h-2zM490 345h2v2h-2zM493.5 358.5h2v2h-2zM505.5 332h2v2h-2zM510 339.5h2v2h-2zM519 329.5h2v2h-2zM529 321.5h2v2h-2zM513.5 326h2v2h-2zM491 347h2v2h-2zM495.5 361.5h2v2h-2zM508.5 331h2v2h-2zM513 341.5h2v2h-2zM506.5 349h2v2h-2zM502 346.5h2v2h-2zM515 329h2v2h-2zM501.5 336h2v2h-2zM521 334h2v2h-2zM524.5 324.5h2v2h-2zM528 316.5h2v2h-2zM509.5 328.5h2v2h-2zM501.5 350.5h2v2h-2zM485.5 359.5h2v2h-2zM489.5 347h2v2h-2zM519 332.5h2v2h-2zM494 362.5h2v2h-2zM522.5 324h2v2h-2zM490.5 347.5h2v2h-2zM500.5 360h2v2h-2zM514.5 333.5h2v2h-2zM512 332h2v2h-2zM501.5 344h2v2h-2zM501.5 337h2v2h-2zM514.5 329.5h2v2h-2zM502 366h2v2h-2zM497.5 340h2v2h-2zM491.5 369h2v2h-2zM517.5 328.5h2v2h-2zM515.5 333.5h2v2h-2zM518.5 327.5h2v2h-2zM507 337.5h2v2h-2zM482.5 356.5h2v2h-2zM488.5 362h2v2h-2zM504 342h2v2h-2zM512 340.5h2v2h-2zM491 360h2v2h-2zM506 352h2v2h-2zM518 329.5h2v2h-2zM497 340h2v2h-2zM500.5 344.5h2v2h-2zM521 321h2v2h-2zM514 349.5h2v2h-2zM505.5 342.5h2v2h-2zM521 337.5h2v2h-2zM503 347h2v2h-2zM492 339h2v2h-2zM498.5 342h2v2h-2zM524.5 325.5h2v2h-2zM503 340.5h2v2h-2zM508 340h2v2h-2zM506.5 332h2v2h-2zM497.5 350.5h2v2h-2zM489.5 357.5h2v2h-2zM500 344.5h2v2h-2zM498.5 347h2v2h-2zM516.5 334.5h2v2h-2zM485.5 343.5h2v2h-2zM517 331h2v2h-2zM491 356.5h2v2h-2zM502 345h2v2h-2zM500 352h2v2h-2zM522.5 323.5h2v2h-2zM501.5 348h2v2h-2zM516 330.5h2v2h-2zM505 348h2v2h-2zM531 314h2v2h-2zM506.5 346h2v2h-2zM495.5 360.5h2v2h-2zM500.5 347h2v2h-2zM494.5 364h2v2h-2zM490 338h2v2h-2zM513 335.5h2v2h-2zM495 358h2v2h-2zM484.5 355.5h2v2h-2zM511 328.5h2v2h-2zM514.5 338h2v2h-2zM492.5 356h2v2h-2zM507.5 340.5h2v2h-2zM491 345.5h2v2h-2zM522 324h2v2h-2zM511 340.5h2v2h-2zM482 358h2v2h-2zM495 343h2v2h-2zM503 357h2v2h-2zM498 342h2v2h-2zM491 357h2v2h-2zM507 338.5h2v2h-2zM498 348h2v2h-2zM525.5 317.5h2v2h-2zM500.5 367h2v2h-2zM504.5 338h2v2h-2zM516.5 330.5h2v2h-2zM493.5 341.5h2v2h-2zM525 321h2v2h-2zM522 328h2v2h-2zM517 327.5h2v2h-2zM529 320h2v2h-2zM510 337h2v2h-2zM508.5 337h2v2h-2zM490.5 349.5h2v2h-2zM530.5 320h2v2h-2zM505 336h2v2h-2zM515.5 329.5h2v2h-2zM497 354h2v2h-2zM518 333.5h2v2h-2zM492 358.5h2v2h-2zM499 345h2v2h-2zM506.5 347h2v2h-2zM486.5 349h2v2h-2zM503 337h2v2h-2zM518 327.5h2v2h-2zM519.5 330.5h2v2h-2zM509.5 344.5h2v2h-2zM508 344h2v2h-2zM489.5 351.5h2v2h-2zM522 322.5h2v2h-2zM496.5 345.5h2v2h-2zM499.5 348h2v2h-2zM522.5 326h2v2h-2zM502 349.5h2v2h-2zM522 322h2v2h-2zM534.5 314h2v2h-2zM503 347.5h2v2h-2zM510 333.5h2v2h-2zM500 359h2v2h-2zM504 339h2v2h-2zM505 346h2v2h-2zM498 345h2v2h-2zM514 335.5h2v2h-2zM519.5 333h2v2h-2zM515 334.5h2v2h-2zM491 349.5h2v2h-2zM493.5 344.5h2v2h-2zM490.5 344.5h2v2h-2zM488.5 342.5h2v2h-2zM526 320.5h2v2h-2zM490 352.5h2v2h-2zM492.5 352h2v2h-2zM492.5 354.5h2v2h-2zM521 328h2v2h-2zM512.5 334.5h2v2h-2zM496 346h2v2h-2zM520.5 325h2v2h-2zM499 362h2v2h-2zM532.5 314.5h2v2h-2zM529 316.5h2v2h-2zM494.5 344h2v2h-2zM495 366h2v2h-2zM498.5 344.5h2v2h-2zM524.5 322.5h2v2h-2zM495.5 355h2v2h-2zM521.5 322.5h2v2h-2zM499 332h2v2h-2zM525.5 322h2v2h-2zM514.5 322.5h2v2h-2zM492 350h2v2h-2zM511 329.5h2v2h-2zM487 344.5h2v2h-2zM527 317.5h2v2h-2zM516.5 335h2v2h-2zM499 327.5h2v2h-2zM509 343h2v2h-2zM500 344h2v2h-2zM505 345.5h2v2h-2zM530.5 319h2v2h-2zM524.5 320h2v2h-2zM511 334.5h2v2h-2zM528 321.5h2v2h-2zM505.5 350.5h2v2h-2zM525 323.5h2v2h-2zM523.5 328h2v2h-2zM526 325h2v2h-2zM492.5 357.5h2v2h-2zM511 346.5h2v2h-2zM510 342h2v2h-2zM504.5 343.5h2v2h-2zM504 340.5h2v2h-2zM492.5 359.5h2v2h-2zM503 341h2v2h-2zM504.5 349.5h2v2h-2zM494.5 351h2v2h-2zM511.5 338.5h2v2h-2zM497.5 348.5h2v2h-2zM506.5 339.5h2v2h-2zM499 337.5h2v2h-2zM519 332h2v2h-2zM486.5 348.5h2v2h-2zM520.5 326h2v2h-2zM493.5 360h2v2h-2zM491.5 344.5h2v2h-2zM488.5 362.5h2v2h-2zM494.5 366h2v2h-2zM497 343h2v2h-2zM495 353h2v2h-2zM492.5 331h2v2h-2zM515 326.5h2v2h-2zM489.5 349.5h2v2h-2zM523.5 326.5h2v2h-2zM529.5 311h2v2h-2zM514 333.5h2v2h-2zM493.5 350h2v2h-2zM512 334h2v2h-2zM491.5 343.5h2v2h-2zM498 353.5h2v2h-2zM492.5 363h2v2h-2zM529 315.5h2v2h-2zM495.5 350h2v2h-2zM498.5 358h2v2h-2zM499 344.5h2v2h-2zM515 332.5h2v2h-2zM513 335h2v2h-2zM504.5 332h2v2h-2zM519 327h2v2h-2zM507 335h2v2h-2zM530 331.5h2v2h-2zM498.5 346h2v2h-2zM523.5 327.5h2v2h-2zM510.5 332.5h2v2h-2zM507.5 341h2v2h-2zM493 363.5h2v2h-2zM507 338h2v2h-2zM513.5 335.5h2v2h-2zM483.5 359h2v2h-2zM530 322h2v2h-2zM511 337.5h2v2h-2zM501 348.5h2v2h-2zM520 339.5h2v2h-2zM518.5 331.5h2v2h-2zM521.5 328h2v2h-2zM533.5 315h2v2h-2zM490 366h2v2h-2zM515 333.5h2v2h-2zM498 358h2v2h-2zM495.5 369.5h2v2h-2zM485 354.5h2v2h-2zM511.5 331.5h2v2h-2zM490 366.5h2v2h-2zM522.5 327h2v2h-2zM512.5 335h2v2h-2zM520.5 333h2v2h-2zM498 339h2v2h-2zM490.5 361h2v2h-2zM499.5 343h2v2h-2zM499 349h2v2h-2zM516 332.5h2v2h-2zM500 348h2v2h-2zM506 334.5h2v2h-2zM500 348.5h2v2h-2zM498 352.5h2v2h-2zM522.5 317.5h2v2h-2zM489.5 359.5h2v2h-2zM518 326h2v2h-2zM514 332.5h2v2h-2zM504.5 337h2v2h-2zM490 349h2v2h-2zM494.5 350.5h2v2h-2zM492 349.5h2v2h-2zM506.5 336.5h2v2h-2zM494 358.5h2v2h-2zM506.5 343h2v2h-2zM499.5 351.5h2v2h-2zM493 337.5h2v2h-2zM519.5 332h2v2h-2zM518 336h2v2h-2zM512.5 330h2v2h-2zM535 315.5h2v2h-2zM514.5 331h2v2h-2zM494.5 359h2v2h-2zM511.5 341h2v2h-2zM512 338h2v2h-2zM523.5 329h2v2h-2zM499.5 350h2v2h-2zM531 321h2v2h-2zM504 347h2v2h-2zM527 318.5h2v2h-2zM514.5 326.5h2v2h-2zM495 349h2v2h-2zM514 334.5h2v2h-2zM494.5 343h2v2h-2zM503 339.5h2v2h-2zM494 344.5h2v2h-2zM487.5 354.5h2v2h-2zM497.5 337.5h2v2h-2zM496.5 363.5h2v2h-2zM487 351h2v2h-2zM526 322.5h2v2h-2zM529.5 321.5h2v2h-2zM493.5 342h2v2h-2zM510.5 339.5h2v2h-2zM528 327.5h2v2h-2zM521.5 328.5h2v2h-2zM503.5 367.5h2v2h-2zM487 363h2v2h-2zM498 351.5h2v2h-2zM525.5 324h2v2h-2zM496.5 339h2v2h-2zM499.5 355h2v2h-2zM499.5 340.5h2v2h-2zM511.5 339h2v2h-2zM500 332h2v2h-2zM520 323.5h2v2h-2zM499 347h2v2h-2zM520 325.5h2v2h-2zM506.5 340h2v2h-2zM526 315h2v2h-2zM501.5 341h2v2h-2zM502.5 347h2v2h-2zM504.5 348h2v2h-2zM496.5 351h2v2h-2zM523 324h2v2h-2zM511 336.5h2v2h-2zM510 347h2v2h-2zM536.5 313h2v2h-2zM522.5 323h2v2h-2zM515 329.5h2v2h-2zM508.5 350h2v2h-2zM510 334h2v2h-2zM513 346.5h2v2h-2zM505.5 352h2v2h-2zM517.5 330.5h2v2h-2zM486 358h2v2h-2zM494 364h2v2h-2zM526 325.5h2v2h-2zM515 337h2v2h-2zM500.5 357h2v2h-2zM505 342.5h2v2h-2zM514 336h2v2h-2zM489.5 365h2v2h-2zM506 344h2v2h-2zM497.5 353h2v2h-2zM517 339h2v2h-2zM484.5 350.5h2v2h-2zM498 341.5h2v2h-2zM523.5 326h2v2h-2zM506 353.5h2v2h-2zM486.5 352h2v2h-2zM499 355.5h2v2h-2zM492.5 351h2v2h-2zM490 343.5h2v2h-2zM505.5 347h2v2h-2zM507 347h2v2h-2zM488 364h2v2h-2zM510.5 331h2v2h-2zM493.5 364h2v2h-2zM519 330h2v2h-2zM503 329.5h2v2h-2zM487.5 353h2v2h-2zM501 346h2v2h-2zM528.5 318.5h2v2h-2zM499 336.5h2v2h-2zM509 327.5h2v2h-2zM517 330.5h2v2h-2zM491.5 355h2v2h-2zM528 319h2v2h-2zM494.5 354h2v2h-2zM501.5 341.5h2v2h-2zM529 317h2v2h-2zM525 326.5h2v2h-2zM519.5 328h2v2h-2zM517.5 327h2v2h-2zM520.5 323.5h2v2h-2zM509.5 339h2v2h-2zM491 367.5h2v2h-2zM503 357.5h2v2h-2zM516.5 327h2v2h-2zM510.5 329.5h2v2h-2zM523 328.5h2v2h-2zM509.5 337h2v2h-2zM504 349.5h2v2h-2zM507 344h2v2h-2zM517.5 334h2v2h-2zM501 337h2v2h-2zM507.5 344.5h2v2h-2zM491.5 346h2v2h-2zM486 355h2v2h-2zM506 332.5h2v2h-2zM518.5 323.5h2v2h-2zM527 320.5h2v2h-2zM523 329h2v2h-2zM489 361.5h2v2h-2zM497.5 352h2v2h-2zM530.5 321h2v2h-2zM512.5 336.5h2v2h-2zM510 341h2v2h-2zM501 346.5h2v2h-2zM491 356h2v2h-2zM523 322h2v2h-2zM487.5 358.5h2v2h-2zM496.5 348.5h2v2h-2zM492 367h2v2h-2zM510 329.5h2v2h-2zM493 349h2v2h-2zM518.5 319h2v2h-2zM512.5 349h2v2h-2zM507.5 351h2v2h-2zM506 342.5h2v2h-2zM497.5 342h2v2h-2zM514 342h2v2h-2zM531.5 311h2v2h-2zM495 335.5h2v2h-2zM495.5 346h2v2h-2zM506.5 340.5h2v2h-2zM489.5 363.5h2v2h-2zM491 342h2v2h-2zM527 323h2v2h-2zM499 334h2v2h-2zM536 311h2v2h-2zM512.5 334h2v2h-2zM526 320h2v2h-2zM516 329.5h2v2h-2zM499 354h2v2h-2zM520.5 331.5h2v2h-2zM493.5 359h2v2h-2zM489 343h2v2h-2zM506.5 344h2v2h-2zM487.5 352.5h2v2h-2zM503.5 353.5h2v2h-2zM525.5 323h2v2h-2zM511 338.5h2v2h-2zM519 334.5h2v2h-2zM497.5 347.5h2v2h-2zM492.5 343h2v2h-2zM532 315.5h2v2h-2zM503.5 348h2v2h-2zM503 346.5h2v2h-2zM497 356h2v2h-2zM517 329.5h2v2h-2zM489.5 356h2v2h-2zM502 352.5h2v2h-2zM521.5 331h2v2h-2zM519 328.5h2v2h-2zM499 346h2v2h-2zM494 351h2v2h-2zM496.5 345h2v2h-2zM518 328h2v2h-2zM501 349h2v2h-2zM503 355.5h2v2h-2zM516.5 328h2v2h-2zM497 361.5h2v2h-2zM524.5 326h2v2h-2zM513 337.5h2v2h-2zM494.5 354.5h2v2h-2zM528 318h2v2h-2zM512 336h2v2h-2zM498.5 348h2v2h-2zM491 352.5h2v2h-2zM516 335h2v2h-2zM530.5 315.5h2v2h-2zM499.5 359h2v2h-2zM491 355h2v2h-2zM500 336.5h2v2h-2zM488.5 348.5h2v2h-2zM514 330h2v2h-2zM500 342h2v2h-2zM528.5 320.5h2v2h-2zM526.5 319.5h2v2h-2zM489.5 360.5h2v2h-2zM497 349h2v2h-2zM503.5 332.5h2v2h-2zM500 339.5h2v2h-2zM505 342h2v2h-2zM497.5 365h2v2h-2zM508.5 336.5h2v2h-2zM489.5 345h2v2h-2zM525 325h2v2h-2zM503.5 345h2v2h-2zM507 340.5h2v2h-2zM527 323.5h2v2h-2zM497 344.5h2v2h-2zM503 343.5h2v2h-2zM487 357h2v2h-2zM514.5 326h2v2h-2zM493 345h2v2h-2zM492 364.5h2v2h-2zM491.5 368h2v2h-2zM508.5 343.5h2v2h-2zM496.5 343h2v2h-2zM503 354h2v2h-2zM506.5 346.5h2v2h-2zM534.5 313.5h2v2h-2zM472 345.5h2v2h-2zM519 340h2v2h-2zM527.5 325.5h2v2h-2zM502 339.5h2v2h-2zM495 352h2v2h-2zM501 353.5h2v2h-2zM507.5 333.5h2v2h-2zM507.5 338h2v2h-2zM502 345.5h2v2h-2zM527.5 330h2v2h-2zM514.5 344.5h2v2h-2zM488 344.5h2v2h-2zM515 331.5h2v2h-2zM500 356.5h2v2h-2zM528 317.5h2v2h-2zM510.5 344h2v2h-2zM532 319.5h2v2h-2zM498 365.5h2v2h-2zM490 345.5h2v2h-2zM493.5 355h2v2h-2zM498 359h2v2h-2zM505 333.5h2v2h-2zM496.5 356.5h2v2h-2zM520.5 327.5h2v2h-2zM492 362h2v2h-2zM532.5 318h2v2h-2zM497.5 357h2v2h-2zM513.5 343h2v2h-2zM518 331.5h2v2h-2zM494.5 362.5h2v2h-2zM505 339h2v2h-2zM505.5 338.5h2v2h-2zM520.5 328h2v2h-2zM502.5 354h2v2h-2zM495 359h2v2h-2zM522 325h2v2h-2zM507.5 346h2v2h-2zM517.5 329h2v2h-2zM495.5 346.5h2v2h-2zM496.5 347h2v2h-2zM518 329h2v2h-2zM515 336h2v2h-2zM512 333h2v2h-2zM491.5 362h2v2h-2zM517 332.5h2v2h-2zM509 332.5h2v2h-2zM500 347h2v2h-2zM504.5 345.5h2v2h-2zM506 355.5h2v2h-2zM507.5 326h2v2h-2zM501 348h2v2h-2zM508 344.5h2v2h-2zM525.5 319h2v2h-2zM517.5 328h2v2h-2zM523 323h2v2h-2zM512.5 338.5h2v2h-2zM529.5 320h2v2h-2zM530.5 314h2v2h-2zM515 324.5h2v2h-2zM503 342.5h2v2h-2zM508.5 330h2v2h-2zM502 362h2v2h-2zM494.5 356h2v2h-2zM490.5 337h2v2h-2zM491 361h2v2h-2zM496 353.5h2v2h-2zM509 333.5h2v2h-2zM494.5 353.5h2v2h-2zM507 344.5h2v2h-2zM506.5 344.5h2v2h-2zM513.5 323h2v2h-2zM506.5 333.5h2v2h-2zM514 331h2v2h-2zM502 350.5h2v2h-2zM490.5 356.5h2v2h-2zM501 360.5h2v2h-2zM498 360.5h2v2h-2zM483 347.5h2v2h-2zM511 336h2v2h-2zM519 331h2v2h-2zM529.5 319h2v2h-2zM528 318.5h2v2h-2zM506.5 334.5h2v2h-2zM534.5 315h2v2h-2zM511.5 341.5h2v2h-2zM500.5 352h2v2h-2zM494 339h2v2h-2zM519.5 326h2v2h-2zM499 357h2v2h-2zM505 341.5h2v2h-2zM502 342h2v2h-2zM515.5 330h2v2h-2zM501 355h2v2h-2zM491.5 345.5h2v2h-2zM502 347.5h2v2h-2zM496 337.5h2v2h-2zM505 345h2v2h-2zM501.5 346.5h2v2h-2zM503 344.5h2v2h-2zM500.5 341.5h2v2h-2zM506 363h2v2h-2zM520 336h2v2h-2zM528.5 322h2v2h-2zM500.5 343.5h2v2h-2zM516.5 331.5h2v2h-2zM501 352.5h2v2h-2zM513 336.5h2v2h-2zM512 347h2v2h-2zM526.5 321h2v2h-2zM501 334h2v2h-2zM510.5 334.5h2v2h-2zM531 320h2v2h-2zM513.5 342h2v2h-2zM515.5 339.5h2v2h-2zM535.5 314h2v2h-2zM502.5 351.5h2v2h-2zM487 349.5h2v2h-2zM488.5 359.5h2v2h-2zM490 348.5h2v2h-2zM524 331.5h2v2h-2zM492 354h2v2h-2zM524 322h2v2h-2zM493.5 351h2v2h-2zM524.5 323h2v2h-2zM484 351h2v2h-2zM487 347h2v2h-2zM518 322h2v2h-2zM504 343h2v2h-2zM492 363.5h2v2h-2zM500.5 342.5h2v2h-2zM530.5 323h2v2h-2zM513.5 334.5h2v2h-2zM494 366.5h2v2h-2zM514.5 330.5h2v2h-2zM497.5 349h2v2h-2zM498 357.5h2v2h-2zM494 357h2v2h-2zM520 331.5h2v2h-2zM501 358.5h2v2h-2zM500 340h2v2h-2zM497.5 355.5h2v2h-2zM496.5 355.5h2v2h-2zM520.5 317.5h2v2h-2zM524.5 321.5h2v2h-2zM529 316h2v2h-2zM498 347h2v2h-2zM510 343.5h2v2h-2zM524 324.5h2v2h-2zM492 364h2v2h-2zM517.5 323.5h2v2h-2zM497.5 340.5h2v2h-2zM507 349.5h2v2h-2zM488 361.5h2v2h-2zM504 358.5h2v2h-2zM503 346h2v2h-2zM496.5 353.5h2v2h-2zM519 323h2v2h-2zM509 340.5h2v2h-2zM500 356h2v2h-2zM483.5 357.5h2v2h-2zM493.5 343h2v2h-2zM492.5 358.5h2v2h-2zM515 335h2v2h-2zM506.5 337h2v2h-2zM497 360.5h2v2h-2zM503.5 342h2v2h-2zM516 342.5h2v2h-2zM501 338h2v2h-2zM489.5 361h2v2h-2zM512 337.5h2v2h-2zM525 323h2v2h-2zM534 315h2v2h-2zM510.5 328.5h2v2h-2zM505.5 340h2v2h-2zM503 338.5h2v2h-2zM482 349.5h2v2h-2zM503 338h2v2h-2zM529.5 318.5h2v2h-2zM522 324.5h2v2h-2zM492 346h2v2h-2zM502.5 338.5h2v2h-2zM509.5 349.5h2v2h-2zM497 345h2v2h-2zM485.5 355h2v2h-2zM499.5 347.5h2v2h-2zM532 314.5h2v2h-2zM503.5 341.5h2v2h-2zM529.5 315.5h2v2h-2zM520 328.5h2v2h-2zM532 312h2v2h-2zM496.5 363h2v2h-2zM488 352.5h2v2h-2zM493.5 348.5h2v2h-2zM529.5 319.5h2v2h-2zM504.5 336h2v2h-2zM495 347h2v2h-2zM510.5 343h2v2h-2zM493.5 353h2v2h-2zM495 345h2v2h-2zM494 356.5h2v2h-2zM496 362.5h2v2h-2zM501.5 352.5h2v2h-2zM494 370h2v2h-2zM505.5 325.5h2v2h-2zM511.5 319.5h2v2h-2zM492.5 318h2v2h-2zM508.5 329.5h2v2h-2zM502.5 317h2v2h-2zM497.5 322.5h2v2h-2zM490.5 320h2v2h-2zM510.5 309h2v2h-2zM505 314.5h2v2h-2zM507 323h2v2h-2zM524 309.5h2v2h-2zM502 319.5h2v2h-2zM529 319.5h2v2h-2zM489 309.5h2v2h-2zM528 305.5h2v2h-2zM489.5 313.5h2v2h-2zM488 325h2v2h-2zM518 312h2v2h-2zM506 320h2v2h-2zM515.5 306h2v2h-2zM490.5 321.5h2v2h-2zM507.5 309h2v2h-2zM516 316.5h2v2h-2zM505.5 324.5h2v2h-2zM497 306.5h2v2h-2zM496 326h2v2h-2zM505 315.5h2v2h-2zM520.5 310h2v2h-2zM513 322h2v2h-2zM492 320.5h2v2h-2zM516.5 322h2v2h-2zM495.5 322.5h2v2h-2zM511 315.5h2v2h-2zM487.5 335h2v2h-2zM516 317.5h2v2h-2zM491 310h2v2h-2zM516.5 315h2v2h-2zM539 322.5h2v2h-2zM510.5 313.5h2v2h-2zM508.5 311.5h2v2h-2zM510 309h2v2h-2zM492.5 324h2v2h-2zM504.5 323.5h2v2h-2zM494 325h2v2h-2zM491 326h2v2h-2zM517 324h2v2h-2zM497.5 326.5h2v2h-2zM519.5 318.5h2v2h-2zM493 321h2v2h-2zM492.5 320h2v2h-2zM509 321h2v2h-2zM510.5 324h2v2h-2zM518 297.5h2v2h-2zM500.5 321.5h2v2h-2zM527.5 323.5h2v2h-2zM496 304h2v2h-2zM499 330h2v2h-2zM486 313h2v2h-2zM518.5 304h2v2h-2zM504.5 303h2v2h-2zM528.5 320h2v2h-2zM533 317h2v2h-2zM510 325h2v2h-2zM517.5 303h2v2h-2zM487.5 323.5h2v2h-2zM480.5 340h2v2h-2zM516.5 294.5h2v2h-2zM496.5 319h2v2h-2zM511.5 308.5h2v2h-2zM521.5 302h2v2h-2zM530.5 317h2v2h-2zM502.5 315.5h2v2h-2zM527 317h2v2h-2zM508 315.5h2v2h-2zM487.5 312.5h2v2h-2zM491.5 304h2v2h-2zM491.5 330h2v2h-2zM494 305.5h2v2h-2zM519 316.5h2v2h-2zM494.5 311.5h2v2h-2zM509.5 319.5h2v2h-2zM496.5 311.5h2v2h-2zM494.5 318h2v2h-2zM518.5 310h2v2h-2zM504.5 311h2v2h-2zM519.5 304h2v2h-2zM510 312h2v2h-2zM533 305.5h2v2h-2zM496 315h2v2h-2zM533 300h2v2h-2zM493.5 324h2v2h-2zM515.5 311h2v2h-2zM488 319h2v2h-2zM504 319.5h2v2h-2zM495 320h2v2h-2zM505.5 323h2v2h-2zM510.5 325h2v2h-2zM510 323.5h2v2h-2zM521 297.5h2v2h-2zM484.5 338h2v2h-2zM516.5 318.5h2v2h-2zM509.5 314.5h2v2h-2zM519 308h2v2h-2zM507 310h2v2h-2zM489 329h2v2h-2zM490 340.5h2v2h-2zM507 321h2v2h-2zM501.5 314h2v2h-2zM534.5 304h2v2h-2zM495.5 316.5h2v2h-2zM495 325h2v2h-2zM518 319.5h2v2h-2zM497.5 331h2v2h-2zM497 334h2v2h-2zM510 320.5h2v2h-2zM504.5 328.5h2v2h-2zM507.5 315.5h2v2h-2zM506.5 316h2v2h-2zM520 313h2v2h-2zM491.5 318.5h2v2h-2zM515.5 307.5h2v2h-2zM500.5 326h2v2h-2zM497.5 328.5h2v2h-2zM524 307.5h2v2h-2zM512 313h2v2h-2zM520 315.5h2v2h-2zM504.5 319.5h2v2h-2zM496 313h2v2h-2zM497 327h2v2h-2zM487 330h2v2h-2zM497.5 326h2v2h-2zM493 320h2v2h-2zM497.5 322h2v2h-2zM511 323h2v2h-2zM484.5 311h2v2h-2zM512 322h2v2h-2zM499 320h2v2h-2zM486.5 310h2v2h-2zM511 315h2v2h-2zM521.5 306h2v2h-2zM524 308.5h2v2h-2zM493.5 309.5h2v2h-2zM495.5 311h2v2h-2zM516.5 318h2v2h-2zM511 330h2v2h-2zM531.5 304h2v2h-2zM507 316h2v2h-2zM493.5 325h2v2h-2zM488 325.5h2v2h-2zM500.5 335h2v2h-2zM499.5 305.5h2v2h-2zM504.5 319h2v2h-2zM514.5 309h2v2h-2zM515 320h2v2h-2zM500 325.5h2v2h-2zM511 308h2v2h-2zM507.5 317.5h2v2h-2zM493 318.5h2v2h-2zM523 300.5h2v2h-2zM493 316.5h2v2h-2zM498 319.5h2v2h-2zM488.5 318h2v2h-2zM500 315h2v2h-2zM502 320h2v2h-2zM517 310h2v2h-2zM499 321h2v2h-2zM502 324h2v2h-2zM512.5 302h2v2h-2zM504.5 331h2v2h-2zM518.5 309h2v2h-2zM506 316.5h2v2h-2zM507 309h2v2h-2zM492 328.5h2v2h-2zM502.5 309h2v2h-2zM514.5 319.5h2v2h-2zM515.5 320h2v2h-2zM512 311.5h2v2h-2zM496 311.5h2v2h-2zM519.5 305h2v2h-2zM487 331h2v2h-2zM501.5 315.5h2v2h-2zM501 313h2v2h-2zM504.5 314.5h2v2h-2zM500 319h2v2h-2zM525.5 314h2v2h-2zM503.5 309h2v2h-2zM525 308h2v2h-2zM509.5 307.5h2v2h-2zM493.5 322.5h2v2h-2zM499 312.5h2v2h-2zM501.5 323h2v2h-2zM518.5 308.5h2v2h-2zM521.5 307.5h2v2h-2zM498 312.5h2v2h-2zM502.5 322.5h2v2h-2zM503 308.5h2v2h-2zM512.5 313.5h2v2h-2zM501.5 308h2v2h-2zM500 318h2v2h-2zM496 323.5h2v2h-2zM483 336h2v2h-2zM500.5 310.5h2v2h-2zM509.5 307h2v2h-2zM498.5 323.5h2v2h-2zM521.5 305h2v2h-2zM517.5 311.5h2v2h-2zM486 330h2v2h-2zM497 310.5h2v2h-2zM510 326.5h2v2h-2zM499.5 316.5h2v2h-2zM521 304h2v2h-2zM510 314.5h2v2h-2zM505 309.5h2v2h-2zM512 327h2v2h-2zM512.5 300.5h2v2h-2zM498 321.5h2v2h-2zM506.5 312.5h2v2h-2zM490 331h2v2h-2zM484 315.5h2v2h-2zM498.5 316.5h2v2h-2zM505 313h2v2h-2zM491.5 319h2v2h-2zM509.5 315h2v2h-2zM499 304.5h2v2h-2zM493.5 321.5h2v2h-2zM516 312h2v2h-2zM498.5 310.5h2v2h-2zM509 329h2v2h-2zM513 311.5h2v2h-2zM488.5 322.5h2v2h-2zM504.5 323h2v2h-2zM514 318h2v2h-2zM518 311h2v2h-2zM511.5 309.5h2v2h-2zM504.5 316h2v2h-2zM504 311.5h2v2h-2zM513 316.5h2v2h-2zM510.5 311.5h2v2h-2zM506.5 309.5h2v2h-2zM491 323.5h2v2h-2zM506 319.5h2v2h-2zM508 313.5h2v2h-2zM526.5 313.5h2v2h-2zM507 319h2v2h-2zM503.5 308.5h2v2h-2zM518 316h2v2h-2zM508 319h2v2h-2zM493.5 326.5h2v2h-2zM510 312.5h2v2h-2zM499 318h2v2h-2zM487 317h2v2h-2zM506 326h2v2h-2zM508 312.5h2v2h-2zM507.5 314.5h2v2h-2zM491 313.5h2v2h-2zM539 312.5h2v2h-2zM510.5 321h2v2h-2zM521 316.5h2v2h-2zM510 305.5h2v2h-2zM515 313.5h2v2h-2zM502.5 317.5h2v2h-2zM506.5 313.5h2v2h-2zM504.5 317h2v2h-2zM511 314.5h2v2h-2zM524 310.5h2v2h-2zM516.5 308.5h2v2h-2zM514 314.5h2v2h-2zM524 307h2v2h-2zM473.5 325h2v2h-2zM534.5 311.5h2v2h-2zM520 316h2v2h-2zM509.5 304.5h2v2h-2zM516 310.5h2v2h-2zM526.5 311h2v2h-2zM493.5 319h2v2h-2zM516 313h2v2h-2zM518 313h2v2h-2zM501.5 309.5h2v2h-2zM501.5 315h2v2h-2zM489.5 326.5h2v2h-2zM500.5 333h2v2h-2zM503 308h2v2h-2zM495 314.5h2v2h-2zM504.5 312.5h2v2h-2zM532.5 311h2v2h-2zM483.5 336h2v2h-2zM496 311h2v2h-2zM516.5 321.5h2v2h-2zM509.5 310h2v2h-2zM499.5 311h2v2h-2zM529.5 305h2v2h-2zM502 307.5h2v2h-2zM505 323.5h2v2h-2zM492.5 326h2v2h-2zM496.5 331.5h2v2h-2zM519.5 312h2v2h-2zM490.5 316h2v2h-2zM500.5 321h2v2h-2zM504.5 315.5h2v2h-2zM506.5 314.5h2v2h-2zM517.5 301h2v2h-2zM490 324.5h2v2h-2zM503.5 314h2v2h-2zM494 315h2v2h-2zM512 318h2v2h-2zM501.5 308.5h2v2h-2zM487 319h2v2h-2zM506 315h2v2h-2zM509.5 311h2v2h-2zM518 322.5h2v2h-2zM506.5 317h2v2h-2zM508.5 309h2v2h-2zM514 319h2v2h-2zM504.5 311.5h2v2h-2zM501.5 319h2v2h-2zM491 314h2v2h-2zM512 309h2v2h-2zM508 303h2v2h-2zM479 325h2v2h-2zM496.5 322h2v2h-2zM501 318.5h2v2h-2zM523 302.5h2v2h-2zM489 315h2v2h-2zM521 327.5h2v2h-2zM485.5 324h2v2h-2zM512 320h2v2h-2zM526.5 311.5h2v2h-2zM492 317.5h2v2h-2zM488.5 324h2v2h-2zM483 334.5h2v2h-2zM529.5 313h2v2h-2zM485 319h2v2h-2zM505.5 313.5h2v2h-2zM496 323h2v2h-2zM494 329h2v2h-2zM515 308h2v2h-2zM516 301.5h2v2h-2zM499 305h2v2h-2zM482.5 340h2v2h-2zM519.5 315h2v2h-2zM507 312.5h2v2h-2zM502 321h2v2h-2zM508 326h2v2h-2zM511.5 310.5h2v2h-2zM493 319h2v2h-2zM514 317h2v2h-2zM496.5 312h2v2h-2zM493.5 323.5h2v2h-2zM507.5 312h2v2h-2zM509.5 303h2v2h-2zM512 301h2v2h-2zM531 329.5h2v2h-2zM522.5 313.5h2v2h-2zM521 318h2v2h-2zM509 320.5h2v2h-2zM497 333h2v2h-2zM491 314.5h2v2h-2zM509 313h2v2h-2zM489.5 325h2v2h-2zM508.5 321h2v2h-2zM501.5 319.5h2v2h-2zM505 321h2v2h-2zM518 315h2v2h-2zM504 325.5h2v2h-2zM506 319h2v2h-2zM522 309h2v2h-2zM513.5 315.5h2v2h-2zM486 316.5h2v2h-2zM482 309.5h2v2h-2zM511.5 321.5h2v2h-2zM517.5 307.5h2v2h-2zM488 315.5h2v2h-2zM515 328.5h2v2h-2zM516.5 305h2v2h-2zM512 304h2v2h-2zM512 303h2v2h-2zM513.5 307h2v2h-2zM518.5 315.5h2v2h-2zM507 315.5h2v2h-2zM513 314.5h2v2h-2zM494 326h2v2h-2zM517 312h2v2h-2zM509.5 323h2v2h-2zM491 325.5h2v2h-2zM505.5 318h2v2h-2zM497.5 320h2v2h-2zM488.5 317h2v2h-2zM526 319h2v2h-2zM502.5 321.5h2v2h-2zM532 327.5h2v2h-2zM507.5 317h2v2h-2zM514.5 315.5h2v2h-2zM501.5 316h2v2h-2zM483.5 312.5h2v2h-2zM491 317.5h2v2h-2zM497 316h2v2h-2zM507.5 305.5h2v2h-2zM509 309h2v2h-2zM491.5 313.5h2v2h-2zM516 322.5h2v2h-2zM486 314h2v2h-2zM503 323h2v2h-2zM507 306h2v2h-2zM492.5 327h2v2h-2zM499.5 328.5h2v2h-2zM539 305.5h2v2h-2zM507 308.5h2v2h-2zM519 320.5h2v2h-2zM514.5 305.5h2v2h-2zM521.5 318h2v2h-2zM527.5 315h2v2h-2zM487 333.5h2v2h-2zM505.5 315h2v2h-2zM513.5 332.5h2v2h-2zM504 326.5h2v2h-2zM506.5 330.5h2v2h-2zM518.5 295.5h2v2h-2zM501 321h2v2h-2zM493 309.5h2v2h-2zM513.5 308h2v2h-2zM546 291.5h2v2h-2zM493.5 329.5h2v2h-2zM498.5 318h2v2h-2zM490 308.5h2v2h-2zM497 321h2v2h-2zM511 314h2v2h-2zM492.5 307h2v2h-2zM509.5 308h2v2h-2zM504 315h2v2h-2zM493.5 325.5h2v2h-2zM515 302h2v2h-2zM491 317h2v2h-2zM525 313h2v2h-2zM524.5 315h2v2h-2zM519.5 309h2v2h-2zM505 333h2v2h-2zM511 303h2v2h-2zM488 317h2v2h-2zM506 304.5h2v2h-2zM496.5 300h2v2h-2zM509 315h2v2h-2zM516.5 314.5h2v2h-2zM494.5 304.5h2v2h-2zM504 309.5h2v2h-2zM519 313.5h2v2h-2zM492.5 335.5h2v2h-2zM528 308h2v2h-2zM515.5 292h2v2h-2zM519 321h2v2h-2zM501.5 307h2v2h-2zM490.5 343.5h2v2h-2zM499.5 319h2v2h-2zM495 329.5h2v2h-2zM496.5 314.5h2v2h-2zM496 319h2v2h-2zM504.5 313h2v2h-2zM488.5 325h2v2h-2zM504 315.5h2v2h-2zM523 323.5h2v2h-2zM532 304h2v2h-2zM507.5 299h2v2h-2zM516 304h2v2h-2zM520.5 297.5h2v2h-2zM522.5 302h2v2h-2zM510.5 303h2v2h-2zM511 312.5h2v2h-2zM533.5 298.5h2v2h-2zM523 304h2v2h-2zM515 303.5h2v2h-2zM512 305.5h2v2h-2zM520.5 297h2v2h-2zM517 305.5h2v2h-2zM516.5 304.5h2v2h-2zM521 299h2v2h-2zM529.5 306.5h2v2h-2zM516 308h2v2h-2zM507 304h2v2h-2zM504 301.5h2v2h-2zM508 299.5h2v2h-2zM504 300.5h2v2h-2zM528 282h2v2h-2zM516 290.5h2v2h-2zM513.5 304.5h2v2h-2zM522.5 297h2v2h-2zM536.5 301.5h2v2h-2zM516 307h2v2h-2zM543.5 292.5h2v2h-2zM515 299.5h2v2h-2zM518.5 300h2v2h-2zM515.5 294h2v2h-2zM522 308.5h2v2h-2zM519 301.5h2v2h-2zM515.5 314h2v2h-2zM516 296.5h2v2h-2zM518 306h2v2h-2zM519.5 292.5h2v2h-2zM516.5 307.5h2v2h-2zM524 305h2v2h-2zM520.5 289.5h2v2h-2zM521 290.5h2v2h-2zM524 302h2v2h-2zM512 299h2v2h-2zM523 303.5h2v2h-2zM504 294.5h2v2h-2zM520 296.5h2v2h-2zM516.5 292.5h2v2h-2zM526.5 296.5h2v2h-2zM525 298.5h2v2h-2zM523.5 302.5h2v2h-2zM520.5 311.5h2v2h-2zM519 299.5h2v2h-2zM518.5 294.5h2v2h-2zM532.5 306h2v2h-2zM537 295h2v2h-2zM520 293.5h2v2h-2zM524.5 295.5h2v2h-2zM523.5 301.5h2v2h-2z"/>
<path d="M460.4 248.3L521.3 408.4" stroke="#84329a" stroke-width="1.1" fill="none"/>
<path d="M424.5 366.4L577.3 292.6" stroke="#84329a" stroke-width="1.1" fill="none"/>
<path d="M420.8 396.4h2.6M435.9 409.4v3.5M420.8 389.3h2.6M442.6 409.4v3.5M420.8 384.3h2.6M447.4 409.4v3.5M420.8 380.4h2.6M451.1 409.4v3.5M420.8 377.3h2.6M454.1 409.4v3.5M420.8 374.6h2.6M456.7 409.4v3.5M420.8 372.3h2.6M458.9 409.4v3.5M420.8 370.2h2.6M460.9 409.4v3.5M420.8 356.3h2.6M474.1 409.4v3.5M420.8 349.3h2.6M480.9 409.4v3.5M420.8 344.3h2.6M485.6 409.4v3.5M420.8 340.4h2.6M489.3 409.4v3.5M420.8 337.2h2.6M492.4 409.4v3.5M420.8 334.5h2.6M494.9 409.4v3.5M420.8 332.2h2.6M497.1 409.4v3.5M420.8 330.2h2.6M499.1 409.4v3.5M420.8 316.3h2.6M512.4 409.4v3.5M420.8 309.3h2.6M519.1 409.4v3.5M420.8 304.3h2.6M523.9 409.4v3.5M420.8 300.4h2.6M527.6 409.4v3.5M420.8 297.2h2.6M530.6 409.4v3.5M420.8 294.5h2.6M533.2 409.4v3.5M420.8 292.2h2.6M535.4 409.4v3.5M420.8 290.2h2.6M537.3 409.4v3.5M420.8 276.3h2.6M550.6 409.4v3.5M420.8 269.2h2.6M557.3 409.4v3.5M420.8 264.2h2.6M562.1 409.4v3.5M420.8 260.3h2.6M565.8 409.4v3.5M420.8 257.2h2.6M568.8 409.4v3.5M420.8 254.5h2.6M571.4 409.4v3.5M420.8 252.2h2.6M573.6 409.4v3.5M420.8 250.1h2.6M575.6 409.4v3.5" stroke="#2a7f32" stroke-width="0.9" fill="none"/>
<path d="M419.4 408.4H424.4M424.4 409.4v5M419.4 368.4H424.4M462.6 409.4v5M419.4 328.4H424.4M500.8 409.4v5M419.4 288.3H424.4M539.1 409.4v5M419.4 248.3H424.4M577.3 409.4v5" stroke="#2a7f32" stroke-width="1" fill="none"/>
<path d="M424.4 247.8V409.4" stroke="#044804" stroke-width="2" fill="none"/>
<text x="419.4" y="411.4" text-anchor="end" class="tl" textLength="16" lengthAdjust="spacingAndGlyphs">10e0</text>
<text x="424.4" y="420.9" text-anchor="middle" class="tl" textLength="16" lengthAdjust="spacingAndGlyphs">10e0</text>
<text x="419.4" y="371.4" text-anchor="end" class="tl" textLength="16" lengthAdjust="spacingAndGlyphs">10e1</text>
<text x="462.6" y="420.9" text-anchor="middle" class="tl" textLength="16" lengthAdjust="spacingAndGlyphs">10e1</text>
<text x="419.4" y="331.4" text-anchor="end" class="tl" textLength="16" lengthAdjust="spacingAndGlyphs">10e2</text>
<text x="500.8" y="420.9" text-anchor="middle" class="tl" textLength="16" lengthAdjust="spacingAndGlyphs">10e2</text>
<text x="419.4" y="291.3" text-anchor="end" class="tl" textLength="16" lengthAdjust="spacingAndGlyphs">10e3</text>
<text x="539.1" y="420.9" text-anchor="middle" class="tl" textLength="16" lengthAdjust="spacingAndGlyphs">10e3</text>
<text x="419.4" y="251.3" text-anchor="end" class="tl" textLength="16" lengthAdjust="spacingAndGlyphs">10e4</text>
<text x="577.3" y="420.9" text-anchor="middle" class="tl" textLength="16" lengthAdjust="spacingAndGlyphs">10e4</text>
<text x="500.8" y="240.1" text-anchor="middle" class="tt" textLength="35.5" lengthAdjust="spacingAndGlyphs">Apoptosis</text>
<text x="500.8" y="430.9" text-anchor="middle" class="tt" textLength="70.5" lengthAdjust="spacingAndGlyphs">Annexin V-PE (PM1)</text>
<text transform="translate(391.9 327.8) rotate(-90)" text-anchor="middle" class="tt" textLength="48.5" lengthAdjust="spacingAndGlyphs">7-AAD (PM2)</text>
<text x="372" y="247.1" class="lt">e</text>
</svg>
</body></html>
